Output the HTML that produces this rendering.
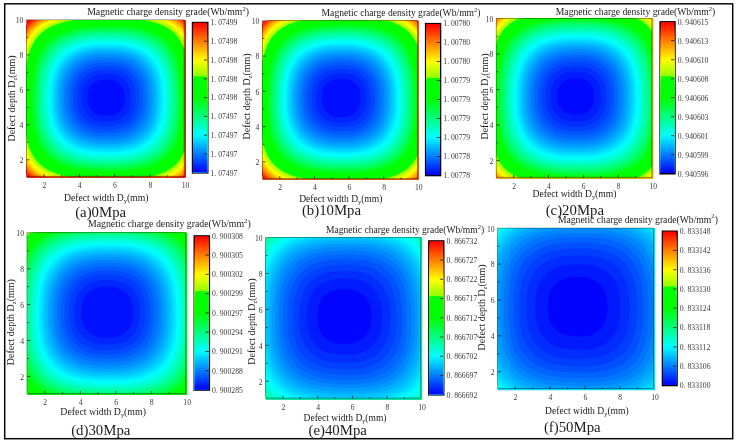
<!DOCTYPE html>
<html><head><meta charset="utf-8"><title>Magnetic charge density grade</title>
<style>html,body{margin:0;padding:0;background:#fff}svg{display:block;will-change:transform}text{font-family:'Liberation Serif','Noto Serif CJK SC',serif;fill:#1c1c1c}.t{fill:#3a3a3a}</style>
</head><body>
<svg width="738" height="444" viewBox="0 0 738 444">
<rect width="738" height="444" fill="#fff"/>
<defs>
<clipPath id="cpa"><rect x="26.40" y="19.90" width="158.80" height="157.40"/></clipPath>
<clipPath id="cpb"><rect x="262.40" y="20.80" width="156.00" height="158.70"/></clipPath>
<clipPath id="cpc"><rect x="496.30" y="18.50" width="156.60" height="159.80"/></clipPath>
<clipPath id="cpd"><rect x="27.00" y="232.80" width="159.80" height="161.60"/></clipPath>
<clipPath id="cpe"><rect x="265.70" y="237.50" width="156.00" height="161.70"/></clipPath>
<clipPath id="cpf"><rect x="497.70" y="228.20" width="157.00" height="161.40"/></clipPath>
</defs>
<rect x="4.7" y="3.8" width="728" height="434.9" fill="none" stroke="#0a0a0a" stroke-width="1.5"/>
<g clip-path="url(#cpa)">
<rect x="26.4" y="19.9" width="158.8" height="157.4" fill="#ff0300"/>
<g transform="translate(106.2,97.6)">
<path fill="#ff1500" d="M82.8,0 82.8,-4.5 82.8,-9 82.8,-13.6 82.8,-18.3 82.8,-23.1 82.8,-28 82.8,-33.1 82.8,-38.5 82.8,-44.2 82.8,-50.3 82.8,-56.8 82.8,-63.8 82.8,-71.5 79.4,-76.7 74.4,-80.5 68.2,-82.7 60.7,-82.7 53.8,-82.7 47.3,-82.7 41.2,-82.7 35.4,-82.7 29.9,-82.7 24.7,-82.7 19.5,-82.7 14.5,-82.7 9.6,-82.7 4.8,-82.7 0,-82.7 -4.8,-82.7 -9.6,-82.7 -14.5,-82.7 -19.5,-82.7 -24.7,-82.7 -29.9,-82.7 -35.4,-82.7 -41.2,-82.7 -47.3,-82.7 -53.8,-82.7 -60.7,-82.7 -67.4,-81.7 -72.7,-78.7 -77.4,-74.8 -81.4,-70.3 -82.8,-63.8 -82.8,-56.8 -82.8,-50.3 -82.8,-44.2 -82.8,-38.5 -82.8,-33.1 -82.8,-28 -82.8,-23.1 -82.8,-18.3 -82.8,-13.6 -82.8,-9 -82.8,-4.5 -82.8,0 -82.8,4.5 -82.8,9 -82.8,13.6 -82.8,18.3 -82.8,23.1 -82.8,28 -82.8,33.1 -82.8,38.5 -82.8,44.2 -82.8,50.3 -82.8,56.8 -82.8,63.8 -82.8,71.5 -79.6,77 -74.9,81 -68.2,82.7 -60.7,82.7 -53.8,82.7 -47.3,82.7 -41.2,82.7 -35.4,82.7 -29.9,82.7 -24.7,82.7 -19.5,82.7 -14.5,82.7 -9.6,82.7 -4.8,82.7 0,82.7 4.8,82.7 9.6,82.7 14.5,82.7 19.5,82.7 24.7,82.7 29.9,82.7 35.4,82.7 41.2,82.7 47.3,82.7 53.8,82.7 60.7,82.7 68.2,82.7 76.5,82.7 81.9,79.1 82.8,71.5 82.8,63.8 82.8,56.8 82.8,50.3 82.8,44.2 82.8,38.5 82.8,33.1 82.8,28 82.8,23.1 82.8,18.3 82.8,13.6 82.8,9 82.8,4.5Z"/>
<path fill="#ff2700" d="M82.8,0 82.8,-4.5 82.8,-9 82.8,-13.6 82.8,-18.3 82.8,-23.1 82.8,-28 82.8,-33.1 82.8,-38.5 82.8,-44.2 82.8,-50.3 82.8,-56.8 82.8,-63.8 82.8,-71.5 78.9,-76.2 74,-80 68.2,-82.7 60.7,-82.7 53.8,-82.7 47.3,-82.7 41.2,-82.7 35.4,-82.7 29.9,-82.7 24.7,-82.7 19.5,-82.7 14.5,-82.7 9.6,-82.7 4.8,-82.7 0,-82.7 -4.8,-82.7 -9.6,-82.7 -14.5,-82.7 -19.5,-82.7 -24.7,-82.7 -29.9,-82.7 -35.4,-82.7 -41.2,-82.7 -47.3,-82.7 -53.8,-82.7 -60.7,-82.7 -67,-81.2 -72.3,-78.1 -76.9,-74.3 -80.9,-69.8 -82.8,-63.8 -82.8,-56.8 -82.8,-50.3 -82.8,-44.2 -82.8,-38.5 -82.8,-33.1 -82.8,-28 -82.8,-23.1 -82.8,-18.3 -82.8,-13.6 -82.8,-9 -82.8,-4.5 -82.8,0 -82.8,4.5 -82.8,9 -82.8,13.6 -82.8,18.3 -82.8,23.1 -82.8,28 -82.8,33.1 -82.8,38.5 -82.8,44.2 -82.8,50.3 -82.8,56.8 -82.8,63.8 -82.8,71.5 -79.1,76.4 -74.4,80.4 -68.2,82.7 -60.7,82.7 -53.8,82.7 -47.3,82.7 -41.2,82.7 -35.4,82.7 -29.9,82.7 -24.7,82.7 -19.5,82.7 -14.5,82.7 -9.6,82.7 -4.8,82.7 0,82.7 4.8,82.7 9.6,82.7 14.5,82.7 19.5,82.7 24.7,82.7 29.9,82.7 35.4,82.7 41.2,82.7 47.3,82.7 53.8,82.7 60.7,82.7 68.2,82.7 76.3,82.6 81.3,78.6 82.8,71.5 82.8,63.8 82.8,56.8 82.8,50.3 82.8,44.2 82.8,38.5 82.8,33.1 82.8,28 82.8,23.1 82.8,18.3 82.8,13.6 82.8,9 82.8,4.5Z"/>
<path fill="#ff3900" d="M82.8,0 82.8,-4.5 82.8,-9 82.8,-13.6 82.8,-18.3 82.8,-23.1 82.8,-28 82.8,-33.1 82.8,-38.5 82.8,-44.2 82.8,-50.3 82.8,-56.8 82.8,-63.8 82.4,-71.2 78.3,-75.7 73.5,-79.4 68,-82.4 60.7,-82.7 53.8,-82.7 47.3,-82.7 41.2,-82.7 35.4,-82.7 29.9,-82.7 24.7,-82.7 19.5,-82.7 14.5,-82.7 9.6,-82.7 4.8,-82.7 0,-82.7 -4.8,-82.7 -9.6,-82.7 -14.5,-82.7 -19.5,-82.7 -24.7,-82.7 -29.9,-82.7 -35.4,-82.7 -41.2,-82.7 -47.3,-82.7 -53.8,-82.7 -60.7,-82.7 -66.6,-80.6 -71.8,-77.6 -76.4,-73.8 -80.3,-69.4 -82.8,-63.8 -82.8,-56.8 -82.8,-50.3 -82.8,-44.2 -82.8,-38.5 -82.8,-33.1 -82.8,-28 -82.8,-23.1 -82.8,-18.3 -82.8,-13.6 -82.8,-9 -82.8,-4.5 -82.8,0 -82.8,4.5 -82.8,9 -82.8,13.6 -82.8,18.3 -82.8,23.1 -82.8,28 -82.8,33.1 -82.8,38.5 -82.8,44.2 -82.8,50.3 -82.8,56.8 -82.8,63.8 -82.4,71.2 -78.6,75.9 -73.9,79.9 -68.2,82.7 -60.7,82.7 -53.8,82.7 -47.3,82.7 -41.2,82.7 -35.4,82.7 -29.9,82.7 -24.7,82.7 -19.5,82.7 -14.5,82.7 -9.6,82.7 -4.8,82.7 0,82.7 4.8,82.7 9.6,82.7 14.5,82.7 19.5,82.7 24.7,82.7 29.9,82.7 35.4,82.7 41.2,82.7 47.3,82.7 53.8,82.7 60.7,82.7 68.2,82.7 75.8,82 80.8,78.1 82.8,71.5 82.8,63.8 82.8,56.8 82.8,50.3 82.8,44.2 82.8,38.5 82.8,33.1 82.8,28 82.8,23.1 82.8,18.3 82.8,13.6 82.8,9 82.8,4.5Z"/>
<path fill="#ff4c00" d="M82.8,0 82.8,-4.7 82.8,-9.4 82.8,-14.1 82.8,-19 82.8,-24 82.8,-29.1 82.8,-34.5 82.8,-40.2 82.8,-46.2 82.8,-52.6 82.8,-59.6 82.8,-67.1 80,-72.9 75.4,-77.2 70,-80.6 63.7,-82.7 56.3,-82.7 49.4,-82.7 43,-82.7 36.9,-82.7 31.1,-82.7 25.6,-82.7 20.3,-82.7 15.1,-82.7 10,-82.7 5,-82.7 0,-82.7 -5,-82.7 -10,-82.7 -15.1,-82.7 -20.3,-82.7 -25.6,-82.7 -31.1,-82.7 -36.9,-82.7 -43,-82.7 -49.4,-82.7 -56.3,-82.7 -62.8,-81.6 -68.5,-78.8 -73.6,-75.4 -78,-71.1 -81.6,-66.2 -82.8,-59.6 -82.8,-52.6 -82.8,-46.2 -82.8,-40.2 -82.8,-34.5 -82.8,-29.1 -82.8,-24 -82.8,-19 -82.8,-14.1 -82.8,-9.4 -82.8,-4.7 -82.8,0 -82.8,4.7 -82.8,9.4 -82.8,14.1 -82.8,19 -82.8,24 -82.8,29.1 -82.8,34.5 -82.8,40.2 -82.8,46.2 -82.8,52.6 -82.8,59.6 -82.8,67.1 -80.1,73 -75.7,77.5 -70.5,81.2 -63.7,82.7 -56.3,82.7 -49.4,82.7 -43,82.7 -36.9,82.7 -31.1,82.7 -25.6,82.7 -20.3,82.7 -15.1,82.7 -10,82.7 -5,82.7 0,82.7 5,82.7 10,82.7 15.1,82.7 20.3,82.7 25.6,82.7 31.1,82.7 36.9,82.7 43,82.7 49.4,82.7 56.3,82.7 63.7,82.7 71.8,82.7 77.8,79.7 82.4,75.1 82.8,67.1 82.8,59.6 82.8,52.6 82.8,46.2 82.8,40.2 82.8,34.5 82.8,29.1 82.8,24 82.8,19 82.8,14.1 82.8,9.4 82.8,4.7Z"/>
<path fill="#ff5e00" d="M82.8,0 82.8,-4.7 82.8,-9.4 82.8,-14.1 82.8,-19 82.8,-24 82.8,-29.1 82.8,-34.5 82.8,-40.2 82.8,-46.2 82.8,-52.6 82.8,-59.6 82.8,-67.1 79.4,-72.4 74.8,-76.6 69.5,-80 63.6,-82.6 56.3,-82.7 49.4,-82.7 43,-82.7 36.9,-82.7 31.1,-82.7 25.6,-82.7 20.3,-82.7 15.1,-82.7 10,-82.7 5,-82.7 0,-82.7 -5,-82.7 -10,-82.7 -15.1,-82.7 -20.3,-82.7 -25.6,-82.7 -31.1,-82.7 -36.9,-82.7 -43,-82.7 -49.4,-82.7 -56.3,-82.7 -62.4,-81 -68,-78.3 -73,-74.8 -77.4,-70.6 -81,-65.7 -82.8,-59.6 -82.8,-52.6 -82.8,-46.2 -82.8,-40.2 -82.8,-34.5 -82.8,-29.1 -82.8,-24 -82.8,-19 -82.8,-14.1 -82.8,-9.4 -82.8,-4.7 -82.8,0 -82.8,4.7 -82.8,9.4 -82.8,14.1 -82.8,19 -82.8,24 -82.8,29.1 -82.8,34.5 -82.8,40.2 -82.8,46.2 -82.8,52.6 -82.8,59.6 -82.8,67.1 -79.5,72.5 -75.2,77 -70,80.6 -63.7,82.7 -56.3,82.7 -49.4,82.7 -43,82.7 -36.9,82.7 -31.1,82.7 -25.6,82.7 -20.3,82.7 -15.1,82.7 -10,82.7 -5,82.7 0,82.7 5,82.7 10,82.7 15.1,82.7 20.3,82.7 25.6,82.7 31.1,82.7 36.9,82.7 43,82.7 49.4,82.7 56.3,82.7 63.7,82.7 71.8,82.6 77.2,79.1 81.8,74.6 82.8,67.1 82.8,59.6 82.8,52.6 82.8,46.2 82.8,40.2 82.8,34.5 82.8,29.1 82.8,24 82.8,19 82.8,14.1 82.8,9.4 82.8,4.7Z"/>
<path fill="#ff7000" d="M82.8,0 82.8,-4.7 82.8,-9.4 82.8,-14.1 82.8,-19 82.8,-24 82.8,-29.1 82.8,-34.5 82.8,-40.2 82.8,-46.2 82.8,-52.6 82.8,-59.6 82.6,-67 78.9,-71.9 74.3,-76.1 69,-79.5 63.2,-82 56.3,-82.7 49.4,-82.7 43,-82.7 36.9,-82.7 31.1,-82.7 25.6,-82.7 20.3,-82.7 15.1,-82.7 10,-82.7 5,-82.7 0,-82.7 -5,-82.7 -10,-82.7 -15.1,-82.7 -20.3,-82.7 -25.6,-82.7 -31.1,-82.7 -36.9,-82.7 -43,-82.7 -49.4,-82.7 -56.2,-82.5 -62,-80.4 -67.5,-77.7 -72.5,-74.3 -76.9,-70.1 -80.4,-65.2 -82.8,-59.6 -82.8,-52.6 -82.8,-46.2 -82.8,-40.2 -82.8,-34.5 -82.8,-29.1 -82.8,-24 -82.8,-19 -82.8,-14.1 -82.8,-9.4 -82.8,-4.7 -82.8,0 -82.8,4.7 -82.8,9.4 -82.8,14.1 -82.8,19 -82.8,24 -82.8,29.1 -82.8,34.5 -82.8,40.2 -82.8,46.2 -82.8,52.6 -82.8,59.6 -82.4,66.9 -79,72 -74.6,76.4 -69.5,80.1 -63.7,82.7 -56.3,82.7 -49.4,82.7 -43,82.7 -36.9,82.7 -31.1,82.7 -25.6,82.7 -20.3,82.7 -15.1,82.7 -10,82.7 -5,82.7 0,82.7 5,82.7 10,82.7 15.1,82.7 20.3,82.7 25.6,82.7 31.1,82.7 36.9,82.7 43,82.7 49.4,82.7 56.3,82.7 63.7,82.7 71.2,82 76.6,78.5 81.2,74.1 82.8,67.1 82.8,59.6 82.8,52.6 82.8,46.2 82.8,40.2 82.8,34.5 82.8,29.1 82.8,24 82.8,19 82.8,14.1 82.8,9.4 82.8,4.7Z"/>
<path fill="#ff8200" d="M82.8,0 82.8,-4.7 82.8,-9.4 82.8,-14.1 82.8,-19 82.8,-24 82.8,-29.1 82.8,-34.5 82.8,-40.2 82.8,-46.2 82.8,-52.6 82.8,-59.6 82,-66.5 78.3,-71.4 73.7,-75.5 68.5,-78.9 62.7,-81.4 56.3,-82.7 49.4,-82.7 43,-82.7 36.9,-82.7 31.1,-82.7 25.6,-82.7 20.3,-82.7 15.1,-82.7 10,-82.7 5,-82.7 0,-82.7 -5,-82.7 -10,-82.7 -15.1,-82.7 -20.3,-82.7 -25.6,-82.7 -31.1,-82.7 -36.9,-82.7 -43,-82.7 -49.4,-82.7 -55.8,-82 -61.5,-79.9 -67,-77.1 -72,-73.7 -76.3,-69.6 -79.8,-64.7 -82.7,-59.5 -82.8,-52.6 -82.8,-46.2 -82.8,-40.2 -82.8,-34.5 -82.8,-29.1 -82.8,-24 -82.8,-19 -82.8,-14.1 -82.8,-9.4 -82.8,-4.7 -82.8,0 -82.8,4.7 -82.8,9.4 -82.8,14.1 -82.8,19 -82.8,24 -82.8,29.1 -82.8,34.5 -82.8,40.2 -82.8,46.2 -82.8,52.6 -82.8,59.6 -81.8,66.4 -78.4,71.4 -74.1,75.9 -69,79.5 -63.4,82.3 -56.3,82.7 -49.4,82.7 -43,82.7 -36.9,82.7 -31.1,82.7 -25.6,82.7 -20.3,82.7 -15.1,82.7 -10,82.7 -5,82.7 0,82.7 5,82.7 10,82.7 15.1,82.7 20.3,82.7 25.6,82.7 31.1,82.7 36.9,82.7 43,82.7 49.4,82.7 56.3,82.7 63.7,82.7 70.7,81.4 76.1,77.9 80.6,73.5 82.8,67.1 82.8,59.6 82.8,52.6 82.8,46.2 82.8,40.2 82.8,34.5 82.8,29.1 82.8,24 82.8,19 82.8,14.1 82.8,9.4 82.8,4.7Z"/>
<path fill="#ff9400" d="M82.8,0 82.8,-4.7 82.8,-9.4 82.8,-14.1 82.8,-19 82.8,-24 82.8,-29.1 82.8,-34.5 82.8,-40.2 82.8,-46.2 82.8,-52.6 82.8,-59.6 81.4,-66 77.7,-70.8 73.1,-74.9 68,-78.3 62.3,-80.8 56.3,-82.7 49.4,-82.7 43,-82.7 36.9,-82.7 31.1,-82.7 25.6,-82.7 20.3,-82.7 15.1,-82.7 10,-82.7 5,-82.7 0,-82.7 -5,-82.7 -10,-82.7 -15.1,-82.7 -20.3,-82.7 -25.6,-82.7 -31.1,-82.7 -36.9,-82.7 -43,-82.7 -49.4,-82.7 -55.4,-81.4 -61.1,-79.3 -66.5,-76.6 -71.4,-73.1 -75.7,-69 -79.2,-64.3 -82.1,-59 -82.8,-52.6 -82.8,-46.2 -82.8,-40.2 -82.8,-34.5 -82.8,-29.1 -82.8,-24 -82.8,-19 -82.8,-14.1 -82.8,-9.4 -82.8,-4.7 -82.8,0 -82.8,4.7 -82.8,9.4 -82.8,14.1 -82.8,19 -82.8,24 -82.8,29.1 -82.8,34.5 -82.8,40.2 -82.8,46.2 -82.8,52.6 -82.8,59.6 -81.2,65.9 -77.8,70.9 -73.5,75.3 -68.5,78.9 -62.9,81.7 -56.3,82.7 -49.4,82.7 -43,82.7 -36.9,82.7 -31.1,82.7 -25.6,82.7 -20.3,82.7 -15.1,82.7 -10,82.7 -5,82.7 0,82.7 5,82.7 10,82.7 15.1,82.7 20.3,82.7 25.6,82.7 31.1,82.7 36.9,82.7 43,82.7 49.4,82.7 56.3,82.7 63.7,82.7 70.2,80.8 75.5,77.3 80,72.9 82.8,67.1 82.8,59.6 82.8,52.6 82.8,46.2 82.8,40.2 82.8,34.5 82.8,29.1 82.8,24 82.8,19 82.8,14.1 82.8,9.4 82.8,4.7Z"/>
<path fill="#ffa700" d="M82.8,0 82.8,-4.7 82.8,-9.4 82.8,-14.1 82.8,-19 82.8,-24 82.8,-29.1 82.8,-34.5 82.8,-40.2 82.8,-46.2 82.8,-52.6 82.8,-59.6 80.7,-65.5 77,-70.2 72.6,-74.3 67.4,-77.6 61.8,-80.2 55.9,-82.2 49.4,-82.7 43,-82.7 36.9,-82.7 31.1,-82.7 25.6,-82.7 20.3,-82.7 15.1,-82.7 10,-82.7 5,-82.7 0,-82.7 -5,-82.7 -10,-82.7 -15.1,-82.7 -20.3,-82.7 -25.6,-82.7 -31.1,-82.7 -36.9,-82.7 -43,-82.7 -49.2,-82.4 -55,-80.8 -60.6,-78.7 -66,-76 -70.8,-72.6 -75.1,-68.5 -78.6,-63.8 -81.4,-58.6 -82.8,-52.6 -82.8,-46.2 -82.8,-40.2 -82.8,-34.5 -82.8,-29.1 -82.8,-24 -82.8,-19 -82.8,-14.1 -82.8,-9.4 -82.8,-4.7 -82.8,0 -82.8,4.7 -82.8,9.4 -82.8,14.1 -82.8,19 -82.8,24 -82.8,29.1 -82.8,34.5 -82.8,40.2 -82.8,46.2 -82.8,52.6 -82.8,59.6 -80.6,65.3 -77.1,70.3 -72.9,74.7 -67.9,78.2 -62.4,81 -56.3,82.7 -49.4,82.7 -43,82.7 -36.9,82.7 -31.1,82.7 -25.6,82.7 -20.3,82.7 -15.1,82.7 -10,82.7 -5,82.7 0,82.7 5,82.7 10,82.7 15.1,82.7 20.3,82.7 25.6,82.7 31.1,82.7 36.9,82.7 43,82.7 49.4,82.7 56.3,82.7 63.7,82.7 69.6,80.2 74.9,76.7 79.4,72.4 82.8,67.1 82.8,59.6 82.8,52.6 82.8,46.2 82.8,40.2 82.8,34.5 82.8,29.1 82.8,24 82.8,19 82.8,14.1 82.8,9.4 82.8,4.7Z"/>
<path fill="#ffb900" d="M82.8,0 82.8,-4.7 82.8,-9.4 82.8,-14.1 82.8,-19 82.8,-24 82.8,-29.1 82.8,-34.5 82.8,-40.2 82.8,-46.2 82.8,-52.6 82.8,-59.6 80.1,-64.9 76.4,-69.7 72,-73.7 66.9,-77 61.3,-79.6 55.5,-81.5 49.4,-82.7 43,-82.7 36.9,-82.7 31.1,-82.7 25.6,-82.7 20.3,-82.7 15.1,-82.7 10,-82.7 5,-82.7 0,-82.7 -5,-82.7 -10,-82.7 -15.1,-82.7 -20.3,-82.7 -25.6,-82.7 -31.1,-82.7 -36.9,-82.7 -43,-82.7 -48.8,-81.8 -54.5,-80.1 -60.1,-78 -65.4,-75.4 -70.3,-72 -74.5,-67.9 -78,-63.2 -80.8,-58.1 -82.8,-52.6 -82.8,-46.2 -82.8,-40.2 -82.8,-34.5 -82.8,-29.1 -82.8,-24 -82.8,-19 -82.8,-14.1 -82.8,-9.4 -82.8,-4.7 -82.8,0 -82.8,4.7 -82.8,9.4 -82.8,14.1 -82.8,19 -82.8,24 -82.8,29.1 -82.8,34.5 -82.8,40.2 -82.8,46.2 -82.8,52.6 -82.6,59.4 -79.9,64.8 -76.5,69.8 -72.3,74.1 -67.4,77.6 -61.9,80.4 -56.2,82.6 -49.4,82.7 -43,82.7 -36.9,82.7 -31.1,82.7 -25.6,82.7 -20.3,82.7 -15.1,82.7 -10,82.7 -5,82.7 0,82.7 5,82.7 10,82.7 15.1,82.7 20.3,82.7 25.6,82.7 31.1,82.7 36.9,82.7 43,82.7 49.4,82.7 56.3,82.7 63.3,82.2 69.1,79.5 74.3,76.1 78.7,71.8 82.3,66.7 82.8,59.6 82.8,52.6 82.8,46.2 82.8,40.2 82.8,34.5 82.8,29.1 82.8,24 82.8,19 82.8,14.1 82.8,9.4 82.8,4.7Z"/>
<path fill="#ffcb00" d="M82.8,0 82.8,-4.7 82.8,-9.4 82.8,-14.1 82.8,-19 82.8,-24 82.8,-29.1 82.8,-34.5 82.8,-40.2 82.8,-46.2 82.8,-52.6 82.3,-59.2 79.4,-64.4 75.8,-69.1 71.4,-73.1 66.3,-76.4 60.8,-79 55.1,-80.9 49.2,-82.4 43,-82.7 36.9,-82.7 31.1,-82.7 25.6,-82.7 20.3,-82.7 15.1,-82.7 10,-82.7 5,-82.7 0,-82.7 -5,-82.7 -10,-82.7 -15.1,-82.7 -20.3,-82.7 -25.6,-82.7 -31.1,-82.7 -36.9,-82.7 -42.8,-82.4 -48.5,-81.1 -54.1,-79.5 -59.6,-77.4 -64.9,-74.7 -69.7,-71.4 -73.9,-67.3 -77.3,-62.7 -80.1,-57.7 -82.3,-52.3 -82.8,-46.2 -82.8,-40.2 -82.8,-34.5 -82.8,-29.1 -82.8,-24 -82.8,-19 -82.8,-14.1 -82.8,-9.4 -82.8,-4.7 -82.8,0 -82.8,4.7 -82.8,9.4 -82.8,14.1 -82.8,19 -82.8,24 -82.8,29.1 -82.8,34.5 -82.8,40.2 -82.8,46.2 -82.8,52.6 -81.9,58.9 -79.3,64.3 -75.9,69.2 -71.7,73.4 -66.8,77 -61.4,79.8 -55.8,81.9 -49.4,82.7 -43,82.7 -36.9,82.7 -31.1,82.7 -25.6,82.7 -20.3,82.7 -15.1,82.7 -10,82.7 -5,82.7 0,82.7 5,82.7 10,82.7 15.1,82.7 20.3,82.7 25.6,82.7 31.1,82.7 36.9,82.7 43,82.7 49.4,82.7 56.3,82.7 62.8,81.5 68.5,78.9 73.6,75.4 78,71.1 81.6,66.2 82.8,59.6 82.8,52.6 82.8,46.2 82.8,40.2 82.8,34.5 82.8,29.1 82.8,24 82.8,19 82.8,14.1 82.8,9.4 82.8,4.7Z"/>
<path fill="#ffdd00" d="M82.8,0 82.8,-4.8 82.8,-9.7 82.8,-14.7 82.8,-19.7 82.8,-24.9 82.8,-30.3 82.8,-36 82.8,-42 82.8,-48.4 82.8,-55.2 80.5,-60.9 77.2,-66.1 73,-70.6 68.1,-74.3 62.7,-77.3 56.8,-79.6 50.8,-81.3 44.8,-82.5 38.5,-82.7 32.5,-82.7 26.7,-82.7 21.1,-82.7 15.7,-82.7 10.4,-82.7 5.2,-82.7 0,-82.7 -5.2,-82.7 -10.4,-82.7 -15.7,-82.7 -21.1,-82.7 -26.7,-82.7 -32.5,-82.7 -38.4,-82.4 -44.2,-81.4 -50,-80 -55.8,-78.1 -61.4,-75.7 -66.6,-72.6 -71.2,-68.8 -75.2,-64.4 -78.4,-59.3 -80.9,-54 -82.8,-48.4 -82.8,-42 -82.8,-36 -82.8,-30.3 -82.8,-24.9 -82.8,-19.7 -82.8,-14.7 -82.8,-9.7 -82.8,-4.8 -82.8,0 -82.8,4.8 -82.8,9.7 -82.8,14.7 -82.8,19.7 -82.8,24.9 -82.8,30.3 -82.8,36 -82.8,42 -82.8,48.4 -82.5,55.1 -80.2,60.7 -77.1,66 -73.2,70.8 -68.5,74.8 -63.2,78 -57.5,80.5 -51.5,82.4 -44.9,82.7 -38.5,82.7 -32.5,82.7 -26.7,82.7 -21.1,82.7 -15.7,82.7 -10.4,82.7 -5.2,82.7 0,82.7 5.2,82.7 10.4,82.7 15.7,82.7 21.1,82.7 26.7,82.7 32.5,82.7 38.5,82.7 44.9,82.7 51.7,82.7 58.7,82.2 64.7,79.8 70.3,76.7 75.3,72.7 79.4,67.9 82.6,62.5 82.8,55.2 82.8,48.4 82.8,42 82.8,36 82.8,30.3 82.8,24.9 82.8,19.7 82.8,14.7 82.8,9.7 82.8,4.8Z"/>
<path fill="#fff000" d="M82.8,0 82.8,-4.8 82.8,-9.7 82.8,-14.7 82.8,-19.7 82.8,-24.9 82.8,-30.3 82.8,-36 82.8,-42 82.8,-48.4 82.4,-54.9 79.8,-60.4 76.5,-65.5 72.4,-69.9 67.5,-73.7 62.1,-76.6 56.3,-78.9 50.4,-80.6 44.4,-81.8 38.5,-82.7 32.5,-82.7 26.7,-82.7 21.1,-82.7 15.7,-82.7 10.4,-82.7 5.2,-82.7 0,-82.7 -5.2,-82.7 -10.4,-82.7 -15.7,-82.7 -21.1,-82.7 -26.7,-82.7 -32.4,-82.6 -38.1,-81.8 -43.8,-80.7 -49.6,-79.3 -55.3,-77.5 -60.9,-75.1 -66,-72 -70.6,-68.2 -74.5,-63.8 -77.7,-58.8 -80.2,-53.5 -82.1,-48 -82.8,-42 -82.8,-36 -82.8,-30.3 -82.8,-24.9 -82.8,-19.7 -82.8,-14.7 -82.8,-9.7 -82.8,-4.8 -82.8,0 -82.8,4.8 -82.8,9.7 -82.8,14.7 -82.8,19.7 -82.8,24.9 -82.8,30.3 -82.8,36 -82.8,42 -82.8,48.4 -81.8,54.6 -79.5,60.2 -76.4,65.4 -72.6,70.1 -67.9,74.1 -62.7,77.3 -57,79.8 -51.1,81.7 -44.9,82.7 -38.5,82.7 -32.5,82.7 -26.7,82.7 -21.1,82.7 -15.7,82.7 -10.4,82.7 -5.2,82.7 0,82.7 5.2,82.7 10.4,82.7 15.7,82.7 21.1,82.7 26.7,82.7 32.5,82.7 38.5,82.7 44.9,82.7 51.7,82.7 58.2,81.5 64.1,79.1 69.7,76 74.6,72.1 78.7,67.3 81.8,62 82.8,55.2 82.8,48.4 82.8,42 82.8,36 82.8,30.3 82.8,24.9 82.8,19.7 82.8,14.7 82.8,9.7 82.8,4.8Z"/>
<path fill="#fcff00" d="M82.8,0 82.8,-4.8 82.8,-9.7 82.8,-14.7 82.8,-19.7 82.8,-24.9 82.8,-30.3 82.8,-36 82.8,-42 82.8,-48.4 81.7,-54.5 79.1,-59.9 75.8,-64.9 71.7,-69.3 66.9,-73 61.6,-75.9 55.9,-78.2 50,-79.9 44.1,-81.2 38.2,-82.1 32.5,-82.7 26.7,-82.7 21.1,-82.7 15.7,-82.7 10.4,-82.7 5.2,-82.7 0,-82.7 -5.2,-82.7 -10.4,-82.7 -15.7,-82.7 -21.1,-82.7 -26.6,-82.5 -32.2,-81.9 -37.8,-81.1 -43.5,-80.1 -49.2,-78.7 -54.9,-76.8 -60.3,-74.4 -65.4,-71.3 -70,-67.6 -73.8,-63.2 -77,-58.3 -79.5,-53 -81.4,-47.6 -82.8,-42 -82.8,-36 -82.8,-30.3 -82.8,-24.9 -82.8,-19.7 -82.8,-14.7 -82.8,-9.7 -82.8,-4.8 -82.8,0 -82.8,4.8 -82.8,9.7 -82.8,14.7 -82.8,19.7 -82.8,24.9 -82.8,30.3 -82.8,36 -82.8,42 -82.8,48.4 -81.1,54.1 -78.8,59.7 -75.7,64.8 -71.9,69.5 -67.3,73.4 -62.1,76.6 -56.5,79.1 -50.7,81 -44.8,82.5 -38.5,82.7 -32.5,82.7 -26.7,82.7 -21.1,82.7 -15.7,82.7 -10.4,82.7 -5.2,82.7 0,82.7 5.2,82.7 10.4,82.7 15.7,82.7 21.1,82.7 26.7,82.7 32.5,82.7 38.5,82.7 44.9,82.7 51.6,82.5 57.7,80.7 63.6,78.4 69.1,75.3 73.9,71.4 77.9,66.7 81.1,61.4 82.8,55.2 82.8,48.4 82.8,42 82.8,36 82.8,30.3 82.8,24.9 82.8,19.7 82.8,14.7 82.8,9.7 82.8,4.8Z"/>
<path fill="#eaff00" d="M82.8,0 82.8,-4.8 82.8,-9.7 82.8,-14.7 82.8,-19.7 82.8,-24.9 82.8,-30.3 82.8,-36 82.8,-42 82.8,-48.4 80.9,-54 78.3,-59.3 75.1,-64.3 71,-68.6 66.3,-72.3 61,-75.2 55.4,-77.5 49.5,-79.2 43.7,-80.5 37.9,-81.4 32.2,-82.1 26.6,-82.5 21.1,-82.7 15.7,-82.7 10.4,-82.7 5.2,-82.7 0,-82.7 -5.2,-82.7 -10.4,-82.7 -15.7,-82.6 -21,-82.3 -26.4,-81.9 -31.9,-81.3 -37.5,-80.5 -43.1,-79.4 -48.8,-78 -54.4,-76.1 -59.8,-73.7 -64.8,-70.7 -69.3,-67 -73.1,-62.6 -76.3,-57.8 -78.8,-52.6 -80.7,-47.2 -82.2,-41.7 -82.8,-36 -82.8,-30.3 -82.8,-24.9 -82.8,-19.7 -82.8,-14.7 -82.8,-9.7 -82.8,-4.8 -82.8,0 -82.8,4.8 -82.8,9.7 -82.8,14.7 -82.8,19.7 -82.8,24.9 -82.8,30.3 -82.8,36 -82.8,42 -82.2,48 -80.4,53.6 -78.1,59.1 -75,64.2 -71.2,68.8 -66.7,72.7 -61.5,75.9 -56,78.4 -50.2,80.3 -44.4,81.8 -38.5,82.7 -32.5,82.7 -26.7,82.7 -21.1,82.7 -15.7,82.7 -10.4,82.7 -5.2,82.7 0,82.7 5.2,82.7 10.4,82.7 15.7,82.7 21.1,82.7 26.7,82.7 32.5,82.7 38.5,82.7 44.9,82.7 51.1,81.8 57.2,80 63,77.7 68.4,74.6 73.2,70.7 77.2,66.1 80.4,60.8 82.8,55.2 82.8,48.4 82.8,42 82.8,36 82.8,30.3 82.8,24.9 82.8,19.7 82.8,14.7 82.8,9.7 82.8,4.8Z"/>
<path fill="#d8ff00" d="M82.8,0 82.8,-4.8 82.8,-9.7 82.8,-14.7 82.8,-19.7 82.8,-24.9 82.8,-30.3 82.8,-36 82.8,-42 82.2,-48 80.2,-53.5 77.6,-58.7 74.3,-63.6 70.3,-68 65.6,-71.6 60.4,-74.5 54.8,-76.8 49.1,-78.5 43.3,-79.8 37.6,-80.7 31.9,-81.4 26.4,-81.8 20.9,-82.1 15.6,-82.3 10.3,-82.4 5.2,-82.4 0,-82.3 -5.1,-82.2 -10.3,-82.1 -15.5,-81.9 -20.8,-81.6 -26.2,-81.2 -31.6,-80.6 -37.2,-79.8 -42.7,-78.7 -48.3,-77.3 -53.9,-75.4 -59.2,-73 -64.2,-70 -68.6,-66.3 -72.4,-62 -75.6,-57.2 -78.1,-52.1 -80,-46.7 -81.5,-41.3 -82.6,-35.9 -82.8,-30.3 -82.8,-24.9 -82.8,-19.7 -82.8,-14.7 -82.8,-9.7 -82.8,-4.8 -82.8,0 -82.8,4.8 -82.8,9.7 -82.8,14.7 -82.8,19.7 -82.8,24.9 -82.8,30.3 -82.8,36 -82.7,42 -81.4,47.6 -79.7,53.1 -77.3,58.5 -74.3,63.6 -70.5,68.1 -66,72 -61,75.2 -55.5,77.7 -49.8,79.6 -44,81.1 -38.3,82.2 -32.5,82.7 -26.7,82.7 -21.1,82.7 -15.7,82.7 -10.4,82.7 -5.2,82.7 0,82.7 5.2,82.7 10.4,82.7 15.7,82.7 21.1,82.7 26.7,82.7 32.5,82.7 38.5,82.7 44.7,82.3 50.7,81 56.6,79.3 62.4,76.9 67.7,73.9 72.5,70 76.4,65.4 79.6,60.3 82,54.7 82.8,48.4 82.8,42 82.8,36 82.8,30.3 82.8,24.9 82.8,19.7 82.8,14.7 82.8,9.7 82.8,4.8Z"/>
<path fill="#c6ff00" d="M82.8,0 82.8,-4.8 82.8,-9.7 82.8,-14.7 82.8,-19.7 82.8,-24.9 82.8,-30.3 82.8,-36 82.8,-42 81.4,-47.6 79.4,-53 76.8,-58.2 73.6,-63 69.6,-67.3 65,-70.9 59.8,-73.8 54.3,-76 48.6,-77.8 42.9,-79 37.3,-80 31.7,-80.7 26.2,-81.1 20.8,-81.4 15.5,-81.6 10.3,-81.7 5.1,-81.7 0,-81.6 -5.1,-81.5 -10.2,-81.4 -15.4,-81.2 -20.6,-80.9 -26,-80.5 -31.4,-79.9 -36.8,-79.1 -42.4,-78 -47.9,-76.6 -53.3,-74.7 -58.6,-72.3 -63.5,-69.3 -67.9,-65.6 -71.7,-61.4 -74.8,-56.7 -77.3,-51.6 -79.3,-46.3 -80.7,-41 -81.9,-35.6 -82.7,-30.3 -82.8,-24.9 -82.8,-19.7 -82.8,-14.7 -82.8,-9.7 -82.8,-4.8 -82.8,0 -82.8,4.8 -82.8,9.7 -82.8,14.7 -82.8,19.7 -82.8,24.9 -82.8,30.3 -82.8,36 -82,41.6 -80.7,47.1 -78.9,52.6 -76.6,58 -73.5,63 -69.8,67.5 -65.4,71.3 -60.4,74.5 -55,76.9 -49.3,78.9 -43.6,80.3 -37.9,81.4 -32.3,82.2 -26.7,82.7 -21.1,82.7 -15.7,82.7 -10.4,82.7 -5.2,82.7 0,82.7 5.2,82.7 10.4,82.7 15.7,82.7 21.1,82.7 26.7,82.7 32.5,82.7 38.4,82.5 44.3,81.6 50.2,80.3 56.1,78.5 61.8,76.2 67,73.1 71.7,69.3 75.7,64.8 78.8,59.7 81.2,54.2 82.8,48.4 82.8,42 82.8,36 82.8,30.3 82.8,24.9 82.8,19.7 82.8,14.7 82.8,9.7 82.8,4.8Z"/>
<path fill="#b3ff00" d="M82.8,0 82.8,-5 82.8,-10.1 82.8,-15.3 82.8,-20.5 82.8,-26 82.8,-31.7 82.8,-37.7 81.7,-43.4 80,-49 77.7,-54.5 74.7,-59.7 71,-64.4 66.6,-68.5 61.5,-71.8 56,-74.5 50.2,-76.5 44.3,-77.9 38.5,-79 32.7,-79.8 27,-80.3 21.4,-80.7 16,-80.9 10.6,-81 5.3,-81 0,-80.9 -5.3,-80.8 -10.5,-80.7 -15.9,-80.5 -21.3,-80.2 -26.8,-79.7 -32.4,-79 -38,-78.1 -43.7,-76.8 -49.4,-75.2 -54.9,-73.1 -60.2,-70.3 -65,-66.9 -69.3,-62.8 -72.8,-58.2 -75.6,-53.1 -77.9,-47.7 -79.6,-42.3 -80.8,-36.8 -81.8,-31.3 -82.5,-25.9 -82.8,-20.5 -82.8,-15.3 -82.8,-10.1 -82.8,-5 -82.8,0 -82.8,5 -82.8,10.1 -82.8,15.3 -82.8,20.5 -82.8,26 -82.7,31.7 -81.9,37.3 -80.8,42.9 -79.3,48.6 -77.2,54.2 -74.5,59.6 -71.1,64.5 -66.9,68.8 -62,72.4 -56.6,75.3 -50.9,77.5 -45,79.1 -39.1,80.4 -33.3,81.3 -27.6,82 -21.9,82.5 -16.3,82.7 -10.8,82.7 -5.4,82.7 0,82.7 5.4,82.7 10.8,82.7 16.3,82.7 22,82.7 27.8,82.7 33.7,82.3 39.7,81.5 45.7,80.4 51.8,78.9 57.8,76.9 63.5,74.2 68.6,70.6 73.1,66.3 76.7,61.3 79.5,55.8 81.6,50.1 82.8,44 82.8,37.7 82.8,31.7 82.8,26 82.8,20.5 82.8,15.3 82.8,10.1 82.8,5Z"/>
<path fill="#a1ff00" d="M82.8,0 82.8,-5 82.8,-10.1 82.8,-15.3 82.8,-20.5 82.8,-26 82.8,-31.7 82.2,-37.4 80.9,-43 79.1,-48.5 76.9,-54 73.9,-59.1 70.2,-63.7 65.9,-67.8 60.8,-71.1 55.4,-73.7 49.7,-75.7 43.9,-77.2 38.1,-78.3 32.4,-79 26.8,-79.6 21.2,-79.9 15.8,-80.1 10.5,-80.2 5.2,-80.2 0,-80.2 -5.2,-80.1 -10.5,-80 -15.7,-79.8 -21.1,-79.4 -26.5,-78.9 -32.1,-78.3 -37.7,-77.3 -43.3,-76.1 -48.9,-74.4 -54.4,-72.3 -59.6,-69.6 -64.3,-66.2 -68.5,-62.2 -72,-57.6 -74.8,-52.6 -77.1,-47.3 -78.8,-41.9 -80.1,-36.4 -81,-31 -81.8,-25.7 -82.3,-20.4 -82.6,-15.2 -82.8,-10.1 -82.8,-5 -82.8,0 -82.8,5 -82.8,10.1 -82.8,15.3 -82.8,20.5 -82.5,25.9 -82,31.4 -81.2,36.9 -80,42.5 -78.5,48.1 -76.4,53.7 -73.8,59 -70.3,63.8 -66.2,68.1 -61.3,71.6 -56,74.5 -50.4,76.7 -44.6,78.4 -38.8,79.6 -33,80.6 -27.3,81.3 -21.7,81.8 -16.2,82.1 -10.8,82.3 -5.4,82.5 0,82.5 5.4,82.6 10.8,82.6 16.3,82.5 21.9,82.3 27.6,82 33.4,81.5 39.3,80.7 45.3,79.6 51.3,78.1 57.2,76.1 62.8,73.4 67.9,69.9 72.3,65.6 75.9,60.7 78.7,55.2 80.8,49.5 82.3,43.7 82.8,37.7 82.8,31.7 82.8,26 82.8,20.5 82.8,15.3 82.8,10.1 82.8,5Z"/>
<path fill="#00ff00" d="M82.8,0 82.8,-5 82.8,-10.1 82.8,-15.3 82.8,-20.5 82.8,-26 82.4,-31.5 81.4,-37 80.1,-42.5 78.3,-48 76,-53.4 73.1,-58.4 69.5,-63 65.1,-67 60.2,-70.3 54.8,-72.9 49.2,-74.9 43.5,-76.4 37.7,-77.5 32.1,-78.3 26.5,-78.8 21,-79.2 15.7,-79.4 10.4,-79.5 5.2,-79.5 0,-79.4 -5.2,-79.4 -10.4,-79.2 -15.6,-79 -20.9,-78.7 -26.3,-78.2 -31.7,-77.5 -37.3,-76.6 -42.8,-75.3 -48.4,-73.7 -53.8,-71.5 -58.9,-68.8 -63.6,-65.5 -67.8,-61.5 -71.2,-57 -74,-52 -76.3,-46.8 -78,-41.4 -79.3,-36.1 -80.3,-30.7 -81,-25.4 -81.5,-20.2 -81.8,-15.1 -82.1,-10 -82.2,-5 -82.3,0 -82.4,5 -82.4,10.1 -82.3,15.2 -82.1,20.4 -81.7,25.7 -81.2,31.1 -80.4,36.5 -79.2,42.1 -77.7,47.6 -75.6,53.1 -72.9,58.3 -69.5,63.1 -65.4,67.3 -60.6,70.8 -55.4,73.7 -49.8,75.9 -44.1,77.6 -38.4,78.8 -32.7,79.8 -27.1,80.5 -21.5,81 -16.1,81.3 -10.7,81.6 -5.3,81.7 0,81.8 5.3,81.8 10.7,81.8 16.1,81.8 21.7,81.6 27.3,81.2 33.1,80.7 38.9,79.9 44.8,78.8 50.8,77.3 56.6,75.2 62.1,72.5 67.1,69.1 71.5,64.9 75,60 77.8,54.6 79.9,49 81.5,43.3 82.6,37.6 82.8,31.7 82.8,26 82.8,20.5 82.8,15.3 82.8,10.1 82.8,5Z"/>
<path fill="#00ff00" d="M82.8,0 82.8,-5 82.8,-10.1 82.8,-15.3 82.8,-20.5 82.3,-25.8 81.6,-31.2 80.6,-36.6 79.2,-42.1 77.5,-47.5 75.2,-52.8 72.3,-57.8 68.7,-62.3 64.4,-66.2 59.5,-69.5 54.2,-72.1 48.6,-74.1 43,-75.6 37.3,-76.7 31.7,-77.5 26.2,-78 20.8,-78.4 15.5,-78.6 10.3,-78.7 5.1,-78.7 0,-78.7 -5.1,-78.6 -10.3,-78.5 -15.4,-78.2 -20.7,-77.9 -26,-77.4 -31.4,-76.7 -36.9,-75.8 -42.4,-74.5 -47.9,-72.9 -53.2,-70.7 -58.3,-68 -62.9,-64.7 -67,-60.8 -70.4,-56.3 -73.2,-51.4 -75.4,-46.3 -77.2,-41 -78.5,-35.7 -79.4,-30.4 -80.2,-25.2 -80.7,-20 -81.1,-14.9 -81.3,-9.9 -81.4,-5 -81.5,0 -81.6,5 -81.6,10 -81.5,15 -81.3,20.2 -80.9,25.4 -80.3,30.7 -79.5,36.2 -78.4,41.6 -76.8,47.1 -74.8,52.5 -72.1,57.7 -68.7,62.4 -64.7,66.5 -60,70 -54.8,72.9 -49.3,75.1 -43.7,76.8 -38,78 -32.4,79 -26.8,79.7 -21.3,80.2 -15.9,80.5 -10.6,80.8 -5.3,80.9 0,81 5.3,81.1 10.6,81.1 16,81 21.5,80.8 27,80.4 32.7,79.9 38.5,79.1 44.4,78 50.2,76.5 55.9,74.4 61.4,71.7 66.4,68.3 70.7,64.1 74.2,59.3 77,54 79.1,48.5 80.6,42.8 81.8,37.2 82.6,31.6 82.8,26 82.8,20.5 82.8,15.3 82.8,10.1 82.8,5Z"/>
<path fill="#00ff00" d="M82.8,0 82.7,-5 82.6,-10.1 82.3,-15.2 82,-20.3 81.4,-25.6 80.7,-30.9 79.7,-36.2 78.4,-41.6 76.6,-47 74.3,-52.2 71.4,-57.1 67.8,-61.6 63.6,-65.5 58.8,-68.7 53.6,-71.3 48.1,-73.3 42.5,-74.8 36.9,-75.9 31.4,-76.7 26,-77.2 20.6,-77.6 15.4,-77.8 10.2,-77.9 5.1,-77.9 0,-77.9 -5.1,-77.8 -10.2,-77.7 -15.3,-77.5 -20.5,-77.1 -25.8,-76.6 -31.1,-75.9 -36.5,-75 -41.9,-73.7 -47.3,-72.1 -52.6,-69.9 -57.6,-67.3 -62.2,-64 -66.2,-60.1 -69.6,-55.6 -72.4,-50.8 -74.6,-45.8 -76.3,-40.5 -77.6,-35.3 -78.6,-30.1 -79.3,-24.9 -79.9,-19.8 -80.2,-14.8 -80.5,-9.8 -80.6,-4.9 -80.7,0 -80.8,4.9 -80.8,9.9 -80.7,14.9 -80.4,20 -80.1,25.1 -79.5,30.4 -78.7,35.8 -77.5,41.2 -76,46.6 -73.9,51.9 -71.3,57 -67.9,61.6 -63.9,65.7 -59.2,69.2 -54.1,72 -48.7,74.2 -43.2,75.9 -37.6,77.2 -32,78.2 -26.5,78.9 -21.1,79.4 -15.7,79.7 -10.5,80 -5.2,80.1 0,80.2 5.2,80.2 10.5,80.2 15.8,80.2 21.2,79.9 26.8,79.6 32.4,79 38.1,78.2 43.9,77.1 49.6,75.6 55.3,73.5 60.7,70.9 65.6,67.5 69.8,63.3 73.3,58.6 76.1,53.4 78.2,47.9 79.7,42.4 80.9,36.8 81.7,31.3 82.3,25.8 82.6,20.5 82.8,15.3 82.8,10.1 82.8,5Z"/>
<path fill="#00ff00" d="M82,0 81.9,-5 81.7,-10 81.5,-15 81.1,-20.1 80.6,-25.3 79.8,-30.5 78.8,-35.8 77.5,-41.2 75.7,-46.4 73.4,-51.6 70.5,-56.4 67,-60.8 62.8,-64.6 58.1,-67.8 52.9,-70.4 47.5,-72.4 42,-73.9 36.5,-75 31.1,-75.8 25.7,-76.4 20.4,-76.8 15.2,-77 10.1,-77.1 5,-77.1 0,-77.1 -5,-77 -10,-76.9 -15.1,-76.6 -20.3,-76.3 -25.5,-75.8 -30.8,-75.1 -36.1,-74.1 -41.5,-72.9 -46.8,-71.2 -52,-69.1 -56.9,-66.4 -61.4,-63.2 -65.4,-59.3 -68.8,-55 -71.5,-50.2 -73.7,-45.2 -75.5,-40.1 -76.8,-34.9 -77.8,-29.8 -78.5,-24.6 -79,-19.6 -79.4,-14.6 -79.6,-9.7 -79.8,-4.9 -79.9,0 -79.9,4.9 -79.9,9.8 -79.8,14.7 -79.6,19.7 -79.2,24.9 -78.6,30.1 -77.8,35.4 -76.7,40.7 -75.1,46.1 -73,51.3 -70.4,56.3 -67.1,60.9 -63.1,64.9 -58.5,68.4 -53.5,71.1 -48.2,73.3 -42.7,75 -37.2,76.3 -31.7,77.3 -26.2,78 -20.9,78.5 -15.6,78.9 -10.3,79.1 -5.2,79.3 0,79.3 5.2,79.4 10.4,79.4 15.7,79.3 21,79.1 26.5,78.7 32,78.2 37.7,77.4 43.4,76.2 49.1,74.7 54.6,72.7 59.9,70 64.7,66.6 68.9,62.5 72.4,57.9 75.1,52.8 77.3,47.4 78.8,41.9 80,36.4 80.8,30.9 81.4,25.6 81.8,20.3 82,15.1 82.1,10 82,5Z"/>
<path fill="#00ff00" d="M81.1,0 81,-5.1 80.8,-10.3 80.6,-15.5 80.1,-20.8 79.5,-26.1 78.7,-31.5 77.5,-37 76,-42.4 74,-47.8 71.4,-52.9 68.1,-57.7 64.2,-62 59.5,-65.6 54.4,-68.5 49,-70.8 43.4,-72.6 37.7,-73.9 32.1,-74.8 26.5,-75.5 21,-75.9 15.7,-76.1 10.4,-76.3 5.2,-76.3 0,-76.2 -5.2,-76.2 -10.4,-76 -15.6,-75.8 -20.9,-75.4 -26.3,-74.8 -31.7,-74 -37.2,-72.9 -42.7,-71.5 -48.1,-69.6 -53.4,-67.2 -58.3,-64.2 -62.7,-60.5 -66.4,-56.3 -69.6,-51.6 -72.1,-46.5 -74,-41.3 -75.5,-36 -76.7,-30.7 -77.5,-25.4 -78.1,-20.2 -78.5,-15.1 -78.8,-10 -78.9,-5 -79,0 -79.1,5 -79,10.1 -78.9,15.2 -78.7,20.4 -78.2,25.7 -77.6,31 -76.6,36.5 -75.3,42 -73.5,47.4 -71.1,52.7 -68.1,57.7 -64.3,62.2 -59.9,66 -54.9,69.2 -49.6,71.7 -44,73.6 -38.3,75.1 -32.7,76.2 -27.1,77 -21.5,77.6 -16.1,78 -10.7,78.2 -5.3,78.4 0,78.5 5.3,78.5 10.7,78.5 16.1,78.4 21.7,78.2 27.3,77.8 33.1,77.1 38.9,76.2 44.7,74.9 50.5,73.1 56.1,70.7 61.4,67.6 66,63.8 70,59.3 73.1,54.2 75.6,48.8 77.4,43.2 78.8,37.5 79.7,31.9 80.4,26.4 80.8,20.9 81,15.6 81.2,10.3 81.2,5.1Z"/>
<path fill="#00ff00" d="M80.2,0 80.1,-5.1 79.9,-10.2 79.6,-15.3 79.2,-20.5 78.6,-25.8 77.8,-31.1 76.6,-36.5 75.1,-41.9 73.1,-47.2 70.5,-52.3 67.2,-57 63.3,-61.2 58.8,-64.7 53.7,-67.7 48.4,-69.9 42.8,-71.7 37.2,-73 31.7,-73.9 26.2,-74.6 20.8,-75 15.5,-75.3 10.3,-75.4 5.1,-75.4 0,-75.4 -5.1,-75.3 -10.2,-75.2 -15.4,-74.9 -20.7,-74.5 -26,-73.9 -31.4,-73.1 -36.8,-72.1 -42.2,-70.6 -47.5,-68.8 -52.7,-66.4 -57.5,-63.4 -61.8,-59.8 -65.6,-55.6 -68.7,-50.9 -71.2,-46 -73.1,-40.8 -74.6,-35.6 -75.8,-30.3 -76.6,-25.1 -77.2,-20 -77.6,-14.9 -77.9,-9.9 -78,-4.9 -78.1,0 -78.2,5 -78.1,9.9 -78,15 -77.8,20.1 -77.3,25.4 -76.6,30.7 -75.7,36.1 -74.3,41.5 -72.5,46.8 -70.2,52 -67.2,56.9 -63.5,61.3 -59.1,65.1 -54.2,68.3 -48.9,70.8 -43.4,72.7 -37.9,74.2 -32.3,75.3 -26.7,76.1 -21.3,76.7 -15.9,77.1 -10.5,77.4 -5.3,77.5 0,77.6 5.3,77.7 10.6,77.6 16,77.5 21.4,77.3 27,76.8 32.7,76.2 38.4,75.3 44.2,73.9 49.9,72.2 55.4,69.8 60.6,66.7 65.1,63 69,58.5 72.2,53.5 74.6,48.2 76.5,42.7 77.8,37.1 78.8,31.5 79.4,26.1 79.9,20.7 80.1,15.4 80.2,10.2 80.2,5.1Z"/>
<path fill="#00ff00" d="M79.2,0 79.1,-5 79,-10 78.7,-15.1 78.3,-20.3 77.6,-25.5 76.8,-30.7 75.6,-36 74.1,-41.3 72.1,-46.5 69.5,-51.5 66.3,-56.2 62.4,-60.3 57.9,-63.9 53,-66.7 47.7,-69 42.3,-70.8 36.8,-72.1 31.3,-73 25.9,-73.7 20.5,-74.1 15.3,-74.4 10.2,-74.5 5.1,-74.5 0,-74.5 -5,-74.4 -10.1,-74.3 -15.2,-74 -20.4,-73.6 -25.7,-73 -31,-72.2 -36.3,-71.2 -41.7,-69.7 -46.9,-67.8 -52,-65.5 -56.7,-62.5 -61,-58.9 -64.7,-54.8 -67.8,-50.2 -70.2,-45.4 -72.2,-40.3 -73.7,-35.1 -74.8,-30 -75.7,-24.8 -76.3,-19.7 -76.7,-14.7 -76.9,-9.8 -77.1,-4.9 -77.2,0 -77.2,4.9 -77.2,9.8 -77.1,14.8 -76.8,19.9 -76.4,25.1 -75.7,30.3 -74.7,35.6 -73.4,40.9 -71.6,46.2 -69.2,51.3 -66.2,56.1 -62.6,60.5 -58.3,64.2 -53.5,67.4 -48.3,69.8 -42.9,71.8 -37.4,73.3 -31.9,74.4 -26.4,75.2 -21,75.8 -15.7,76.2 -10.4,76.4 -5.2,76.6 0,76.7 5.2,76.7 10.5,76.7 15.8,76.6 21.2,76.3 26.7,75.9 32.3,75.3 37.9,74.3 43.6,73 49.2,71.2 54.6,68.8 59.7,65.8 64.2,62.1 68.1,57.7 71.2,52.8 73.6,47.5 75.5,42.1 76.8,36.6 77.8,31.1 78.5,25.7 78.9,20.4 79.2,15.2 79.3,10.1 79.3,5Z"/>
<path fill="#00ff00" d="M78.3,0 78.2,-5 78,-9.9 77.7,-14.9 77.3,-20 76.7,-25.1 75.8,-30.3 74.6,-35.6 73.1,-40.8 71.1,-45.9 68.5,-50.8 65.3,-55.4 61.5,-59.5 57.1,-62.9 52.2,-65.8 47.1,-68.1 41.7,-69.8 36.3,-71.1 30.9,-72.1 25.5,-72.7 20.3,-73.2 15.1,-73.5 10,-73.6 5,-73.6 0,-73.6 -5,-73.5 -10,-73.4 -15,-73.1 -20.2,-72.7 -25.3,-72.1 -30.6,-71.3 -35.8,-70.2 -41.1,-68.8 -46.3,-66.9 -51.3,-64.5 -55.9,-61.6 -60.1,-58.1 -63.8,-54 -66.8,-49.5 -69.3,-44.7 -71.2,-39.7 -72.7,-34.7 -73.9,-29.6 -74.7,-24.5 -75.3,-19.5 -75.7,-14.6 -76,-9.7 -76.2,-4.8 -76.2,0 -76.3,4.8 -76.3,9.7 -76.1,14.6 -75.9,19.6 -75.4,24.7 -74.7,29.9 -73.7,35.1 -72.4,40.4 -70.6,45.6 -68.3,50.6 -65.3,55.3 -61.7,59.6 -57.5,63.3 -52.7,66.4 -47.6,68.9 -42.3,70.8 -36.9,72.3 -31.5,73.4 -26.1,74.2 -20.7,74.8 -15.5,75.2 -10.3,75.5 -5.1,75.7 0,75.7 5.1,75.8 10.3,75.8 15.6,75.6 20.9,75.4 26.3,74.9 31.8,74.3 37.4,73.3 43,72 48.5,70.2 53.9,67.8 58.8,64.8 63.3,61.2 67.1,56.9 70.2,52 72.6,46.9 74.4,41.5 75.8,36.1 76.8,30.7 77.5,25.4 77.9,20.2 78.2,15 78.3,10 78.3,5Z"/>
<path fill="#00ff03" d="M77.2,0 77.1,-4.9 77,-9.8 76.7,-14.7 76.3,-19.7 75.6,-24.8 74.8,-29.9 73.6,-35.1 72.1,-40.2 70.1,-45.2 67.5,-50.1 64.4,-54.6 60.6,-58.6 56.3,-62 51.5,-64.8 46.4,-67.1 41.1,-68.8 35.8,-70.1 30.5,-71.1 25.2,-71.8 20,-72.2 14.9,-72.5 9.9,-72.6 4.9,-72.7 0,-72.6 -4.9,-72.6 -9.9,-72.4 -14.9,-72.1 -19.9,-71.7 -25,-71.2 -30.2,-70.4 -35.3,-69.3 -40.5,-67.8 -45.6,-66 -50.5,-63.6 -55.1,-60.7 -59.2,-57.2 -62.8,-53.2 -65.8,-48.8 -68.3,-44.1 -70.2,-39.2 -71.7,-34.2 -72.9,-29.2 -73.7,-24.2 -74.3,-19.2 -74.7,-14.4 -75,-9.5 -75.2,-4.8 -75.3,0 -75.3,4.8 -75.3,9.6 -75.2,14.4 -74.9,19.4 -74.4,24.4 -73.7,29.5 -72.7,34.7 -71.4,39.8 -69.6,44.9 -67.3,49.9 -64.3,54.5 -60.8,58.7 -56.6,62.4 -51.9,65.4 -46.9,67.9 -41.7,69.8 -36.4,71.3 -31,72.4 -25.7,73.3 -20.5,73.8 -15.3,74.3 -10.2,74.5 -5.1,74.7 0,74.8 5.1,74.8 10.2,74.8 15.4,74.7 20.6,74.4 26,73.9 31.4,73.3 36.9,72.3 42.4,71 47.8,69.2 53.1,66.8 57.9,63.9 62.3,60.2 66.1,56 69.1,51.3 71.5,46.2 73.4,40.9 74.8,35.6 75.7,30.3 76.4,25.1 76.9,19.9 77.2,14.8 77.3,9.8 77.3,4.9Z"/>
<path fill="#00ff15" d="M76.2,0 76.1,-5 75.9,-10.1 75.6,-15.2 75.1,-20.3 74.4,-25.6 73.4,-30.8 72.1,-36.1 70.4,-41.4 68.1,-46.4 65.2,-51.3 61.7,-55.7 57.5,-59.5 52.8,-62.7 47.7,-65.3 42.3,-67.3 36.9,-68.8 31.4,-69.9 26,-70.7 20.6,-71.2 15.4,-71.5 10.2,-71.7 5.1,-71.7 0,-71.7 -5.1,-71.6 -10.2,-71.4 -15.3,-71.1 -20.5,-70.7 -25.8,-70 -31.1,-69.1 -36.4,-67.9 -41.7,-66.2 -46.8,-64.1 -51.7,-61.5 -56.2,-58.2 -60.2,-54.4 -63.6,-50 -66.4,-45.3 -68.6,-40.3 -70.3,-35.2 -71.6,-30 -72.5,-24.9 -73.2,-19.8 -73.7,-14.8 -74,-9.8 -74.2,-4.9 -74.2,0 -74.3,4.9 -74.3,9.9 -74.1,14.9 -73.8,20 -73.2,25.2 -72.5,30.4 -71.3,35.7 -69.8,41 -67.7,46.2 -65,51.1 -61.7,55.7 -57.7,59.7 -53.2,63.2 -48.2,66 -42.9,68.2 -37.5,69.9 -32,71.1 -26.5,72.1 -21.1,72.7 -15.7,73.2 -10.5,73.5 -5.2,73.7 0,73.8 5.2,73.8 10.5,73.8 15.8,73.6 21.3,73.3 26.8,72.8 32.4,72 38,70.9 43.6,69.3 49.1,67.3 54.4,64.6 59.2,61.2 63.3,57.2 66.8,52.5 69.6,47.5 71.7,42.1 73.3,36.7 74.4,31.2 75.2,25.8 75.8,20.5 76.1,15.3 76.2,10.1 76.3,5Z"/>
<path fill="#00ff27" d="M75.1,0 75,-5 74.8,-9.9 74.5,-15 74,-20 73.3,-25.2 72.4,-30.4 71,-35.6 69.3,-40.7 67,-45.7 64.2,-50.4 60.7,-54.7 56.6,-58.5 51.9,-61.7 46.9,-64.2 41.7,-66.2 36.3,-67.7 30.9,-68.8 25.6,-69.6 20.3,-70.2 15.2,-70.5 10,-70.6 5,-70.7 0,-70.6 -5,-70.6 -10,-70.4 -15.1,-70.1 -20.2,-69.7 -25.4,-69 -30.6,-68.1 -35.9,-66.9 -41,-65.2 -46.1,-63.1 -50.9,-60.5 -55.3,-57.3 -59.3,-53.5 -62.6,-49.2 -65.4,-44.6 -67.5,-39.7 -69.2,-34.7 -70.5,-29.6 -71.5,-24.5 -72.2,-19.5 -72.6,-14.6 -72.9,-9.7 -73.1,-4.8 -73.2,0 -73.2,4.8 -73.2,9.7 -73,14.7 -72.7,19.7 -72.2,24.8 -71.4,30 -70.2,35.2 -68.7,40.4 -66.6,45.5 -64,50.3 -60.7,54.8 -56.8,58.8 -52.3,62.2 -47.4,64.9 -42.2,67.1 -36.9,68.8 -31.5,70.1 -26.1,71 -20.8,71.7 -15.5,72.1 -10.3,72.4 -5.1,72.6 0,72.7 5.1,72.8 10.3,72.7 15.6,72.6 20.9,72.2 26.4,71.7 31.9,70.9 37.4,69.8 43,68.3 48.4,66.2 53.5,63.5 58.2,60.2 62.3,56.2 65.7,51.7 68.5,46.7 70.6,41.5 72.2,36.1 73.3,30.8 74.1,25.5 74.7,20.2 75,15.1 75.1,10 75.2,5Z"/>
<path fill="#00ff39" d="M74,0 73.9,-4.9 73.7,-9.8 73.4,-14.7 72.9,-19.7 72.2,-24.8 71.2,-29.9 69.9,-35 68.2,-40.1 65.9,-45 63.1,-49.6 59.6,-53.8 55.6,-57.5 51.1,-60.7 46.1,-63.2 41,-65.2 35.7,-66.7 30.5,-67.8 25.2,-68.6 20,-69.1 14.9,-69.4 9.9,-69.6 4.9,-69.6 0,-69.6 -4.9,-69.5 -9.9,-69.4 -14.9,-69.1 -19.9,-68.6 -25,-68 -30.1,-67 -35.3,-65.8 -40.4,-64.2 -45.4,-62.1 -50.1,-59.5 -54.4,-56.3 -58.3,-52.6 -61.6,-48.4 -64.3,-43.8 -66.5,-39.1 -68.1,-34.1 -69.4,-29.1 -70.4,-24.2 -71.1,-19.2 -71.5,-14.4 -71.9,-9.5 -72,-4.8 -72.1,0 -72.2,4.8 -72.1,9.6 -72,14.5 -71.6,19.4 -71.1,24.4 -70.3,29.5 -69.1,34.6 -67.6,39.7 -65.5,44.7 -62.9,49.5 -59.7,53.9 -55.8,57.8 -51.4,61.1 -46.6,63.8 -41.5,66 -36.3,67.7 -31,69 -25.7,69.9 -20.5,70.6 -15.3,71.1 -10.1,71.4 -5.1,71.5 0,71.6 5.1,71.7 10.2,71.6 15.4,71.5 20.6,71.1 26,70.6 31.4,69.8 36.8,68.7 42.2,67.1 47.5,65.1 52.6,62.4 57.2,59.2 61.2,55.2 64.6,50.8 67.3,45.9 69.4,40.8 71,35.6 72.2,30.3 73,25.1 73.5,19.9 73.9,14.8 74,9.8 74.1,4.9Z"/>
<path fill="#00ff4c" d="M72.8,0 72.7,-4.8 72.6,-9.6 72.2,-14.5 71.8,-19.4 71,-24.4 70.1,-29.4 68.7,-34.4 67,-39.4 64.8,-44.2 62,-48.7 58.6,-52.9 54.6,-56.5 50.2,-59.6 45.3,-62.1 40.3,-64.1 35.1,-65.6 30,-66.7 24.8,-67.5 19.7,-68 14.7,-68.3 9.7,-68.5 4.9,-68.6 0,-68.5 -4.8,-68.4 -9.7,-68.3 -14.6,-68 -19.6,-67.5 -24.6,-66.9 -29.6,-66 -34.7,-64.7 -39.7,-63.1 -44.6,-61 -49.2,-58.4 -53.5,-55.3 -57.3,-51.7 -60.5,-47.6 -63.2,-43.1 -65.3,-38.4 -67,-33.6 -68.3,-28.7 -69.3,-23.8 -70,-18.9 -70.4,-14.1 -70.7,-9.4 -70.9,-4.7 -71,0 -71,4.7 -71,9.4 -70.8,14.2 -70.5,19.1 -69.9,24 -69.1,29 -68,34 -66.4,39 -64.4,43.9 -61.8,48.6 -58.6,52.9 -54.8,56.7 -50.5,60 -45.8,62.7 -40.8,64.9 -35.7,66.6 -30.5,67.9 -25.3,68.8 -20.1,69.5 -15,69.9 -10,70.2 -5,70.4 0,70.5 5,70.5 10,70.5 15.1,70.3 20.3,70 25.5,69.5 30.9,68.7 36.2,67.5 41.5,66 46.7,63.9 51.6,61.3 56.1,58.1 60.1,54.2 63.4,49.9 66.1,45.1 68.2,40.1 69.8,35 71,29.8 71.8,24.7 72.4,19.6 72.7,14.6 72.9,9.7 72.9,4.8Z"/>
<path fill="#00ff5e" d="M71.6,0 71.5,-4.9 71.3,-9.9 71,-14.9 70.4,-20 69.6,-25.1 68.5,-30.2 67,-35.4 65,-40.4 62.5,-45.2 59.4,-49.7 55.6,-53.7 51.3,-57.2 46.5,-60 41.4,-62.3 36.2,-64 30.8,-65.3 25.5,-66.2 20.3,-66.8 15.1,-67.2 10,-67.4 5,-67.4 0,-67.4 -5,-67.3 -10,-67.1 -15,-66.8 -20.1,-66.3 -25.3,-65.6 -30.5,-64.5 -35.7,-63.1 -40.8,-61.3 -45.7,-59 -50.3,-56.1 -54.4,-52.6 -58,-48.6 -61,-44.1 -63.5,-39.4 -65.4,-34.5 -66.8,-29.5 -67.9,-24.5 -68.7,-19.5 -69.2,-14.5 -69.5,-9.7 -69.7,-4.8 -69.8,0 -69.9,4.8 -69.8,9.7 -69.6,14.6 -69.2,19.6 -68.6,24.7 -67.7,29.9 -66.3,35 -64.6,40.1 -62.2,45 -59.3,49.7 -55.7,53.9 -51.6,57.5 -46.9,60.6 -41.9,63 -36.7,64.9 -31.4,66.4 -26,67.4 -20.7,68.2 -15.5,68.7 -10.3,69.1 -5.1,69.2 0,69.3 5.1,69.4 10.3,69.3 15.6,69.1 20.9,68.7 26.3,68.1 31.8,67.2 37.2,65.9 42.6,64.1 47.9,61.8 52.7,58.8 57.1,55.2 60.8,50.9 63.9,46.2 66.3,41.2 68.1,36 69.5,30.7 70.4,25.4 71.1,20.2 71.4,15 71.6,10 71.7,5Z"/>
<path fill="#00ff70" d="M70.4,0 70.3,-4.9 70.1,-9.7 69.7,-14.7 69.2,-19.6 68.4,-24.7 67.3,-29.7 65.8,-34.7 63.8,-39.6 61.3,-44.4 58.2,-48.7 54.5,-52.7 50.3,-56.1 45.6,-58.9 40.6,-61.1 35.5,-62.8 30.3,-64.1 25.1,-65 19.9,-65.6 14.9,-66 9.8,-66.2 4.9,-66.3 0,-66.2 -4.9,-66.2 -9.8,-66 -14.8,-65.7 -19.8,-65.1 -24.9,-64.4 -29.9,-63.4 -35,-62 -40,-60.2 -44.8,-57.8 -49.3,-55 -53.4,-51.6 -56.9,-47.6 -59.9,-43.3 -62.3,-38.7 -64.2,-33.9 -65.6,-29 -66.7,-24 -67.5,-19.1 -68,-14.3 -68.3,-9.5 -68.5,-4.7 -68.6,0 -68.7,4.7 -68.6,9.5 -68.4,14.4 -68,19.3 -67.4,24.3 -66.4,29.3 -65.1,34.4 -63.4,39.3 -61.1,44.2 -58.2,48.7 -54.6,52.8 -50.6,56.4 -46,59.4 -41.1,61.8 -36,63.7 -30.8,65.2 -25.6,66.2 -20.4,67 -15.2,67.5 -10.1,67.8 -5,68 0,68.1 5,68.2 10.1,68.1 15.3,67.9 20.5,67.5 25.8,66.9 31.2,66 36.5,64.7 41.8,62.9 46.9,60.6 51.7,57.6 56,54.1 59.6,49.9 62.6,45.3 65,40.4 66.9,35.3 68.2,30.1 69.2,24.9 69.8,19.8 70.2,14.8 70.4,9.8 70.4,4.9Z"/>
<path fill="#00ff82" d="M69.1,0 69,-4.8 68.8,-9.6 68.4,-14.4 67.9,-19.3 67.1,-24.2 66,-29.1 64.5,-34 62.5,-38.8 60.1,-43.5 57,-47.7 53.4,-51.6 49.2,-54.9 44.7,-57.7 39.8,-59.9 34.8,-61.6 29.7,-62.8 24.6,-63.8 19.6,-64.4 14.6,-64.8 9.7,-65 4.8,-65.1 0,-65 -4.8,-64.9 -9.6,-64.8 -14.5,-64.4 -19.4,-63.9 -24.4,-63.2 -29.4,-62.2 -34.3,-60.8 -39.2,-59 -43.9,-56.7 -48.3,-53.9 -52.3,-50.5 -55.7,-46.7 -58.7,-42.4 -61,-37.9 -62.9,-33.2 -64.4,-28.4 -65.4,-23.6 -66.2,-18.8 -66.8,-14 -67.1,-9.3 -67.3,-4.7 -67.4,0 -67.4,4.7 -67.4,9.4 -67.1,14.1 -66.7,18.9 -66.1,23.8 -65.2,28.8 -63.9,33.7 -62.1,38.6 -59.8,43.3 -57,47.7 -53.5,51.7 -49.5,55.2 -45.1,58.2 -40.3,60.6 -35.3,62.5 -30.2,63.9 -25.1,65 -20,65.7 -14.9,66.3 -9.9,66.6 -4.9,66.8 0,66.9 5,66.9 9.9,66.8 15,66.6 20.1,66.3 25.3,65.6 30.6,64.7 35.8,63.4 41,61.6 45.9,59.3 50.6,56.4 54.8,52.9 58.4,48.9 61.4,44.4 63.7,39.6 65.5,34.6 66.9,29.5 67.8,24.5 68.5,19.4 68.9,14.5 69.1,9.6 69.1,4.8Z"/>
<path fill="#00ff94" d="M67.7,0 67.6,-4.9 67.4,-9.8 67,-14.8 66.4,-19.8 65.5,-24.8 64.3,-29.9 62.6,-34.9 60.4,-39.8 57.6,-44.4 54.2,-48.6 50.2,-52.2 45.7,-55.4 40.8,-57.9 35.7,-59.8 30.5,-61.3 25.3,-62.3 20.1,-63 15,-63.5 9.9,-63.7 4.9,-63.8 0,-63.8 -4.9,-63.7 -9.9,-63.5 -14.9,-63.1 -20,-62.6 -25.1,-61.7 -30.2,-60.6 -35.2,-59 -40.2,-56.9 -44.9,-54.4 -49.2,-51.2 -53,-47.5 -56.3,-43.4 -58.9,-38.8 -61.1,-34.1 -62.7,-29.2 -63.9,-24.2 -64.8,-19.3 -65.4,-14.4 -65.8,-9.6 -66,-4.8 -66.1,0 -66.1,4.8 -66,9.6 -65.8,14.5 -65.3,19.5 -64.6,24.5 -63.5,29.6 -62,34.6 -60,39.5 -57.4,44.2 -54.2,48.6 -50.4,52.5 -46,55.8 -41.2,58.5 -36.2,60.6 -31,62.2 -25.8,63.4 -20.5,64.3 -15.3,64.9 -10.2,65.3 -5.1,65.5 0,65.6 5.1,65.6 10.2,65.5 15.4,65.3 20.7,64.8 26,64.1 31.4,63 36.8,61.5 42,59.5 46.9,56.9 51.5,53.6 55.5,49.8 58.8,45.4 61.5,40.5 63.6,35.5 65.2,30.3 66.3,25.1 67,20 67.5,14.9 67.7,9.9 67.8,4.9Z"/>
<path fill="#00ffa7" d="M66.3,0 66.2,-4.8 66,-9.6 65.6,-14.5 65,-19.4 64.1,-24.3 62.9,-29.3 61.2,-34.1 59,-38.9 56.3,-43.4 52.9,-47.5 49,-51.1 44.6,-54.1 39.9,-56.6 34.9,-58.5 29.9,-59.9 24.8,-61 19.7,-61.7 14.7,-62.2 9.7,-62.4 4.8,-62.5 0,-62.5 -4.8,-62.4 -9.7,-62.2 -14.6,-61.8 -19.6,-61.3 -24.5,-60.4 -29.5,-59.3 -34.5,-57.7 -39.3,-55.7 -43.9,-53.2 -48.1,-50.1 -51.8,-46.5 -55,-42.4 -57.6,-38 -59.7,-33.3 -61.4,-28.6 -62.6,-23.7 -63.4,-18.9 -64,-14.1 -64.4,-9.4 -64.6,-4.7 -64.7,0 -64.8,4.7 -64.7,9.4 -64.4,14.2 -64,19.1 -63.2,24 -62.1,28.9 -60.6,33.8 -58.7,38.6 -56.1,43.2 -53,47.5 -49.2,51.3 -45,54.5 -40.3,57.2 -35.4,59.3 -30.3,60.9 -25.2,62.1 -20.1,62.9 -15,63.5 -10,63.9 -5,64.1 0,64.2 5,64.2 10,64.2 15.1,63.9 20.3,63.5 25.5,62.7 30.7,61.6 35.9,60.1 41,58.1 45.9,55.6 50.3,52.4 54.2,48.6 57.5,44.3 60.1,39.6 62.2,34.7 63.7,29.7 64.8,24.6 65.6,19.6 66.1,14.6 66.3,9.7 66.4,4.8Z"/>
<path fill="#00ffb9" d="M64.9,0 64.8,-4.7 64.6,-9.4 64.2,-14.2 63.6,-18.9 62.7,-23.8 61.4,-28.6 59.8,-33.3 57.6,-38 54.9,-42.3 51.6,-46.3 47.8,-49.8 43.6,-52.8 39,-55.2 34.1,-57.1 29.2,-58.6 24.2,-59.6 19.3,-60.3 14.4,-60.8 9.5,-61 4.7,-61.1 0,-61.1 -4.7,-61 -9.5,-60.8 -14.3,-60.5 -19.1,-59.9 -24,-59.1 -28.9,-57.9 -33.7,-56.4 -38.4,-54.4 -42.8,-51.9 -46.9,-48.9 -50.6,-45.4 -53.7,-41.4 -56.3,-37.1 -58.4,-32.6 -60,-27.9 -61.2,-23.2 -62,-18.5 -62.6,-13.8 -63,-9.2 -63.2,-4.6 -63.3,0 -63.3,4.6 -63.3,9.2 -63,13.9 -62.5,18.6 -61.8,23.4 -60.7,28.3 -59.2,33.1 -57.3,37.7 -54.8,42.2 -51.7,46.3 -48,50 -43.9,53.2 -39.4,55.8 -34.6,57.9 -29.6,59.5 -24.6,60.7 -19.6,61.5 -14.7,62.1 -9.7,62.5 -4.9,62.7 0,62.8 4.9,62.8 9.8,62.7 14.8,62.5 19.8,62 24.9,61.3 30,60.2 35.1,58.7 40,56.7 44.7,54.2 49.1,51.1 52.9,47.4 56.1,43.2 58.7,38.7 60.7,33.9 62.3,29 63.4,24 64.1,19.1 64.6,14.2 64.8,9.4 64.9,4.7Z"/>
<path fill="#00ffcb" d="M63.3,0 63.2,-4.8 63,-9.6 62.6,-14.5 61.9,-19.4 60.9,-24.4 59.5,-29.3 57.6,-34.1 55.2,-38.7 52.1,-43 48.5,-46.9 44.4,-50.2 39.8,-53 34.9,-55.1 29.9,-56.8 24.8,-58 19.8,-58.8 14.7,-59.3 9.8,-59.6 4.9,-59.7 0,-59.7 -4.9,-59.6 -9.7,-59.4 -14.7,-59 -19.6,-58.3 -24.6,-57.4 -29.6,-56.1 -34.5,-54.4 -39.2,-52.1 -43.6,-49.3 -47.6,-46 -51.1,-42.1 -54,-37.9 -56.3,-33.3 -58.1,-28.6 -59.4,-23.8 -60.4,-19 -61.1,-14.2 -61.5,-9.4 -61.7,-4.7 -61.8,0 -61.9,4.7 -61.8,9.5 -61.5,14.3 -60.9,19.1 -60.1,24.1 -58.8,29 -57.2,33.8 -54.9,38.6 -52.1,43 -48.6,47 -44.6,50.5 -40.2,53.4 -35.4,55.8 -30.4,57.6 -25.3,58.9 -20.1,59.9 -15,60.6 -10,61 -5,61.2 0,61.3 5,61.3 10,61.2 15.1,60.9 20.3,60.4 25.5,59.6 30.8,58.3 35.9,56.6 40.9,54.4 45.5,51.5 49.7,48 53.3,44 56.2,39.5 58.6,34.7 60.3,29.7 61.6,24.6 62.4,19.6 63,14.6 63.3,9.7 63.4,4.8Z"/>
<path fill="#00ffdd" d="M61.8,0 61.6,-4.7 61.4,-9.4 61,-14.1 60.3,-18.9 59.3,-23.7 57.9,-28.5 56,-33.2 53.7,-37.7 50.7,-41.9 47.2,-45.6 43.2,-48.9 38.7,-51.5 34,-53.7 29.1,-55.3 24.2,-56.5 19.3,-57.3 14.4,-57.8 9.5,-58.1 4.7,-58.2 0,-58.2 -4.7,-58.1 -9.5,-57.9 -14.3,-57.5 -19.1,-56.9 -24,-55.9 -28.8,-54.7 -33.6,-52.9 -38.1,-50.7 -42.4,-48 -46.3,-44.7 -49.7,-41 -52.5,-36.9 -54.8,-32.5 -56.6,-27.9 -57.9,-23.2 -58.9,-18.5 -59.6,-13.8 -60,-9.2 -60.2,-4.6 -60.3,0 -60.3,4.6 -60.2,9.2 -59.9,13.9 -59.4,18.6 -58.5,23.4 -57.3,28.2 -55.6,32.9 -53.4,37.5 -50.7,41.8 -47.3,45.7 -43.4,49.1 -39.1,52 -34.4,54.3 -29.6,56.1 -24.6,57.4 -19.6,58.4 -14.7,59 -9.7,59.4 -4.9,59.7 0,59.8 4.9,59.8 9.8,59.7 14.8,59.4 19.8,58.8 24.9,58 29.9,56.8 34.9,55.1 39.8,52.9 44.3,50.1 48.3,46.7 51.8,42.8 54.7,38.4 57,33.7 58.7,28.9 60,24 60.8,19.1 61.4,14.2 61.7,9.4 61.8,4.7Z"/>
<path fill="#00fff0" d="M60.1,0 60,-4.6 59.7,-9.1 59.3,-13.8 58.6,-18.4 57.6,-23.1 56.3,-27.7 54.4,-32.2 52.1,-36.6 49.2,-40.6 45.8,-44.3 41.9,-47.4 37.6,-50.1 33.1,-52.1 28.3,-53.7 23.5,-54.9 18.7,-55.7 14,-56.3 9.3,-56.6 4.6,-56.7 0,-56.7 -4.6,-56.6 -9.2,-56.4 -13.9,-56 -18.6,-55.3 -23.3,-54.4 -28,-53.1 -32.6,-51.5 -37.1,-49.3 -41.2,-46.6 -45,-43.5 -48.3,-39.8 -51,-35.8 -53.3,-31.5 -55,-27.1 -56.3,-22.6 -57.3,-18 -58,-13.4 -58.4,-8.9 -58.6,-4.5 -58.7,0 -58.7,4.5 -58.6,9 -58.3,13.5 -57.8,18.1 -56.9,22.8 -55.7,27.4 -54.1,32 -51.9,36.4 -49.2,40.6 -45.9,44.4 -42.2,47.7 -37.9,50.5 -33.4,52.7 -28.7,54.5 -23.9,55.8 -19.1,56.8 -14.3,57.4 -9.5,57.8 -4.7,58 0,58.1 4.7,58.2 9.5,58.1 14.3,57.8 19.2,57.2 24.2,56.4 29.1,55.2 33.9,53.5 38.6,51.3 42.9,48.6 46.9,45.3 50.3,41.5 53.1,37.3 55.3,32.8 57,28.1 58.3,23.3 59.2,18.6 59.7,13.9 60,9.2 60.1,4.6Z"/>
<path fill="#00fcff" d="M58.3,0 58.2,-4.7 58,-9.3 57.5,-14.1 56.7,-18.8 55.6,-23.6 54.1,-28.3 52,-32.8 49.4,-37.2 46.2,-41.1 42.5,-44.6 38.3,-47.5 33.7,-49.9 28.9,-51.7 24.1,-53 19.2,-54 14.3,-54.6 9.5,-54.9 4.7,-55 0,-55 -4.7,-54.9 -9.4,-54.7 -14.2,-54.3 -19,-53.6 -23.8,-52.5 -28.6,-51.1 -33.3,-49.2 -37.7,-46.8 -41.7,-43.8 -45.3,-40.3 -48.4,-36.4 -50.9,-32.1 -52.9,-27.7 -54.4,-23.1 -55.5,-18.4 -56.2,-13.8 -56.7,-9.1 -56.9,-4.6 -57,0 -57,4.6 -56.9,9.2 -56.5,13.8 -55.9,18.6 -55,23.3 -53.6,28 -51.7,32.6 -49.3,37 -46.2,41.1 -42.6,44.7 -38.5,47.8 -34,50.4 -29.3,52.3 -24.4,53.8 -19.5,54.9 -14.6,55.6 -9.7,56.1 -4.8,56.3 0,56.4 4.8,56.5 9.7,56.3 14.7,56 19.7,55.4 24.7,54.4 29.7,53 34.6,51.1 39.2,48.7 43.4,45.6 47.2,42 50.3,37.9 52.9,33.4 54.8,28.7 56.2,23.8 57.2,19 57.9,14.2 58.2,9.4 58.3,4.7Z"/>
<path fill="#00eaff" d="M56.5,0 56.4,-4.5 56.1,-9.1 55.7,-13.6 54.9,-18.2 53.8,-22.8 52.3,-27.3 50.3,-31.7 47.7,-35.9 44.7,-39.7 41,-43.1 37,-45.9 32.6,-48.2 28,-50 23.3,-51.3 18.6,-52.2 13.8,-52.8 9.2,-53.2 4.6,-53.3 0,-53.3 -4.6,-53.2 -9.2,-53 -13.8,-52.6 -18.4,-51.9 -23.1,-50.8 -27.7,-49.4 -32.2,-47.6 -36.4,-45.2 -40.4,-42.4 -43.8,-39 -46.8,-35.2 -49.3,-31.1 -51.2,-26.8 -52.6,-22.3 -53.7,-17.8 -54.4,-13.3 -54.9,-8.9 -55.1,-4.4 -55.2,0 -55.2,4.4 -55.1,8.9 -54.8,13.4 -54.1,18 -53.2,22.5 -51.8,27.1 -50,31.6 -47.6,35.8 -44.7,39.7 -41.2,43.2 -37.2,46.2 -32.9,48.7 -28.3,50.6 -23.6,52.1 -18.9,53.1 -14.1,53.9 -9.4,54.3 -4.7,54.6 0,54.7 4.7,54.7 9.4,54.5 14.2,54.2 19,53.6 23.9,52.6 28.7,51.3 33.4,49.4 37.9,47 42,44 45.6,40.5 48.6,36.6 51.1,32.3 53,27.7 54.4,23.1 55.4,18.4 56,13.7 56.4,9.1 56.5,4.5Z"/>
<path fill="#00d8ff" d="M54.5,0 54.4,-4.4 54.2,-8.7 53.7,-13.1 53,-17.6 51.9,-22 50.4,-26.4 48.5,-30.6 46,-34.6 43,-38.3 39.6,-41.5 35.7,-44.3 31.4,-46.5 27,-48.2 22.5,-49.5 17.9,-50.4 13.4,-51 8.9,-51.4 4.4,-51.5 0,-51.5 -4.4,-51.4 -8.8,-51.2 -13.3,-50.8 -17.8,-50.1 -22.3,-49.1 -26.7,-47.7 -31,-45.9 -35.1,-43.6 -38.9,-40.8 -42.3,-37.6 -45.1,-34 -47.5,-30 -49.4,-25.8 -50.8,-21.5 -51.9,-17.2 -52.6,-12.9 -53,-8.6 -53.3,-4.3 -53.4,0 -53.4,4.3 -53.2,8.6 -52.9,12.9 -52.3,17.3 -51.3,21.8 -50,26.2 -48.2,30.4 -45.9,34.5 -43.1,38.3 -39.7,41.7 -35.9,44.6 -31.7,46.9 -27.3,48.8 -22.8,50.3 -18.2,51.3 -13.6,52 -9.1,52.5 -4.5,52.7 0,52.8 4.5,52.8 9.1,52.7 13.7,52.3 18.4,51.7 23,50.8 27.7,49.4 32.2,47.6 36.5,45.3 40.4,42.4 43.9,39 46.8,35.2 49.2,31.1 51.1,26.7 52.5,22.2 53.4,17.7 54.1,13.2 54.4,8.8 54.6,4.4Z"/>
<path fill="#00c6ff" d="M52.5,0 52.4,-4.4 52.1,-8.9 51.6,-13.4 50.8,-17.9 49.6,-22.3 47.9,-26.7 45.7,-30.9 43,-34.9 39.7,-38.4 36,-41.4 31.8,-43.9 27.4,-45.9 22.8,-47.3 18.2,-48.4 13.6,-49.1 9,-49.4 4.5,-49.6 0,-49.6 -4.5,-49.5 -9,-49.3 -13.5,-48.8 -18.1,-48 -22.6,-46.9 -27.1,-45.4 -31.4,-43.3 -35.4,-40.8 -39.1,-37.8 -42.2,-34.2 -44.9,-30.4 -47,-26.2 -48.6,-21.9 -49.7,-17.5 -50.5,-13.1 -51,-8.7 -51.3,-4.3 -51.4,0 -51.4,4.3 -51.2,8.7 -50.8,13.2 -50.1,17.6 -49.1,22.1 -47.6,26.5 -45.5,30.8 -42.9,34.8 -39.8,38.5 -36.1,41.6 -32.1,44.3 -27.7,46.4 -23.2,48 -18.5,49.1 -13.8,49.9 -9.2,50.4 -4.6,50.7 0,50.8 4.6,50.8 9.2,50.6 13.9,50.2 18.7,49.5 23.4,48.5 28,46.9 32.5,44.9 36.7,42.3 40.5,39.2 43.8,35.5 46.5,31.4 48.6,27.1 50.1,22.6 51.2,18 51.9,13.4 52.3,8.9 52.5,4.4Z"/>
<path fill="#00b3ff" d="M50.3,0 50.2,-4.2 50,-8.5 49.5,-12.8 48.6,-17.1 47.5,-21.4 45.9,-25.6 43.8,-29.6 41.1,-33.4 38,-36.7 34.4,-39.6 30.5,-42 26.2,-43.9 21.9,-45.4 17.5,-46.4 13,-47 8.7,-47.4 4.3,-47.6 0,-47.6 -4.3,-47.5 -8.6,-47.3 -13,-46.8 -17.3,-46.1 -21.7,-45 -26,-43.5 -30.1,-41.5 -33.9,-39.1 -37.4,-36.1 -40.4,-32.8 -43,-29.1 -45,-25.1 -46.5,-21 -47.7,-16.8 -48.5,-12.5 -49,-8.3 -49.2,-4.2 -49.3,0 -49.3,4.2 -49.1,8.4 -48.7,12.6 -48.1,16.9 -47,21.2 -45.5,25.4 -43.6,29.5 -41.1,33.3 -38.1,36.8 -34.6,39.8 -30.7,42.4 -26.5,44.4 -22.2,46 -17.7,47.1 -13.3,47.9 -8.8,48.3 -4.4,48.6 0,48.7 4.4,48.7 8.9,48.5 13.3,48.1 17.9,47.5 22.4,46.4 26.8,44.9 31.1,43 35.1,40.5 38.7,37.4 41.9,33.9 44.4,30.1 46.5,25.9 48,21.6 49.1,17.3 49.8,12.9 50.2,8.5 50.3,4.3Z"/>
<path fill="#00a1ff" d="M48,0 47.9,-4.3 47.6,-8.6 47.1,-12.9 46.2,-17.3 44.8,-21.6 43,-25.8 40.7,-29.7 37.8,-33.3 34.4,-36.5 30.6,-39.2 26.5,-41.3 22.1,-42.9 17.7,-44 13.2,-44.8 8.8,-45.2 4.4,-45.4 0,-45.4 -4.3,-45.4 -8.7,-45.1 -13.1,-44.6 -17.5,-43.7 -21.9,-42.5 -26.2,-40.8 -30.2,-38.7 -33.9,-36 -37.2,-32.8 -40,-29.2 -42.3,-25.3 -44,-21.2 -45.3,-17 -46.2,-12.7 -46.7,-8.4 -47,-4.2 -47.1,0 -47.1,4.2 -46.9,8.5 -46.4,12.8 -45.6,17.1 -44.5,21.4 -42.8,25.6 -40.6,29.6 -37.8,33.3 -34.5,36.6 -30.8,39.4 -26.7,41.7 -22.4,43.4 -17.9,44.7 -13.4,45.5 -8.9,46.1 -4.4,46.4 0,46.5 4.5,46.5 8.9,46.3 13.5,45.8 18.1,45 22.6,43.8 27,42.2 31.2,40 35.1,37.2 38.5,33.9 41.3,30.2 43.6,26.1 45.3,21.8 46.6,17.4 47.4,13 47.8,8.6 48,4.3Z"/>
<path fill="#008fff" d="M45.6,0 45.5,-4.1 45.2,-8.2 44.6,-12.3 43.8,-16.4 42.5,-20.4 40.8,-24.4 38.6,-28.1 35.8,-31.6 32.6,-34.6 29,-37.1 25.1,-39.1 21,-40.7 16.7,-41.8 12.5,-42.5 8.3,-43 4.1,-43.1 0,-43.2 -4.1,-43.1 -8.3,-42.8 -12.5,-42.3 -16.6,-41.5 -20.8,-40.3 -24.8,-38.7 -28.6,-36.6 -32.2,-34.1 -35.3,-31.1 -37.9,-27.7 -40.1,-24 -41.7,-20.1 -43,-16.1 -43.8,-12 -44.3,-8 -44.6,-4 -44.7,0 -44.7,4 -44.5,8 -44.1,12.1 -43.3,16.2 -42.1,20.3 -40.5,24.3 -38.4,28.1 -35.8,31.6 -32.7,34.7 -29.2,37.3 -25.3,39.5 -21.2,41.1 -17,42.4 -12.7,43.2 -8.5,43.7 -4.2,44 0,44.1 4.2,44.1 8.5,43.9 12.8,43.4 17.1,42.7 21.4,41.5 25.6,39.9 29.5,37.8 33.2,35.2 36.4,32.1 39.1,28.6 41.3,24.7 42.9,20.7 44.1,16.5 44.9,12.3 45.4,8.2 45.5,4.1Z"/>
<path fill="#007dff" d="M42.9,0 42.8,-4.1 42.5,-8.2 41.9,-12.3 40.9,-16.4 39.5,-20.4 37.6,-24.3 35.2,-27.9 32.2,-31.1 28.8,-33.9 25,-36.1 20.9,-37.9 16.8,-39.1 12.5,-40 8.3,-40.4 4.1,-40.7 0,-40.7 -4.1,-40.6 -8.3,-40.3 -12.5,-39.7 -16.7,-38.8 -20.8,-37.5 -24.7,-35.8 -28.4,-33.5 -31.8,-30.7 -34.7,-27.5 -37,-23.9 -38.9,-20.1 -40.2,-16.1 -41.2,-12.1 -41.7,-8 -42,-4 -42.1,0 -42.1,4 -41.9,8.1 -41.4,12.1 -40.5,16.2 -39.2,20.3 -37.5,24.2 -35.1,27.9 -32.3,31.2 -28.9,34 -25.2,36.4 -21.2,38.2 -17,39.6 -12.7,40.5 -8.5,41.1 -4.2,41.4 0,41.5 4.2,41.5 8.5,41.3 12.8,40.8 17.1,39.9 21.4,38.6 25.5,36.8 29.3,34.5 32.7,31.6 35.7,28.3 38.1,24.6 39.9,20.6 41.3,16.5 42.1,12.4 42.7,8.2 42.9,4.1Z"/>
<path fill="#006bff" d="M40,0 39.9,-4.1 39.6,-8.1 38.9,-12.2 37.8,-16.3 36.3,-20.2 34.2,-24 31.5,-27.4 28.3,-30.4 24.7,-32.9 20.8,-34.8 16.7,-36.2 12.5,-37.2 8.3,-37.7 4.1,-38 0,-38 -4.1,-37.9 -8.3,-37.6 -12.4,-37 -16.6,-36 -20.6,-34.5 -24.5,-32.6 -28,-30.1 -31.1,-27.1 -33.7,-23.7 -35.7,-19.9 -37.2,-16 -38.3,-12 -38.9,-8 -39.2,-4 -39.4,0 -39.3,4 -39.1,8 -38.5,12.1 -37.5,16.1 -36.1,20.1 -34.1,23.9 -31.5,27.4 -28.4,30.5 -24.9,33.1 -21,35.1 -16.9,36.6 -12.7,37.7 -8.4,38.3 -4.2,38.6 0,38.7 4.2,38.7 8.5,38.4 12.7,37.9 17,36.9 21.2,35.5 25.2,33.5 28.8,30.9 32,27.8 34.6,24.3 36.7,20.5 38.2,16.4 39.2,12.3 39.7,8.2 40,4.1Z"/>
<path fill="#0058ff" d="M36.9,0 36.8,-3.7 36.5,-7.5 35.8,-11.3 34.8,-15 33.4,-18.6 31.4,-22.1 29,-25.2 26.1,-28 22.8,-30.3 19.2,-32.1 15.4,-33.4 11.5,-34.3 7.6,-34.8 3.8,-35 0,-35 -3.8,-35 -7.6,-34.7 -11.5,-34.1 -15.3,-33.1 -19,-31.8 -22.5,-30 -25.8,-27.7 -28.6,-24.9 -31,-21.8 -32.9,-18.4 -34.3,-14.8 -35.3,-11.1 -35.9,-7.4 -36.2,-3.7 -36.3,0 -36.3,3.7 -36,7.4 -35.5,11.1 -34.6,14.9 -33.2,18.5 -31.4,22 -29,25.2 -26.1,28.1 -22.9,30.4 -19.3,32.3 -15.5,33.7 -11.7,34.7 -7.8,35.3 -3.9,35.6 0,35.7 3.9,35.6 7.8,35.4 11.7,34.9 15.6,33.9 19.5,32.6 23.1,30.8 26.5,28.4 29.4,25.6 31.8,22.3 33.7,18.8 35.1,15.1 36,11.3 36.6,7.5 36.8,3.7Z"/>
<path fill="#0046ff" d="M33.4,0 33.3,-3.6 32.9,-7.3 32.3,-10.9 31.2,-14.5 29.6,-18 27.5,-21.2 24.9,-24.1 21.9,-26.5 18.5,-28.5 14.9,-29.9 11.2,-30.9 7.4,-31.5 3.7,-31.7 0,-31.8 -3.7,-31.7 -7.4,-31.4 -11.1,-30.7 -14.8,-29.7 -18.4,-28.2 -21.7,-26.3 -24.7,-23.8 -27.2,-21 -29.2,-17.7 -30.7,-14.3 -31.8,-10.8 -32.5,-7.2 -32.8,-3.6 -32.9,0 -32.9,3.6 -32.6,7.2 -32,10.8 -31,14.4 -29.5,17.9 -27.5,21.2 -25,24.1 -22,26.6 -18.6,28.6 -15,30.2 -11.3,31.2 -7.5,31.9 -3.8,32.2 0,32.3 3.8,32.2 7.5,32 11.4,31.4 15.1,30.4 18.8,28.9 22.2,26.9 25.2,24.4 27.8,21.4 29.9,18.1 31.4,14.6 32.4,11 33.1,7.3 33.3,3.6Z"/>
<path fill="#0034ff" d="M29.4,0 29.3,-3.4 28.9,-6.9 28.2,-10.3 27,-13.7 25.4,-16.9 23.2,-19.9 20.5,-22.4 17.5,-24.4 14.1,-26 10.6,-27 7.1,-27.7 3.5,-28 0,-28 -3.5,-27.9 -7,-27.6 -10.6,-26.9 -14,-25.8 -17.3,-24.3 -20.3,-22.2 -23,-19.7 -25.1,-16.7 -26.7,-13.6 -27.9,-10.2 -28.6,-6.8 -28.9,-3.4 -29,0 -29,3.4 -28.7,6.8 -28,10.3 -26.9,13.6 -25.3,16.9 -23.2,19.9 -20.6,22.4 -17.5,24.6 -14.2,26.2 -10.7,27.3 -7.1,28 -3.6,28.3 0,28.4 3.6,28.4 7.2,28.1 10.8,27.4 14.3,26.3 17.7,24.8 20.8,22.7 23.4,20.1 25.6,17.1 27.2,13.8 28.4,10.4 29,6.9 29.3,3.4Z"/>
<path fill="#0022ff" d="M24.7,0 24.6,-3.1 24.2,-6.3 23.5,-9.4 22.3,-12.4 20.6,-15.3 18.4,-17.8 15.8,-19.9 12.8,-21.4 9.7,-22.5 6.4,-23.2 3.2,-23.5 0,-23.6 -3.2,-23.5 -6.4,-23.2 -9.6,-22.5 -12.7,-21.3 -15.7,-19.7 -18.2,-17.6 -20.4,-15.1 -22.1,-12.3 -23.2,-9.3 -24,-6.2 -24.3,-3.1 -24.4,0 -24.4,3.1 -24,6.2 -23.4,9.3 -22.2,12.4 -20.6,15.2 -18.4,17.8 -15.8,19.9 -12.9,21.6 -9.7,22.7 -6.5,23.4 -3.2,23.8 0,23.9 3.2,23.8 6.5,23.5 9.8,22.8 13,21.7 15.9,20.1 18.6,17.9 20.8,15.4 22.4,12.5 23.6,9.4 24.3,6.3 24.6,3.1Z"/>
<path fill="#000cff" d="M18.8,0 18.7,-2.6 18.3,-5.2 17.6,-7.8 16.5,-10.3 14.9,-12.5 12.9,-14.4 10.6,-15.9 8,-17 5.4,-17.6 2.7,-17.9 0,-18 -2.7,-17.9 -5.3,-17.6 -8,-16.9 -10.5,-15.8 -12.8,-14.3 -14.8,-12.4 -16.4,-10.2 -17.5,-7.7 -18.2,-5.2 -18.5,-2.6 -18.6,0 -18.6,2.6 -18.2,5.2 -17.6,7.8 -16.5,10.2 -14.9,12.5 -12.9,14.4 -10.6,16 -8.1,17.1 -5.4,17.7 -2.7,18.1 0,18.2 2.7,18.1 5.4,17.8 8.1,17.1 10.7,16 13,14.5 15,12.6 16.6,10.3 17.7,7.8 18.4,5.2 18.7,2.6Z"/>
</g></g>
<path d="M185.1,19.9 V177.2 H26.4" fill="none" stroke="#dc0000" stroke-width="1.3"/>
<rect x="26.3" y="19.8" width="157.8" height="156.4" fill="none" stroke="#000" stroke-opacity="0.5" stroke-width="0.7"/>
<path d="M44.04,176.8v-3M26.7,159.81h3M61.69,176.8v-1.6M26.7,142.32h1.6M79.33,176.8v-3M26.7,124.83h3M96.98,176.8v-1.6M26.7,107.34h1.6M114.62,176.8v-3M26.7,89.86h3M132.27,176.8v-1.6M26.7,72.37h1.6M149.91,176.8v-3M26.7,54.88h3M167.56,176.8v-1.6M26.7,37.39h1.6" stroke="#111" stroke-width="0.7" fill="none"/>
<text x="44.44" y="187.9" class="t" font-size="7.7" text-anchor="middle">2</text>
<text x="23.4" y="163.21" class="t" font-size="7.7" text-anchor="end">2</text>
<text x="79.73" y="187.9" class="t" font-size="7.7" text-anchor="middle">4</text>
<text x="23.4" y="128.23" class="t" font-size="7.7" text-anchor="end">4</text>
<text x="115.02" y="187.9" class="t" font-size="7.7" text-anchor="middle">6</text>
<text x="23.4" y="93.26" class="t" font-size="7.7" text-anchor="end">6</text>
<text x="150.31" y="187.9" class="t" font-size="7.7" text-anchor="middle">8</text>
<text x="23.4" y="58.28" class="t" font-size="7.7" text-anchor="end">8</text>
<text x="185.6" y="187.9" class="t" font-size="7.7" text-anchor="middle">10</text>
<text x="23.4" y="23.3" class="t" font-size="7.7" text-anchor="end">10</text>
<rect x="191.8" y="21.8" width="16.7" height="151.8" fill="#000"/>
<rect x="193.2" y="22.80" width="13.9" height="149.30" fill="#ff0800"/>
<rect x="193.2" y="25.13" width="13.9" height="146.97" fill="#ff1800"/>
<rect x="193.2" y="27.47" width="13.9" height="144.63" fill="#ff2800"/>
<rect x="193.2" y="29.80" width="13.9" height="142.30" fill="#ff3800"/>
<rect x="193.2" y="32.13" width="13.9" height="139.97" fill="#ff4800"/>
<rect x="193.2" y="34.46" width="13.9" height="137.64" fill="#ff5800"/>
<rect x="193.2" y="36.80" width="13.9" height="135.30" fill="#ff6800"/>
<rect x="193.2" y="39.13" width="13.9" height="132.97" fill="#ff7800"/>
<rect x="193.2" y="41.46" width="13.9" height="130.64" fill="#ff8700"/>
<rect x="193.2" y="43.80" width="13.9" height="128.30" fill="#ff9700"/>
<rect x="193.2" y="46.13" width="13.9" height="125.97" fill="#ffa700"/>
<rect x="193.2" y="48.46" width="13.9" height="123.64" fill="#ffb700"/>
<rect x="193.2" y="50.79" width="13.9" height="121.31" fill="#ffc700"/>
<rect x="193.2" y="53.13" width="13.9" height="118.97" fill="#ffd700"/>
<rect x="193.2" y="55.46" width="13.9" height="116.64" fill="#ffe700"/>
<rect x="193.2" y="57.79" width="13.9" height="114.31" fill="#fff700"/>
<rect x="193.2" y="60.12" width="13.9" height="111.97" fill="#f7ff00"/>
<rect x="193.2" y="62.46" width="13.9" height="109.64" fill="#e7ff00"/>
<rect x="193.2" y="64.79" width="13.9" height="107.31" fill="#d7ff00"/>
<rect x="193.2" y="67.12" width="13.9" height="104.98" fill="#c7ff00"/>
<rect x="193.2" y="69.46" width="13.9" height="102.64" fill="#b7ff00"/>
<rect x="193.2" y="71.79" width="13.9" height="100.31" fill="#a7ff00"/>
<rect x="193.2" y="74.12" width="13.9" height="97.98" fill="#97ff00"/>
<rect x="193.2" y="76.45" width="13.9" height="95.65" fill="#00ff00"/>
<rect x="193.2" y="78.79" width="13.9" height="93.31" fill="#00ff00"/>
<rect x="193.2" y="81.12" width="13.9" height="90.98" fill="#00ff00"/>
<rect x="193.2" y="83.45" width="13.9" height="88.65" fill="#00ff00"/>
<rect x="193.2" y="85.79" width="13.9" height="86.31" fill="#00ff00"/>
<rect x="193.2" y="88.12" width="13.9" height="83.98" fill="#00ff00"/>
<rect x="193.2" y="90.45" width="13.9" height="81.65" fill="#00ff00"/>
<rect x="193.2" y="92.78" width="13.9" height="79.32" fill="#00ff00"/>
<rect x="193.2" y="95.12" width="13.9" height="76.98" fill="#00ff00"/>
<rect x="193.2" y="97.45" width="13.9" height="74.65" fill="#00ff08"/>
<rect x="193.2" y="99.78" width="13.9" height="72.32" fill="#00ff18"/>
<rect x="193.2" y="102.12" width="13.9" height="69.98" fill="#00ff28"/>
<rect x="193.2" y="104.45" width="13.9" height="67.65" fill="#00ff38"/>
<rect x="193.2" y="106.78" width="13.9" height="65.32" fill="#00ff48"/>
<rect x="193.2" y="109.11" width="13.9" height="62.99" fill="#00ff58"/>
<rect x="193.2" y="111.45" width="13.9" height="60.65" fill="#00ff68"/>
<rect x="193.2" y="113.78" width="13.9" height="58.32" fill="#00ff78"/>
<rect x="193.2" y="116.11" width="13.9" height="55.99" fill="#00ff87"/>
<rect x="193.2" y="118.45" width="13.9" height="53.65" fill="#00ff97"/>
<rect x="193.2" y="120.78" width="13.9" height="51.32" fill="#00ffa7"/>
<rect x="193.2" y="123.11" width="13.9" height="48.99" fill="#00ffb7"/>
<rect x="193.2" y="125.44" width="13.9" height="46.66" fill="#00ffc7"/>
<rect x="193.2" y="127.78" width="13.9" height="44.32" fill="#00ffd7"/>
<rect x="193.2" y="130.11" width="13.9" height="41.99" fill="#00ffe7"/>
<rect x="193.2" y="132.44" width="13.9" height="39.66" fill="#00fff7"/>
<rect x="193.2" y="134.78" width="13.9" height="37.32" fill="#00f7ff"/>
<rect x="193.2" y="137.11" width="13.9" height="34.99" fill="#00e7ff"/>
<rect x="193.2" y="139.44" width="13.9" height="32.66" fill="#00d7ff"/>
<rect x="193.2" y="141.77" width="13.9" height="30.33" fill="#00c7ff"/>
<rect x="193.2" y="144.11" width="13.9" height="27.99" fill="#00b7ff"/>
<rect x="193.2" y="146.44" width="13.9" height="25.66" fill="#00a7ff"/>
<rect x="193.2" y="148.77" width="13.9" height="23.33" fill="#0097ff"/>
<rect x="193.2" y="151.10" width="13.9" height="21.00" fill="#0087ff"/>
<rect x="193.2" y="153.44" width="13.9" height="18.66" fill="#0078ff"/>
<rect x="193.2" y="155.77" width="13.9" height="16.33" fill="#0068ff"/>
<rect x="193.2" y="158.10" width="13.9" height="14.00" fill="#0058ff"/>
<rect x="193.2" y="160.44" width="13.9" height="11.66" fill="#0048ff"/>
<rect x="193.2" y="162.77" width="13.9" height="9.33" fill="#0038ff"/>
<rect x="193.2" y="165.10" width="13.9" height="7.00" fill="#0028ff"/>
<rect x="193.2" y="167.43" width="13.9" height="4.67" fill="#0018ff"/>
<rect x="193.2" y="169.77" width="13.9" height="2.33" fill="#0008ff"/>
<text class="t" x="210.5" y="25.20" font-size="7.7">1.<tspan dx="1.9">07499</tspan></text>
<path d="M207.1,41.20h-3.2" stroke="#111" stroke-width="0.8"/>
<text class="t" x="210.5" y="44.00" font-size="7.7">1.<tspan dx="1.9">07498</tspan></text>
<path d="M207.1,60.00h-3.2" stroke="#111" stroke-width="0.8"/>
<text class="t" x="210.5" y="62.80" font-size="7.7">1.<tspan dx="1.9">07498</tspan></text>
<path d="M207.1,78.80h-3.2" stroke="#111" stroke-width="0.8"/>
<text class="t" x="210.5" y="81.60" font-size="7.7">1.<tspan dx="1.9">07498</tspan></text>
<path d="M207.1,97.60h-3.2" stroke="#111" stroke-width="0.8"/>
<text class="t" x="210.5" y="100.40" font-size="7.7">1.<tspan dx="1.9">07498</tspan></text>
<path d="M207.1,116.40h-3.2" stroke="#111" stroke-width="0.8"/>
<text class="t" x="210.5" y="119.20" font-size="7.7">1.<tspan dx="1.9">07497</tspan></text>
<path d="M207.1,135.20h-3.2" stroke="#111" stroke-width="0.8"/>
<text class="t" x="210.5" y="138.00" font-size="7.7">1.<tspan dx="1.9">07497</tspan></text>
<path d="M207.1,154.00h-3.2" stroke="#111" stroke-width="0.8"/>
<text class="t" x="210.5" y="156.80" font-size="7.7">1.<tspan dx="1.9">07497</tspan></text>
<text class="t" x="210.5" y="175.60" font-size="7.7">1.<tspan dx="1.9">07497</tspan></text>
<text x="87.2" y="15.2" font-size="9.77">Magnetic charge density grade(Wb/mm<tspan dy="-4.1" font-size="6.65">2</tspan><tspan dy="4.1">)</tspan></text>
<text x="63.9" y="200.8" font-size="9.71">Defect width D<tspan dy="2" font-size="6.31">y</tspan><tspan dy="-2">(mm)</tspan></text>
<text transform="translate(14.8,98.5) rotate(-90)" font-size="10" text-anchor="middle">Defect depth D<tspan dy="2" font-size="6.4">z</tspan><tspan dy="-2">(mm)</tspan></text>
<text x="75.2" y="216.9" font-size="14.8">(a)0Mpa</text>
<g clip-path="url(#cpb)">
<rect x="262.4" y="20.8" width="156" height="158.7" fill="#ff0100"/>
<g transform="translate(341.1,97.85)">
<path fill="#ff1300" d="M81.7,0 81.7,-4.6 81.7,-9.1 81.7,-13.8 81.7,-18.5 81.7,-23.3 81.7,-28.4 81.7,-33.6 81.7,-39 81.7,-44.8 81.7,-50.9 81.7,-57.5 81.7,-64.6 81.7,-72.4 78.8,-78.2 73.9,-82 68.1,-84.6 60.6,-84.7 53.6,-84.6 47.2,-84.6 41.1,-84.6 35.4,-84.6 29.9,-84.6 24.6,-84.6 19.5,-84.6 14.5,-84.6 9.6,-84.6 4.8,-84.6 0,-84.6 -4.8,-84.6 -9.6,-84.6 -14.5,-84.6 -19.5,-84.6 -24.6,-84.6 -29.9,-84.6 -35.4,-84.6 -41.1,-84.7 -47.2,-84.6 -53.6,-84.6 -60.6,-84.6 -66.9,-83.2 -72.2,-80.1 -76.9,-76.2 -80.8,-71.6 -81.7,-64.6 -81.7,-57.5 -81.7,-50.9 -81.7,-44.8 -81.7,-39 -81.7,-33.6 -81.7,-28.4 -81.7,-23.3 -81.7,-18.5 -81.7,-13.8 -81.7,-9.1 -81.7,-4.6 -81.7,0 -81.7,4.6 -81.7,9.1 -81.7,13.8 -81.7,18.5 -81.7,23.3 -81.7,28.4 -81.7,33.6 -81.7,39 -81.7,44.8 -81.7,50.9 -81.7,57.5 -81.7,64.6 -81.7,72.4 -79,78.4 -74.3,82.5 -68.1,84.6 -60.6,84.6 -53.6,84.6 -47.2,84.6 -41.1,84.7 -35.4,84.6 -29.9,84.6 -24.6,84.6 -19.5,84.6 -14.5,84.6 -9.6,84.6 -4.8,84.6 0,84.6 4.8,84.6 9.6,84.6 14.5,84.7 19.5,84.6 24.6,84.6 29.9,84.6 35.4,84.6 41.1,84.6 47.2,84.6 53.6,84.6 60.6,84.6 68.1,84.6 76.3,84.6 81.2,80.6 81.7,72.4 81.7,64.6 81.7,57.5 81.7,50.9 81.7,44.8 81.7,39 81.7,33.6 81.7,28.4 81.7,23.3 81.7,18.5 81.7,13.8 81.7,9.1 81.7,4.6Z"/>
<path fill="#ff2500" d="M81.7,0 81.7,-4.6 81.7,-9.1 81.7,-13.8 81.7,-18.5 81.7,-23.3 81.7,-28.4 81.7,-33.6 81.7,-39 81.7,-44.8 81.7,-50.9 81.7,-57.5 81.7,-64.6 81.7,-72.4 78.3,-77.6 73.4,-81.5 67.9,-84.4 60.6,-84.6 53.6,-84.6 47.2,-84.6 41.1,-84.6 35.4,-84.6 29.9,-84.6 24.6,-84.6 19.5,-84.6 14.5,-84.6 9.6,-84.6 4.8,-84.6 0,-84.6 -4.8,-84.6 -9.6,-84.6 -14.5,-84.6 -19.5,-84.7 -24.6,-84.6 -29.9,-84.6 -35.4,-84.7 -41.1,-84.7 -47.2,-84.6 -53.6,-84.6 -60.6,-84.7 -66.5,-82.7 -71.7,-79.6 -76.4,-75.7 -80.3,-71.1 -81.7,-64.6 -81.7,-57.5 -81.7,-50.9 -81.7,-44.8 -81.7,-39 -81.7,-33.6 -81.7,-28.4 -81.7,-23.3 -81.7,-18.5 -81.7,-13.8 -81.7,-9.1 -81.7,-4.6 -81.7,0 -81.7,4.6 -81.7,9.1 -81.7,13.8 -81.7,18.5 -81.7,23.3 -81.7,28.4 -81.7,33.6 -81.7,39 -81.7,44.8 -81.7,50.9 -81.7,57.5 -81.7,64.6 -81.7,72.4 -78.5,77.9 -73.8,81.9 -68.1,84.6 -60.6,84.6 -53.6,84.6 -47.2,84.6 -41.1,84.6 -35.4,84.7 -29.9,84.6 -24.6,84.6 -19.5,84.6 -14.5,84.6 -9.6,84.6 -4.8,84.7 0,84.6 4.8,84.6 9.6,84.6 14.5,84.6 19.5,84.6 24.6,84.7 29.9,84.6 35.4,84.6 41.1,84.6 47.2,84.6 53.6,84.6 60.6,84.6 68.1,84.6 75.8,84.1 80.7,80.1 81.7,72.4 81.7,64.6 81.7,57.5 81.7,50.9 81.7,44.8 81.7,39 81.7,33.6 81.7,28.4 81.7,23.3 81.7,18.5 81.7,13.8 81.7,9.1 81.7,4.6Z"/>
<path fill="#ff3700" d="M81.7,0 81.7,-4.6 81.7,-9.1 81.7,-13.8 81.7,-18.5 81.7,-23.3 81.7,-28.4 81.7,-33.6 81.7,-39 81.7,-44.8 81.7,-50.9 81.7,-57.5 81.7,-64.6 81.7,-72.4 77.8,-77.1 72.9,-80.9 67.4,-83.9 60.6,-84.6 53.6,-84.6 47.2,-84.6 41.1,-84.6 35.4,-84.6 29.9,-84.6 24.6,-84.6 19.5,-84.6 14.5,-84.6 9.6,-84.6 4.8,-84.7 0,-84.6 -4.8,-84.6 -9.6,-84.6 -14.5,-84.6 -19.5,-84.6 -24.6,-84.7 -29.9,-84.6 -35.4,-84.6 -41.1,-84.6 -47.2,-84.6 -53.6,-84.6 -60.5,-84.5 -66,-82.1 -71.2,-79.1 -75.8,-75.2 -79.7,-70.7 -81.7,-64.6 -81.7,-57.5 -81.7,-50.9 -81.7,-44.8 -81.7,-39 -81.7,-33.6 -81.7,-28.4 -81.7,-23.3 -81.7,-18.5 -81.7,-13.8 -81.7,-9.1 -81.7,-4.6 -81.7,0 -81.7,4.6 -81.7,9.1 -81.7,13.8 -81.7,18.5 -81.7,23.3 -81.7,28.4 -81.7,33.6 -81.7,39 -81.7,44.8 -81.7,50.9 -81.7,57.5 -81.7,64.6 -81.7,72.4 -78,77.3 -73.3,81.4 -68,84.6 -60.6,84.6 -53.6,84.7 -47.2,84.6 -41.1,84.6 -35.4,84.6 -29.9,84.6 -24.6,84.6 -19.5,84.6 -14.5,84.6 -9.6,84.6 -4.8,84.6 0,84.6 4.8,84.6 9.6,84.6 14.5,84.6 19.5,84.6 24.6,84.7 29.9,84.6 35.4,84.6 41.1,84.6 47.2,84.6 53.6,84.6 60.6,84.6 68.1,84.6 75.3,83.5 80.2,79.5 81.7,72.4 81.7,64.6 81.7,57.5 81.7,50.9 81.7,44.8 81.7,39 81.7,33.6 81.7,28.4 81.7,23.3 81.7,18.5 81.7,13.8 81.7,9.1 81.7,4.6Z"/>
<path fill="#ff4a00" d="M81.7,0 81.7,-4.6 81.7,-9.1 81.7,-13.8 81.7,-18.5 81.7,-23.3 81.7,-28.4 81.7,-33.6 81.7,-39 81.7,-44.8 81.7,-50.9 81.7,-57.5 81.7,-64.6 81.3,-72 77.2,-76.6 72.4,-80.4 67,-83.3 60.6,-84.6 53.6,-84.6 47.2,-84.6 41.1,-84.6 35.4,-84.6 29.9,-84.6 24.6,-84.6 19.5,-84.6 14.5,-84.6 9.6,-84.6 4.8,-84.6 0,-84.6 -4.8,-84.6 -9.6,-84.6 -14.5,-84.6 -19.5,-84.6 -24.6,-84.6 -29.9,-84.6 -35.4,-84.6 -41.1,-84.6 -47.2,-84.6 -53.6,-84.6 -60.1,-84 -65.6,-81.6 -70.7,-78.5 -75.3,-74.7 -79.2,-70.2 -81.7,-64.6 -81.7,-57.5 -81.7,-50.9 -81.7,-44.8 -81.7,-39 -81.7,-33.6 -81.7,-28.4 -81.7,-23.3 -81.7,-18.5 -81.7,-13.8 -81.7,-9.1 -81.7,-4.6 -81.7,0 -81.7,4.6 -81.7,9.1 -81.7,13.8 -81.7,18.5 -81.7,23.3 -81.7,28.4 -81.7,33.6 -81.7,39 -81.7,44.8 -81.7,50.9 -81.7,57.5 -81.7,64.6 -81.2,72 -77.4,76.8 -72.8,80.8 -67.6,84 -60.6,84.6 -53.6,84.6 -47.2,84.6 -41.1,84.6 -35.4,84.6 -29.9,84.6 -24.6,84.7 -19.5,84.6 -14.5,84.6 -9.6,84.6 -4.8,84.6 0,84.6 4.8,84.6 9.6,84.6 14.5,84.6 19.5,84.6 24.6,84.6 29.9,84.6 35.4,84.6 41.1,84.6 47.2,84.6 53.6,84.6 60.6,84.6 68.1,84.6 74.7,83 79.6,79 81.7,72.4 81.7,64.6 81.7,57.5 81.7,50.9 81.7,44.8 81.7,39 81.7,33.6 81.7,28.4 81.7,23.3 81.7,18.5 81.7,13.8 81.7,9.1 81.7,4.6Z"/>
<path fill="#ff5c00" d="M81.7,0 81.7,-4.7 81.7,-9.5 81.7,-14.3 81.7,-19.2 81.7,-24.3 81.7,-29.5 81.7,-35 81.7,-40.7 81.7,-46.8 81.7,-53.3 81.7,-60.3 81.7,-68 78.9,-73.8 74.3,-78.1 69,-81.5 63.1,-84.1 56.1,-84.6 49.3,-84.6 42.9,-84.6 36.8,-84.6 31.1,-84.6 25.6,-84.6 20.2,-84.6 15,-84.6 10,-84.6 5,-84.6 0,-84.6 -5,-84.6 -10,-84.6 -15,-84.6 -20.2,-84.6 -25.6,-84.6 -31.1,-84.6 -36.8,-84.6 -42.9,-84.7 -49.3,-84.6 -56.1,-84.6 -61.9,-82.5 -67.5,-79.8 -72.5,-76.2 -76.9,-71.9 -80.4,-66.9 -81.7,-60.3 -81.7,-53.3 -81.7,-46.8 -81.7,-40.7 -81.7,-35 -81.7,-29.5 -81.7,-24.3 -81.7,-19.2 -81.7,-14.3 -81.7,-9.5 -81.7,-4.7 -81.7,0 -81.7,4.7 -81.7,9.5 -81.7,14.3 -81.7,19.2 -81.7,24.3 -81.7,29.5 -81.7,35 -81.7,40.7 -81.7,46.8 -81.7,53.3 -81.7,60.3 -81.7,68 -79,73.9 -74.6,78.4 -69.5,82.1 -63.5,84.6 -56.1,84.6 -49.3,84.6 -42.9,84.6 -36.8,84.6 -31.1,84.6 -25.6,84.6 -20.2,84.6 -15,84.6 -10,84.6 -5,84.6 0,84.6 5,84.6 10,84.6 15,84.6 20.2,84.7 25.6,84.6 31.1,84.6 36.8,84.6 42.9,84.6 49.3,84.6 56.1,84.6 63.5,84.6 71.2,84.2 76.6,80.6 81.2,76 81.7,68 81.7,60.3 81.7,53.3 81.7,46.8 81.7,40.7 81.7,35 81.7,29.5 81.7,24.3 81.7,19.2 81.7,14.3 81.7,9.5 81.7,4.7Z"/>
<path fill="#ff6e00" d="M81.7,0 81.7,-4.7 81.7,-9.5 81.7,-14.3 81.7,-19.2 81.7,-24.3 81.7,-29.5 81.7,-35 81.7,-40.7 81.7,-46.8 81.7,-53.3 81.7,-60.3 81.7,-68 78.3,-73.3 73.7,-77.5 68.5,-80.9 62.7,-83.6 56.1,-84.6 49.3,-84.6 42.9,-84.6 36.8,-84.6 31.1,-84.6 25.6,-84.6 20.2,-84.6 15,-84.6 10,-84.6 5,-84.6 0,-84.6 -5,-84.6 -10,-84.6 -15,-84.6 -20.2,-84.6 -25.6,-84.6 -31.1,-84.6 -36.8,-84.6 -42.9,-84.6 -49.3,-84.7 -55.7,-84 -61.5,-81.9 -67,-79.2 -72,-75.7 -76.3,-71.4 -79.8,-66.5 -81.7,-60.3 -81.7,-53.3 -81.7,-46.8 -81.7,-40.7 -81.7,-35 -81.7,-29.5 -81.7,-24.3 -81.7,-19.2 -81.7,-14.3 -81.7,-9.5 -81.7,-4.7 -81.7,0 -81.7,4.7 -81.7,9.5 -81.7,14.3 -81.7,19.2 -81.7,24.3 -81.7,29.5 -81.7,35 -81.7,40.7 -81.7,46.8 -81.7,53.3 -81.7,60.3 -81.7,68 -78.4,73.4 -74.1,77.9 -69,81.6 -63.4,84.4 -56.1,84.6 -49.3,84.7 -42.9,84.6 -36.8,84.6 -31.1,84.6 -25.6,84.6 -20.2,84.6 -15,84.6 -10,84.6 -5,84.6 0,84.6 5,84.6 10,84.6 15,84.6 20.2,84.6 25.6,84.6 31.1,84.6 36.8,84.6 42.9,84.6 49.3,84.6 56.1,84.7 63.5,84.6 70.7,83.6 76.1,80 80.6,75.5 81.7,68 81.7,60.3 81.7,53.3 81.7,46.8 81.7,40.7 81.7,35 81.7,29.5 81.7,24.3 81.7,19.2 81.7,14.3 81.7,9.5 81.7,4.7Z"/>
<path fill="#ff8000" d="M81.7,0 81.7,-4.7 81.7,-9.5 81.7,-14.3 81.7,-19.2 81.7,-24.3 81.7,-29.5 81.7,-35 81.7,-40.7 81.7,-46.8 81.7,-53.3 81.7,-60.3 81.4,-67.7 77.7,-72.7 73.2,-76.9 68,-80.3 62.3,-83 56.1,-84.6 49.3,-84.6 42.9,-84.7 36.8,-84.6 31.1,-84.6 25.6,-84.7 20.2,-84.6 15,-84.6 10,-84.6 5,-84.6 0,-84.6 -5,-84.6 -10,-84.6 -15,-84.6 -20.2,-84.6 -25.6,-84.6 -31.1,-84.6 -36.8,-84.6 -42.9,-84.6 -49.3,-84.6 -55.3,-83.5 -61.1,-81.3 -66.5,-78.6 -71.5,-75.1 -75.7,-70.9 -79.3,-66 -81.7,-60.3 -81.7,-53.3 -81.7,-46.8 -81.7,-40.7 -81.7,-35 -81.7,-29.5 -81.7,-24.3 -81.7,-19.2 -81.7,-14.3 -81.7,-9.5 -81.7,-4.7 -81.7,0 -81.7,4.7 -81.7,9.5 -81.7,14.3 -81.7,19.2 -81.7,24.3 -81.7,29.5 -81.7,35 -81.7,40.7 -81.7,46.8 -81.7,53.3 -81.7,60.3 -81.2,67.6 -77.8,72.8 -73.5,77.3 -68.5,81 -62.9,83.8 -56.1,84.6 -49.3,84.6 -42.9,84.6 -36.8,84.6 -31.1,84.6 -25.6,84.6 -20.2,84.6 -15,84.6 -10,84.6 -5,84.6 0,84.6 5,84.6 10,84.6 15,84.6 20.2,84.6 25.6,84.6 31.1,84.6 36.8,84.6 42.9,84.6 49.3,84.6 56.1,84.6 63.5,84.6 70.2,83 75.5,79.4 80,74.9 81.7,68 81.7,60.3 81.7,53.3 81.7,46.8 81.7,40.7 81.7,35 81.7,29.5 81.7,24.3 81.7,19.2 81.7,14.3 81.7,9.5 81.7,4.7Z"/>
<path fill="#ff9200" d="M81.7,0 81.7,-4.7 81.7,-9.5 81.7,-14.3 81.7,-19.2 81.7,-24.3 81.7,-29.5 81.7,-35 81.7,-40.7 81.7,-46.8 81.7,-53.3 81.7,-60.3 80.8,-67.2 77.1,-72.2 72.6,-76.4 67.5,-79.7 61.8,-82.3 55.9,-84.3 49.3,-84.6 42.9,-84.6 36.8,-84.6 31.1,-84.7 25.6,-84.6 20.2,-84.6 15,-84.6 10,-84.6 5,-84.6 0,-84.6 -5,-84.6 -10,-84.6 -15,-84.6 -20.2,-84.6 -25.6,-84.7 -31.1,-84.6 -36.8,-84.6 -42.9,-84.6 -49.2,-84.5 -54.9,-82.9 -60.6,-80.8 -66,-78 -70.9,-74.5 -75.2,-70.3 -78.7,-65.5 -81.4,-60.1 -81.7,-53.3 -81.7,-46.8 -81.7,-40.7 -81.7,-35 -81.7,-29.5 -81.7,-24.3 -81.7,-19.2 -81.7,-14.3 -81.7,-9.5 -81.7,-4.7 -81.7,0 -81.7,4.7 -81.7,9.5 -81.7,14.3 -81.7,19.2 -81.7,24.3 -81.7,29.5 -81.7,35 -81.7,40.7 -81.7,46.8 -81.7,53.3 -81.7,60.3 -80.6,67.1 -77.2,72.2 -73,76.7 -68,80.3 -62.4,83.2 -56.1,84.6 -49.3,84.6 -42.9,84.6 -36.8,84.6 -31.1,84.6 -25.6,84.6 -20.2,84.6 -15,84.6 -10,84.6 -5,84.6 0,84.6 5,84.6 10,84.6 15,84.6 20.2,84.6 25.6,84.6 31.1,84.6 36.8,84.7 42.9,84.6 49.3,84.6 56.1,84.6 63.5,84.6 69.7,82.3 74.9,78.8 79.4,74.3 81.7,68 81.7,60.3 81.7,53.3 81.7,46.8 81.7,40.7 81.7,35 81.7,29.5 81.7,24.3 81.7,19.2 81.7,14.3 81.7,9.5 81.7,4.7Z"/>
<path fill="#ffa500" d="M81.7,0 81.7,-4.7 81.7,-9.5 81.7,-14.3 81.7,-19.2 81.7,-24.3 81.7,-29.5 81.7,-35 81.7,-40.7 81.7,-46.8 81.7,-53.3 81.7,-60.3 80.1,-66.7 76.5,-71.6 72.1,-75.8 66.9,-79.1 61.3,-81.7 55.5,-83.7 49.3,-84.7 42.9,-84.6 36.8,-84.7 31.1,-84.6 25.6,-84.6 20.2,-84.6 15,-84.6 10,-84.6 5,-84.6 0,-84.6 -5,-84.6 -10,-84.7 -15,-84.7 -20.2,-84.6 -25.6,-84.6 -31.1,-84.6 -36.8,-84.6 -42.9,-84.6 -48.8,-83.9 -54.5,-82.3 -60.2,-80.1 -65.5,-77.4 -70.3,-74 -74.6,-69.8 -78.1,-65 -80.8,-59.7 -81.7,-53.3 -81.7,-46.8 -81.7,-40.7 -81.7,-35 -81.7,-29.5 -81.7,-24.3 -81.7,-19.2 -81.7,-14.3 -81.7,-9.5 -81.7,-4.7 -81.7,0 -81.7,4.7 -81.7,9.5 -81.7,14.3 -81.7,19.2 -81.7,24.3 -81.7,29.5 -81.7,35 -81.7,40.7 -81.7,46.8 -81.7,53.3 -81.7,60.3 -80,66.6 -76.6,71.7 -72.4,76.1 -67.4,79.7 -62,82.6 -56.1,84.6 -49.3,84.6 -42.9,84.6 -36.8,84.6 -31.1,84.6 -25.6,84.6 -20.2,84.6 -15,84.6 -10,84.6 -5,84.6 0,84.6 5,84.6 10,84.6 15,84.6 20.2,84.6 25.6,84.6 31.1,84.6 36.8,84.6 42.9,84.6 49.3,84.6 56.1,84.7 63.4,84.4 69.1,81.7 74.4,78.2 78.8,73.7 81.7,68 81.7,60.3 81.7,53.3 81.7,46.8 81.7,40.7 81.7,35 81.7,29.5 81.7,24.3 81.7,19.2 81.7,14.3 81.7,9.5 81.7,4.7Z"/>
<path fill="#ffb700" d="M81.7,0 81.7,-4.7 81.7,-9.5 81.7,-14.3 81.7,-19.2 81.7,-24.3 81.7,-29.5 81.7,-35 81.7,-40.7 81.7,-46.8 81.7,-53.3 81.7,-60.3 79.5,-66.2 75.9,-71 71.5,-75.1 66.4,-78.5 60.9,-81.1 55.1,-83.1 49.2,-84.5 42.9,-84.7 36.8,-84.6 31.1,-84.7 25.6,-84.6 20.2,-84.6 15,-84.6 10,-84.6 5,-84.6 0,-84.6 -5,-84.6 -10,-84.6 -15,-84.6 -20.2,-84.6 -25.6,-84.6 -31.1,-84.6 -36.8,-84.6 -42.8,-84.5 -48.5,-83.3 -54.1,-81.6 -59.7,-79.5 -65,-76.8 -69.8,-73.4 -74,-69.2 -77.4,-64.5 -80.2,-59.2 -81.7,-53.3 -81.7,-46.8 -81.7,-40.7 -81.7,-35 -81.7,-29.5 -81.7,-24.3 -81.7,-19.2 -81.7,-14.3 -81.7,-9.5 -81.7,-4.7 -81.7,0 -81.7,4.7 -81.7,9.5 -81.7,14.3 -81.7,19.2 -81.7,24.3 -81.7,29.5 -81.7,35 -81.7,40.7 -81.7,46.8 -81.7,53.3 -81.7,60.3 -79.4,66.1 -76,71.1 -71.8,75.5 -66.9,79.1 -61.5,81.9 -55.8,84.1 -49.3,84.6 -42.9,84.6 -36.8,84.6 -31.1,84.6 -25.6,84.7 -20.2,84.6 -15,84.6 -10,84.6 -5,84.6 0,84.6 5,84.6 10,84.6 15,84.6 20.2,84.6 25.6,84.6 31.1,84.6 36.8,84.6 42.9,84.6 49.3,84.6 56.1,84.6 62.9,83.8 68.6,81.1 73.8,77.5 78.2,73.1 81.7,68 81.7,60.3 81.7,53.3 81.7,46.8 81.7,40.7 81.7,35 81.7,29.5 81.7,24.3 81.7,19.2 81.7,14.3 81.7,9.5 81.7,4.7Z"/>
<path fill="#ffc900" d="M81.7,0 81.7,-4.7 81.7,-9.5 81.7,-14.3 81.7,-19.2 81.7,-24.3 81.7,-29.5 81.7,-35 81.7,-40.7 81.7,-46.8 81.7,-53.3 81.7,-60.3 78.9,-65.6 75.2,-70.4 70.9,-74.5 65.9,-77.9 60.4,-80.4 54.6,-82.4 48.8,-83.9 42.9,-84.6 36.8,-84.7 31.1,-84.6 25.6,-84.7 20.2,-84.6 15,-84.6 10,-84.6 5,-84.6 0,-84.6 -5,-84.6 -10,-84.6 -15,-84.6 -20.2,-84.6 -25.6,-84.6 -31.1,-84.6 -36.8,-84.6 -42.5,-83.9 -48.1,-82.6 -53.7,-81 -59.2,-78.9 -64.4,-76.2 -69.2,-72.8 -73.4,-68.6 -76.8,-63.9 -79.6,-58.7 -81.7,-53.3 -81.7,-46.8 -81.7,-40.7 -81.7,-35 -81.7,-29.5 -81.7,-24.3 -81.7,-19.2 -81.7,-14.3 -81.7,-9.5 -81.7,-4.7 -81.7,0 -81.7,4.7 -81.7,9.5 -81.7,14.3 -81.7,19.2 -81.7,24.3 -81.7,29.5 -81.7,35 -81.7,40.7 -81.7,46.8 -81.7,53.3 -81.3,60.1 -78.7,65.5 -75.3,70.5 -71.2,74.9 -66.4,78.4 -61,81.3 -55.3,83.5 -49.3,84.6 -42.9,84.6 -36.8,84.6 -31.1,84.6 -25.6,84.7 -20.2,84.6 -15,84.6 -10,84.6 -5,84.6 0,84.6 5,84.7 10,84.6 15,84.6 20.2,84.6 25.6,84.7 31.1,84.6 36.8,84.6 42.9,84.6 49.3,84.7 56.1,84.6 62.4,83.1 68,80.4 73.1,76.9 77.5,72.5 81,67.4 81.7,60.3 81.7,53.3 81.7,46.8 81.7,40.7 81.7,35 81.7,29.5 81.7,24.3 81.7,19.2 81.7,14.3 81.7,9.5 81.7,4.7Z"/>
<path fill="#ffdb00" d="M81.7,0 81.7,-4.7 81.7,-9.5 81.7,-14.3 81.7,-19.2 81.7,-24.3 81.7,-29.5 81.7,-35 81.7,-40.7 81.7,-46.8 81.7,-53.3 81,-59.8 78.2,-65.1 74.6,-69.8 70.3,-73.9 65.3,-77.2 59.9,-79.8 54.2,-81.8 48.4,-83.2 42.7,-84.3 36.8,-84.6 31.1,-84.6 25.6,-84.6 20.2,-84.6 15,-84.6 10,-84.6 5,-84.6 0,-84.6 -5,-84.6 -10,-84.6 -15,-84.6 -20.2,-84.6 -25.6,-84.6 -31.1,-84.6 -36.6,-84.2 -42.1,-83.2 -47.7,-82 -53.3,-80.4 -58.7,-78.2 -63.9,-75.5 -68.6,-72.1 -72.7,-68.1 -76.2,-63.4 -78.9,-58.3 -81.1,-52.9 -81.7,-46.8 -81.7,-40.7 -81.7,-35 -81.7,-29.5 -81.7,-24.3 -81.7,-19.2 -81.7,-14.3 -81.7,-9.5 -81.7,-4.7 -81.7,0 -81.7,4.7 -81.7,9.5 -81.7,14.3 -81.7,19.2 -81.7,24.3 -81.7,29.5 -81.7,35 -81.7,40.7 -81.7,46.8 -81.7,53.3 -80.7,59.6 -78,65 -74.7,69.9 -70.6,74.2 -65.8,77.8 -60.5,80.6 -54.9,82.8 -49.2,84.4 -42.9,84.6 -36.8,84.7 -31.1,84.6 -25.6,84.6 -20.2,84.6 -15,84.6 -10,84.6 -5,84.6 0,84.6 5,84.6 10,84.7 15,84.6 20.2,84.6 25.6,84.6 31.1,84.6 36.8,84.6 42.9,84.6 49.3,84.6 56,84.4 61.8,82.4 67.4,79.7 72.5,76.2 76.8,71.9 80.3,66.9 81.7,60.3 81.7,53.3 81.7,46.8 81.7,40.7 81.7,35 81.7,29.5 81.7,24.3 81.7,19.2 81.7,14.3 81.7,9.5 81.7,4.7Z"/>
<path fill="#ffee00" d="M81.7,0 81.7,-4.9 81.7,-9.8 81.7,-14.9 81.7,-20 81.7,-25.3 81.7,-30.7 81.7,-36.5 81.7,-42.5 81.7,-49 81.7,-55.9 79.2,-61.6 76,-66.7 71.9,-71.3 67.1,-75.1 61.7,-78.1 55.9,-80.4 50,-82.1 44.1,-83.3 38.2,-84.2 32.4,-84.6 26.6,-84.6 21,-84.6 15.6,-84.6 10.4,-84.6 5.2,-84.6 0,-84.6 -5.2,-84.6 -10.4,-84.6 -15.6,-84.6 -21,-84.6 -26.6,-84.7 -32.1,-84.1 -37.8,-83.3 -43.5,-82.2 -49.3,-80.8 -54.9,-78.9 -60.4,-76.5 -65.6,-73.4 -70.1,-69.6 -74,-65 -77.2,-60 -79.6,-54.5 -81.5,-48.9 -81.7,-42.5 -81.7,-36.5 -81.7,-30.7 -81.7,-25.3 -81.7,-20 -81.7,-14.9 -81.7,-9.8 -81.7,-4.9 -81.7,0 -81.7,4.9 -81.7,9.8 -81.7,14.9 -81.7,20 -81.7,25.3 -81.7,30.7 -81.7,36.5 -81.7,42.5 -81.7,49 -81.3,55.6 -79,61.4 -75.9,66.7 -72.1,71.5 -67.5,75.6 -62.3,78.8 -56.6,81.3 -50.7,83.2 -44.8,84.6 -38.4,84.6 -32.4,84.6 -26.6,84.7 -21,84.7 -15.6,84.6 -10.4,84.6 -5.2,84.6 0,84.6 5.2,84.6 10.4,84.6 15.6,84.6 21,84.6 26.6,84.6 32.4,84.6 38.4,84.6 44.8,84.6 51.6,84.6 57.8,83 63.7,80.7 69.2,77.5 74.1,73.5 78.1,68.7 81.3,63.2 81.7,55.9 81.7,49 81.7,42.5 81.7,36.5 81.7,30.7 81.7,25.3 81.7,20 81.7,14.9 81.7,9.8 81.7,4.9Z"/>
<path fill="#feff00" d="M81.7,0 81.7,-4.9 81.7,-9.8 81.7,-14.9 81.7,-20 81.7,-25.3 81.7,-30.7 81.7,-36.5 81.7,-42.5 81.7,-49 81.1,-55.5 78.5,-61 75.3,-66.1 71.2,-70.7 66.5,-74.4 61.1,-77.4 55.5,-79.7 49.6,-81.4 43.7,-82.7 37.9,-83.6 32.2,-84.2 26.6,-84.6 21,-84.6 15.6,-84.6 10.4,-84.6 5.2,-84.6 0,-84.6 -5.2,-84.6 -10.4,-84.6 -15.6,-84.6 -21,-84.4 -26.4,-84 -31.9,-83.4 -37.5,-82.6 -43.2,-81.6 -48.8,-80.1 -54.5,-78.3 -59.9,-75.8 -65,-72.7 -69.5,-68.9 -73.3,-64.5 -76.5,-59.4 -78.9,-54 -80.8,-48.5 -81.7,-42.5 -81.7,-36.5 -81.7,-30.7 -81.7,-25.3 -81.7,-20 -81.7,-14.9 -81.7,-9.8 -81.7,-4.9 -81.7,0 -81.7,4.9 -81.7,9.8 -81.7,14.9 -81.7,20 -81.7,25.3 -81.7,30.7 -81.7,36.5 -81.7,42.5 -81.7,49 -80.6,55.2 -78.3,60.8 -75.2,66.1 -71.4,70.9 -66.9,74.9 -61.7,78.1 -56.1,80.6 -50.3,82.6 -44.4,84 -38.4,84.6 -32.4,84.6 -26.6,84.6 -21,84.6 -15.6,84.7 -10.4,84.6 -5.2,84.6 0,84.6 5.2,84.7 10.4,84.6 15.6,84.6 21,84.7 26.6,84.6 32.4,84.6 38.4,84.6 44.8,84.7 51.2,84 57.3,82.3 63.1,79.9 68.6,76.8 73.4,72.8 77.4,68 80.6,62.6 81.7,55.9 81.7,49 81.7,42.5 81.7,36.5 81.7,30.7 81.7,25.3 81.7,20 81.7,14.9 81.7,9.8 81.7,4.9Z"/>
<path fill="#ecff00" d="M81.7,0 81.7,-4.9 81.7,-9.8 81.7,-14.9 81.7,-20 81.7,-25.3 81.7,-30.7 81.7,-36.5 81.7,-42.5 81.7,-49 80.4,-55 77.8,-60.5 74.6,-65.5 70.6,-70 65.8,-73.7 60.6,-76.7 55,-79 49.2,-80.7 43.4,-82 37.6,-82.9 31.9,-83.5 26.4,-84 20.9,-84.3 15.6,-84.4 10.3,-84.5 5.2,-84.5 0,-84.4 -5.1,-84.4 -10.3,-84.3 -15.5,-84.1 -20.8,-83.8 -26.2,-83.3 -31.6,-82.8 -37.2,-81.9 -42.8,-80.9 -48.4,-79.4 -54,-77.6 -59.4,-75.1 -64.4,-72.1 -68.8,-68.3 -72.7,-63.9 -75.8,-58.9 -78.2,-53.6 -80.1,-48.1 -81.6,-42.5 -81.7,-36.5 -81.7,-30.7 -81.7,-25.3 -81.7,-20 -81.7,-14.9 -81.7,-9.8 -81.7,-4.9 -81.7,0 -81.7,4.9 -81.7,9.8 -81.7,14.9 -81.7,20 -81.7,25.3 -81.7,30.7 -81.7,36.5 -81.7,42.5 -81.6,48.9 -79.8,54.7 -77.5,60.3 -74.5,65.5 -70.8,70.2 -66.3,74.2 -61.1,77.4 -55.6,79.9 -49.9,81.8 -44.1,83.3 -38.3,84.4 -32.4,84.6 -26.6,84.7 -21,84.6 -15.6,84.6 -10.4,84.6 -5.2,84.6 0,84.7 5.2,84.6 10.4,84.6 15.6,84.6 21,84.6 26.6,84.6 32.4,84.6 38.4,84.6 44.7,84.6 50.8,83.3 56.8,81.6 62.6,79.2 68,76.1 72.7,72.1 76.7,67.4 79.8,62 81.7,55.9 81.7,49 81.7,42.5 81.7,36.5 81.7,30.7 81.7,25.3 81.7,20 81.7,14.9 81.7,9.8 81.7,4.9Z"/>
<path fill="#daff00" d="M81.7,0 81.7,-4.9 81.7,-9.8 81.7,-14.9 81.7,-20 81.7,-25.3 81.7,-30.7 81.7,-36.5 81.7,-42.5 81.6,-48.9 79.6,-54.5 77.1,-59.9 73.9,-64.9 69.9,-69.3 65.2,-73 60,-76 54.5,-78.3 48.8,-80 43,-81.3 37.3,-82.2 31.7,-82.9 26.2,-83.3 20.8,-83.6 15.5,-83.8 10.3,-83.8 5.1,-83.8 0,-83.8 -5.1,-83.7 -10.2,-83.6 -15.4,-83.4 -20.6,-83.1 -26,-82.7 -31.4,-82.1 -36.9,-81.3 -42.4,-80.2 -48,-78.7 -53.5,-76.9 -58.8,-74.4 -63.7,-71.4 -68.2,-67.6 -72,-63.2 -75.1,-58.3 -77.5,-53.1 -79.4,-47.6 -80.9,-42.1 -81.7,-36.5 -81.7,-30.7 -81.7,-25.3 -81.7,-20 -81.7,-14.9 -81.7,-9.8 -81.7,-4.9 -81.7,0 -81.7,4.9 -81.7,9.8 -81.7,14.9 -81.7,20 -81.7,25.3 -81.7,30.7 -81.7,36.5 -81.7,42.5 -80.8,48.5 -79.1,54.2 -76.8,59.7 -73.8,64.9 -70.1,69.5 -65.6,73.5 -60.6,76.7 -55.1,79.2 -49.4,81.1 -43.7,82.6 -38,83.7 -32.3,84.5 -26.6,84.6 -21,84.7 -15.6,84.6 -10.4,84.6 -5.2,84.6 0,84.6 5.2,84.6 10.4,84.7 15.6,84.6 21,84.6 26.6,84.6 32.4,84.7 38.4,84.6 44.4,83.8 50.3,82.6 56.2,80.8 62,78.5 67.3,75.4 72,71.4 76,66.7 79.1,61.4 81.4,55.8 81.7,49 81.7,42.5 81.7,36.5 81.7,30.7 81.7,25.3 81.7,20 81.7,14.9 81.7,9.8 81.7,4.9Z"/>
<path fill="#c8ff00" d="M81.7,0 81.7,-4.9 81.7,-9.8 81.7,-14.9 81.7,-20 81.7,-25.3 81.7,-30.7 81.7,-36.5 81.7,-42.5 80.8,-48.5 78.9,-54 76.3,-59.3 73.1,-64.3 69.2,-68.6 64.6,-72.3 59.4,-75.2 54,-77.5 48.3,-79.3 42.6,-80.5 37,-81.5 31.4,-82.1 26,-82.6 20.6,-82.9 15.3,-83.1 10.2,-83.1 5.1,-83.1 0,-83.1 -5.1,-83 -10.1,-82.9 -15.3,-82.7 -20.5,-82.4 -25.7,-82 -31.1,-81.4 -36.5,-80.5 -42,-79.5 -47.5,-78 -53,-76.1 -58.2,-73.7 -63.1,-70.7 -67.5,-67 -71.3,-62.6 -74.3,-57.8 -76.8,-52.6 -78.7,-47.2 -80.2,-41.7 -81.3,-36.3 -81.7,-30.7 -81.7,-25.3 -81.7,-20 -81.7,-14.9 -81.7,-9.8 -81.7,-4.9 -81.7,0 -81.7,4.9 -81.7,9.8 -81.7,14.9 -81.7,20 -81.7,25.3 -81.7,30.7 -81.7,36.5 -81.4,42.4 -80.1,48 -78.4,53.6 -76.1,59.1 -73.1,64.2 -69.4,68.8 -65,72.7 -60,75.9 -54.6,78.4 -49,80.4 -43.3,81.8 -37.6,82.9 -32,83.8 -26.5,84.4 -21,84.6 -15.6,84.6 -10.4,84.6 -5.2,84.6 0,84.6 5.2,84.6 10.4,84.6 15.6,84.6 21,84.6 26.6,84.6 32.4,84.6 38.1,84 44,83.1 49.9,81.8 55.7,80 61.4,77.7 66.6,74.6 71.3,70.7 75.2,66.1 78.3,60.8 80.7,55.2 81.7,49 81.7,42.5 81.7,36.5 81.7,30.7 81.7,25.3 81.7,20 81.7,14.9 81.7,9.8 81.7,4.9Z"/>
<path fill="#b5ff00" d="M81.7,0 81.7,-4.9 81.7,-9.8 81.7,-14.9 81.7,-20 81.7,-25.3 81.7,-30.7 81.7,-36.5 81.5,-42.5 80.1,-48 78.1,-53.5 75.6,-58.7 72.4,-63.6 68.5,-67.9 63.9,-71.5 58.8,-74.5 53.4,-76.8 47.8,-78.5 42.2,-79.8 36.6,-80.7 31.1,-81.4 25.7,-81.9 20.4,-82.2 15.2,-82.4 10.1,-82.4 5,-82.4 0,-82.4 -5,-82.3 -10.1,-82.2 -15.1,-82 -20.3,-81.7 -25.5,-81.2 -30.8,-80.6 -36.2,-79.8 -41.7,-78.7 -47.1,-77.3 -52.5,-75.4 -57.6,-73 -62.5,-69.9 -66.8,-66.3 -70.5,-62 -73.6,-57.2 -76,-52.1 -77.9,-46.7 -79.4,-41.3 -80.5,-35.9 -81.4,-30.6 -81.7,-25.3 -81.7,-20 -81.7,-14.9 -81.7,-9.8 -81.7,-4.9 -81.7,0 -81.7,4.9 -81.7,9.8 -81.7,14.9 -81.7,20 -81.7,25.3 -81.7,30.7 -81.6,36.4 -80.6,42 -79.3,47.6 -77.6,53.1 -75.3,58.5 -72.3,63.6 -68.7,68.1 -64.3,72 -59.4,75.2 -54,77.7 -48.5,79.6 -42.9,81.1 -37.3,82.2 -31.7,83 -26.3,83.6 -20.9,84.1 -15.6,84.4 -10.4,84.6 -5.2,84.6 0,84.6 5.2,84.6 10.4,84.7 15.6,84.6 21,84.6 26.5,84.4 32.1,83.9 37.8,83.3 43.6,82.3 49.4,81 55.2,79.3 60.7,76.9 65.9,73.8 70.6,70 74.4,65.4 77.5,60.2 79.9,54.7 81.6,48.9 81.7,42.5 81.7,36.5 81.7,30.7 81.7,25.3 81.7,20 81.7,14.9 81.7,9.8 81.7,4.9Z"/>
<path fill="#a3ff00" d="M81.7,0 81.7,-5.1 81.7,-10.2 81.7,-15.5 81.7,-20.8 81.7,-26.3 81.7,-32.1 81.6,-38.1 80.3,-43.8 78.6,-49.5 76.4,-55 73.5,-60.3 69.8,-65 65.5,-69.1 60.5,-72.5 55,-75.1 49.4,-77.2 43.6,-78.7 37.8,-79.7 32.1,-80.5 26.6,-81.1 21.1,-81.4 15.7,-81.6 10.4,-81.7 5.2,-81.7 0,-81.6 -5.2,-81.6 -10.4,-81.4 -15.6,-81.2 -20.9,-80.9 -26.3,-80.4 -31.8,-79.7 -37.4,-78.8 -43,-77.5 -48.6,-75.9 -54,-73.7 -59.2,-71 -63.9,-67.5 -68.1,-63.4 -71.6,-58.7 -74.4,-53.6 -76.6,-48.2 -78.2,-42.7 -79.5,-37.1 -80.4,-31.6 -81.1,-26.1 -81.6,-20.8 -81.7,-15.5 -81.7,-10.2 -81.7,-5.1 -81.7,0 -81.7,5.1 -81.7,10.2 -81.7,15.5 -81.7,20.8 -81.7,26.3 -81.3,31.9 -80.6,37.6 -79.5,43.3 -78,49.1 -76,54.7 -73.3,60.1 -69.9,65.1 -65.8,69.5 -60.9,73.1 -55.6,76 -50,78.2 -44.3,79.9 -38.5,81.1 -32.8,82.1 -27.1,82.8 -21.6,83.3 -16.1,83.6 -10.7,83.8 -5.3,84 0,84 5.3,84.1 10.7,84.1 16.2,84 21.7,83.9 27.4,83.5 33.1,83 39,82.2 45,81.2 51,79.6 56.8,77.6 62.4,74.8 67.5,71.3 71.9,67 75.4,61.9 78.2,56.3 80.2,50.5 81.7,44.6 81.7,38.1 81.7,32.1 81.7,26.3 81.7,20.8 81.7,15.5 81.7,10.2 81.7,5.1Z"/>
<path fill="#00ff00" d="M81.7,0 81.7,-5.1 81.7,-10.2 81.7,-15.5 81.7,-20.8 81.7,-26.3 81.7,-32.1 80.8,-37.7 79.5,-43.4 77.8,-49 75.6,-54.4 72.7,-59.6 69.1,-64.3 64.7,-68.4 59.8,-71.7 54.5,-74.4 48.9,-76.4 43.2,-77.9 37.5,-79 31.8,-79.7 26.3,-80.3 20.9,-80.6 15.5,-80.9 10.3,-80.9 5.1,-80.9 0,-80.9 -5.1,-80.8 -10.3,-80.7 -15.5,-80.5 -20.7,-80.1 -26.1,-79.6 -31.5,-79 -37,-78 -42.5,-76.8 -48.1,-75.1 -53.4,-73 -58.6,-70.2 -63.2,-66.8 -67.4,-62.7 -70.8,-58.1 -73.6,-53 -75.8,-47.7 -77.4,-42.2 -78.7,-36.7 -79.7,-31.3 -80.4,-25.9 -80.9,-20.6 -81.2,-15.4 -81.4,-10.2 -81.6,-5.1 -81.7,0 -81.7,5.1 -81.7,10.2 -81.6,15.4 -81.4,20.7 -81.1,26.1 -80.6,31.6 -79.8,37.2 -78.7,42.9 -77.2,48.6 -75.2,54.2 -72.5,59.5 -69.1,64.4 -65,68.7 -60.3,72.3 -55,75.1 -49.5,77.4 -43.8,79.1 -38.1,80.3 -32.4,81.3 -26.9,82 -21.4,82.5 -15.9,82.8 -10.6,83.1 -5.3,83.2 0,83.3 5.3,83.3 10.6,83.3 16,83.3 21.5,83.1 27.1,82.7 32.8,82.2 38.6,81.4 44.5,80.3 50.4,78.8 56.2,76.8 61.7,74 66.8,70.5 71.1,66.2 74.6,61.2 77.4,55.7 79.4,50 80.9,44.1 81.7,38.1 81.7,32.1 81.7,26.3 81.7,20.8 81.7,15.5 81.7,10.2 81.7,5.1Z"/>
<path fill="#00ff00" d="M81.7,0 81.7,-5.1 81.7,-10.2 81.7,-15.5 81.7,-20.8 81.7,-26.3 81,-31.8 80,-37.3 78.7,-42.9 77,-48.5 74.7,-53.8 71.8,-59 68.3,-63.6 64,-67.6 59.1,-70.9 53.9,-73.5 48.3,-75.5 42.7,-77.1 37.1,-78.2 31.5,-79 26,-79.5 20.7,-79.9 15.4,-80.1 10.2,-80.2 5.1,-80.2 0,-80.1 -5.1,-80.1 -10.2,-79.9 -15.3,-79.7 -20.5,-79.4 -25.8,-78.9 -31.2,-78.2 -36.6,-77.2 -42.1,-76 -47.5,-74.3 -52.9,-72.2 -57.9,-69.4 -62.5,-66 -66.6,-62 -70,-57.4 -72.8,-52.4 -75,-47.2 -76.6,-41.8 -77.9,-36.4 -78.9,-31 -79.6,-25.6 -80.1,-20.4 -80.4,-15.2 -80.7,-10.1 -80.8,-5 -80.9,0 -81,5.1 -81,10.1 -80.9,15.3 -80.7,20.5 -80.3,25.9 -79.8,31.3 -79,36.9 -77.9,42.5 -76.4,48.1 -74.3,53.6 -71.7,58.8 -68.3,63.7 -64.3,67.9 -59.6,71.5 -54.4,74.3 -49,76.5 -43.4,78.2 -37.7,79.5 -32.1,80.5 -26.6,81.2 -21.1,81.7 -15.8,82 -10.5,82.3 -5.2,82.4 0,82.5 5.2,82.5 10.5,82.6 15.9,82.5 21.3,82.3 26.8,81.9 32.5,81.4 38.2,80.6 44.1,79.5 49.9,78 55.6,75.9 61,73.2 66,69.7 70.3,65.4 73.8,60.5 76.5,55.1 78.6,49.5 80.1,43.7 81.2,37.9 81.7,32.1 81.7,26.3 81.7,20.8 81.7,15.5 81.7,10.2 81.7,5.1Z"/>
<path fill="#00ff00" d="M81.7,0 81.7,-5.1 81.7,-10.2 81.7,-15.5 81.4,-20.7 80.9,-26.1 80.1,-31.5 79.2,-36.9 77.8,-42.4 76.1,-47.9 73.9,-53.2 71,-58.3 67.5,-62.8 63.2,-66.8 58.5,-70.1 53.3,-72.7 47.8,-74.7 42.2,-76.2 36.7,-77.3 31.2,-78.1 25.8,-78.7 20.5,-79.1 15.2,-79.3 10.1,-79.4 5,-79.4 0,-79.3 -5,-79.3 -10.1,-79.1 -15.2,-78.9 -20.3,-78.6 -25.6,-78.1 -30.9,-77.4 -36.3,-76.4 -41.7,-75.1 -47,-73.5 -52.3,-71.3 -57.2,-68.6 -61.8,-65.3 -65.8,-61.3 -69.2,-56.8 -72,-51.9 -74.1,-46.7 -75.8,-41.3 -77.1,-36 -78.1,-30.7 -78.8,-25.4 -79.3,-20.2 -79.6,-15.1 -79.9,-10 -80,-5 -80.1,0 -80.2,5 -80.2,10 -80.1,15.1 -79.9,20.3 -79.5,25.6 -78.9,31 -78.1,36.5 -77,42 -75.5,47.5 -73.5,53 -70.9,58.1 -67.5,62.9 -63.5,67.1 -58.9,70.6 -53.8,73.5 -48.4,75.7 -42.9,77.4 -37.3,78.7 -31.8,79.7 -26.3,80.4 -20.9,80.9 -15.6,81.2 -10.4,81.4 -5.2,81.6 0,81.7 5.2,81.7 10.4,81.7 15.7,81.6 21.1,81.4 26.6,81.1 32.2,80.6 37.8,79.8 43.6,78.6 49.3,77.1 55,75 60.3,72.3 65.2,68.9 69.4,64.7 72.9,59.8 75.6,54.5 77.7,48.9 79.2,43.2 80.3,37.5 81.1,31.9 81.7,26.3 81.7,20.8 81.7,15.5 81.7,10.2 81.7,5.1Z"/>
<path fill="#00ff00" d="M81.4,0 81.3,-5.1 81.1,-10.2 80.9,-15.3 80.5,-20.5 80,-25.8 79.3,-31.1 78.3,-36.5 77,-42 75.2,-47.4 73,-52.6 70.1,-57.6 66.6,-62.1 62.5,-66 57.8,-69.2 52.6,-71.8 47.2,-73.8 41.8,-75.4 36.3,-76.5 30.9,-77.3 25.5,-77.9 20.3,-78.2 15.1,-78.5 10,-78.6 5,-78.6 0,-78.5 -5,-78.4 -10,-78.3 -15,-78.1 -20.1,-77.7 -25.3,-77.2 -30.5,-76.5 -35.9,-75.6 -41.2,-74.3 -46.5,-72.6 -51.6,-70.5 -56.5,-67.8 -61.1,-64.5 -65,-60.6 -68.4,-56.1 -71.1,-51.2 -73.3,-46.1 -75,-40.9 -76.3,-35.6 -77.2,-30.3 -77.9,-25.1 -78.5,-20 -78.8,-14.9 -79,-9.9 -79.2,-4.9 -79.3,0 -79.3,5 -79.3,9.9 -79.2,15 -79,20.1 -78.7,25.3 -78.1,30.7 -77.3,36.1 -76.2,41.5 -74.6,47 -72.6,52.3 -70,57.4 -66.7,62.1 -62.8,66.3 -58.2,69.8 -53.2,72.6 -47.9,74.8 -42.4,76.5 -36.9,77.8 -31.5,78.8 -26,79.5 -20.7,80 -15.5,80.4 -10.3,80.6 -5.1,80.8 0,80.8 5.1,80.9 10.3,80.9 15.5,80.8 20.9,80.6 26.3,80.2 31.8,79.7 37.4,78.9 43.1,77.8 48.8,76.2 54.3,74.1 59.6,71.4 64.4,68 68.6,63.9 72,59.1 74.7,53.8 76.8,48.3 78.3,42.7 79.5,37.1 80.3,31.5 80.8,26 81.2,20.7 81.4,15.4 81.4,10.2 81.4,5.1Z"/>
<path fill="#00ff00" d="M80.5,0 80.4,-5 80.3,-10.1 80,-15.1 79.6,-20.3 79.1,-25.5 78.4,-30.8 77.4,-36.1 76.1,-41.5 74.3,-46.8 72.1,-52 69.3,-56.8 65.8,-61.3 61.7,-65.1 57,-68.4 52,-71 46.7,-73 41.3,-74.5 35.9,-75.6 30.5,-76.4 25.2,-77 20,-77.4 14.9,-77.6 9.9,-77.7 4.9,-77.7 0,-77.7 -4.9,-77.6 -9.9,-77.5 -14.9,-77.2 -19.9,-76.9 -25,-76.4 -30.2,-75.7 -35.4,-74.7 -40.7,-73.4 -45.9,-71.8 -51,-69.6 -55.8,-67 -60.3,-63.7 -64.2,-59.8 -67.5,-55.4 -70.2,-50.6 -72.4,-45.6 -74.1,-40.4 -75.4,-35.2 -76.4,-30 -77.1,-24.8 -77.6,-19.8 -78,-14.8 -78.2,-9.8 -78.3,-4.9 -78.4,0 -78.5,4.9 -78.5,9.8 -78.4,14.8 -78.2,19.9 -77.8,25.1 -77.2,30.3 -76.4,35.7 -75.3,41 -73.7,46.4 -71.7,51.7 -69.1,56.7 -65.9,61.3 -62,65.4 -57.5,68.9 -52.5,71.7 -47.3,73.9 -41.9,75.6 -36.5,76.9 -31.1,77.9 -25.8,78.6 -20.5,79.2 -15.3,79.5 -10.2,79.7 -5.1,79.9 0,80 5.1,80 10.2,80 15.4,79.9 20.6,79.7 26,79.4 31.5,78.8 37,78 42.6,76.8 48.2,75.3 53.6,73.2 58.8,70.5 63.6,67.1 67.7,63 71.1,58.3 73.8,53.2 75.9,47.8 77.4,42.2 78.6,36.7 79.4,31.2 79.9,25.8 80.3,20.4 80.5,15.2 80.6,10.1 80.6,5Z"/>
<path fill="#00ff00" d="M79.6,0 79.5,-5.2 79.3,-10.4 79.1,-15.6 78.7,-20.9 78.1,-26.3 77.2,-31.7 76.1,-37.2 74.6,-42.7 72.6,-48.1 70.1,-53.3 66.9,-58.2 63,-62.5 58.4,-66.1 53.4,-69.1 48.1,-71.4 42.6,-73.1 37,-74.4 31.5,-75.4 26,-76 20.7,-76.5 15.4,-76.7 10.2,-76.8 5.1,-76.9 0,-76.8 -5.1,-76.7 -10.2,-76.6 -15.3,-76.3 -20.5,-75.9 -25.8,-75.4 -31.1,-74.6 -36.5,-73.5 -41.9,-72 -47.3,-70.2 -52.4,-67.7 -57.2,-64.7 -61.5,-61 -65.2,-56.7 -68.3,-52 -70.8,-46.9 -72.7,-41.6 -74.1,-36.3 -75.3,-30.9 -76.1,-25.6 -76.6,-20.4 -77,-15.2 -77.3,-10.1 -77.5,-5 -77.6,0 -77.6,5 -77.6,10.1 -77.5,15.3 -77.2,20.5 -76.8,25.9 -76.1,31.3 -75.2,36.8 -73.9,42.3 -72.1,47.8 -69.8,53.1 -66.8,58.1 -63.1,62.6 -58.8,66.5 -53.9,69.7 -48.7,72.2 -43.2,74.2 -37.6,75.7 -32.1,76.8 -26.6,77.6 -21.1,78.2 -15.8,78.6 -10.5,78.8 -5.2,79 0,79.1 5.2,79.1 10.5,79.1 15.8,79 21.3,78.8 26.8,78.3 32.4,77.7 38.2,76.8 43.9,75.4 49.6,73.6 55.1,71.2 60.2,68.1 64.8,64.3 68.7,59.7 71.8,54.6 74.2,49.2 76,43.5 77.3,37.8 78.3,32.2 78.9,26.6 79.3,21.1 79.6,15.7 79.7,10.4 79.7,5.2Z"/>
<path fill="#00ff00" d="M78.7,0 78.6,-5.1 78.4,-10.2 78.1,-15.4 77.7,-20.7 77.1,-26 76.3,-31.3 75.2,-36.8 73.7,-42.2 71.7,-47.5 69.1,-52.6 66,-57.4 62.1,-61.6 57.6,-65.2 52.7,-68.1 47.4,-70.4 42,-72.2 36.5,-73.5 31.1,-74.4 25.7,-75.1 20.4,-75.6 15.2,-75.8 10.1,-75.9 5,-76 0,-75.9 -5,-75.8 -10,-75.7 -15.1,-75.4 -20.3,-75 -25.5,-74.5 -30.8,-73.7 -36.1,-72.6 -41.4,-71.1 -46.6,-69.2 -51.7,-66.8 -56.4,-63.8 -60.7,-60.2 -64.3,-56 -67.4,-51.3 -69.8,-46.3 -71.8,-41.1 -73.2,-35.8 -74.3,-30.5 -75.2,-25.3 -75.7,-20.1 -76.1,-15 -76.4,-10 -76.6,-5 -76.7,0 -76.7,5 -76.7,10 -76.6,15.1 -76.3,20.3 -75.9,25.5 -75.2,30.9 -74.3,36.3 -73,41.8 -71.2,47.2 -68.9,52.4 -65.9,57.3 -62.3,61.8 -58,65.6 -53.2,68.8 -48,71.3 -42.6,73.2 -37.2,74.7 -31.7,75.8 -26.2,76.7 -20.9,77.3 -15.6,77.7 -10.3,77.9 -5.2,78.1 0,78.2 5.2,78.2 10.4,78.2 15.7,78.1 21,77.8 26.5,77.4 32,76.7 37.7,75.8 43.3,74.5 48.9,72.7 54.4,70.3 59.4,67.2 63.9,63.4 67.7,58.9 70.8,53.9 73.2,48.5 75,43 76.4,37.3 77.3,31.8 78,26.2 78.4,20.8 78.6,15.5 78.7,10.3 78.7,5.1Z"/>
<path fill="#00ff00" d="M77.7,0 77.6,-5 77.5,-10.1 77.2,-15.2 76.8,-20.4 76.2,-25.6 75.3,-30.9 74.2,-36.3 72.7,-41.6 70.7,-46.9 68.2,-51.9 65,-56.6 61.2,-60.7 56.8,-64.3 52,-67.2 46.8,-69.5 41.5,-71.2 36.1,-72.5 30.7,-73.5 25.4,-74.2 20.2,-74.6 15,-74.9 10,-75 5,-75 0,-75 -5,-74.9 -9.9,-74.8 -14.9,-74.5 -20,-74.1 -25.2,-73.5 -30.4,-72.7 -35.6,-71.6 -40.9,-70.2 -46,-68.3 -51,-65.9 -55.6,-62.9 -59.8,-59.3 -63.4,-55.2 -66.5,-50.6 -68.9,-45.7 -70.8,-40.5 -72.3,-35.4 -73.4,-30.2 -74.2,-25 -74.8,-19.9 -75.2,-14.8 -75.5,-9.9 -75.6,-4.9 -75.7,0 -75.8,4.9 -75.8,9.9 -75.6,14.9 -75.4,20 -74.9,25.2 -74.3,30.5 -73.3,35.9 -72,41.2 -70.2,46.5 -67.9,51.7 -65,56.5 -61.4,60.9 -57.2,64.7 -52.4,67.8 -47.4,70.3 -42.1,72.3 -36.7,73.8 -31.3,74.9 -25.9,75.7 -20.6,76.3 -15.4,76.7 -10.2,77 -5.1,77.1 0,77.2 5.1,77.3 10.3,77.2 15.5,77.1 20.8,76.9 26.2,76.4 31.6,75.8 37.2,74.8 42.8,73.5 48.3,71.7 53.6,69.3 58.6,66.2 63,62.5 66.8,58.1 69.8,53.1 72.2,47.9 74,42.4 75.4,36.9 76.3,31.4 77,25.9 77.4,20.6 77.7,15.3 77.8,10.2 77.8,5.1Z"/>
<path fill="#00ff01" d="M76.7,0 76.6,-5 76.5,-10 76.2,-15 75.8,-20.1 75.2,-25.3 74.3,-30.5 73.2,-35.8 71.7,-41 69.7,-46.2 67.2,-51.1 64.1,-55.7 60.3,-59.8 56,-63.3 51.2,-66.2 46.1,-68.5 40.9,-70.2 35.6,-71.6 30.3,-72.5 25.1,-73.2 19.9,-73.7 14.8,-73.9 9.8,-74.1 4.9,-74.1 0,-74.1 -4.9,-74 -9.8,-73.8 -14.8,-73.6 -19.8,-73.2 -24.8,-72.6 -30,-71.8 -35.1,-70.7 -40.3,-69.2 -45.4,-67.3 -50.2,-65 -54.8,-62 -58.9,-58.5 -62.5,-54.4 -65.5,-49.9 -67.9,-45 -69.8,-40 -71.3,-34.9 -72.4,-29.8 -73.2,-24.7 -73.8,-19.6 -74.3,-14.6 -74.5,-9.7 -74.7,-4.9 -74.8,0 -74.8,4.9 -74.8,9.8 -74.7,14.7 -74.4,19.8 -73.9,24.9 -73.3,30.1 -72.3,35.4 -71,40.6 -69.2,45.9 -66.9,50.9 -64,55.7 -60.5,60 -56.3,63.7 -51.7,66.8 -46.7,69.3 -41.5,71.3 -36.2,72.8 -30.9,73.9 -25.6,74.7 -20.3,75.3 -15.2,75.7 -10.1,76 -5,76.1 0,76.2 5,76.3 10.1,76.3 15.3,76.1 20.5,75.9 25.8,75.4 31.2,74.7 36.7,73.8 42.2,72.4 47.6,70.6 52.8,68.3 57.7,65.2 62,61.5 65.8,57.2 68.8,52.4 71.2,47.2 73,41.8 74.3,36.4 75.3,30.9 76,25.6 76.4,20.3 76.7,15.1 76.8,10 76.8,5Z"/>
<path fill="#00ff13" d="M75.7,0 75.6,-5.1 75.4,-10.3 75.1,-15.5 74.7,-20.7 74,-26.1 73,-31.5 71.7,-36.9 70,-42.2 67.7,-47.4 64.9,-52.4 61.4,-56.9 57.2,-60.8 52.5,-64 47.4,-66.7 42.1,-68.7 36.7,-70.2 31.2,-71.3 25.8,-72.1 20.5,-72.6 15.3,-72.9 10.1,-73.1 5,-73.1 0,-73.1 -5,-73 -10.1,-72.8 -15.2,-72.5 -20.4,-72.1 -25.6,-71.4 -30.9,-70.5 -36.2,-69.3 -41.5,-67.6 -46.6,-65.5 -51.5,-62.8 -56,-59.5 -59.9,-55.5 -63.3,-51.1 -66,-46.2 -68.2,-41.1 -69.9,-35.9 -71.2,-30.7 -72.1,-25.4 -72.8,-20.2 -73.2,-15.1 -73.5,-10 -73.7,-5 -73.8,0 -73.8,5 -73.8,10.1 -73.6,15.2 -73.3,20.4 -72.8,25.7 -72,31 -70.9,36.4 -69.4,41.9 -67.4,47.2 -64.7,52.2 -61.4,56.9 -57.5,61 -52.9,64.5 -47.9,67.4 -42.7,69.6 -37.3,71.3 -31.8,72.6 -26.3,73.5 -21,74.2 -15.6,74.7 -10.4,74.9 -5.2,75.1 0,75.2 5.2,75.3 10.4,75.2 15.7,75.1 21.1,74.8 26.6,74.3 32.2,73.5 37.8,72.4 43.4,70.8 48.9,68.7 54.1,66 58.9,62.6 63.1,58.4 66.5,53.7 69.2,48.5 71.3,43 72.9,37.5 74,31.9 74.8,26.4 75.3,20.9 75.6,15.6 75.7,10.3 75.8,5.1Z"/>
<path fill="#00ff25" d="M74.7,0 74.6,-5.1 74.4,-10.1 74.1,-15.3 73.6,-20.5 72.9,-25.7 71.9,-31 70.6,-36.3 68.9,-41.6 66.7,-46.7 63.9,-51.5 60.4,-55.9 56.3,-59.8 51.7,-63 46.7,-65.6 41.5,-67.6 36.1,-69.1 30.8,-70.3 25.5,-71 20.2,-71.6 15.1,-71.9 10,-72.1 5,-72.1 0,-72.1 -5,-72 -10,-71.8 -15,-71.5 -20.1,-71.1 -25.2,-70.4 -30.4,-69.5 -35.7,-68.2 -40.8,-66.6 -45.9,-64.5 -50.7,-61.8 -55.1,-58.5 -59,-54.6 -62.3,-50.3 -65,-45.5 -67.2,-40.5 -68.9,-35.4 -70.1,-30.2 -71.1,-25 -71.7,-19.9 -72.2,-14.9 -72.5,-9.9 -72.7,-4.9 -72.7,0 -72.8,4.9 -72.8,9.9 -72.6,15 -72.3,20.1 -71.8,25.3 -71,30.6 -69.9,35.9 -68.3,41.2 -66.3,46.4 -63.7,51.4 -60.4,56 -56.5,60.1 -52.1,63.5 -47.2,66.3 -42,68.5 -36.7,70.2 -31.3,71.5 -26,72.5 -20.7,73.1 -15.4,73.6 -10.2,73.9 -5.1,74.1 0,74.2 5.1,74.2 10.3,74.2 15.5,74 20.8,73.7 26.2,73.2 31.7,72.4 37.2,71.3 42.7,69.7 48.1,67.6 53.2,64.9 57.9,61.5 62,57.5 65.4,52.8 68.1,47.7 70.2,42.4 71.8,36.9 72.9,31.4 73.7,26 74.2,20.6 74.5,15.4 74.7,10.2 74.7,5.1Z"/>
<path fill="#00ff37" d="M73.6,0 73.5,-5 73.3,-10 73,-15 72.5,-20.1 71.8,-25.3 70.8,-30.5 69.5,-35.7 67.8,-40.9 65.6,-45.9 62.8,-50.7 59.4,-55 55.4,-58.8 50.8,-62 45.9,-64.5 40.8,-66.5 35.6,-68.1 30.3,-69.2 25.1,-70 19.9,-70.5 14.8,-70.8 9.8,-71 4.9,-71 0,-71 -4.9,-70.9 -9.8,-70.8 -14.8,-70.5 -19.8,-70 -24.9,-69.4 -30,-68.4 -35.1,-67.2 -40.2,-65.5 -45.1,-63.4 -49.8,-60.8 -54.2,-57.5 -58,-53.7 -61.3,-49.4 -64,-44.8 -66.1,-39.9 -67.8,-34.8 -69,-29.7 -70,-24.7 -70.7,-19.6 -71.1,-14.7 -71.4,-9.7 -71.6,-4.9 -71.7,0 -71.7,4.9 -71.7,9.8 -71.5,14.7 -71.2,19.8 -70.7,24.9 -69.9,30.1 -68.8,35.3 -67.2,40.6 -65.2,45.7 -62.6,50.5 -59.4,55 -55.6,59 -51.2,62.4 -46.4,65.2 -41.3,67.4 -36.1,69.1 -30.8,70.4 -25.6,71.4 -20.4,72 -15.2,72.5 -10.1,72.8 -5,73 0,73.1 5,73.1 10.1,73.1 15.3,72.9 20.5,72.6 25.8,72.1 31.2,71.3 36.6,70.1 42,68.6 47.3,66.5 52.3,63.8 56.9,60.5 61,56.5 64.3,51.9 67,46.9 69.1,41.7 70.7,36.3 71.8,30.9 72.6,25.6 73.1,20.3 73.4,15.1 73.6,10 73.6,5Z"/>
<path fill="#00ff4a" d="M72.4,0 72.3,-4.9 72.1,-9.8 71.8,-14.8 71.4,-19.8 70.7,-24.9 69.7,-30 68.4,-35.1 66.7,-40.2 64.5,-45.1 61.7,-49.8 58.3,-54 54.4,-57.8 49.9,-60.9 45.1,-63.4 40.1,-65.4 35,-66.9 29.8,-68.1 24.7,-68.9 19.6,-69.4 14.6,-69.7 9.7,-69.9 4.8,-69.9 0,-69.9 -4.8,-69.8 -9.7,-69.7 -14.5,-69.4 -19.5,-68.9 -24.5,-68.3 -29.5,-67.3 -34.5,-66.1 -39.5,-64.5 -44.4,-62.3 -49,-59.7 -53.2,-56.5 -57,-52.8 -60.2,-48.6 -62.9,-44 -65,-39.2 -66.7,-34.3 -67.9,-29.3 -68.9,-24.3 -69.6,-19.3 -70,-14.4 -70.3,-9.6 -70.5,-4.8 -70.6,0 -70.6,4.8 -70.6,9.6 -70.4,14.5 -70.1,19.5 -69.6,24.5 -68.8,29.6 -67.6,34.8 -66.1,39.9 -64.1,44.9 -61.5,49.7 -58.4,54.1 -54.6,58 -50.3,61.3 -45.6,64.1 -40.6,66.3 -35.5,68 -30.3,69.3 -25.2,70.2 -20,70.9 -15,71.4 -9.9,71.7 -5,71.8 0,71.9 5,72 10,71.9 15,71.8 20.2,71.5 25.4,70.9 30.7,70.1 36,69 41.3,67.4 46.5,65.3 51.4,62.7 55.9,59.4 59.9,55.5 63.2,51 65.8,46.1 67.9,41 69.5,35.7 70.6,30.4 71.4,25.2 72,20 72.3,14.9 72.4,9.9 72.5,4.9Z"/>
<path fill="#00ff5c" d="M71.2,0 71.1,-5 70.9,-10.1 70.6,-15.2 70.1,-20.4 69.3,-25.6 68.2,-30.9 66.7,-36.1 64.8,-41.3 62.2,-46.2 59.1,-50.8 55.4,-54.9 51.1,-58.4 46.3,-61.3 41.2,-63.6 36,-65.4 30.7,-66.6 25.4,-67.6 20.2,-68.2 15,-68.6 10,-68.8 5,-68.8 0,-68.8 -5,-68.7 -9.9,-68.5 -15,-68.2 -20,-67.7 -25.2,-66.9 -30.3,-65.9 -35.5,-64.5 -40.6,-62.6 -45.5,-60.2 -50,-57.3 -54.2,-53.7 -57.8,-49.6 -60.8,-45.1 -63.2,-40.3 -65,-35.2 -66.5,-30.1 -67.5,-25 -68.3,-19.9 -68.8,-14.9 -69.2,-9.9 -69.3,-4.9 -69.4,0 -69.5,4.9 -69.4,9.9 -69.2,14.9 -68.9,20.1 -68.2,25.2 -67.3,30.5 -66,35.8 -64.3,41 -62,46 -59.1,50.8 -55.5,55.1 -51.4,58.8 -46.7,61.9 -41.7,64.4 -36.5,66.3 -31.2,67.8 -25.9,68.9 -20.6,69.6 -15.4,70.1 -10.2,70.5 -5.1,70.7 0,70.8 5.1,70.8 10.3,70.8 15.5,70.6 20.8,70.2 26.2,69.6 31.6,68.6 37.1,67.3 42.5,65.5 47.7,63.1 52.5,60.1 56.9,56.4 60.6,52.1 63.6,47.3 66,42.1 67.8,36.7 69.1,31.3 70.1,25.9 70.7,20.6 71.1,15.3 71.2,10.2 71.3,5.1Z"/>
<path fill="#00ff6e" d="M70,0 69.9,-5 69.7,-9.9 69.4,-15 68.8,-20 68,-25.2 67,-30.3 65.5,-35.5 63.5,-40.5 61.1,-45.3 58,-49.8 54.3,-53.9 50.1,-57.3 45.4,-60.2 40.4,-62.4 35.3,-64.2 30.1,-65.4 25,-66.4 19.8,-67 14.8,-67.4 9.8,-67.6 4.9,-67.6 0,-67.6 -4.9,-67.5 -9.8,-67.3 -14.7,-67 -19.7,-66.5 -24.7,-65.8 -29.8,-64.7 -34.9,-63.3 -39.8,-61.5 -44.6,-59.1 -49.1,-56.2 -53.1,-52.7 -56.7,-48.7 -59.6,-44.3 -62,-39.5 -63.9,-34.6 -65.3,-29.6 -66.4,-24.5 -67.1,-19.5 -67.6,-14.6 -68,-9.7 -68.2,-4.8 -68.3,0 -68.3,4.8 -68.2,9.7 -68,14.7 -67.7,19.7 -67,24.8 -66.1,29.9 -64.8,35.1 -63.1,40.2 -60.8,45.1 -57.9,49.8 -54.4,54 -50.4,57.7 -45.8,60.7 -40.9,63.2 -35.8,65.1 -30.6,66.6 -25.4,67.6 -20.2,68.4 -15.1,68.9 -10,69.3 -5,69.5 0,69.5 5,69.6 10.1,69.5 15.2,69.3 20.4,69 25.7,68.3 31,67.4 36.4,66.1 41.6,64.3 46.7,61.9 51.5,58.9 55.8,55.3 59.4,51.1 62.4,46.3 64.8,41.3 66.6,36.1 67.9,30.7 68.8,25.5 69.4,20.2 69.8,15.1 70,10 70.1,5Z"/>
<path fill="#00ff80" d="M68.7,0 68.6,-4.9 68.4,-9.8 68.1,-14.7 67.6,-19.7 66.8,-24.7 65.7,-29.8 64.2,-34.8 62.3,-39.7 59.8,-44.4 56.8,-48.8 53.2,-52.8 49.1,-56.2 44.5,-59 39.7,-61.2 34.6,-62.9 29.6,-64.2 24.5,-65.1 19.5,-65.8 14.5,-66.1 9.6,-66.4 4.8,-66.4 0,-66.4 -4.8,-66.3 -9.6,-66.1 -14.4,-65.8 -19.3,-65.3 -24.3,-64.5 -29.2,-63.5 -34.2,-62.1 -39,-60.3 -43.7,-57.9 -48.1,-55.1 -52.1,-51.6 -55.5,-47.7 -58.4,-43.4 -60.8,-38.7 -62.6,-33.9 -64.1,-29 -65.1,-24.1 -65.9,-19.2 -66.4,-14.3 -66.7,-9.5 -66.9,-4.7 -67,0 -67.1,4.8 -67,9.6 -66.8,14.4 -66.4,19.3 -65.8,24.3 -64.9,29.4 -63.6,34.4 -61.8,39.4 -59.6,44.2 -56.8,48.8 -53.3,52.9 -49.3,56.5 -44.9,59.5 -40.1,61.9 -35.1,63.8 -30.1,65.3 -25,66.4 -19.9,67.1 -14.8,67.7 -9.9,68 -4.9,68.2 0,68.3 4.9,68.3 9.9,68.3 14.9,68.1 20,67.7 25.2,67 30.4,66.1 35.7,64.8 40.8,63 45.8,60.7 50.4,57.7 54.6,54.1 58.2,50 61.1,45.4 63.5,40.5 65.3,35.3 66.6,30.2 67.5,25 68.1,19.8 68.5,14.8 68.7,9.8 68.8,4.9Z"/>
<path fill="#00ff92" d="M67.4,0 67.3,-4.8 67.1,-9.6 66.8,-14.4 66.2,-19.3 65.4,-24.2 64.4,-29.2 62.9,-34.1 61,-38.9 58.6,-43.5 55.6,-47.8 52.1,-51.6 48,-55 43.6,-57.7 38.8,-59.9 33.9,-61.6 29,-62.9 24,-63.8 19.1,-64.5 14.2,-64.9 9.4,-65.1 4.7,-65.2 0,-65.1 -4.7,-65 -9.4,-64.9 -14.2,-64.5 -19,-64 -23.8,-63.3 -28.7,-62.2 -33.5,-60.8 -38.2,-59 -42.8,-56.7 -47.1,-53.9 -51,-50.6 -54.4,-46.7 -57.2,-42.5 -59.5,-38 -61.4,-33.2 -62.8,-28.4 -63.8,-23.6 -64.6,-18.8 -65.1,-14.1 -65.5,-9.3 -65.7,-4.7 -65.7,0 -65.8,4.7 -65.7,9.4 -65.5,14.1 -65.1,19 -64.5,23.9 -63.6,28.8 -62.3,33.7 -60.6,38.6 -58.3,43.3 -55.5,47.7 -52.2,51.8 -48.3,55.3 -43.9,58.2 -39.3,60.6 -34.4,62.5 -29.5,64 -24.5,65 -19.5,65.8 -14.6,66.3 -9.7,66.7 -4.8,66.9 0,67 4.8,67 9.7,66.9 14.6,66.7 19.6,66.3 24.7,65.7 29.8,64.8 34.9,63.4 40,61.7 44.8,59.4 49.3,56.5 53.4,53 56.9,48.9 59.8,44.4 62.1,39.6 63.9,34.6 65.2,29.5 66.2,24.5 66.8,19.5 67.2,14.5 67.4,9.6 67.5,4.8Z"/>
<path fill="#00ffa5" d="M66,0 65.9,-4.9 65.7,-9.8 65.3,-14.8 64.7,-19.8 63.8,-24.9 62.6,-29.9 61,-34.9 58.8,-39.8 56.1,-44.3 52.7,-48.5 48.9,-52.2 44.5,-55.3 39.8,-57.8 34.8,-59.8 29.7,-61.3 24.7,-62.3 19.6,-63 14.6,-63.5 9.7,-63.7 4.8,-63.8 0,-63.8 -4.8,-63.7 -9.7,-63.5 -14.5,-63.2 -19.5,-62.6 -24.4,-61.7 -29.4,-60.6 -34.3,-59 -39.1,-56.9 -43.7,-54.4 -47.9,-51.2 -51.6,-47.5 -54.8,-43.4 -57.4,-38.8 -59.5,-34.1 -61.1,-29.2 -62.3,-24.3 -63.2,-19.3 -63.7,-14.4 -64.1,-9.6 -64.3,-4.8 -64.4,0 -64.4,4.8 -64.4,9.6 -64.1,14.5 -63.7,19.5 -62.9,24.5 -61.9,29.6 -60.4,34.6 -58.4,39.5 -55.9,44.2 -52.8,48.6 -49.1,52.4 -44.8,55.7 -40.2,58.5 -35.3,60.6 -30.2,62.2 -25.1,63.4 -20,64.3 -14.9,64.9 -9.9,65.3 -4.9,65.5 0,65.6 5,65.6 10,65.5 15,65.3 20.2,64.8 25.4,64.1 30.6,63 35.8,61.5 40.9,59.5 45.7,56.9 50.1,53.6 54,49.7 57.3,45.3 59.9,40.5 62,35.5 63.5,30.3 64.6,25.1 65.3,20 65.8,14.9 66,9.9 66.1,4.9Z"/>
<path fill="#00ffb7" d="M64.6,0 64.5,-4.8 64.3,-9.6 63.9,-14.5 63.3,-19.4 62.4,-24.3 61.2,-29.2 59.5,-34.1 57.4,-38.8 54.7,-43.3 51.5,-47.4 47.7,-51 43.4,-54 38.8,-56.5 34,-58.4 29.1,-59.9 24.1,-60.9 19.2,-61.7 14.3,-62.1 9.5,-62.4 4.7,-62.5 0,-62.4 -4.7,-62.3 -9.4,-62.2 -14.2,-61.8 -19,-61.2 -23.9,-60.4 -28.7,-59.2 -33.6,-57.6 -38.2,-55.6 -42.7,-53.1 -46.8,-50 -50.4,-46.4 -53.5,-42.3 -56.1,-37.9 -58.2,-33.3 -59.7,-28.5 -60.9,-23.7 -61.8,-18.9 -62.4,-14.1 -62.7,-9.4 -62.9,-4.7 -63,0 -63.1,4.7 -63,9.4 -62.7,14.2 -62.3,19.1 -61.5,24 -60.5,28.9 -59,33.8 -57.1,38.6 -54.6,43.2 -51.5,47.4 -47.9,51.2 -43.8,54.4 -39.2,57.1 -34.5,59.2 -29.5,60.8 -24.5,62 -19.6,62.9 -14.6,63.5 -9.7,63.9 -4.8,64.1 0,64.2 4.9,64.2 9.7,64.1 14.7,63.9 19.7,63.4 24.8,62.7 29.9,61.6 35,60.1 39.9,58.1 44.6,55.5 48.9,52.3 52.7,48.5 55.9,44.2 58.5,39.6 60.5,34.7 62,29.6 63.1,24.6 63.9,19.5 64.3,14.6 64.6,9.7 64.6,4.8Z"/>
<path fill="#00ffc9" d="M63.1,0 63,-4.7 62.8,-9.4 62.4,-14.1 61.8,-18.9 60.9,-23.7 59.7,-28.5 58.1,-33.3 56,-37.9 53.4,-42.2 50.2,-46.2 46.5,-49.7 42.3,-52.7 37.9,-55.1 33.2,-57 28.4,-58.4 23.5,-59.5 18.7,-60.2 14,-60.7 9.3,-60.9 4.6,-61 0,-61 -4.6,-60.9 -9.2,-60.7 -13.9,-60.4 -18.6,-59.8 -23.3,-59 -28.1,-57.8 -32.7,-56.3 -37.3,-54.3 -41.6,-51.8 -45.6,-48.8 -49.2,-45.2 -52.2,-41.3 -54.7,-37 -56.7,-32.5 -58.3,-27.9 -59.5,-23.2 -60.3,-18.5 -60.9,-13.8 -61.3,-9.2 -61.5,-4.6 -61.6,0 -61.6,4.6 -61.5,9.2 -61.3,13.9 -60.8,18.6 -60.1,23.4 -59,28.2 -57.6,33 -55.7,37.6 -53.2,42.1 -50.2,46.2 -46.7,49.9 -42.6,53 -38.2,55.6 -33.6,57.7 -28.8,59.3 -24,60.5 -19.1,61.4 -14.3,62 -9.5,62.4 -4.7,62.6 0,62.7 4.7,62.7 9.5,62.6 14.4,62.4 19.2,61.9 24.2,61.2 29.2,60.1 34.1,58.6 38.9,56.6 43.5,54.1 47.7,50.9 51.4,47.3 54.5,43.1 57,38.6 59,33.8 60.5,28.9 61.6,24 62.3,19.1 62.8,14.2 63,9.4 63.1,4.7Z"/>
<path fill="#00ffdb" d="M61.5,0 61.4,-4.8 61.2,-9.6 60.8,-14.5 60.1,-19.4 59.1,-24.3 57.7,-29.2 55.9,-34 53.5,-38.6 50.6,-42.9 47.1,-46.7 43.1,-50 38.6,-52.7 33.9,-54.9 29.1,-56.6 24.1,-57.8 19.2,-58.6 14.3,-59.1 9.5,-59.4 4.7,-59.5 0,-59.5 -4.7,-59.4 -9.5,-59.2 -14.2,-58.8 -19.1,-58.2 -23.9,-57.2 -28.7,-55.9 -33.5,-54.2 -38,-51.9 -42.3,-49.1 -46.2,-45.8 -49.5,-42 -52.4,-37.7 -54.6,-33.2 -56.4,-28.5 -57.7,-23.7 -58.7,-18.9 -59.3,-14.1 -59.7,-9.4 -60,-4.7 -60.1,0 -60.1,4.7 -60,9.4 -59.7,14.2 -59.2,19.1 -58.3,24 -57.1,28.9 -55.5,33.7 -53.3,38.4 -50.5,42.8 -47.2,46.8 -43.3,50.3 -39,53.2 -34.3,55.5 -29.5,57.4 -24.5,58.7 -19.6,59.7 -14.6,60.4 -9.7,60.8 -4.8,61 0,61.1 4.9,61.1 9.7,61 14.7,60.7 19.7,60.2 24.8,59.3 29.8,58.1 34.8,56.4 39.7,54.1 44.2,51.3 48.2,47.8 51.7,43.8 54.6,39.3 56.8,34.5 58.5,29.6 59.8,24.6 60.6,19.5 61.2,14.6 61.5,9.7 61.6,4.8Z"/>
<path fill="#00ffee" d="M59.9,0 59.8,-4.7 59.5,-9.4 59.1,-14.1 58.4,-18.8 57.5,-23.6 56.1,-28.4 54.3,-33 52,-37.5 49.1,-41.6 45.7,-45.4 41.8,-48.6 37.5,-51.2 33,-53.4 28.3,-55 23.5,-56.2 18.7,-57 13.9,-57.5 9.2,-57.8 4.6,-58 0,-57.9 -4.6,-57.8 -9.2,-57.6 -13.9,-57.2 -18.5,-56.6 -23.2,-55.7 -27.9,-54.4 -32.5,-52.7 -37,-50.5 -41.1,-47.7 -44.9,-44.5 -48.1,-40.8 -50.9,-36.7 -53.1,-32.3 -54.9,-27.7 -56.2,-23.1 -57.1,-18.4 -57.8,-13.8 -58.2,-9.1 -58.4,-4.6 -58.5,0 -58.5,4.6 -58.4,9.2 -58.1,13.8 -57.6,18.6 -56.7,23.3 -55.6,28.1 -53.9,32.8 -51.8,37.3 -49.1,41.6 -45.8,45.5 -42.1,48.8 -37.9,51.7 -33.3,54 -28.6,55.8 -23.8,57.1 -19,58.1 -14.2,58.7 -9.4,59.2 -4.7,59.4 0,59.5 4.7,59.5 9.5,59.4 14.3,59.1 19.2,58.5 24.1,57.7 29,56.5 33.8,54.8 38.5,52.6 42.9,49.8 46.8,46.4 50.2,42.5 53,38.2 55.2,33.6 56.9,28.8 58.1,23.9 59,19 59.5,14.2 59.8,9.4 59.9,4.7Z"/>
<path fill="#00feff" d="M58.2,0 58.1,-4.5 57.8,-9.1 57.4,-13.7 56.7,-18.3 55.8,-22.9 54.4,-27.5 52.7,-32 50.4,-36.3 47.6,-40.3 44.3,-44 40.5,-47.1 36.4,-49.7 32,-51.8 27.4,-53.4 22.8,-54.5 18.1,-55.4 13.5,-55.9 9,-56.2 4.5,-56.3 0,-56.3 -4.5,-56.2 -8.9,-56 -13.5,-55.6 -18,-55 -22.6,-54.1 -27.1,-52.8 -31.6,-51.1 -35.9,-48.9 -39.9,-46.3 -43.5,-43.1 -46.7,-39.5 -49.4,-35.6 -51.5,-31.3 -53.2,-26.9 -54.5,-22.4 -55.5,-17.9 -56.1,-13.4 -56.5,-8.9 -56.7,-4.4 -56.8,0 -56.8,4.4 -56.7,8.9 -56.4,13.4 -55.9,18 -55.1,22.6 -53.9,27.2 -52.3,31.8 -50.2,36.2 -47.6,40.3 -44.4,44 -40.8,47.3 -36.7,50.1 -32.3,52.3 -27.8,54.1 -23.1,55.4 -18.5,56.4 -13.8,57 -9.2,57.4 -4.6,57.7 0,57.8 4.6,57.8 9.2,57.7 13.9,57.4 18.6,56.8 23.4,56 28.1,54.8 32.8,53.1 37.3,50.9 41.5,48.2 45.3,44.9 48.6,41.2 51.3,37 53.5,32.5 55.2,27.9 56.4,23.2 57.2,18.4 57.8,13.8 58.1,9.1 58.2,4.5Z"/>
<path fill="#00ecff" d="M56.3,0 56.2,-4.6 56,-9.3 55.5,-13.9 54.8,-18.7 53.7,-23.4 52.2,-28 50.2,-32.5 47.7,-36.8 44.6,-40.7 41,-44.1 36.9,-47 32.5,-49.4 27.9,-51.2 23.2,-52.5 18.5,-53.5 13.8,-54.1 9.2,-54.4 4.6,-54.6 0,-54.6 -4.6,-54.5 -9.1,-54.2 -13.7,-53.8 -18.4,-53.1 -23,-52.1 -27.6,-50.6 -32.1,-48.7 -36.4,-46.3 -40.3,-43.4 -43.8,-40 -46.7,-36.1 -49.2,-31.9 -51.1,-27.4 -52.5,-22.9 -53.6,-18.2 -54.3,-13.6 -54.7,-9.1 -55,-4.5 -55.1,0 -55.1,4.5 -55,9.1 -54.6,13.7 -54,18.4 -53.1,23.1 -51.7,27.8 -49.9,32.3 -47.5,36.7 -44.6,40.7 -41.1,44.3 -37.2,47.4 -32.9,49.9 -28.3,51.9 -23.6,53.3 -18.8,54.4 -14.1,55.2 -9.4,55.6 -4.7,55.9 0,56 4.7,56 9.4,55.8 14.2,55.5 19,54.9 23.8,53.9 28.6,52.5 33.3,50.6 37.8,48.2 41.9,45.1 45.5,41.6 48.6,37.5 51,33.1 52.9,28.4 54.3,23.6 55.3,18.8 55.9,14 56.2,9.3 56.4,4.6Z"/>
<path fill="#00daff" d="M54.4,0 54.3,-4.5 54.1,-9 53.6,-13.5 52.9,-18 51.8,-22.5 50.3,-27 48.4,-31.4 46,-35.5 43,-39.2 39.5,-42.6 35.6,-45.4 31.4,-47.7 27,-49.4 22.4,-50.7 17.9,-51.7 13.3,-52.3 8.9,-52.6 4.4,-52.8 0,-52.7 -4.4,-52.7 -8.8,-52.4 -13.3,-52 -17.8,-51.3 -22.2,-50.3 -26.7,-48.9 -31,-47 -35.1,-44.7 -38.9,-41.9 -42.2,-38.5 -45.1,-34.8 -47.4,-30.7 -49.3,-26.5 -50.7,-22.1 -51.8,-17.6 -52.5,-13.2 -52.9,-8.8 -53.1,-4.4 -53.2,0 -53.3,4.4 -53.1,8.8 -52.8,13.3 -52.2,17.8 -51.2,22.3 -49.9,26.8 -48.1,31.2 -45.8,35.4 -43,39.3 -39.6,42.7 -35.8,45.7 -31.7,48.1 -27.3,50 -22.8,51.5 -18.2,52.5 -13.6,53.3 -9,53.7 -4.5,54 0,54.1 4.5,54.1 9.1,53.9 13.7,53.6 18.3,53 23,52 27.6,50.6 32.1,48.8 36.4,46.4 40.4,43.5 43.9,40 46.8,36.1 49.2,31.9 51,27.4 52.4,22.8 53.4,18.2 54,13.6 54.3,9 54.4,4.5Z"/>
<path fill="#00c8ff" d="M52.4,0 52.3,-4.5 52,-9.1 51.5,-13.7 50.7,-18.3 49.5,-22.9 47.8,-27.4 45.7,-31.7 43,-35.8 39.7,-39.4 35.9,-42.5 31.8,-45 27.4,-47 22.8,-48.5 18.2,-49.6 13.6,-50.3 9,-50.7 4.5,-50.8 0,-50.8 -4.5,-50.7 -9,-50.5 -13.5,-50 -18.1,-49.2 -22.6,-48.1 -27.1,-46.5 -31.4,-44.4 -35.4,-41.8 -39,-38.7 -42.2,-35.1 -44.8,-31.1 -46.9,-26.9 -48.5,-22.4 -49.7,-17.9 -50.4,-13.4 -50.9,-8.9 -51.2,-4.4 -51.3,0 -51.3,4.5 -51.1,8.9 -50.8,13.5 -50.1,18.1 -49,22.7 -47.5,27.2 -45.5,31.6 -42.9,35.7 -39.8,39.4 -36.1,42.7 -32,45.4 -27.7,47.5 -23.1,49.2 -18.5,50.4 -13.8,51.2 -9.2,51.7 -4.6,52 0,52.1 4.6,52.1 9.2,51.9 13.9,51.5 18.6,50.8 23.4,49.7 28,48.1 32.5,46.1 36.7,43.4 40.5,40.2 43.8,36.4 46.4,32.2 48.5,27.8 50.1,23.2 51.2,18.5 51.9,13.8 52.3,9.1 52.4,4.5Z"/>
<path fill="#00b5ff" d="M50.3,0 50.2,-4.4 49.9,-8.7 49.4,-13.1 48.6,-17.5 47.4,-21.9 45.8,-26.2 43.7,-30.4 41.1,-34.2 38,-37.7 34.4,-40.7 30.4,-43.1 26.2,-45.1 21.9,-46.5 17.4,-47.6 13,-48.2 8.6,-48.6 4.3,-48.8 0,-48.8 -4.3,-48.7 -8.6,-48.4 -13,-48 -17.3,-47.2 -21.7,-46.1 -25.9,-44.6 -30.1,-42.6 -33.9,-40.1 -37.4,-37.1 -40.4,-33.6 -42.9,-29.8 -45,-25.7 -46.5,-21.5 -47.6,-17.2 -48.4,-12.9 -48.9,-8.6 -49.1,-4.3 -49.2,0 -49.2,4.3 -49.1,8.6 -48.7,12.9 -48,17.3 -47,21.7 -45.5,26.1 -43.6,30.3 -41.1,34.2 -38.1,37.8 -34.6,40.9 -30.7,43.5 -26.5,45.5 -22.2,47.1 -17.7,48.3 -13.3,49.1 -8.8,49.6 -4.4,49.8 0,49.9 4.4,49.9 8.8,49.8 13.3,49.4 17.9,48.7 22.4,47.6 26.8,46.1 31.1,44.1 35.1,41.5 38.7,38.4 41.9,34.8 44.4,30.9 46.4,26.6 48,22.2 49,17.7 49.7,13.2 50.1,8.8 50.3,4.4Z"/>
<path fill="#00a3ff" d="M48,0 47.9,-4.4 47.6,-8.8 47,-13.3 46.2,-17.7 44.8,-22.1 43,-26.4 40.7,-30.5 37.8,-34.2 34.4,-37.5 30.6,-40.2 26.5,-42.4 22.1,-44 17.7,-45.2 13.2,-46 8.7,-46.4 4.4,-46.6 0,-46.6 -4.3,-46.5 -8.7,-46.2 -13.1,-45.7 -17.5,-44.9 -21.9,-43.6 -26.2,-41.9 -30.2,-39.7 -33.9,-36.9 -37.2,-33.7 -40,-30 -42.3,-26 -44,-21.7 -45.3,-17.4 -46.1,-13 -46.7,-8.7 -47,-4.3 -47.1,0 -47,4.3 -46.9,8.7 -46.4,13.1 -45.6,17.5 -44.5,22 -42.8,26.3 -40.6,30.4 -37.9,34.2 -34.6,37.6 -30.8,40.5 -26.7,42.8 -22.4,44.6 -17.9,45.8 -13.4,46.7 -8.9,47.3 -4.4,47.6 0,47.7 4.5,47.7 8.9,47.5 13.5,47 18.1,46.2 22.6,45 27,43.3 31.2,41 35.1,38.2 38.5,34.8 41.4,31 43.6,26.8 45.3,22.4 46.6,17.9 47.4,13.4 47.8,8.9 48,4.4Z"/>
<path fill="#0091ff" d="M45.6,0 45.5,-4.2 45.2,-8.4 44.7,-12.6 43.8,-16.8 42.5,-21 40.8,-25.1 38.6,-28.9 35.9,-32.4 32.6,-35.5 29,-38.1 25.1,-40.2 21,-41.8 16.8,-42.9 12.5,-43.7 8.3,-44.1 4.1,-44.3 0,-44.3 -4.1,-44.2 -8.3,-43.9 -12.5,-43.4 -16.6,-42.6 -20.8,-41.4 -24.8,-39.8 -28.7,-37.6 -32.2,-35 -35.3,-31.9 -38,-28.4 -40.1,-24.6 -41.8,-20.6 -43,-16.5 -43.8,-12.4 -44.3,-8.2 -44.6,-4.1 -44.7,0 -44.7,4.1 -44.5,8.3 -44.1,12.4 -43.3,16.6 -42.2,20.8 -40.6,24.9 -38.5,28.8 -35.9,32.4 -32.7,35.6 -29.2,38.3 -25.3,40.5 -21.2,42.2 -17,43.5 -12.7,44.4 -8.5,44.9 -4.2,45.2 0,45.3 4.2,45.2 8.5,45.1 12.8,44.6 17.1,43.8 21.4,42.7 25.6,41 29.6,38.9 33.2,36.2 36.5,33 39.2,29.3 41.3,25.4 43,21.2 44.2,17 44.9,12.7 45.4,8.4 45.6,4.2Z"/>
<path fill="#007fff" d="M43,0 42.9,-4.2 42.6,-8.4 42,-12.6 41,-16.8 39.6,-21 37.7,-25 35.2,-28.7 32.3,-32 28.8,-34.9 25,-37.2 21,-38.9 16.8,-40.2 12.6,-41.1 8.3,-41.6 4.1,-41.8 0,-41.8 -4.1,-41.7 -8.3,-41.4 -12.5,-40.8 -16.7,-39.9 -20.8,-38.6 -24.8,-36.8 -28.5,-34.4 -31.8,-31.6 -34.7,-28.3 -37.1,-24.6 -38.9,-20.6 -40.3,-16.5 -41.2,-12.4 -41.8,-8.2 -42.1,-4.1 -42.2,0 -42.2,4.1 -41.9,8.3 -41.5,12.5 -40.6,16.7 -39.3,20.8 -37.5,24.9 -35.2,28.7 -32.3,32.1 -29,35 -25.2,37.4 -21.2,39.3 -17,40.7 -12.7,41.7 -8.5,42.3 -4.2,42.6 0,42.7 4.2,42.6 8.5,42.4 12.8,41.9 17.1,41 21.4,39.7 25.5,37.9 29.4,35.5 32.8,32.6 35.8,29.1 38.2,25.3 40,21.2 41.3,17 42.2,12.7 42.7,8.4 43,4.2Z"/>
<path fill="#006dff" d="M40.1,0 40,-3.9 39.7,-7.8 39.2,-11.8 38.3,-15.7 36.9,-19.6 35.2,-23.3 32.9,-26.8 30.1,-29.9 26.9,-32.5 23.4,-34.7 19.6,-36.3 15.7,-37.6 11.7,-38.4 7.8,-38.9 3.9,-39.1 0,-39.1 -3.9,-39 -7.8,-38.7 -11.7,-38.2 -15.6,-37.3 -19.4,-36 -23.1,-34.3 -26.6,-32.1 -29.7,-29.5 -32.4,-26.4 -34.6,-22.9 -36.4,-19.3 -37.6,-15.5 -38.5,-11.6 -39.1,-7.7 -39.4,-3.8 -39.4,0 -39.4,3.9 -39.2,7.7 -38.7,11.7 -37.9,15.6 -36.7,19.5 -35,23.2 -32.8,26.7 -30.1,29.9 -27,32.6 -23.5,34.9 -19.8,36.7 -15.9,38 -11.9,38.9 -7.9,39.5 -3.9,39.8 0,39.9 4,39.8 7.9,39.6 12,39.1 16,38.3 20,37 23.8,35.3 27.4,33.1 30.6,30.3 33.3,27.1 35.6,23.6 37.3,19.8 38.6,15.8 39.4,11.9 39.9,7.9 40.1,3.9Z"/>
<path fill="#005aff" d="M37,0 36.9,-3.9 36.6,-7.7 36,-11.6 35,-15.5 33.5,-19.2 31.6,-22.8 29.1,-26 26.2,-28.9 22.9,-31.2 19.2,-33.1 15.4,-34.4 11.6,-35.3 7.7,-35.8 3.8,-36.1 0,-36.1 -3.8,-36 -7.7,-35.7 -11.5,-35.1 -15.3,-34.2 -19.1,-32.8 -22.6,-30.9 -25.9,-28.5 -28.8,-25.7 -31.2,-22.5 -33.1,-18.9 -34.5,-15.2 -35.4,-11.4 -36,-7.6 -36.4,-3.8 -36.4,0 -36.4,3.8 -36.2,7.6 -35.6,11.5 -34.7,15.3 -33.4,19.1 -31.5,22.7 -29.1,26 -26.3,28.9 -23,31.4 -19.4,33.3 -15.6,34.8 -11.7,35.7 -7.8,36.4 -3.9,36.7 0,36.8 3.9,36.7 7.8,36.5 11.8,35.9 15.7,35 19.6,33.6 23.2,31.7 26.6,29.3 29.5,26.4 32,23 33.9,19.4 35.3,15.6 36.2,11.7 36.8,7.8 37,3.9Z"/>
<path fill="#0048ff" d="M33.6,0 33.5,-3.7 33.2,-7.5 32.5,-11.3 31.4,-15 29.8,-18.6 27.7,-21.9 25.1,-24.9 22,-27.4 18.6,-29.4 15,-30.9 11.3,-31.9 7.5,-32.5 3.7,-32.8 0,-32.8 -3.7,-32.7 -7.5,-32.4 -11.2,-31.7 -14.9,-30.7 -18.5,-29.2 -21.8,-27.2 -24.8,-24.6 -27.4,-21.7 -29.4,-18.3 -31,-14.8 -32,-11.1 -32.7,-7.4 -33,-3.7 -33.1,0 -33.1,3.7 -32.8,7.4 -32.2,11.2 -31.2,14.9 -29.7,18.5 -27.7,21.9 -25.1,24.9 -22.1,27.5 -18.8,29.6 -15.1,31.2 -11.4,32.3 -7.6,32.9 -3.8,33.3 0,33.4 3.8,33.3 7.6,33 11.4,32.4 15.2,31.4 18.9,29.9 22.4,27.8 25.4,25.2 28,22.2 30.1,18.8 31.6,15.1 32.7,11.3 33.3,7.5 33.6,3.8Z"/>
<path fill="#0036ff" d="M29.7,0 29.6,-3.6 29.2,-7.1 28.5,-10.7 27.3,-14.2 25.7,-17.6 23.5,-20.6 20.8,-23.2 17.6,-25.4 14.3,-27 10.7,-28 7.1,-28.7 3.6,-29 0,-29.1 -3.5,-29 -7.1,-28.6 -10.7,-27.9 -14.2,-26.8 -17.5,-25.2 -20.6,-23 -23.2,-20.4 -25.4,-17.4 -27,-14.1 -28.2,-10.6 -28.9,-7.1 -29.2,-3.5 -29.3,0 -29.3,3.5 -29,7.1 -28.3,10.6 -27.2,14.2 -25.6,17.5 -23.5,20.6 -20.8,23.3 -17.7,25.5 -14.4,27.1 -10.8,28.3 -7.2,29 -3.6,29.4 0,29.5 3.6,29.4 7.2,29.1 10.9,28.4 14.5,27.3 17.9,25.7 21,23.5 23.7,20.8 25.9,17.7 27.5,14.3 28.7,10.8 29.3,7.2 29.7,3.6Z"/>
<path fill="#0024ff" d="M25.1,0 25,-3.3 24.7,-6.6 23.9,-9.8 22.7,-13 21,-16 18.7,-18.6 16,-20.7 13,-22.4 9.8,-23.5 6.6,-24.2 3.3,-24.6 0,-24.6 -3.3,-24.5 -6.5,-24.2 -9.8,-23.4 -13,-22.3 -15.9,-20.6 -18.6,-18.4 -20.8,-15.8 -22.5,-12.9 -23.6,-9.7 -24.4,-6.5 -24.8,-3.2 -24.9,0 -24.8,3.2 -24.5,6.5 -23.8,9.8 -22.6,12.9 -20.9,15.9 -18.7,18.6 -16.1,20.8 -13.1,22.5 -9.9,23.7 -6.6,24.5 -3.3,24.8 0,24.9 3.3,24.9 6.6,24.5 10,23.8 13.2,22.7 16.2,21 18.9,18.8 21.1,16.1 22.8,13.1 24,9.9 24.7,6.6 25.1,3.3Z"/>
<path fill="#000eff" d="M19.4,0 19.3,-2.8 19,-5.5 18.2,-8.3 17.1,-10.9 15.4,-13.3 13.4,-15.3 10.9,-16.9 8.3,-18 5.5,-18.7 2.8,-19 0,-19.1 -2.8,-19 -5.5,-18.7 -8.3,-17.9 -10.9,-16.8 -13.3,-15.2 -15.3,-13.2 -16.9,-10.8 -18.1,-8.2 -18.8,-5.5 -19.2,-2.7 -19.3,0 -19.2,2.7 -18.9,5.5 -18.2,8.2 -17,10.9 -15.4,13.3 -13.4,15.3 -11,17 -8.3,18.1 -5.6,18.8 -2.8,19.2 0,19.3 2.8,19.2 5.6,18.9 8.4,18.2 11,17 13.5,15.4 15.6,13.4 17.2,10.9 18.3,8.3 19,5.5 19.4,2.8Z"/>
</g></g>
<path d="M418.3,20.8 V179.4 H262.4" fill="none" stroke="#e25510" stroke-width="1.3"/>
<rect x="262.3" y="20.7" width="155" height="157.7" fill="none" stroke="#000" stroke-opacity="0.5" stroke-width="0.7"/>
<path d="M279.73,179v-3M262.7,161.87h3M297.07,179v-1.6M262.7,144.23h1.6M314.4,179v-3M262.7,126.6h3M331.73,179v-1.6M262.7,108.97h1.6M349.07,179v-3M262.7,91.33h3M366.4,179v-1.6M262.7,73.7h1.6M383.73,179v-3M262.7,56.07h3M401.07,179v-1.6M262.7,38.43h1.6" stroke="#111" stroke-width="0.7" fill="none"/>
<text x="280.13" y="190.1" class="t" font-size="7.7" text-anchor="middle">2</text>
<text x="259.4" y="165.27" class="t" font-size="7.7" text-anchor="end">2</text>
<text x="314.8" y="190.1" class="t" font-size="7.7" text-anchor="middle">4</text>
<text x="259.4" y="130" class="t" font-size="7.7" text-anchor="end">4</text>
<text x="349.47" y="190.1" class="t" font-size="7.7" text-anchor="middle">6</text>
<text x="259.4" y="94.73" class="t" font-size="7.7" text-anchor="end">6</text>
<text x="384.13" y="190.1" class="t" font-size="7.7" text-anchor="middle">8</text>
<text x="259.4" y="59.47" class="t" font-size="7.7" text-anchor="end">8</text>
<text x="418.8" y="190.1" class="t" font-size="7.7" text-anchor="middle">10</text>
<text x="259.4" y="24.2" class="t" font-size="7.7" text-anchor="end">10</text>
<rect x="424.9" y="22.9" width="16.4" height="153.4" fill="#000"/>
<rect x="426.3" y="23.90" width="13.6" height="150.90" fill="#ff0800"/>
<rect x="426.3" y="26.26" width="13.6" height="148.54" fill="#ff1800"/>
<rect x="426.3" y="28.62" width="13.6" height="146.18" fill="#ff2800"/>
<rect x="426.3" y="30.97" width="13.6" height="143.83" fill="#ff3800"/>
<rect x="426.3" y="33.33" width="13.6" height="141.47" fill="#ff4800"/>
<rect x="426.3" y="35.69" width="13.6" height="139.11" fill="#ff5800"/>
<rect x="426.3" y="38.05" width="13.6" height="136.75" fill="#ff6800"/>
<rect x="426.3" y="40.40" width="13.6" height="134.40" fill="#ff7800"/>
<rect x="426.3" y="42.76" width="13.6" height="132.04" fill="#ff8700"/>
<rect x="426.3" y="45.12" width="13.6" height="129.68" fill="#ff9700"/>
<rect x="426.3" y="47.48" width="13.6" height="127.32" fill="#ffa700"/>
<rect x="426.3" y="49.84" width="13.6" height="124.96" fill="#ffb700"/>
<rect x="426.3" y="52.19" width="13.6" height="122.61" fill="#ffc700"/>
<rect x="426.3" y="54.55" width="13.6" height="120.25" fill="#ffd700"/>
<rect x="426.3" y="56.91" width="13.6" height="117.89" fill="#ffe700"/>
<rect x="426.3" y="59.27" width="13.6" height="115.53" fill="#fff700"/>
<rect x="426.3" y="61.62" width="13.6" height="113.18" fill="#f7ff00"/>
<rect x="426.3" y="63.98" width="13.6" height="110.82" fill="#e7ff00"/>
<rect x="426.3" y="66.34" width="13.6" height="108.46" fill="#d7ff00"/>
<rect x="426.3" y="68.70" width="13.6" height="106.10" fill="#c7ff00"/>
<rect x="426.3" y="71.06" width="13.6" height="103.74" fill="#b7ff00"/>
<rect x="426.3" y="73.41" width="13.6" height="101.39" fill="#a7ff00"/>
<rect x="426.3" y="75.77" width="13.6" height="99.03" fill="#97ff00"/>
<rect x="426.3" y="78.13" width="13.6" height="96.67" fill="#00ff00"/>
<rect x="426.3" y="80.49" width="13.6" height="94.31" fill="#00ff00"/>
<rect x="426.3" y="82.85" width="13.6" height="91.95" fill="#00ff00"/>
<rect x="426.3" y="85.20" width="13.6" height="89.60" fill="#00ff00"/>
<rect x="426.3" y="87.56" width="13.6" height="87.24" fill="#00ff00"/>
<rect x="426.3" y="89.92" width="13.6" height="84.88" fill="#00ff00"/>
<rect x="426.3" y="92.28" width="13.6" height="82.52" fill="#00ff00"/>
<rect x="426.3" y="94.63" width="13.6" height="80.17" fill="#00ff00"/>
<rect x="426.3" y="96.99" width="13.6" height="77.81" fill="#00ff00"/>
<rect x="426.3" y="99.35" width="13.6" height="75.45" fill="#00ff08"/>
<rect x="426.3" y="101.71" width="13.6" height="73.09" fill="#00ff18"/>
<rect x="426.3" y="104.07" width="13.6" height="70.73" fill="#00ff28"/>
<rect x="426.3" y="106.42" width="13.6" height="68.38" fill="#00ff38"/>
<rect x="426.3" y="108.78" width="13.6" height="66.02" fill="#00ff48"/>
<rect x="426.3" y="111.14" width="13.6" height="63.66" fill="#00ff58"/>
<rect x="426.3" y="113.50" width="13.6" height="61.30" fill="#00ff68"/>
<rect x="426.3" y="115.85" width="13.6" height="58.95" fill="#00ff78"/>
<rect x="426.3" y="118.21" width="13.6" height="56.59" fill="#00ff87"/>
<rect x="426.3" y="120.57" width="13.6" height="54.23" fill="#00ff97"/>
<rect x="426.3" y="122.93" width="13.6" height="51.87" fill="#00ffa7"/>
<rect x="426.3" y="125.29" width="13.6" height="49.51" fill="#00ffb7"/>
<rect x="426.3" y="127.64" width="13.6" height="47.16" fill="#00ffc7"/>
<rect x="426.3" y="130.00" width="13.6" height="44.80" fill="#00ffd7"/>
<rect x="426.3" y="132.36" width="13.6" height="42.44" fill="#00ffe7"/>
<rect x="426.3" y="134.72" width="13.6" height="40.08" fill="#00fff7"/>
<rect x="426.3" y="137.08" width="13.6" height="37.72" fill="#00f7ff"/>
<rect x="426.3" y="139.43" width="13.6" height="35.37" fill="#00e7ff"/>
<rect x="426.3" y="141.79" width="13.6" height="33.01" fill="#00d7ff"/>
<rect x="426.3" y="144.15" width="13.6" height="30.65" fill="#00c7ff"/>
<rect x="426.3" y="146.51" width="13.6" height="28.29" fill="#00b7ff"/>
<rect x="426.3" y="148.86" width="13.6" height="25.94" fill="#00a7ff"/>
<rect x="426.3" y="151.22" width="13.6" height="23.58" fill="#0097ff"/>
<rect x="426.3" y="153.58" width="13.6" height="21.22" fill="#0087ff"/>
<rect x="426.3" y="155.94" width="13.6" height="18.86" fill="#0078ff"/>
<rect x="426.3" y="158.30" width="13.6" height="16.50" fill="#0068ff"/>
<rect x="426.3" y="160.65" width="13.6" height="14.15" fill="#0058ff"/>
<rect x="426.3" y="163.01" width="13.6" height="11.79" fill="#0048ff"/>
<rect x="426.3" y="165.37" width="13.6" height="9.43" fill="#0038ff"/>
<rect x="426.3" y="167.73" width="13.6" height="7.07" fill="#0028ff"/>
<rect x="426.3" y="170.08" width="13.6" height="4.72" fill="#0018ff"/>
<rect x="426.3" y="172.44" width="13.6" height="2.36" fill="#0008ff"/>
<text class="t" x="443.3" y="26.30" font-size="7.7">1.<tspan dx="1.9">00780</tspan></text>
<path d="M439.9,42.50h-3.2" stroke="#111" stroke-width="0.8"/>
<text class="t" x="443.3" y="45.30" font-size="7.7">1.<tspan dx="1.9">00780</tspan></text>
<path d="M439.9,61.50h-3.2" stroke="#111" stroke-width="0.8"/>
<text class="t" x="443.3" y="64.30" font-size="7.7">1.<tspan dx="1.9">00780</tspan></text>
<path d="M439.9,80.50h-3.2" stroke="#111" stroke-width="0.8"/>
<text class="t" x="443.3" y="83.30" font-size="7.7">1.<tspan dx="1.9">00779</tspan></text>
<path d="M439.9,99.50h-3.2" stroke="#111" stroke-width="0.8"/>
<text class="t" x="443.3" y="102.30" font-size="7.7">1.<tspan dx="1.9">00779</tspan></text>
<path d="M439.9,118.50h-3.2" stroke="#111" stroke-width="0.8"/>
<text class="t" x="443.3" y="121.30" font-size="7.7">1.<tspan dx="1.9">00779</tspan></text>
<path d="M439.9,137.50h-3.2" stroke="#111" stroke-width="0.8"/>
<text class="t" x="443.3" y="140.30" font-size="7.7">1.<tspan dx="1.9">00779</tspan></text>
<path d="M439.9,156.50h-3.2" stroke="#111" stroke-width="0.8"/>
<text class="t" x="443.3" y="159.30" font-size="7.7">1.<tspan dx="1.9">00778</tspan></text>
<text class="t" x="443.3" y="178.30" font-size="7.7">1.<tspan dx="1.9">00778</tspan></text>
<text x="321.6" y="15.9" font-size="9.61">Magnetic charge density grade(Wb/mm<tspan dy="-4.1" font-size="6.54">2</tspan><tspan dy="4.1">)</tspan></text>
<text x="299.2" y="201.7" font-size="9.55">Defect width D<tspan dy="2" font-size="6.21">y</tspan><tspan dy="-2">(mm)</tspan></text>
<text transform="translate(250.2,96.4) rotate(-90)" font-size="10" text-anchor="middle">Defect depth D<tspan dy="2" font-size="6.4">z</tspan><tspan dy="-2">(mm)</tspan></text>
<text x="301.9" y="215.1" font-size="14.8">(b)10Mpa</text>
<g clip-path="url(#cpc)">
<rect x="496.3" y="18.5" width="156.6" height="159.8" fill="#ff6200"/>
<g transform="translate(575.7,96.4)">
<path fill="#ff7500" d="M82.4,0 82.4,-4.6 82.4,-9.2 82.4,-13.9 82.4,-18.7 82.4,-23.6 82.4,-28.7 82.4,-34 82.4,-39.5 82.4,-45.3 82.4,-51.5 82.4,-58.2 82.4,-65.4 82.4,-73.3 80.7,-80.3 75.7,-84.3 68.1,-84.9 60.5,-84.9 53.6,-84.9 47.2,-84.9 41.1,-84.9 35.3,-84.9 29.9,-84.9 24.6,-84.9 19.5,-84.9 14.5,-84.9 9.6,-84.9 4.8,-84.9 0,-84.9 -4.8,-84.9 -9.6,-84.9 -14.5,-84.9 -19.5,-84.9 -24.6,-84.9 -29.9,-84.9 -35.3,-84.9 -41.1,-84.9 -47.2,-84.9 -53.6,-84.9 -60.5,-84.9 -68.1,-84.9 -74,-82.3 -78.8,-78.4 -82.4,-73.3 -82.4,-65.4 -82.4,-58.2 -82.4,-51.5 -82.4,-45.3 -82.4,-39.5 -82.4,-34 -82.4,-28.7 -82.4,-23.6 -82.4,-18.7 -82.4,-13.9 -82.4,-9.2 -82.4,-4.6 -82.4,0 -82.4,4.6 -82.4,9.2 -82.4,13.9 -82.4,18.7 -82.4,23.6 -82.4,28.7 -82.4,34 -82.4,39.5 -82.4,45.3 -82.4,51.5 -82.4,58.2 -82.4,65.4 -82.4,73.3 -81,80.6 -76.1,84.8 -68.1,84.9 -60.5,84.9 -53.6,84.9 -47.2,84.9 -41.1,84.9 -35.3,84.9 -29.9,84.9 -24.6,84.9 -19.5,84.9 -14.5,84.9 -9.6,84.9 -4.8,84.9 0,84.9 4.8,84.9 9.6,84.9 14.5,84.9 19.5,84.9 24.6,84.9 29.9,84.9 35.3,84.9 41.1,84.9 47.2,84.9 53.6,84.9 60.5,84.9 68.1,84.9 76.3,84.9 82.4,82 82.4,73.3 82.4,65.4 82.4,58.2 82.4,51.5 82.4,45.3 82.4,39.5 82.4,34 82.4,28.7 82.4,23.6 82.4,18.7 82.4,13.9 82.4,9.2 82.4,4.6Z"/>
<path fill="#ff8700" d="M82.4,0 82.4,-4.6 82.4,-9.2 82.4,-13.9 82.4,-18.7 82.4,-23.6 82.4,-28.7 82.4,-34 82.4,-39.5 82.4,-45.3 82.4,-51.5 82.4,-58.2 82.4,-65.4 82.4,-73.3 80.2,-79.8 75.1,-83.7 68.1,-84.9 60.5,-84.9 53.6,-84.9 47.2,-84.9 41.1,-84.9 35.3,-84.9 29.9,-84.9 24.6,-84.9 19.5,-84.9 14.5,-84.9 9.6,-84.9 4.8,-84.9 0,-84.9 -4.8,-84.9 -9.6,-84.9 -14.5,-84.9 -19.5,-84.9 -24.6,-84.9 -29.9,-84.9 -35.3,-84.9 -41.1,-84.9 -47.2,-84.9 -53.6,-84.9 -60.5,-84.9 -68,-84.9 -73.4,-81.7 -78.2,-77.8 -82.2,-73.1 -82.4,-65.4 -82.4,-58.2 -82.4,-51.5 -82.4,-45.3 -82.4,-39.5 -82.4,-34 -82.4,-28.7 -82.4,-23.6 -82.4,-18.7 -82.4,-13.9 -82.4,-9.2 -82.4,-4.6 -82.4,0 -82.4,4.6 -82.4,9.2 -82.4,13.9 -82.4,18.7 -82.4,23.6 -82.4,28.7 -82.4,34 -82.4,39.5 -82.4,45.3 -82.4,51.5 -82.4,58.2 -82.4,65.4 -82.4,73.3 -80.4,80 -75.6,84.2 -68.1,84.9 -60.5,84.9 -53.6,84.9 -47.2,84.9 -41.1,84.9 -35.3,84.9 -29.9,84.9 -24.6,84.9 -19.5,84.9 -14.5,84.9 -9.6,84.9 -4.8,84.9 0,84.9 4.8,84.9 9.6,84.9 14.5,84.9 19.5,84.9 24.6,84.9 29.9,84.9 35.3,84.9 41.1,84.9 47.2,84.9 53.6,84.9 60.5,84.9 68.1,84.9 76.3,84.9 82.4,82 82.4,73.3 82.4,65.4 82.4,58.2 82.4,51.5 82.4,45.3 82.4,39.5 82.4,34 82.4,28.7 82.4,23.6 82.4,18.7 82.4,13.9 82.4,9.2 82.4,4.6Z"/>
<path fill="#ff9900" d="M82.4,0 82.4,-4.6 82.4,-9.2 82.4,-13.9 82.4,-18.7 82.4,-23.6 82.4,-28.7 82.4,-34 82.4,-39.5 82.4,-45.3 82.4,-51.5 82.4,-58.2 82.4,-65.4 82.4,-73.3 79.6,-79.2 74.6,-83.1 68.1,-84.9 60.5,-84.9 53.6,-84.9 47.2,-84.9 41.1,-84.9 35.3,-84.9 29.9,-84.9 24.6,-84.9 19.5,-84.9 14.5,-84.9 9.6,-84.9 4.8,-84.9 0,-84.9 -4.8,-84.9 -9.6,-84.9 -14.5,-84.9 -19.5,-84.9 -24.6,-84.9 -29.9,-84.9 -35.3,-84.9 -41.1,-84.9 -47.2,-84.9 -53.6,-84.9 -60.5,-84.9 -67.6,-84.3 -72.9,-81.2 -77.6,-77.2 -81.6,-72.5 -82.4,-65.4 -82.4,-58.2 -82.4,-51.5 -82.4,-45.3 -82.4,-39.5 -82.4,-34 -82.4,-28.7 -82.4,-23.6 -82.4,-18.7 -82.4,-13.9 -82.4,-9.2 -82.4,-4.6 -82.4,0 -82.4,4.6 -82.4,9.2 -82.4,13.9 -82.4,18.7 -82.4,23.6 -82.4,28.7 -82.4,34 -82.4,39.5 -82.4,45.3 -82.4,51.5 -82.4,58.2 -82.4,65.4 -82.4,73.3 -79.8,79.4 -75,83.5 -68.1,84.9 -60.5,84.9 -53.6,84.9 -47.2,84.9 -41.1,84.9 -35.3,84.9 -29.9,84.9 -24.6,84.9 -19.5,84.9 -14.5,84.9 -9.6,84.9 -4.8,84.9 0,84.9 4.8,84.9 9.6,84.9 14.5,84.9 19.5,84.9 24.6,84.9 29.9,84.9 35.3,84.9 41.1,84.9 47.2,84.9 53.6,84.9 60.5,84.9 68.1,84.9 76.3,84.9 82.1,81.6 82.4,73.3 82.4,65.4 82.4,58.2 82.4,51.5 82.4,45.3 82.4,39.5 82.4,34 82.4,28.7 82.4,23.6 82.4,18.7 82.4,13.9 82.4,9.2 82.4,4.6Z"/>
<path fill="#ffab00" d="M82.4,0 82.4,-4.6 82.4,-9.2 82.4,-13.9 82.4,-18.7 82.4,-23.6 82.4,-28.7 82.4,-34 82.4,-39.5 82.4,-45.3 82.4,-51.5 82.4,-58.2 82.4,-65.4 82.4,-73.3 79,-78.6 74,-82.4 68.1,-84.9 60.5,-84.9 53.6,-84.9 47.2,-84.9 41.1,-84.9 35.3,-84.9 29.9,-84.9 24.6,-84.9 19.5,-84.9 14.5,-84.9 9.6,-84.9 4.8,-84.9 0,-84.9 -4.8,-84.9 -9.6,-84.9 -14.5,-84.9 -19.5,-84.9 -24.6,-84.9 -29.9,-84.9 -35.3,-84.9 -41.1,-84.9 -47.2,-84.9 -53.6,-84.9 -60.5,-84.9 -67.1,-83.7 -72.4,-80.6 -77,-76.7 -81,-72 -82.4,-65.4 -82.4,-58.2 -82.4,-51.5 -82.4,-45.3 -82.4,-39.5 -82.4,-34 -82.4,-28.7 -82.4,-23.6 -82.4,-18.7 -82.4,-13.9 -82.4,-9.2 -82.4,-4.6 -82.4,0 -82.4,4.6 -82.4,9.2 -82.4,13.9 -82.4,18.7 -82.4,23.6 -82.4,28.7 -82.4,34 -82.4,39.5 -82.4,45.3 -82.4,51.5 -82.4,58.2 -82.4,65.4 -82.4,73.3 -79.2,78.8 -74.5,82.9 -68.1,84.9 -60.5,84.9 -53.6,84.9 -47.2,84.9 -41.1,84.9 -35.3,84.9 -29.9,84.9 -24.6,84.9 -19.5,84.9 -14.5,84.9 -9.6,84.9 -4.8,84.9 0,84.9 4.8,84.9 9.6,84.9 14.5,84.9 19.5,84.9 24.6,84.9 29.9,84.9 35.3,84.9 41.1,84.9 47.2,84.9 53.6,84.9 60.5,84.9 68.1,84.9 76.3,84.9 81.4,81 82.4,73.3 82.4,65.4 82.4,58.2 82.4,51.5 82.4,45.3 82.4,39.5 82.4,34 82.4,28.7 82.4,23.6 82.4,18.7 82.4,13.9 82.4,9.2 82.4,4.6Z"/>
<path fill="#ffbd00" d="M82.4,0 82.4,-4.6 82.4,-9.2 82.4,-13.9 82.4,-18.7 82.4,-23.6 82.4,-28.7 82.4,-34 82.4,-39.5 82.4,-45.3 82.4,-51.5 82.4,-58.2 82.4,-65.4 82.4,-73.3 78.4,-78 73.5,-81.8 68,-84.8 60.5,-84.9 53.6,-84.9 47.2,-84.9 41.1,-84.9 35.3,-84.9 29.9,-84.9 24.6,-84.9 19.5,-84.9 14.5,-84.9 9.6,-84.9 4.8,-84.9 0,-84.9 -4.8,-84.9 -9.6,-84.9 -14.5,-84.9 -19.5,-84.9 -24.6,-84.9 -29.9,-84.9 -35.3,-84.9 -41.1,-84.9 -47.2,-84.9 -53.6,-84.9 -60.5,-84.9 -66.6,-83 -71.8,-79.9 -76.4,-76.1 -80.4,-71.4 -82.4,-65.4 -82.4,-58.2 -82.4,-51.5 -82.4,-45.3 -82.4,-39.5 -82.4,-34 -82.4,-28.7 -82.4,-23.6 -82.4,-18.7 -82.4,-13.9 -82.4,-9.2 -82.4,-4.6 -82.4,0 -82.4,4.6 -82.4,9.2 -82.4,13.9 -82.4,18.7 -82.4,23.6 -82.4,28.7 -82.4,34 -82.4,39.5 -82.4,45.3 -82.4,51.5 -82.4,58.2 -82.4,65.4 -82.4,73.3 -78.6,78.2 -73.9,82.3 -68.1,84.9 -60.5,84.9 -53.6,84.9 -47.2,84.9 -41.1,84.9 -35.3,84.9 -29.9,84.9 -24.6,84.9 -19.5,84.9 -14.5,84.9 -9.6,84.9 -4.8,84.9 0,84.9 4.8,84.9 9.6,84.9 14.5,84.9 19.5,84.9 24.6,84.9 29.9,84.9 35.3,84.9 41.1,84.9 47.2,84.9 53.6,84.9 60.5,84.9 68.1,84.9 75.9,84.4 80.8,80.4 82.4,73.3 82.4,65.4 82.4,58.2 82.4,51.5 82.4,45.3 82.4,39.5 82.4,34 82.4,28.7 82.4,23.6 82.4,18.7 82.4,13.9 82.4,9.2 82.4,4.6Z"/>
<path fill="#ffd000" d="M82.4,0 82.4,-4.6 82.4,-9.2 82.4,-13.9 82.4,-18.7 82.4,-23.6 82.4,-28.7 82.4,-34 82.4,-39.5 82.4,-45.3 82.4,-51.5 82.4,-58.2 82.4,-65.4 81.8,-72.7 77.7,-77.4 72.9,-81.2 67.4,-84.1 60.5,-84.9 53.6,-84.9 47.2,-84.9 41.1,-84.9 35.3,-84.9 29.9,-84.9 24.6,-84.9 19.5,-84.9 14.5,-84.9 9.6,-84.9 4.8,-84.9 0,-84.9 -4.8,-84.9 -9.6,-84.9 -14.5,-84.9 -19.5,-84.9 -24.6,-84.9 -29.9,-84.9 -35.3,-84.9 -41.1,-84.9 -47.2,-84.9 -53.6,-84.9 -60.5,-84.8 -66,-82.4 -71.2,-79.3 -75.8,-75.4 -79.7,-70.9 -82.4,-65.4 -82.4,-58.2 -82.4,-51.5 -82.4,-45.3 -82.4,-39.5 -82.4,-34 -82.4,-28.7 -82.4,-23.6 -82.4,-18.7 -82.4,-13.9 -82.4,-9.2 -82.4,-4.6 -82.4,0 -82.4,4.6 -82.4,9.2 -82.4,13.9 -82.4,18.7 -82.4,23.6 -82.4,28.7 -82.4,34 -82.4,39.5 -82.4,45.3 -82.4,51.5 -82.4,58.2 -82.4,65.4 -81.8,72.7 -78,77.6 -73.3,81.6 -68,84.9 -60.5,84.9 -53.6,84.9 -47.2,84.9 -41.1,84.9 -35.3,84.9 -29.9,84.9 -24.6,84.9 -19.5,84.9 -14.5,84.9 -9.6,84.9 -4.8,84.9 0,84.9 4.8,84.9 9.6,84.9 14.5,84.9 19.5,84.9 24.6,84.9 29.9,84.9 35.3,84.9 41.1,84.9 47.2,84.9 53.6,84.9 60.5,84.9 68.1,84.9 75.3,83.8 80.2,79.8 82.4,73.3 82.4,65.4 82.4,58.2 82.4,51.5 82.4,45.3 82.4,39.5 82.4,34 82.4,28.7 82.4,23.6 82.4,18.7 82.4,13.9 82.4,9.2 82.4,4.6Z"/>
<path fill="#ffe200" d="M82.4,0 82.4,-4.6 82.4,-9.2 82.4,-13.9 82.4,-18.7 82.4,-23.6 82.4,-28.7 82.4,-34 82.4,-39.5 82.4,-45.3 82.4,-51.5 82.4,-58.2 82.4,-65.4 81.2,-72.2 77.1,-76.7 72.3,-80.5 66.9,-83.5 60.5,-84.9 53.6,-84.9 47.2,-84.9 41.1,-84.9 35.3,-84.9 29.9,-84.9 24.6,-84.9 19.5,-84.9 14.5,-84.9 9.6,-84.9 4.8,-84.9 0,-84.9 -4.8,-84.9 -9.6,-84.9 -14.5,-84.9 -19.5,-84.9 -24.6,-84.9 -29.9,-84.9 -35.3,-84.9 -41.1,-84.9 -47.2,-84.9 -53.6,-84.9 -60,-84.1 -65.5,-81.7 -70.6,-78.7 -75.2,-74.8 -79.1,-70.3 -82.2,-65.2 -82.4,-58.2 -82.4,-51.5 -82.4,-45.3 -82.4,-39.5 -82.4,-34 -82.4,-28.7 -82.4,-23.6 -82.4,-18.7 -82.4,-13.9 -82.4,-9.2 -82.4,-4.6 -82.4,0 -82.4,4.6 -82.4,9.2 -82.4,13.9 -82.4,18.7 -82.4,23.6 -82.4,28.7 -82.4,34 -82.4,39.5 -82.4,45.3 -82.4,51.5 -82.4,58.2 -82.4,65.4 -81.1,72.1 -77.3,76.9 -72.7,81 -67.5,84.2 -60.5,84.9 -53.6,84.9 -47.2,84.9 -41.1,84.9 -35.3,84.9 -29.9,84.9 -24.6,84.9 -19.5,84.9 -14.5,84.9 -9.6,84.9 -4.8,84.9 0,84.9 4.8,84.9 9.6,84.9 14.5,84.9 19.5,84.9 24.6,84.9 29.9,84.9 35.3,84.9 41.1,84.9 47.2,84.9 53.6,84.9 60.5,84.9 68.1,84.9 74.6,83.1 79.5,79.1 82.4,73.3 82.4,65.4 82.4,58.2 82.4,51.5 82.4,45.3 82.4,39.5 82.4,34 82.4,28.7 82.4,23.6 82.4,18.7 82.4,13.9 82.4,9.2 82.4,4.6Z"/>
<path fill="#fff400" d="M82.4,0 82.4,-4.8 82.4,-9.6 82.4,-14.5 82.4,-19.4 82.4,-24.5 82.4,-29.8 82.4,-35.4 82.4,-41.2 82.4,-47.3 82.4,-53.9 82.4,-61 82.4,-68.8 78.6,-73.8 74.1,-78.1 68.8,-81.6 63,-84.2 56.1,-84.9 49.3,-84.9 42.9,-84.9 36.8,-84.9 31.1,-84.9 25.5,-84.9 20.2,-84.9 15,-84.9 10,-84.9 5,-84.9 0,-84.9 -5,-84.9 -10,-84.9 -15,-84.9 -20.2,-84.9 -25.5,-84.9 -31.1,-84.9 -36.8,-84.9 -42.9,-84.9 -49.3,-84.9 -56,-84.7 -61.8,-82.6 -67.3,-79.8 -72.3,-76.3 -76.7,-71.9 -80.2,-67 -82.4,-61 -82.4,-53.9 -82.4,-47.3 -82.4,-41.2 -82.4,-35.4 -82.4,-29.8 -82.4,-24.5 -82.4,-19.4 -82.4,-14.5 -82.4,-9.6 -82.4,-4.8 -82.4,0 -82.4,4.8 -82.4,9.6 -82.4,14.5 -82.4,19.4 -82.4,24.5 -82.4,29.8 -82.4,35.4 -82.4,41.2 -82.4,47.3 -82.4,53.9 -82.4,61 -82.2,68.6 -78.7,73.9 -74.4,78.5 -69.3,82.2 -63.5,84.9 -56.1,84.9 -49.3,84.9 -42.9,84.9 -36.8,84.9 -31.1,84.9 -25.5,84.9 -20.2,84.9 -15,84.9 -10,84.9 -5,84.9 0,84.9 5,84.9 10,84.9 15,84.9 20.2,84.9 25.5,84.9 31.1,84.9 36.8,84.9 42.9,84.9 49.3,84.9 56.1,84.9 63.5,84.9 71,84.2 76.4,80.6 81,76 82.4,68.8 82.4,61 82.4,53.9 82.4,47.3 82.4,41.2 82.4,35.4 82.4,29.8 82.4,24.5 82.4,19.4 82.4,14.5 82.4,9.6 82.4,4.8Z"/>
<path fill="#f8ff00" d="M82.4,0 82.4,-4.8 82.4,-9.6 82.4,-14.5 82.4,-19.4 82.4,-24.5 82.4,-29.8 82.4,-35.4 82.4,-41.2 82.4,-47.3 82.4,-53.9 82.4,-61 81.6,-68.2 78,-73.2 73.4,-77.4 68.2,-80.9 62.5,-83.5 56.1,-84.9 49.3,-84.9 42.9,-84.9 36.8,-84.9 31.1,-84.9 25.5,-84.9 20.2,-84.9 15,-84.9 10,-84.9 5,-84.9 0,-84.9 -5,-84.9 -10,-84.9 -15,-84.9 -20.2,-84.9 -25.5,-84.9 -31.1,-84.9 -36.8,-84.9 -42.9,-84.9 -49.3,-84.9 -55.5,-84 -61.3,-81.9 -66.7,-79.1 -71.7,-75.6 -76,-71.3 -79.5,-66.4 -82.3,-61 -82.4,-53.9 -82.4,-47.3 -82.4,-41.2 -82.4,-35.4 -82.4,-29.8 -82.4,-24.5 -82.4,-19.4 -82.4,-14.5 -82.4,-9.6 -82.4,-4.8 -82.4,0 -82.4,4.8 -82.4,9.6 -82.4,14.5 -82.4,19.4 -82.4,24.5 -82.4,29.8 -82.4,35.4 -82.4,41.2 -82.4,47.3 -82.4,53.9 -82.4,61 -81.5,68 -78.1,73.3 -73.8,77.8 -68.7,81.5 -63.1,84.3 -56.1,84.9 -49.3,84.9 -42.9,84.9 -36.8,84.9 -31.1,84.9 -25.5,84.9 -20.2,84.9 -15,84.9 -10,84.9 -5,84.9 0,84.9 5,84.9 10,84.9 15,84.9 20.2,84.9 25.5,84.9 31.1,84.9 36.8,84.9 42.9,84.9 49.3,84.9 56.1,84.9 63.5,84.9 70.4,83.5 75.8,79.9 80.3,75.4 82.4,68.8 82.4,61 82.4,53.9 82.4,47.3 82.4,41.2 82.4,35.4 82.4,29.8 82.4,24.5 82.4,19.4 82.4,14.5 82.4,9.6 82.4,4.8Z"/>
<path fill="#e5ff00" d="M82.4,0 82.4,-4.8 82.4,-9.6 82.4,-14.5 82.4,-19.4 82.4,-24.5 82.4,-29.8 82.4,-35.4 82.4,-41.2 82.4,-47.3 82.4,-53.9 82.4,-61 80.9,-67.6 77.2,-72.5 72.8,-76.7 67.6,-80.1 61.9,-82.8 56,-84.7 49.3,-84.9 42.9,-84.9 36.8,-84.9 31.1,-84.9 25.5,-84.9 20.2,-84.9 15,-84.9 10,-84.9 5,-84.9 0,-84.9 -5,-84.9 -10,-84.9 -15,-84.9 -20.2,-84.9 -25.5,-84.9 -31.1,-84.9 -36.8,-84.9 -42.9,-84.9 -49.3,-84.9 -55.1,-83.3 -60.7,-81.2 -66.1,-78.4 -71,-74.9 -75.3,-70.7 -78.8,-65.8 -81.6,-60.4 -82.4,-53.9 -82.4,-47.3 -82.4,-41.2 -82.4,-35.4 -82.4,-29.8 -82.4,-24.5 -82.4,-19.4 -82.4,-14.5 -82.4,-9.6 -82.4,-4.8 -82.4,0 -82.4,4.8 -82.4,9.6 -82.4,14.5 -82.4,19.4 -82.4,24.5 -82.4,29.8 -82.4,35.4 -82.4,41.2 -82.4,47.3 -82.4,53.9 -82.4,61 -80.8,67.4 -77.3,72.6 -73.1,77.1 -68.1,80.7 -62.6,83.6 -56.1,84.9 -49.3,84.9 -42.9,84.9 -36.8,84.9 -31.1,84.9 -25.5,84.9 -20.2,84.9 -15,84.9 -10,84.9 -5,84.9 0,84.9 5,84.9 10,84.9 15,84.9 20.2,84.9 25.5,84.9 31.1,84.9 36.8,84.9 42.9,84.9 49.3,84.9 56.1,84.9 63.5,84.9 69.8,82.8 75.1,79.2 79.6,74.7 82.4,68.8 82.4,61 82.4,53.9 82.4,47.3 82.4,41.2 82.4,35.4 82.4,29.8 82.4,24.5 82.4,19.4 82.4,14.5 82.4,9.6 82.4,4.8Z"/>
<path fill="#d3ff00" d="M82.4,0 82.4,-4.8 82.4,-9.6 82.4,-14.5 82.4,-19.4 82.4,-24.5 82.4,-29.8 82.4,-35.4 82.4,-41.2 82.4,-47.3 82.4,-53.9 82.4,-61 80.2,-66.9 76.5,-71.8 72.1,-76 67,-79.4 61.4,-82 55.5,-84 49.3,-84.9 42.9,-84.9 36.8,-84.9 31.1,-84.9 25.5,-84.9 20.2,-84.9 15,-84.9 10,-84.9 5,-84.9 0,-84.9 -5,-84.9 -10,-84.9 -15,-84.9 -20.2,-84.9 -25.5,-84.9 -31.1,-84.9 -36.8,-84.9 -42.9,-84.9 -48.9,-84.2 -54.6,-82.6 -60.2,-80.4 -65.5,-77.7 -70.4,-74.2 -74.6,-70 -78.1,-65.2 -80.9,-59.9 -82.4,-53.9 -82.4,-47.3 -82.4,-41.2 -82.4,-35.4 -82.4,-29.8 -82.4,-24.5 -82.4,-19.4 -82.4,-14.5 -82.4,-9.6 -82.4,-4.8 -82.4,0 -82.4,4.8 -82.4,9.6 -82.4,14.5 -82.4,19.4 -82.4,24.5 -82.4,29.8 -82.4,35.4 -82.4,41.2 -82.4,47.3 -82.4,53.9 -82.4,61 -80,66.8 -76.6,71.9 -72.4,76.4 -67.5,80 -62,82.9 -56.1,84.9 -49.3,84.9 -42.9,84.9 -36.8,84.9 -31.1,84.9 -25.5,84.9 -20.2,84.9 -15,84.9 -10,84.9 -5,84.9 0,84.9 5,84.9 10,84.9 15,84.9 20.2,84.9 25.5,84.9 31.1,84.9 36.8,84.9 42.9,84.9 49.3,84.9 56.1,84.9 63.4,84.7 69.2,82 74.4,78.4 78.8,74 82.4,68.8 82.4,61 82.4,53.9 82.4,47.3 82.4,41.2 82.4,35.4 82.4,29.8 82.4,24.5 82.4,19.4 82.4,14.5 82.4,9.6 82.4,4.8Z"/>
<path fill="#c1ff00" d="M82.4,0 82.4,-4.8 82.4,-9.6 82.4,-14.5 82.4,-19.4 82.4,-24.5 82.4,-29.8 82.4,-35.4 82.4,-41.2 82.4,-47.3 82.4,-53.9 82.3,-61 79.4,-66.3 75.8,-71.1 71.4,-75.3 66.3,-78.7 60.8,-81.3 55,-83.2 49.2,-84.7 42.9,-84.9 36.8,-84.9 31.1,-84.9 25.5,-84.9 20.2,-84.9 15,-84.9 10,-84.9 5,-84.9 0,-84.9 -5,-84.9 -10,-84.9 -15,-84.9 -20.2,-84.9 -25.5,-84.9 -31.1,-84.9 -36.8,-84.9 -42.7,-84.7 -48.4,-83.4 -54.1,-81.8 -59.6,-79.7 -64.9,-76.9 -69.7,-73.5 -73.9,-69.4 -77.4,-64.6 -80.1,-59.3 -82.3,-53.8 -82.4,-47.3 -82.4,-41.2 -82.4,-35.4 -82.4,-29.8 -82.4,-24.5 -82.4,-19.4 -82.4,-14.5 -82.4,-9.6 -82.4,-4.8 -82.4,0 -82.4,4.8 -82.4,9.6 -82.4,14.5 -82.4,19.4 -82.4,24.5 -82.4,29.8 -82.4,35.4 -82.4,41.2 -82.4,47.3 -82.4,53.9 -81.9,60.7 -79.3,66.2 -75.9,71.2 -71.7,75.6 -66.8,79.2 -61.4,82.1 -55.7,84.3 -49.3,84.9 -42.9,84.9 -36.8,84.9 -31.1,84.9 -25.5,84.9 -20.2,84.9 -15,84.9 -10,84.9 -5,84.9 0,84.9 5,84.9 10,84.9 15,84.9 20.2,84.9 25.5,84.9 31.1,84.9 36.8,84.9 42.9,84.9 49.3,84.9 56.1,84.9 62.8,83.9 68.5,81.2 73.7,77.7 78.1,73.3 81.6,68.1 82.4,61 82.4,53.9 82.4,47.3 82.4,41.2 82.4,35.4 82.4,29.8 82.4,24.5 82.4,19.4 82.4,14.5 82.4,9.6 82.4,4.8Z"/>
<path fill="#afff00" d="M82.4,0 82.4,-4.8 82.4,-9.6 82.4,-14.5 82.4,-19.4 82.4,-24.5 82.4,-29.8 82.4,-35.4 82.4,-41.2 82.4,-47.3 82.4,-53.9 81.5,-60.4 78.6,-65.7 75,-70.4 70.7,-74.5 65.7,-77.9 60.2,-80.5 54.5,-82.5 48.7,-83.9 42.9,-84.9 36.8,-84.9 31.1,-84.9 25.5,-84.9 20.2,-84.9 15,-84.9 10,-84.9 5,-84.9 0,-84.9 -5,-84.9 -10,-84.9 -15,-84.9 -20.2,-84.9 -25.5,-84.9 -31.1,-84.9 -36.8,-84.9 -42.4,-83.9 -48,-82.7 -53.6,-81.1 -59.1,-78.9 -64.3,-76.2 -69,-72.8 -73.2,-68.7 -76.6,-63.9 -79.4,-58.8 -81.5,-53.3 -82.4,-47.3 -82.4,-41.2 -82.4,-35.4 -82.4,-29.8 -82.4,-24.5 -82.4,-19.4 -82.4,-14.5 -82.4,-9.6 -82.4,-4.8 -82.4,0 -82.4,4.8 -82.4,9.6 -82.4,14.5 -82.4,19.4 -82.4,24.5 -82.4,29.8 -82.4,35.4 -82.4,41.2 -82.4,47.3 -82.4,53.9 -81.1,60.1 -78.5,65.5 -75.1,70.5 -71,74.9 -66.2,78.5 -60.8,81.3 -55.2,83.5 -49.3,84.9 -42.9,84.9 -36.8,84.9 -31.1,84.9 -25.5,84.9 -20.2,84.9 -15,84.9 -10,84.9 -5,84.9 0,84.9 5,84.9 10,84.9 15,84.9 20.2,84.9 25.5,84.9 31.1,84.9 36.8,84.9 42.9,84.9 49.3,84.9 56.1,84.9 62.2,83.1 67.8,80.4 72.9,76.9 77.3,72.6 80.8,67.5 82.4,61 82.4,53.9 82.4,47.3 82.4,41.2 82.4,35.4 82.4,29.8 82.4,24.5 82.4,19.4 82.4,14.5 82.4,9.6 82.4,4.8Z"/>
<path fill="#9dff00" d="M82.4,0 82.4,-5 82.4,-10 82.4,-15 82.4,-20.2 82.4,-25.5 82.4,-31.1 82.4,-36.9 82.4,-43 82.4,-49.6 82.1,-56.4 79.6,-62 76.3,-67.2 72.2,-71.8 67.4,-75.7 62,-78.7 56.2,-81 50.2,-82.7 44.3,-84 38.4,-84.9 32.4,-84.9 26.6,-84.9 21,-84.9 15.6,-84.9 10.4,-84.9 5.2,-84.9 0,-84.9 -5.2,-84.9 -10.4,-84.9 -15.6,-84.9 -21,-84.9 -26.6,-84.9 -32.3,-84.7 -38,-83.9 -43.7,-82.8 -49.5,-81.4 -55.2,-79.5 -60.7,-77.1 -65.8,-73.9 -70.4,-70.1 -74.3,-65.5 -77.5,-60.4 -80,-54.9 -81.9,-49.2 -82.4,-43 -82.4,-36.9 -82.4,-31.1 -82.4,-25.5 -82.4,-20.2 -82.4,-15 -82.4,-10 -82.4,-5 -82.4,0 -82.4,5 -82.4,10 -82.4,15 -82.4,20.2 -82.4,25.5 -82.4,31.1 -82.4,36.9 -82.4,43 -82.4,49.6 -81.6,56 -79.3,61.8 -76.3,67.2 -72.4,72 -67.8,76.1 -62.5,79.4 -56.8,81.9 -51,83.9 -44.8,84.9 -38.4,84.9 -32.4,84.9 -26.6,84.9 -21,84.9 -15.6,84.9 -10.4,84.9 -5.2,84.9 0,84.9 5.2,84.9 10.4,84.9 15.6,84.9 21,84.9 26.6,84.9 32.4,84.9 38.4,84.9 44.8,84.9 51.6,84.9 58,83.6 64,81.2 69.5,78.1 74.4,74.1 78.5,69.2 81.6,63.6 82.4,56.6 82.4,49.6 82.4,43 82.4,36.9 82.4,31.1 82.4,25.5 82.4,20.2 82.4,15 82.4,10 82.4,5Z"/>
<path fill="#00ff00" d="M82.4,0 82.4,-5 82.4,-10 82.4,-15 82.4,-20.2 82.4,-25.5 82.4,-31.1 82.4,-36.9 82.4,-43 82.4,-49.6 81.3,-55.8 78.8,-61.4 75.5,-66.5 71.4,-71.1 66.6,-74.8 61.3,-77.9 55.6,-80.2 49.8,-81.9 43.9,-83.2 38,-84.1 32.3,-84.7 26.6,-84.9 21,-84.9 15.6,-84.9 10.4,-84.9 5.2,-84.9 0,-84.9 -5.2,-84.9 -10.4,-84.9 -15.6,-84.9 -21,-84.9 -26.5,-84.5 -32,-83.9 -37.6,-83.1 -43.3,-82 -49,-80.6 -54.6,-78.7 -60.1,-76.3 -65.1,-73.2 -69.7,-69.3 -73.5,-64.8 -76.7,-59.8 -79.2,-54.4 -81.1,-48.8 -82.4,-43 -82.4,-36.9 -82.4,-31.1 -82.4,-25.5 -82.4,-20.2 -82.4,-15 -82.4,-10 -82.4,-5 -82.4,0 -82.4,5 -82.4,10 -82.4,15 -82.4,20.2 -82.4,25.5 -82.4,31.1 -82.4,36.9 -82.4,43 -82.4,49.6 -80.8,55.5 -78.5,61.2 -75.4,66.5 -71.6,71.3 -67.1,75.3 -61.9,78.6 -56.3,81.1 -50.5,83 -44.6,84.5 -38.4,84.9 -32.4,84.9 -26.6,84.9 -21,84.9 -15.6,84.9 -10.4,84.9 -5.2,84.9 0,84.9 5.2,84.9 10.4,84.9 15.6,84.9 21,84.9 26.6,84.9 32.4,84.9 38.4,84.9 44.8,84.9 51.4,84.5 57.4,82.8 63.3,80.4 68.8,77.3 73.6,73.3 77.6,68.4 80.8,63 82.4,56.6 82.4,49.6 82.4,43 82.4,36.9 82.4,31.1 82.4,25.5 82.4,20.2 82.4,15 82.4,10 82.4,5Z"/>
<path fill="#00ff00" d="M82.4,0 82.4,-5 82.4,-10 82.4,-15 82.4,-20.2 82.4,-25.5 82.4,-31.1 82.4,-36.9 82.4,-43 82.4,-49.6 80.5,-55.3 77.9,-60.7 74.6,-65.8 70.6,-70.3 65.9,-74 60.7,-77 55,-79.3 49.3,-81.1 43.4,-82.3 37.7,-83.3 32,-83.9 26.4,-84.4 21,-84.7 15.6,-84.8 10.4,-84.9 5.2,-84.9 0,-84.8 -5.2,-84.8 -10.3,-84.6 -15.6,-84.4 -20.8,-84.1 -26.2,-83.7 -31.7,-83.1 -37.2,-82.3 -42.8,-81.2 -48.5,-79.8 -54,-77.9 -59.4,-75.5 -64.4,-72.4 -68.9,-68.6 -72.7,-64.1 -75.9,-59.1 -78.3,-53.8 -80.2,-48.3 -81.7,-42.7 -82.4,-36.9 -82.4,-31.1 -82.4,-25.5 -82.4,-20.2 -82.4,-15 -82.4,-10 -82.4,-5 -82.4,0 -82.4,5 -82.4,10 -82.4,15 -82.4,20.2 -82.4,25.5 -82.4,31.1 -82.4,36.9 -82.4,43 -81.7,49.1 -79.9,54.9 -77.6,60.5 -74.6,65.8 -70.8,70.5 -66.3,74.5 -61.2,77.7 -55.7,80.3 -49.9,82.2 -44.1,83.7 -38.3,84.8 -32.4,84.9 -26.6,84.9 -21,84.9 -15.6,84.9 -10.4,84.9 -5.2,84.9 0,84.9 5.2,84.9 10.4,84.9 15.6,84.9 21,84.9 26.6,84.9 32.4,84.9 38.4,84.9 44.8,84.9 50.8,83.7 56.8,81.9 62.6,79.5 68,76.4 72.8,72.4 76.8,67.7 79.9,62.3 82.3,56.5 82.4,49.6 82.4,43 82.4,36.9 82.4,31.1 82.4,25.5 82.4,20.2 82.4,15 82.4,10 82.4,5Z"/>
<path fill="#00ff00" d="M82.4,0 82.4,-5 82.4,-10 82.4,-15 82.4,-20.2 82.4,-25.5 82.4,-31.1 82.4,-36.9 82.4,-43 81.5,-49 79.6,-54.7 77,-60 73.8,-65 69.8,-69.5 65.2,-73.2 60,-76.2 54.4,-78.5 48.7,-80.2 43,-81.5 37.3,-82.4 31.7,-83.1 26.2,-83.6 20.8,-83.8 15.5,-84 10.3,-84.1 5.1,-84.1 0,-84 -5.1,-84 -10.2,-83.8 -15.4,-83.6 -20.6,-83.3 -26,-82.9 -31.4,-82.3 -36.9,-81.5 -42.4,-80.4 -48,-78.9 -53.5,-77.1 -58.8,-74.6 -63.7,-71.5 -68.1,-67.8 -71.9,-63.4 -75,-58.5 -77.5,-53.2 -79.4,-47.8 -80.9,-42.2 -82,-36.7 -82.4,-31.1 -82.4,-25.5 -82.4,-20.2 -82.4,-15 -82.4,-10 -82.4,-5 -82.4,0 -82.4,5 -82.4,10 -82.4,15 -82.4,20.2 -82.4,25.5 -82.4,31.1 -82.4,36.9 -82.1,42.9 -80.8,48.6 -79.1,54.3 -76.8,59.8 -73.8,65 -70,69.7 -65.6,73.6 -60.5,76.9 -55.1,79.4 -49.4,81.3 -43.7,82.8 -38,83.9 -32.3,84.7 -26.6,84.9 -21,84.9 -15.6,84.9 -10.4,84.9 -5.2,84.9 0,84.9 5.2,84.9 10.4,84.9 15.6,84.9 21,84.9 26.6,84.9 32.4,84.9 38.4,84.9 44.3,84.1 50.3,82.8 56.2,81 61.9,78.6 67.3,75.5 72,71.6 75.9,66.9 79,61.6 81.4,55.9 82.4,49.6 82.4,43 82.4,36.9 82.4,31.1 82.4,25.5 82.4,20.2 82.4,15 82.4,10 82.4,5Z"/>
<path fill="#00ff00" d="M82.4,0 82.4,-5 82.4,-10 82.4,-15 82.4,-20.2 82.4,-25.5 82.4,-31.1 82.4,-36.9 82.1,-42.9 80.6,-48.5 78.7,-54 76.1,-59.3 72.9,-64.3 69,-68.6 64.4,-72.3 59.3,-75.3 53.8,-77.6 48.2,-79.3 42.5,-80.6 36.9,-81.6 31.4,-82.2 25.9,-82.7 20.6,-83 15.3,-83.2 10.2,-83.3 5.1,-83.3 0,-83.2 -5.1,-83.1 -10.1,-83 -15.3,-82.8 -20.4,-82.5 -25.7,-82.1 -31.1,-81.5 -36.5,-80.6 -42,-79.5 -47.4,-78.1 -52.9,-76.2 -58.1,-73.8 -63,-70.7 -67.3,-67 -71.1,-62.6 -74.2,-57.8 -76.6,-52.6 -78.5,-47.2 -80,-41.8 -81.1,-36.3 -81.9,-30.9 -82.4,-25.5 -82.4,-20.2 -82.4,-15 -82.4,-10 -82.4,-5 -82.4,0 -82.4,5 -82.4,10 -82.4,15 -82.4,20.2 -82.4,25.5 -82.4,31.1 -82.2,36.8 -81.2,42.4 -79.9,48.1 -78.2,53.7 -75.9,59.1 -72.9,64.2 -69.2,68.8 -64.8,72.8 -59.8,76 -54.5,78.5 -48.9,80.4 -43.2,81.9 -37.6,83 -32,83.9 -26.5,84.5 -21,84.9 -15.6,84.9 -10.4,84.9 -5.2,84.9 0,84.9 5.2,84.9 10.4,84.9 15.6,84.9 21,84.9 26.6,84.9 32.3,84.8 38,84.1 43.9,83.2 49.7,81.9 55.6,80.1 61.2,77.7 66.4,74.6 71.1,70.7 75,66.1 78.1,60.9 80.5,55.3 82.2,49.5 82.4,43 82.4,36.9 82.4,31.1 82.4,25.5 82.4,20.2 82.4,15 82.4,10 82.4,5Z"/>
<path fill="#00ff00" d="M82.4,0 82.4,-5 82.4,-10 82.4,-15 82.4,-20.2 82.4,-25.5 82.4,-31.1 82.4,-36.9 81.2,-42.4 79.7,-47.9 77.8,-53.4 75.2,-58.6 72,-63.5 68.1,-67.8 63.6,-71.4 58.6,-74.4 53.2,-76.7 47.6,-78.4 42.1,-79.7 36.5,-80.7 31,-81.4 25.6,-81.8 20.4,-82.1 15.2,-82.3 10.1,-82.4 5,-82.4 0,-82.4 -5,-82.3 -10,-82.2 -15.1,-82 -20.2,-81.6 -25.4,-81.2 -30.7,-80.6 -36.1,-79.8 -41.5,-78.6 -46.9,-77.2 -52.2,-75.3 -57.4,-72.9 -62.2,-69.8 -66.5,-66.2 -70.2,-61.9 -73.3,-57.1 -75.7,-52 -77.6,-46.7 -79.1,-41.3 -80.2,-35.9 -81.1,-30.6 -81.7,-25.3 -82.1,-20.1 -82.4,-15 -82.4,-10 -82.4,-5 -82.4,0 -82.4,5 -82.4,10 -82.4,15 -82.4,20.2 -82.4,25.5 -81.9,30.9 -81.3,36.4 -80.3,41.9 -79,47.5 -77.3,53.1 -74.9,58.4 -72,63.5 -68.3,68 -64,71.9 -59.1,75 -53.8,77.6 -48.3,79.5 -42.7,81 -37.2,82.1 -31.6,83 -26.2,83.6 -20.8,84 -15.5,84.4 -10.3,84.6 -5.1,84.7 0,84.8 5.2,84.8 10.4,84.8 15.6,84.8 21,84.6 26.4,84.3 32,83.9 37.6,83.2 43.4,82.2 49.2,80.9 54.9,79.1 60.5,76.8 65.6,73.7 70.2,69.9 74.1,65.3 77.1,60.1 79.5,54.6 81.3,48.9 82.4,43 82.4,36.9 82.4,31.1 82.4,25.5 82.4,20.2 82.4,15 82.4,10 82.4,5Z"/>
<path fill="#00ff00" d="M82.4,0 82.4,-5.2 82.4,-10.4 82.4,-15.6 82.4,-21 82.4,-26.6 82.1,-32.3 81.1,-38 79.8,-43.7 78.1,-49.3 75.9,-54.8 73,-60 69.3,-64.8 65,-68.9 60.1,-72.2 54.7,-74.9 49.1,-76.9 43.3,-78.4 37.6,-79.5 32,-80.3 26.4,-80.9 21,-81.2 15.6,-81.4 10.4,-81.5 5.2,-81.5 0,-81.5 -5.1,-81.4 -10.3,-81.3 -15.5,-81 -20.8,-80.7 -26.2,-80.2 -31.6,-79.5 -37.2,-78.6 -42.7,-77.3 -48.2,-75.6 -53.7,-73.5 -58.8,-70.7 -63.5,-67.3 -67.6,-63.2 -71.1,-58.5 -73.9,-53.4 -76.1,-48 -77.8,-42.5 -79,-37 -80,-31.5 -80.7,-26.1 -81.2,-20.7 -81.5,-15.5 -81.8,-10.3 -81.9,-5.1 -82,0 -82.1,5.1 -82.1,10.3 -82,15.6 -81.8,20.9 -81.4,26.3 -80.9,31.9 -80.1,37.5 -79,43.2 -77.5,48.9 -75.5,54.5 -72.8,59.9 -69.4,64.9 -65.3,69.2 -60.5,72.8 -55.3,75.7 -49.7,77.9 -44,79.6 -38.3,80.9 -32.6,81.9 -27,82.6 -21.4,83.1 -16,83.4 -10.6,83.6 -5.3,83.8 0,83.9 5.3,83.9 10.7,83.9 16.1,83.9 21.6,83.7 27.2,83.3 32.9,82.8 38.8,82 44.7,80.9 50.6,79.4 56.5,77.3 62,74.5 67,71 71.4,66.7 74.9,61.7 77.7,56.1 79.7,50.3 81.3,44.4 82.4,38.6 82.4,32.5 82.4,26.6 82.4,21 82.4,15.6 82.4,10.4 82.4,5.2Z"/>
<path fill="#00ff00" d="M82.4,0 82.4,-5.2 82.4,-10.4 82.4,-15.6 82.4,-21 81.9,-26.5 81.1,-32 80.2,-37.5 78.9,-43.1 77.1,-48.7 74.9,-54.1 72,-59.3 68.4,-63.9 64.1,-67.9 59.3,-71.3 54,-73.9 48.4,-75.9 42.8,-77.5 37.2,-78.6 31.6,-79.4 26.1,-79.9 20.7,-80.3 15.4,-80.5 10.2,-80.6 5.1,-80.6 0,-80.6 -5.1,-80.5 -10.2,-80.3 -15.4,-80.1 -20.6,-79.8 -25.9,-79.3 -31.3,-78.6 -36.7,-77.6 -42.2,-76.4 -47.6,-74.7 -53,-72.5 -58,-69.8 -62.7,-66.4 -66.7,-62.3 -70.2,-57.7 -72.9,-52.7 -75.1,-47.4 -76.8,-42 -78.1,-36.6 -79,-31.1 -79.8,-25.8 -80.3,-20.5 -80.6,-15.3 -80.9,-10.2 -81,-5.1 -81.1,0 -81.1,5.1 -81.1,10.2 -81.1,15.4 -80.8,20.7 -80.5,26 -79.9,31.5 -79.1,37.1 -78,42.7 -76.5,48.3 -74.5,53.8 -71.8,59.1 -68.5,64 -64.4,68.3 -59.7,71.8 -54.5,74.7 -49.1,76.9 -43.5,78.7 -37.8,79.9 -32.2,80.9 -26.7,81.6 -21.2,82.1 -15.8,82.5 -10.5,82.7 -5.2,82.8 0,82.9 5.2,83 10.5,83 15.9,82.9 21.3,82.7 26.9,82.4 32.6,81.8 38.3,81 44.2,79.9 50,78.4 55.7,76.3 61.2,73.6 66.1,70 70.4,65.8 73.9,60.8 76.7,55.4 78.7,49.7 80.3,43.9 81.4,38.1 82.2,32.4 82.4,26.6 82.4,21 82.4,15.6 82.4,10.4 82.4,5.2Z"/>
<path fill="#00ff00" d="M82.3,0 82.2,-5.1 82,-10.3 81.8,-15.5 81.4,-20.8 80.9,-26.1 80.2,-31.6 79.2,-37.1 77.9,-42.6 76.1,-48.1 73.9,-53.4 71,-58.4 67.5,-63 63.2,-67 58.4,-70.3 53.2,-72.9 47.8,-74.9 42.3,-76.5 36.7,-77.6 31.2,-78.4 25.8,-79 20.5,-79.3 15.3,-79.6 10.1,-79.7 5,-79.7 0,-79.6 -5,-79.5 -10.1,-79.4 -15.2,-79.2 -20.3,-78.8 -25.6,-78.3 -30.9,-77.6 -36.3,-76.7 -41.7,-75.4 -47,-73.7 -52.3,-71.6 -57.2,-68.8 -61.8,-65.5 -65.8,-61.5 -69.2,-57 -72,-52 -74.1,-46.8 -75.8,-41.5 -77.1,-36.1 -78.1,-30.8 -78.8,-25.5 -79.3,-20.3 -79.7,-15.1 -79.9,-10 -80.1,-5 -80.1,0 -80.2,5 -80.2,10.1 -80.1,15.2 -79.9,20.4 -79.5,25.7 -79,31.1 -78.2,36.6 -77,42.1 -75.5,47.7 -73.5,53.1 -70.8,58.3 -67.5,63.1 -63.5,67.3 -58.9,70.8 -53.8,73.7 -48.4,75.9 -42.9,77.6 -37.3,79 -31.8,79.9 -26.3,80.6 -20.9,81.1 -15.6,81.5 -10.4,81.7 -5.2,81.9 0,82 5.2,82 10.4,82 15.7,81.9 21.1,81.7 26.6,81.4 32.2,80.8 37.8,80 43.6,78.9 49.3,77.3 55,75.3 60.3,72.5 65.2,69.1 69.4,64.8 72.9,60 75.6,54.7 77.7,49.1 79.2,43.3 80.4,37.6 81.2,32 81.7,26.4 82.1,21 82.3,15.6 82.3,10.3 82.3,5.2Z"/>
<path fill="#00ff07" d="M81.3,0 81.2,-5.1 81,-10.2 80.8,-15.3 80.4,-20.5 79.9,-25.8 79.1,-31.2 78.1,-36.6 76.8,-42 75.1,-47.4 72.8,-52.6 70,-57.6 66.5,-62.1 62.3,-66 57.6,-69.3 52.5,-71.9 47.1,-73.9 41.7,-75.4 36.2,-76.6 30.8,-77.4 25.5,-78 20.2,-78.4 15.1,-78.6 10,-78.7 5,-78.7 0,-78.6 -5,-78.6 -10,-78.4 -15,-78.2 -20.1,-77.9 -25.3,-77.3 -30.5,-76.6 -35.8,-75.7 -41.1,-74.4 -46.4,-72.7 -51.5,-70.6 -56.4,-67.8 -60.9,-64.5 -64.9,-60.6 -68.2,-56.1 -70.9,-51.3 -73.1,-46.2 -74.8,-40.9 -76.1,-35.6 -77.1,-30.4 -77.8,-25.2 -78.3,-20 -78.7,-14.9 -78.9,-9.9 -79.1,-4.9 -79.2,0 -79.2,5 -79.2,10 -79.1,15 -78.9,20.2 -78.5,25.4 -78,30.7 -77.1,36.1 -76,41.6 -74.5,47 -72.4,52.4 -69.8,57.5 -66.5,62.2 -62.6,66.3 -58,69.8 -53.1,72.6 -47.8,74.9 -42.3,76.6 -36.9,77.9 -31.4,78.9 -26,79.6 -20.7,80.1 -15.4,80.5 -10.3,80.7 -5.1,80.9 0,81 5.1,81 10.3,81 15.5,80.9 20.8,80.7 26.2,80.4 31.8,79.8 37.4,79 43,77.8 48.7,76.3 54.2,74.2 59.4,71.5 64.2,68 68.4,63.9 71.8,59.1 74.5,53.9 76.6,48.4 78.2,42.8 79.3,37.1 80.1,31.6 80.7,26.1 81,20.7 81.2,15.4 81.3,10.2 81.3,5.1Z"/>
<path fill="#00ff19" d="M80.2,0 80.1,-5.2 79.9,-10.5 79.7,-15.8 79.3,-21.1 78.7,-26.6 77.8,-32.1 76.7,-37.6 75.2,-43.2 73.2,-48.7 70.6,-53.9 67.4,-58.8 63.5,-63.2 58.9,-66.8 53.9,-69.8 48.5,-72.2 42.9,-73.9 37.3,-75.2 31.7,-76.2 26.2,-76.8 20.8,-77.3 15.5,-77.5 10.3,-77.7 5.1,-77.7 0,-77.6 -5.1,-77.6 -10.2,-77.4 -15.4,-77.2 -20.7,-76.8 -26,-76.2 -31.4,-75.4 -36.8,-74.3 -42.3,-72.8 -47.6,-70.9 -52.8,-68.5 -57.7,-65.4 -62,-61.7 -65.8,-57.4 -68.8,-52.6 -71.3,-47.4 -73.3,-42.1 -74.7,-36.7 -75.8,-31.3 -76.6,-25.9 -77.2,-20.6 -77.6,-15.4 -77.9,-10.2 -78.1,-5.1 -78.1,0 -78.2,5.1 -78.2,10.2 -78.1,15.4 -77.8,20.7 -77.4,26.1 -76.7,31.6 -75.8,37.2 -74.5,42.8 -72.7,48.3 -70.4,53.7 -67.4,58.8 -63.7,63.3 -59.3,67.3 -54.4,70.5 -49,73 -43.5,75 -37.9,76.5 -32.3,77.6 -26.8,78.4 -21.3,79 -15.9,79.4 -10.5,79.7 -5.3,79.8 0,79.9 5.3,80 10.6,80 16,79.9 21.4,79.6 27,79.2 32.7,78.5 38.5,77.6 44.3,76.3 50,74.5 55.6,72 60.7,68.9 65.4,65 69.3,60.4 72.4,55.3 74.8,49.7 76.6,44 77.9,38.2 78.9,32.5 79.5,26.9 79.9,21.3 80.2,15.9 80.3,10.5 80.3,5.2Z"/>
<path fill="#00ff2c" d="M79.1,0 79,-5.2 78.9,-10.3 78.6,-15.6 78.2,-20.8 77.6,-26.2 76.7,-31.6 75.6,-37.1 74.1,-42.6 72.1,-47.9 69.5,-53.1 66.3,-57.9 62.5,-62.2 58,-65.8 53,-68.7 47.7,-71.1 42.3,-72.8 36.8,-74.2 31.3,-75.1 25.9,-75.8 20.5,-76.2 15.3,-76.5 10.1,-76.6 5,-76.6 0,-76.6 -5,-76.5 -10.1,-76.4 -15.2,-76.1 -20.4,-75.7 -25.6,-75.1 -30.9,-74.3 -36.3,-73.2 -41.6,-71.8 -46.9,-69.9 -52,-67.4 -56.7,-64.4 -61,-60.7 -64.7,-56.5 -67.8,-51.8 -70.2,-46.7 -72.2,-41.5 -73.7,-36.1 -74.8,-30.8 -75.6,-25.5 -76.2,-20.3 -76.6,-15.2 -76.8,-10.1 -77,-5 -77.1,0 -77.1,5 -77.1,10.1 -77,15.2 -76.7,20.5 -76.3,25.8 -75.6,31.2 -74.7,36.6 -73.4,42.1 -71.6,47.6 -69.3,52.9 -66.3,57.9 -62.6,62.3 -58.3,66.2 -53.5,69.4 -48.3,71.9 -42.9,73.9 -37.4,75.4 -31.9,76.5 -26.4,77.3 -21,77.9 -15.7,78.3 -10.4,78.6 -5.2,78.8 0,78.8 5.2,78.9 10.4,78.9 15.7,78.8 21.1,78.5 26.6,78.1 32.2,77.4 37.9,76.5 43.6,75.1 49.2,73.3 54.7,70.9 59.8,67.8 64.3,64 68.1,59.5 71.2,54.4 73.6,49 75.5,43.3 76.8,37.7 77.7,32 78.4,26.5 78.8,21 79.1,15.6 79.2,10.4 79.2,5.2Z"/>
<path fill="#00ff3e" d="M78,0 77.9,-5.1 77.7,-10.2 77.5,-15.3 77,-20.5 76.4,-25.8 75.6,-31.2 74.5,-36.5 72.9,-41.9 71,-47.2 68.4,-52.2 65.2,-56.9 61.4,-61.1 57,-64.7 52.2,-67.6 47,-69.9 41.6,-71.7 36.2,-73 30.8,-74 25.5,-74.7 20.2,-75.1 15.1,-75.4 10,-75.5 5,-75.5 0,-75.5 -5,-75.4 -10,-75.3 -15,-75 -20.1,-74.6 -25.3,-74 -30.5,-73.2 -35.7,-72.1 -41,-70.7 -46.2,-68.8 -51.2,-66.3 -55.8,-63.3 -60,-59.7 -63.7,-55.5 -66.7,-50.9 -69.1,-46 -71.1,-40.8 -72.5,-35.6 -73.7,-30.4 -74.5,-25.2 -75.1,-20 -75.5,-14.9 -75.7,-9.9 -75.9,-4.9 -76,0 -76,5 -76,10 -75.9,15 -75.6,20.2 -75.2,25.4 -74.5,30.7 -73.6,36.1 -72.2,41.5 -70.5,46.8 -68.1,52 -65.2,56.9 -61.6,61.3 -57.4,65.1 -52.6,68.2 -47.5,70.8 -42.2,72.7 -36.8,74.2 -31.4,75.4 -26,76.2 -20.7,76.8 -15.4,77.2 -10.3,77.5 -5.1,77.6 0,77.7 5.1,77.8 10.3,77.8 15.5,77.6 20.8,77.4 26.3,76.9 31.8,76.3 37.3,75.3 42.9,74 48.4,72.1 53.8,69.7 58.8,66.7 63.2,62.9 67,58.5 70.1,53.5 72.5,48.2 74.3,42.7 75.6,37.1 76.6,31.6 77.2,26.1 77.7,20.7 77.9,15.4 78.1,10.2 78.1,5.1Z"/>
<path fill="#00ff50" d="M76.8,0 76.7,-5 76.6,-10 76.3,-15.1 75.9,-20.2 75.3,-25.4 74.4,-30.7 73.3,-35.9 71.7,-41.2 69.8,-46.4 67.2,-51.3 64.1,-55.9 60.4,-60.1 56,-63.6 51.3,-66.5 46.2,-68.8 40.9,-70.5 35.6,-71.9 30.3,-72.8 25.1,-73.5 19.9,-74 14.8,-74.3 9.8,-74.4 4.9,-74.4 0,-74.4 -4.9,-74.3 -9.8,-74.1 -14.8,-73.9 -19.8,-73.5 -24.9,-72.9 -30,-72.1 -35.2,-71 -40.3,-69.5 -45.4,-67.6 -50.3,-65.2 -54.9,-62.2 -59,-58.7 -62.6,-54.6 -65.6,-50.1 -68,-45.2 -69.9,-40.2 -71.4,-35 -72.5,-29.9 -73.3,-24.8 -73.9,-19.7 -74.3,-14.7 -74.6,-9.8 -74.8,-4.9 -74.9,0 -74.9,4.9 -74.9,9.8 -74.8,14.8 -74.5,19.9 -74,25 -73.4,30.2 -72.4,35.5 -71.1,40.8 -69.3,46.1 -67,51.1 -64.1,55.9 -60.5,60.2 -56.4,64 -51.7,67.1 -46.7,69.6 -41.5,71.6 -36.2,73.1 -30.9,74.2 -25.6,75 -20.4,75.6 -15.2,76 -10.1,76.3 -5,76.5 0,76.6 5,76.6 10.1,76.6 15.3,76.5 20.5,76.2 25.8,75.7 31.3,75.1 36.7,74.1 42.2,72.7 47.6,70.9 52.9,68.5 57.7,65.5 62.1,61.8 65.8,57.4 68.9,52.6 71.2,47.4 73.1,42 74.4,36.5 75.4,31.1 76.1,25.7 76.5,20.4 76.8,15.2 76.9,10.1 76.9,5Z"/>
<path fill="#00ff62" d="M75.6,0 75.5,-5.1 75.3,-10.3 75,-15.5 74.6,-20.8 73.9,-26.1 72.9,-31.5 71.6,-36.9 69.9,-42.3 67.6,-47.5 64.8,-52.4 61.3,-56.9 57.1,-60.8 52.4,-64.1 47.3,-66.7 42,-68.8 36.6,-70.3 31.2,-71.4 25.8,-72.2 20.5,-72.7 15.3,-73 10.1,-73.2 5,-73.2 0,-73.2 -5,-73.1 -10.1,-73 -15.2,-72.7 -20.3,-72.2 -25.6,-71.6 -30.8,-70.6 -36.1,-69.4 -41.4,-67.7 -46.5,-65.6 -51.4,-62.8 -55.9,-59.5 -59.8,-55.6 -63.2,-51.1 -65.9,-46.3 -68.1,-41.2 -69.8,-36 -71,-30.7 -72,-25.5 -72.7,-20.3 -73.1,-15.1 -73.4,-10 -73.6,-5 -73.7,0 -73.7,5 -73.7,10.1 -73.5,15.2 -73.2,20.4 -72.7,25.7 -71.9,31.1 -70.8,36.5 -69.3,41.9 -67.2,47.2 -64.6,52.3 -61.3,57 -57.4,61.1 -52.8,64.6 -47.9,67.4 -42.6,69.7 -37.2,71.4 -31.7,72.7 -26.3,73.6 -20.9,74.3 -15.6,74.8 -10.4,75.1 -5.2,75.3 0,75.3 5.2,75.4 10.4,75.4 15.7,75.2 21.1,74.9 26.6,74.4 32.1,73.6 37.7,72.5 43.3,70.9 48.8,68.8 54,66.1 58.8,62.6 62.9,58.5 66.4,53.7 69.1,48.5 71.2,43.1 72.8,37.5 73.9,31.9 74.7,26.4 75.2,21 75.5,15.6 75.7,10.3 75.7,5.2Z"/>
<path fill="#00ff75" d="M74.3,0 74.3,-5.1 74.1,-10.1 73.8,-15.2 73.3,-20.4 72.6,-25.7 71.6,-31 70.3,-36.3 68.6,-41.5 66.4,-46.6 63.5,-51.4 60.1,-55.8 56,-59.7 51.4,-62.9 46.5,-65.5 41.3,-67.5 36,-69 30.6,-70.2 25.3,-71 20.1,-71.5 15,-71.8 9.9,-72 5,-72 0,-72 -4.9,-71.9 -9.9,-71.7 -14.9,-71.4 -20,-71 -25.1,-70.3 -30.3,-69.4 -35.5,-68.1 -40.6,-66.5 -45.7,-64.4 -50.4,-61.7 -54.8,-58.4 -58.7,-54.5 -62,-50.2 -64.7,-45.4 -66.9,-40.5 -68.5,-35.3 -69.8,-30.2 -70.8,-25 -71.4,-19.9 -71.9,-14.9 -72.2,-9.9 -72.4,-4.9 -72.5,0 -72.5,4.9 -72.5,9.9 -72.3,14.9 -72,20.1 -71.5,25.3 -70.7,30.5 -69.5,35.8 -68,41.1 -66,46.3 -63.4,51.3 -60.1,55.9 -56.2,59.9 -51.8,63.4 -47,66.2 -41.8,68.4 -36.5,70.1 -31.2,71.4 -25.9,72.4 -20.6,73.1 -15.4,73.5 -10.2,73.8 -5.1,74 0,74.1 5.1,74.1 10.2,74.1 15.4,73.9 20.7,73.6 26.1,73.1 31.6,72.3 37.1,71.2 42.5,69.6 47.9,67.5 53,64.8 57.6,61.4 61.7,57.3 65.1,52.7 67.8,47.6 69.9,42.3 71.5,36.8 72.6,31.4 73.4,25.9 73.9,20.6 74.2,15.3 74.4,10.2 74.4,5.1Z"/>
<path fill="#00ff87" d="M73,0 72.9,-5 72.7,-9.9 72.4,-15 72,-20.1 71.3,-25.2 70.3,-30.4 69,-35.6 67.3,-40.7 65,-45.7 62.2,-50.4 58.9,-54.7 54.9,-58.5 50.4,-61.6 45.5,-64.2 40.5,-66.2 35.3,-67.7 30.1,-68.9 24.9,-69.7 19.8,-70.2 14.7,-70.5 9.8,-70.7 4.9,-70.8 0,-70.7 -4.9,-70.6 -9.7,-70.5 -14.7,-70.2 -19.6,-69.7 -24.7,-69.1 -29.7,-68.1 -34.8,-66.9 -39.9,-65.2 -44.8,-63.1 -49.4,-60.4 -53.7,-57.2 -57.5,-53.4 -60.8,-49.2 -63.4,-44.6 -65.6,-39.7 -67.3,-34.7 -68.5,-29.6 -69.5,-24.6 -70.1,-19.6 -70.6,-14.6 -70.9,-9.7 -71.1,-4.8 -71.2,0 -71.2,4.8 -71.2,9.7 -71,14.7 -70.7,19.7 -70.1,24.8 -69.4,30 -68.2,35.2 -66.7,40.4 -64.7,45.4 -62.1,50.3 -58.9,54.7 -55.1,58.7 -50.8,62.1 -46,64.9 -41,67.1 -35.8,68.8 -30.6,70.1 -25.4,71 -20.2,71.7 -15.1,72.2 -10,72.5 -5,72.7 0,72.8 5,72.8 10.1,72.8 15.2,72.6 20.4,72.3 25.6,71.7 31,70.9 36.3,69.8 41.7,68.2 46.9,66.1 51.9,63.5 56.4,60.1 60.4,56.1 63.8,51.6 66.4,46.7 68.5,41.5 70.1,36.1 71.2,30.8 72,25.5 72.6,20.2 72.9,15.1 73.1,10 73.1,5Z"/>
<path fill="#00ff99" d="M71.6,0 71.6,-4.9 71.4,-9.8 71.1,-14.7 70.6,-19.7 69.9,-24.7 68.9,-29.8 67.6,-34.8 65.9,-39.9 63.7,-44.7 60.9,-49.3 57.6,-53.5 53.7,-57.2 49.3,-60.3 44.6,-62.9 39.6,-64.9 34.6,-66.4 29.5,-67.5 24.4,-68.3 19.4,-68.9 14.5,-69.2 9.6,-69.4 4.8,-69.4 0,-69.4 -4.8,-69.3 -9.6,-69.1 -14.4,-68.8 -19.3,-68.4 -24.2,-67.7 -29.2,-66.8 -34.1,-65.5 -39.1,-63.9 -43.8,-61.8 -48.4,-59.2 -52.6,-56 -56.3,-52.3 -59.5,-48.2 -62.1,-43.6 -64.3,-38.9 -65.9,-34 -67.2,-29 -68.1,-24.1 -68.8,-19.2 -69.3,-14.3 -69.6,-9.5 -69.8,-4.7 -69.8,0 -69.9,4.8 -69.8,9.6 -69.7,14.4 -69.3,19.3 -68.8,24.3 -68,29.4 -66.9,34.5 -65.3,39.5 -63.3,44.5 -60.8,49.2 -57.6,53.6 -53.9,57.4 -49.7,60.8 -45.1,63.5 -40.2,65.7 -35.1,67.4 -30,68.7 -24.9,69.7 -19.8,70.4 -14.8,70.8 -9.8,71.1 -4.9,71.3 0,71.4 4.9,71.4 9.9,71.4 14.9,71.2 20,70.9 25.1,70.3 30.4,69.5 35.6,68.4 40.8,66.8 45.9,64.7 50.8,62.1 55.2,58.8 59.1,54.9 62.4,50.5 65,45.7 67.1,40.6 68.7,35.4 69.8,30.2 70.6,25 71.2,19.8 71.5,14.8 71.7,9.8 71.7,4.9Z"/>
<path fill="#00ffab" d="M70.2,0 70.1,-5 69.9,-10 69.6,-15.1 69,-20.2 68.2,-25.3 67.1,-30.5 65.7,-35.7 63.7,-40.7 61.2,-45.6 58.1,-50.1 54.4,-54.2 50.2,-57.6 45.5,-60.5 40.6,-62.8 35.4,-64.5 30.2,-65.8 25,-66.8 19.9,-67.4 14.8,-67.8 9.8,-68 4.9,-68 0,-68 -4.9,-67.9 -9.8,-67.7 -14.7,-67.4 -19.7,-66.9 -24.8,-66.1 -29.9,-65.1 -34.9,-63.7 -39.9,-61.8 -44.7,-59.5 -49.2,-56.5 -53.3,-53 -56.8,-49 -59.8,-44.5 -62.2,-39.7 -64,-34.8 -65.5,-29.7 -66.5,-24.7 -67.3,-19.7 -67.8,-14.7 -68.2,-9.8 -68.4,-4.9 -68.4,0 -68.5,4.9 -68.4,9.8 -68.2,14.8 -67.8,19.8 -67.2,24.9 -66.3,30.1 -65,35.3 -63.3,40.4 -61,45.4 -58.1,50.1 -54.6,54.3 -50.5,58 -45.9,61.1 -41,63.5 -35.9,65.5 -30.7,66.9 -25.5,68 -20.3,68.8 -15.2,69.3 -10.1,69.7 -5,69.9 0,70 5,70 10.1,69.9 15.2,69.7 20.5,69.4 25.8,68.7 31.1,67.8 36.5,66.5 41.8,64.6 46.9,62.3 51.6,59.3 55.9,55.6 59.6,51.4 62.6,46.6 64.9,41.5 66.7,36.3 68.1,30.9 69,25.6 69.6,20.3 70,15.2 70.2,10 70.3,5Z"/>
<path fill="#00ffbd" d="M68.7,0 68.6,-4.9 68.4,-9.8 68.1,-14.7 67.5,-19.7 66.7,-24.8 65.6,-29.8 64.2,-34.9 62.2,-39.8 59.8,-44.5 56.7,-48.9 53.1,-52.9 49,-56.3 44.5,-59.1 39.6,-61.3 34.6,-63.1 29.5,-64.4 24.5,-65.3 19.5,-65.9 14.5,-66.3 9.6,-66.5 4.8,-66.6 0,-66.6 -4.8,-66.5 -9.6,-66.3 -14.4,-66 -19.3,-65.5 -24.3,-64.7 -29.2,-63.7 -34.2,-62.2 -39,-60.4 -43.7,-58.1 -48.1,-55.2 -52,-51.8 -55.5,-47.8 -58.4,-43.5 -60.7,-38.8 -62.6,-34 -64,-29.1 -65.1,-24.2 -65.8,-19.2 -66.4,-14.4 -66.7,-9.5 -66.9,-4.8 -67,0 -67,4.8 -67,9.6 -66.8,14.4 -66.4,19.4 -65.7,24.4 -64.8,29.4 -63.5,34.5 -61.8,39.5 -59.5,44.3 -56.7,48.9 -53.3,53 -49.3,56.6 -44.9,59.6 -40.1,62.1 -35.1,64 -30,65.4 -24.9,66.5 -19.9,67.3 -14.8,67.8 -9.9,68.2 -4.9,68.4 0,68.5 4.9,68.5 9.9,68.4 14.9,68.2 20,67.8 25.2,67.2 30.4,66.2 35.6,64.9 40.8,63.1 45.7,60.8 50.4,57.8 54.5,54.3 58.1,50.1 61.1,45.5 63.4,40.5 65.2,35.4 66.5,30.2 67.5,25 68.1,19.9 68.5,14.8 68.7,9.8 68.7,4.9Z"/>
<path fill="#00ffd0" d="M67.1,0 67,-4.8 66.8,-9.6 66.5,-14.4 65.9,-19.3 65.1,-24.2 64.1,-29.1 62.6,-34 60.7,-38.8 58.3,-43.4 55.3,-47.7 51.8,-51.5 47.8,-54.8 43.3,-57.6 38.6,-59.8 33.8,-61.5 28.8,-62.8 23.9,-63.8 19,-64.4 14.2,-64.8 9.4,-65 4.7,-65.1 0,-65 -4.7,-65 -9.4,-64.8 -14.1,-64.5 -18.9,-63.9 -23.7,-63.2 -28.5,-62.1 -33.3,-60.7 -38.1,-58.9 -42.6,-56.6 -46.9,-53.8 -50.7,-50.5 -54.1,-46.6 -56.9,-42.4 -59.2,-37.9 -61.1,-33.2 -62.5,-28.4 -63.6,-23.6 -64.3,-18.8 -64.9,-14 -65.2,-9.3 -65.4,-4.7 -65.5,0 -65.5,4.7 -65.4,9.4 -65.2,14.1 -64.8,18.9 -64.2,23.8 -63.3,28.7 -62,33.7 -60.3,38.5 -58,43.2 -55.2,47.6 -51.9,51.6 -48,55.1 -43.7,58.1 -39.1,60.5 -34.3,62.4 -29.3,63.9 -24.3,64.9 -19.4,65.7 -14.5,66.3 -9.6,66.6 -4.8,66.8 0,66.9 4.8,66.9 9.7,66.9 14.6,66.6 19.5,66.2 24.6,65.6 29.7,64.6 34.7,63.3 39.7,61.5 44.6,59.2 49.1,56.3 53.1,52.8 56.6,48.8 59.5,44.3 61.8,39.5 63.6,34.5 64.9,29.5 65.9,24.4 66.5,19.4 66.9,14.5 67.1,9.6 67.2,4.8Z"/>
<path fill="#00ffe2" d="M65.5,0 65.4,-4.9 65.1,-9.8 64.8,-14.7 64.2,-19.7 63.3,-24.7 62,-29.7 60.4,-34.7 58.2,-39.5 55.5,-44 52.2,-48.2 48.4,-51.9 44.1,-55 39.4,-57.5 34.5,-59.4 29.5,-60.9 24.4,-62 19.4,-62.7 14.5,-63.1 9.6,-63.4 4.8,-63.5 0,-63.5 -4.8,-63.4 -9.6,-63.2 -14.4,-62.8 -19.3,-62.2 -24.2,-61.4 -29.1,-60.2 -34,-58.6 -38.8,-56.6 -43.3,-54 -47.4,-50.9 -51.1,-47.2 -54.3,-43.1 -56.9,-38.6 -59,-33.9 -60.6,-29 -61.7,-24.1 -62.6,-19.2 -63.2,-14.3 -63.6,-9.5 -63.8,-4.8 -63.9,0 -63.9,4.8 -63.8,9.6 -63.6,14.4 -63.1,19.4 -62.4,24.4 -61.3,29.4 -59.8,34.4 -57.9,39.3 -55.4,43.9 -52.3,48.2 -48.6,52.1 -44.4,55.4 -39.8,58.1 -34.9,60.2 -29.9,61.8 -24.9,63.1 -19.8,63.9 -14.8,64.5 -9.8,64.9 -4.9,65.1 0,65.2 4.9,65.3 9.9,65.2 14.9,64.9 20,64.5 25.1,63.7 30.3,62.6 35.5,61.1 40.5,59.1 45.3,56.5 49.6,53.2 53.5,49.4 56.7,45 59.3,40.3 61.4,35.3 62.9,30.1 64,25 64.7,19.9 65.2,14.8 65.4,9.8 65.5,4.9Z"/>
<path fill="#00fff4" d="M63.7,0 63.6,-4.7 63.4,-9.5 63,-14.3 62.4,-19.2 61.5,-24 60.3,-28.9 58.7,-33.7 56.6,-38.4 53.9,-42.8 50.7,-46.8 47,-50.4 42.8,-53.4 38.3,-55.8 33.5,-57.8 28.7,-59.2 23.8,-60.3 18.9,-61 14.1,-61.5 9.4,-61.7 4.7,-61.8 0,-61.8 -4.6,-61.7 -9.3,-61.5 -14,-61.1 -18.8,-60.6 -23.6,-59.7 -28.3,-58.6 -33.1,-57 -37.7,-55 -42,-52.5 -46.1,-49.4 -49.7,-45.8 -52.7,-41.8 -55.3,-37.5 -57.3,-32.9 -58.9,-28.2 -60.1,-23.5 -60.9,-18.7 -61.5,-14 -61.9,-9.3 -62.1,-4.6 -62.2,0 -62.2,4.6 -62.1,9.3 -61.9,14.1 -61.4,18.8 -60.7,23.7 -59.6,28.6 -58.2,33.4 -56.2,38.1 -53.8,42.7 -50.7,46.8 -47.2,50.6 -43.1,53.8 -38.6,56.4 -33.9,58.5 -29.1,60.1 -24.2,61.3 -19.3,62.2 -14.4,62.8 -9.6,63.2 -4.8,63.4 0,63.5 4.8,63.5 9.6,63.4 14.5,63.2 19.4,62.7 24.4,62 29.5,60.9 34.4,59.4 39.3,57.4 43.9,54.8 48.2,51.6 51.9,47.9 55.1,43.7 57.6,39.1 59.6,34.3 61.1,29.3 62.2,24.3 63,19.3 63.4,14.4 63.7,9.5 63.8,4.8Z"/>
<path fill="#00f8ff" d="M61.9,0 61.8,-4.8 61.5,-9.7 61.1,-14.6 60.4,-19.5 59.4,-24.5 58.1,-29.4 56.2,-34.3 53.8,-38.9 50.9,-43.2 47.4,-47.1 43.3,-50.5 38.9,-53.2 34.1,-55.4 29.2,-57.1 24.3,-58.3 19.3,-59.1 14.4,-59.6 9.5,-59.9 4.8,-60.1 0,-60 -4.7,-59.9 -9.5,-59.7 -14.3,-59.3 -19.2,-58.7 -24,-57.7 -28.9,-56.4 -33.7,-54.7 -38.3,-52.4 -42.6,-49.6 -46.5,-46.2 -49.8,-42.4 -52.7,-38.1 -55,-33.5 -56.7,-28.8 -58.1,-23.9 -59,-19.1 -59.7,-14.3 -60.1,-9.5 -60.3,-4.7 -60.4,0 -60.4,4.7 -60.3,9.5 -60,14.3 -59.5,19.2 -58.7,24.2 -57.5,29.1 -55.8,34 -53.6,38.8 -50.8,43.2 -47.5,47.2 -43.6,50.7 -39.2,53.7 -34.5,56.1 -29.6,57.9 -24.7,59.3 -19.7,60.2 -14.7,60.9 -9.8,61.3 -4.9,61.6 0,61.7 4.9,61.7 9.8,61.6 14.8,61.3 19.8,60.7 24.9,59.9 30,58.6 35,56.9 39.9,54.6 44.4,51.7 48.5,48.2 52,44.2 54.9,39.7 57.2,34.9 58.9,29.9 60.1,24.8 61,19.7 61.5,14.7 61.8,9.7 61.9,4.8Z"/>
<path fill="#00e6ff" d="M59.9,0 59.8,-4.7 59.6,-9.4 59.2,-14.1 58.5,-18.9 57.5,-23.7 56.2,-28.5 54.4,-33.1 52,-37.6 49.2,-41.8 45.8,-45.5 41.9,-48.8 37.6,-51.5 33,-53.6 28.3,-55.2 23.5,-56.4 18.7,-57.3 13.9,-57.8 9.2,-58.1 4.6,-58.2 0,-58.2 -4.6,-58.1 -9.2,-57.9 -13.9,-57.5 -18.6,-56.8 -23.3,-55.9 -28,-54.6 -32.6,-52.9 -37,-50.7 -41.2,-47.9 -44.9,-44.7 -48.2,-40.9 -50.9,-36.8 -53.2,-32.4 -54.9,-27.8 -56.2,-23.2 -57.2,-18.5 -57.8,-13.8 -58.2,-9.2 -58.5,-4.6 -58.6,0 -58.6,4.6 -58.5,9.2 -58.2,13.9 -57.6,18.6 -56.8,23.4 -55.6,28.2 -54,32.9 -51.8,37.5 -49.1,41.7 -45.9,45.6 -42.1,49 -37.9,51.9 -33.4,54.2 -28.7,56 -23.9,57.3 -19,58.3 -14.2,59 -9.5,59.4 -4.7,59.6 0,59.7 4.7,59.7 9.5,59.6 14.3,59.3 19.2,58.8 24.1,57.9 29,56.7 33.9,55 38.5,52.8 42.9,50 46.8,46.6 50.2,42.7 53,38.3 55.3,33.7 56.9,28.9 58.2,24 59,19.1 59.6,14.2 59.9,9.4 60,4.7Z"/>
<path fill="#00d3ff" d="M57.9,0 57.8,-4.8 57.5,-9.6 57.1,-14.4 56.3,-19.2 55.2,-24.1 53.7,-28.9 51.6,-33.6 49.1,-38 45.9,-42 42.2,-45.6 38,-48.6 33.5,-51 28.7,-52.8 23.9,-54.2 19,-55.1 14.2,-55.8 9.4,-56.1 4.7,-56.2 0,-56.2 -4.7,-56.1 -9.4,-55.9 -14.1,-55.4 -18.9,-54.7 -23.7,-53.7 -28.4,-52.2 -33,-50.3 -37.4,-47.8 -41.4,-44.8 -45,-41.2 -48.1,-37.2 -50.6,-32.9 -52.5,-28.3 -54,-23.6 -55.1,-18.8 -55.8,-14.1 -56.2,-9.3 -56.5,-4.7 -56.6,0 -56.6,4.7 -56.5,9.4 -56.1,14.1 -55.5,19 -54.6,23.8 -53.2,28.6 -51.3,33.4 -48.9,37.9 -45.9,42 -42.3,45.7 -38.3,48.9 -33.8,51.5 -29.1,53.5 -24.3,55 -19.4,56.1 -14.5,56.9 -9.6,57.3 -4.8,57.6 0,57.7 4.8,57.7 9.7,57.6 14.6,57.2 19.5,56.6 24.5,55.6 29.5,54.2 34.3,52.3 38.9,49.8 43.1,46.6 46.9,42.9 50,38.7 52.5,34.1 54.4,29.3 55.8,24.4 56.8,19.4 57.4,14.5 57.8,9.6 57.9,4.8Z"/>
<path fill="#00c1ff" d="M55.7,0 55.6,-4.6 55.4,-9.2 54.9,-13.8 54.2,-18.5 53.1,-23.2 51.6,-27.8 49.6,-32.2 47.1,-36.5 44.1,-40.3 40.5,-43.8 36.5,-46.6 32.2,-49 27.6,-50.8 23,-52.1 18.3,-53.1 13.7,-53.7 9.1,-54 4.5,-54.2 0,-54.1 -4.5,-54.1 -9,-53.8 -13.6,-53.4 -18.2,-52.7 -22.8,-51.6 -27.3,-50.2 -31.7,-48.3 -35.9,-45.9 -39.8,-43 -43.2,-39.6 -46.2,-35.8 -48.6,-31.6 -50.5,-27.2 -51.9,-22.7 -53,-18.1 -53.7,-13.5 -54.2,-9 -54.4,-4.5 -54.5,0 -54.5,4.5 -54.4,9 -54,13.6 -53.4,18.2 -52.5,22.9 -51.1,27.5 -49.3,32.1 -47,36.4 -44.1,40.4 -40.6,43.9 -36.7,47 -32.5,49.5 -28,51.4 -23.3,52.9 -18.6,54 -13.9,54.7 -9.3,55.2 -4.6,55.4 0,55.5 4.6,55.5 9.3,55.4 14,55 18.8,54.4 23.6,53.4 28.3,52.1 32.9,50.2 37.4,47.7 41.4,44.7 45,41.2 48,37.2 50.4,32.8 52.3,28.2 53.7,23.4 54.6,18.7 55.3,13.9 55.6,9.2 55.7,4.6Z"/>
<path fill="#00afff" d="M53.4,0 53.3,-4.6 53,-9.3 52.5,-14 51.7,-18.7 50.5,-23.4 48.8,-28 46.6,-32.4 43.8,-36.6 40.5,-40.3 36.6,-43.4 32.4,-46 27.9,-48.1 23.3,-49.6 18.5,-50.7 13.8,-51.4 9.2,-51.8 4.6,-51.9 0,-51.9 -4.6,-51.8 -9.1,-51.6 -13.8,-51.1 -18.4,-50.3 -23,-49.1 -27.6,-47.5 -32,-45.4 -36.1,-42.8 -39.8,-39.6 -43,-35.9 -45.7,-31.8 -47.8,-27.5 -49.4,-22.9 -50.6,-18.3 -51.4,-13.7 -51.9,-9.1 -52.2,-4.5 -52.3,0 -52.3,4.5 -52.1,9.1 -51.7,13.8 -51,18.5 -49.9,23.2 -48.4,27.8 -46.4,32.3 -43.8,36.5 -40.6,40.3 -36.8,43.7 -32.7,46.4 -28.2,48.6 -23.6,50.3 -18.8,51.5 -14.1,52.3 -9.4,52.8 -4.7,53.1 0,53.2 4.7,53.2 9.4,53 14.2,52.6 19,51.9 23.8,50.8 28.6,49.2 33.2,47.1 37.5,44.4 41.3,41.1 44.6,37.3 47.3,33 49.5,28.4 51,23.7 52.1,18.9 52.9,14.1 53.3,9.3 53.4,4.7Z"/>
<path fill="#009dff" d="M50.9,0 50.8,-4.4 50.6,-8.9 50.1,-13.3 49.3,-17.8 48.1,-22.3 46.5,-26.7 44.3,-30.9 41.7,-34.8 38.5,-38.3 34.9,-41.3 30.9,-43.8 26.6,-45.8 22.2,-47.3 17.7,-48.3 13.2,-49 8.8,-49.4 4.4,-49.6 0,-49.6 -4.4,-49.5 -8.7,-49.2 -13.1,-48.7 -17.6,-48 -22,-46.9 -26.3,-45.3 -30.5,-43.3 -34.4,-40.7 -37.9,-37.7 -41,-34.2 -43.5,-30.3 -45.6,-26.2 -47.1,-21.9 -48.3,-17.5 -49,-13.1 -49.5,-8.7 -49.8,-4.3 -49.9,0 -49.9,4.3 -49.7,8.7 -49.3,13.2 -48.6,17.6 -47.6,22.1 -46.1,26.5 -44.1,30.8 -41.6,34.8 -38.6,38.4 -35,41.6 -31.1,44.2 -26.9,46.3 -22.5,47.9 -18,49.1 -13.4,49.9 -8.9,50.4 -4.5,50.6 0,50.7 4.5,50.7 9,50.6 13.5,50.2 18.1,49.5 22.7,48.4 27.2,46.9 31.5,44.8 35.6,42.2 39.3,39.1 42.4,35.4 45,31.4 47.1,27 48.6,22.6 49.7,18 50.4,13.4 50.8,8.9 50.9,4.4Z"/>
<path fill="#008aff" d="M48.3,0 48.2,-4.4 47.9,-8.9 47.3,-13.4 46.4,-17.9 45.1,-22.3 43.3,-26.7 41,-30.8 38.1,-34.5 34.6,-37.8 30.8,-40.6 26.6,-42.8 22.2,-44.4 17.8,-45.6 13.3,-46.4 8.8,-46.8 4.4,-47 0,-47 -4.4,-46.9 -8.8,-46.7 -13.2,-46.1 -17.6,-45.3 -22,-44 -26.3,-42.3 -30.4,-40 -34.1,-37.3 -37.5,-34 -40.3,-30.2 -42.5,-26.2 -44.3,-21.9 -45.5,-17.5 -46.4,-13.1 -46.9,-8.7 -47.2,-4.4 -47.3,0 -47.3,4.4 -47.1,8.8 -46.7,13.2 -45.9,17.7 -44.7,22.2 -43,26.5 -40.8,30.7 -38.1,34.5 -34.8,37.9 -31,40.8 -26.9,43.2 -22.5,44.9 -18,46.3 -13.5,47.2 -9,47.7 -4.5,48 0,48.1 4.5,48.1 9,47.9 13.6,47.4 18.2,46.6 22.7,45.4 27.2,43.7 31.4,41.4 35.3,38.6 38.7,35.1 41.6,31.3 43.9,27 45.6,22.6 46.8,18.1 47.6,13.5 48.1,8.9 48.3,4.5Z"/>
<path fill="#0078ff" d="M45.4,0 45.3,-4.2 45,-8.4 44.5,-12.6 43.6,-16.8 42.4,-21 40.7,-25 38.4,-28.9 35.7,-32.4 32.5,-35.5 28.9,-38.1 25,-40.2 20.9,-41.7 16.7,-42.9 12.5,-43.6 8.3,-44.1 4.1,-44.3 0,-44.3 -4.1,-44.2 -8.3,-43.9 -12.4,-43.4 -16.6,-42.6 -20.7,-41.4 -24.7,-39.7 -28.6,-37.6 -32.1,-35 -35.2,-31.9 -37.8,-28.4 -40,-24.6 -41.6,-20.6 -42.8,-16.5 -43.7,-12.4 -44.2,-8.2 -44.5,-4.1 -44.6,0 -44.5,4.1 -44.4,8.2 -43.9,12.4 -43.2,16.6 -42,20.8 -40.4,24.9 -38.3,28.8 -35.7,32.4 -32.6,35.6 -29.1,38.3 -25.2,40.5 -21.1,42.2 -16.9,43.5 -12.7,44.3 -8.4,44.9 -4.2,45.1 0,45.2 4.2,45.2 8.5,45 12.7,44.6 17.1,43.8 21.3,42.6 25.5,41 29.5,38.8 33.1,36.1 36.3,32.9 39,29.3 41.2,25.4 42.8,21.2 44,17 44.8,12.7 45.2,8.4 45.4,4.2Z"/>
<path fill="#0066ff" d="M42.3,0 42.2,-4.1 41.9,-8.3 41.3,-12.5 40.3,-16.6 39,-20.7 37.1,-24.6 34.7,-28.3 31.8,-31.6 28.4,-34.4 24.6,-36.7 20.6,-38.4 16.5,-39.7 12.4,-40.5 8.2,-41 4.1,-41.3 0,-41.3 -4.1,-41.2 -8.2,-40.9 -12.3,-40.3 -16.4,-39.4 -20.5,-38.1 -24.4,-36.3 -28,-34 -31.3,-31.2 -34.2,-27.9 -36.5,-24.3 -38.3,-20.4 -39.6,-16.3 -40.6,-12.2 -41.1,-8.1 -41.4,-4.1 -41.5,0 -41.5,4.1 -41.3,8.2 -40.8,12.3 -40,16.5 -38.7,20.6 -36.9,24.5 -34.6,28.3 -31.8,31.6 -28.5,34.6 -24.8,36.9 -20.9,38.8 -16.7,40.2 -12.5,41.1 -8.3,41.7 -4.2,42 0,42.1 4.2,42.1 8.4,41.9 12.6,41.4 16.9,40.5 21,39.2 25.1,37.4 28.9,35 32.3,32.1 35.2,28.7 37.5,25 39.4,20.9 40.7,16.8 41.5,12.5 42.1,8.3 42.3,4.1Z"/>
<path fill="#0054ff" d="M38.8,0 38.7,-4.1 38.4,-8.1 37.8,-12.2 36.7,-16.3 35.2,-20.2 33.2,-24 30.6,-27.4 27.5,-30.4 24,-32.9 20.2,-34.8 16.2,-36.2 12.1,-37.1 8.1,-37.7 4,-37.9 0,-38 -4,-37.9 -8,-37.6 -12.1,-36.9 -16.1,-35.9 -20,-34.5 -23.7,-32.5 -27.2,-30 -30.2,-27 -32.7,-23.6 -34.7,-19.9 -36.1,-16 -37.1,-12 -37.8,-8 -38.1,-4 -38.2,0 -38.2,4 -37.9,8 -37.4,12.1 -36.4,16.1 -35,20.1 -33.1,23.9 -30.6,27.4 -27.6,30.5 -24.1,33 -20.4,35.1 -16.4,36.6 -12.3,37.6 -8.2,38.3 -4.1,38.6 0,38.7 4.1,38.6 8.2,38.4 12.4,37.8 16.5,36.8 20.5,35.4 24.4,33.4 27.9,30.9 31,27.8 33.6,24.3 35.6,20.4 37,16.4 38,12.3 38.6,8.2 38.8,4.1Z"/>
<path fill="#0042ff" d="M35,0 34.9,-3.9 34.5,-7.8 33.8,-11.8 32.7,-15.7 31.1,-19.4 28.9,-22.9 26.2,-26 23,-28.6 19.4,-30.7 15.6,-32.3 11.7,-33.3 7.8,-33.9 3.9,-34.2 0,-34.2 -3.9,-34.1 -7.8,-33.8 -11.7,-33.1 -15.5,-32 -19.2,-30.5 -22.7,-28.4 -25.9,-25.7 -28.5,-22.6 -30.6,-19.1 -32.2,-15.4 -33.3,-11.6 -34,-7.7 -34.3,-3.9 -34.5,0 -34.4,3.9 -34.1,7.7 -33.5,11.7 -32.5,15.6 -30.9,19.3 -28.8,22.9 -26.2,26.1 -23.1,28.8 -19.5,30.9 -15.8,32.6 -11.8,33.7 -7.9,34.4 -3.9,34.7 0,34.8 3.9,34.8 7.9,34.5 11.9,33.9 15.9,32.8 19.7,31.2 23.3,29.1 26.5,26.4 29.2,23.2 31.4,19.6 32.9,15.8 34,11.8 34.7,7.9 34.9,3.9Z"/>
<path fill="#002fff" d="M30.5,0 30.4,-3.7 30.1,-7.4 29.3,-11.1 28.1,-14.7 26.4,-18.1 24.1,-21.3 21.3,-24 18.2,-26.2 14.7,-27.8 11,-28.9 7.3,-29.6 3.7,-29.9 0,-30 -3.6,-29.9 -7.3,-29.5 -11,-28.8 -14.6,-27.6 -18,-26 -21.1,-23.7 -23.9,-21 -26.1,-17.9 -27.8,-14.5 -28.9,-10.9 -29.7,-7.3 -30,-3.6 -30.1,0 -30.1,3.6 -29.8,7.3 -29.1,11 -28,14.6 -26.3,18.1 -24.1,21.3 -21.4,24 -18.2,26.3 -14.8,28 -11.1,29.2 -7.4,29.9 -3.7,30.3 0,30.4 3.7,30.4 7.4,30 11.2,29.4 14.9,28.2 18.4,26.5 21.6,24.3 24.4,21.5 26.6,18.3 28.3,14.8 29.5,11.1 30.2,7.4 30.5,3.7Z"/>
<path fill="#001dff" d="M25.2,0 25.1,-3.3 24.8,-6.6 24,-9.9 22.8,-13.1 21.1,-16.1 18.8,-18.7 16.1,-20.9 13.1,-22.6 9.9,-23.7 6.6,-24.4 3.3,-24.8 0,-24.8 -3.3,-24.7 -6.6,-24.4 -9.8,-23.6 -13,-22.4 -16,-20.7 -18.7,-18.6 -20.9,-15.9 -22.6,-13 -23.8,-9.8 -24.5,-6.5 -24.9,-3.3 -25,0 -24.9,3.3 -24.6,6.6 -23.9,9.8 -22.7,13 -21,16.1 -18.8,18.7 -16.2,21 -13.2,22.7 -10,23.9 -6.6,24.7 -3.3,25 0,25.1 3.3,25.1 6.7,24.7 10,24 13.2,22.8 16.3,21.1 19,18.9 21.2,16.2 22.9,13.2 24.1,9.9 24.8,6.6 25.2,3.3Z"/>
<path fill="#0007ff" d="M18.3,0 18.3,-2.6 17.9,-5.2 17.2,-7.8 16.1,-10.3 14.6,-12.6 12.6,-14.5 10.3,-16 7.8,-17.1 5.2,-17.7 2.6,-18 0,-18.1 -2.6,-18 -5.2,-17.7 -7.8,-17 -10.3,-15.9 -12.5,-14.4 -14.5,-12.5 -16,-10.2 -17.1,-7.8 -17.8,-5.2 -18.1,-2.6 -18.2,0 -18.1,2.6 -17.8,5.2 -17.2,7.8 -16.1,10.3 -14.6,12.6 -12.6,14.5 -10.4,16.1 -7.9,17.1 -5.3,17.8 -2.6,18.2 0,18.3 2.6,18.2 5.3,17.9 7.9,17.2 10.4,16.1 12.7,14.6 14.7,12.6 16.2,10.4 17.3,7.9 18,5.2 18.3,2.6Z"/>
</g></g>
<path d="M652.8,18.5 V178.2 H496.3" fill="none" stroke="#eb9a14" stroke-width="1.3"/>
<rect x="496.2" y="18.4" width="155.6" height="158.8" fill="none" stroke="#000" stroke-opacity="0.5" stroke-width="0.7"/>
<path d="M513.7,177.8v-3M496.6,160.54h3M531.1,177.8v-1.6M496.6,142.79h1.6M548.5,177.8v-3M496.6,125.03h3M565.9,177.8v-1.6M496.6,107.28h1.6M583.3,177.8v-3M496.6,89.52h3M600.7,177.8v-1.6M496.6,71.77h1.6M618.1,177.8v-3M496.6,54.01h3M635.5,177.8v-1.6M496.6,36.26h1.6" stroke="#111" stroke-width="0.7" fill="none"/>
<text x="514.1" y="188.9" class="t" font-size="7.7" text-anchor="middle">2</text>
<text x="493.3" y="163.94" class="t" font-size="7.7" text-anchor="end">2</text>
<text x="548.9" y="188.9" class="t" font-size="7.7" text-anchor="middle">4</text>
<text x="493.3" y="128.43" class="t" font-size="7.7" text-anchor="end">4</text>
<text x="583.7" y="188.9" class="t" font-size="7.7" text-anchor="middle">6</text>
<text x="493.3" y="92.92" class="t" font-size="7.7" text-anchor="end">6</text>
<text x="618.5" y="188.9" class="t" font-size="7.7" text-anchor="middle">8</text>
<text x="493.3" y="57.41" class="t" font-size="7.7" text-anchor="end">8</text>
<text x="653.3" y="188.9" class="t" font-size="7.7" text-anchor="middle">10</text>
<text x="493.3" y="21.9" class="t" font-size="7.7" text-anchor="end">10</text>
<rect x="659.4" y="21.1" width="16.3" height="153.4" fill="#000"/>
<rect x="660.8" y="22.10" width="13.5" height="150.90" fill="#ff0800"/>
<rect x="660.8" y="24.46" width="13.5" height="148.54" fill="#ff1800"/>
<rect x="660.8" y="26.82" width="13.5" height="146.18" fill="#ff2800"/>
<rect x="660.8" y="29.17" width="13.5" height="143.83" fill="#ff3800"/>
<rect x="660.8" y="31.53" width="13.5" height="141.47" fill="#ff4800"/>
<rect x="660.8" y="33.89" width="13.5" height="139.11" fill="#ff5800"/>
<rect x="660.8" y="36.25" width="13.5" height="136.75" fill="#ff6800"/>
<rect x="660.8" y="38.60" width="13.5" height="134.40" fill="#ff7800"/>
<rect x="660.8" y="40.96" width="13.5" height="132.04" fill="#ff8700"/>
<rect x="660.8" y="43.32" width="13.5" height="129.68" fill="#ff9700"/>
<rect x="660.8" y="45.68" width="13.5" height="127.32" fill="#ffa700"/>
<rect x="660.8" y="48.04" width="13.5" height="124.96" fill="#ffb700"/>
<rect x="660.8" y="50.39" width="13.5" height="122.61" fill="#ffc700"/>
<rect x="660.8" y="52.75" width="13.5" height="120.25" fill="#ffd700"/>
<rect x="660.8" y="55.11" width="13.5" height="117.89" fill="#ffe700"/>
<rect x="660.8" y="57.47" width="13.5" height="115.53" fill="#fff700"/>
<rect x="660.8" y="59.82" width="13.5" height="113.18" fill="#f7ff00"/>
<rect x="660.8" y="62.18" width="13.5" height="110.82" fill="#e7ff00"/>
<rect x="660.8" y="64.54" width="13.5" height="108.46" fill="#d7ff00"/>
<rect x="660.8" y="66.90" width="13.5" height="106.10" fill="#c7ff00"/>
<rect x="660.8" y="69.26" width="13.5" height="103.74" fill="#b7ff00"/>
<rect x="660.8" y="71.61" width="13.5" height="101.39" fill="#a7ff00"/>
<rect x="660.8" y="73.97" width="13.5" height="99.03" fill="#97ff00"/>
<rect x="660.8" y="76.33" width="13.5" height="96.67" fill="#00ff00"/>
<rect x="660.8" y="78.69" width="13.5" height="94.31" fill="#00ff00"/>
<rect x="660.8" y="81.05" width="13.5" height="91.95" fill="#00ff00"/>
<rect x="660.8" y="83.40" width="13.5" height="89.60" fill="#00ff00"/>
<rect x="660.8" y="85.76" width="13.5" height="87.24" fill="#00ff00"/>
<rect x="660.8" y="88.12" width="13.5" height="84.88" fill="#00ff00"/>
<rect x="660.8" y="90.48" width="13.5" height="82.52" fill="#00ff00"/>
<rect x="660.8" y="92.83" width="13.5" height="80.17" fill="#00ff00"/>
<rect x="660.8" y="95.19" width="13.5" height="77.81" fill="#00ff00"/>
<rect x="660.8" y="97.55" width="13.5" height="75.45" fill="#00ff08"/>
<rect x="660.8" y="99.91" width="13.5" height="73.09" fill="#00ff18"/>
<rect x="660.8" y="102.27" width="13.5" height="70.73" fill="#00ff28"/>
<rect x="660.8" y="104.62" width="13.5" height="68.38" fill="#00ff38"/>
<rect x="660.8" y="106.98" width="13.5" height="66.02" fill="#00ff48"/>
<rect x="660.8" y="109.34" width="13.5" height="63.66" fill="#00ff58"/>
<rect x="660.8" y="111.70" width="13.5" height="61.30" fill="#00ff68"/>
<rect x="660.8" y="114.05" width="13.5" height="58.95" fill="#00ff78"/>
<rect x="660.8" y="116.41" width="13.5" height="56.59" fill="#00ff87"/>
<rect x="660.8" y="118.77" width="13.5" height="54.23" fill="#00ff97"/>
<rect x="660.8" y="121.13" width="13.5" height="51.87" fill="#00ffa7"/>
<rect x="660.8" y="123.49" width="13.5" height="49.51" fill="#00ffb7"/>
<rect x="660.8" y="125.84" width="13.5" height="47.16" fill="#00ffc7"/>
<rect x="660.8" y="128.20" width="13.5" height="44.80" fill="#00ffd7"/>
<rect x="660.8" y="130.56" width="13.5" height="42.44" fill="#00ffe7"/>
<rect x="660.8" y="132.92" width="13.5" height="40.08" fill="#00fff7"/>
<rect x="660.8" y="135.28" width="13.5" height="37.72" fill="#00f7ff"/>
<rect x="660.8" y="137.63" width="13.5" height="35.37" fill="#00e7ff"/>
<rect x="660.8" y="139.99" width="13.5" height="33.01" fill="#00d7ff"/>
<rect x="660.8" y="142.35" width="13.5" height="30.65" fill="#00c7ff"/>
<rect x="660.8" y="144.71" width="13.5" height="28.29" fill="#00b7ff"/>
<rect x="660.8" y="147.06" width="13.5" height="25.94" fill="#00a7ff"/>
<rect x="660.8" y="149.42" width="13.5" height="23.58" fill="#0097ff"/>
<rect x="660.8" y="151.78" width="13.5" height="21.22" fill="#0087ff"/>
<rect x="660.8" y="154.14" width="13.5" height="18.86" fill="#0078ff"/>
<rect x="660.8" y="156.50" width="13.5" height="16.50" fill="#0068ff"/>
<rect x="660.8" y="158.85" width="13.5" height="14.15" fill="#0058ff"/>
<rect x="660.8" y="161.21" width="13.5" height="11.79" fill="#0048ff"/>
<rect x="660.8" y="163.57" width="13.5" height="9.43" fill="#0038ff"/>
<rect x="660.8" y="165.93" width="13.5" height="7.07" fill="#0028ff"/>
<rect x="660.8" y="168.28" width="13.5" height="4.72" fill="#0018ff"/>
<rect x="660.8" y="170.64" width="13.5" height="2.36" fill="#0008ff"/>
<text class="t" x="677.7" y="24.50" font-size="7.7">0.<tspan dx="1.9">940615</tspan></text>
<path d="M674.3,40.70h-3.2" stroke="#111" stroke-width="0.8"/>
<text class="t" x="677.7" y="43.50" font-size="7.7">0.<tspan dx="1.9">940613</tspan></text>
<path d="M674.3,59.70h-3.2" stroke="#111" stroke-width="0.8"/>
<text class="t" x="677.7" y="62.50" font-size="7.7">0.<tspan dx="1.9">940610</tspan></text>
<path d="M674.3,78.70h-3.2" stroke="#111" stroke-width="0.8"/>
<text class="t" x="677.7" y="81.50" font-size="7.7">0.<tspan dx="1.9">940608</tspan></text>
<path d="M674.3,97.70h-3.2" stroke="#111" stroke-width="0.8"/>
<text class="t" x="677.7" y="100.50" font-size="7.7">0.<tspan dx="1.9">940606</tspan></text>
<path d="M674.3,116.70h-3.2" stroke="#111" stroke-width="0.8"/>
<text class="t" x="677.7" y="119.50" font-size="7.7">0.<tspan dx="1.9">940603</tspan></text>
<path d="M674.3,135.70h-3.2" stroke="#111" stroke-width="0.8"/>
<text class="t" x="677.7" y="138.50" font-size="7.7">0.<tspan dx="1.9">940601</tspan></text>
<path d="M674.3,154.70h-3.2" stroke="#111" stroke-width="0.8"/>
<text class="t" x="677.7" y="157.50" font-size="7.7">0.<tspan dx="1.9">940599</tspan></text>
<text class="t" x="677.7" y="176.50" font-size="7.7">0.<tspan dx="1.9">940596</tspan></text>
<text x="555.8" y="15.1" font-size="9.64">Magnetic charge density grade(Wb/mm<tspan dy="-4.1" font-size="6.56">2</tspan><tspan dy="4.1">)</tspan></text>
<text x="532.6" y="196.8" font-size="9.64">Defect width D<tspan dy="2" font-size="6.27">y</tspan><tspan dy="-2">(mm)</tspan></text>
<text transform="translate(487.8,96.5) rotate(-90)" font-size="10" text-anchor="middle">Defect depth D<tspan dy="2" font-size="6.4">z</tspan><tspan dy="-2">(mm)</tspan></text>
<text x="545.7" y="214.8" font-size="14.8">(c)20Mpa</text>
<g clip-path="url(#cpd)">
<rect x="27" y="232.8" width="159.8" height="161.6" fill="#b9ff00"/>
<g transform="translate(106.9,312.1)">
<path fill="#a6ff00" d="M82.9,0 82.9,-4.6 82.9,-9.2 82.9,-13.9 82.9,-18.7 82.9,-23.5 82.9,-28.6 82.9,-33.9 82.9,-39.4 82.9,-45.2 82.9,-51.4 82.9,-58 82.9,-65.2 82.9,-73 82.1,-80.9 76.9,-84.9 69,-85.3 61.4,-85.3 54.4,-85.3 47.8,-85.3 41.7,-85.3 35.8,-85.3 30.3,-85.3 24.9,-85.3 19.7,-85.3 14.7,-85.3 9.7,-85.3 4.9,-85.3 0,-85.3 -4.9,-85.3 -9.7,-85.3 -14.7,-85.3 -19.7,-85.3 -24.9,-85.3 -30.3,-85.3 -35.8,-85.3 -41.7,-85.3 -47.8,-85.3 -54.4,-85.3 -61.4,-85.3 -69,-85.3 -75.2,-83 -80.1,-78.9 -82.9,-73 -82.9,-65.2 -82.9,-58 -82.9,-51.4 -82.9,-45.2 -82.9,-39.4 -82.9,-33.9 -82.9,-28.6 -82.9,-23.5 -82.9,-18.7 -82.9,-13.9 -82.9,-9.2 -82.9,-4.6 -82.9,0 -82.9,4.6 -82.9,9.2 -82.9,13.9 -82.9,18.7 -82.9,23.5 -82.9,28.6 -82.9,33.9 -82.9,39.4 -82.9,45.2 -82.9,51.4 -82.9,58 -82.9,65.2 -82.9,73 -82.3,81.2 -77.3,85.3 -69,85.3 -61.4,85.3 -54.4,85.3 -47.8,85.3 -41.7,85.3 -35.8,85.3 -30.3,85.3 -24.9,85.3 -19.7,85.3 -14.7,85.3 -9.7,85.3 -4.9,85.3 0,85.3 4.9,85.3 9.7,85.3 14.7,85.3 19.7,85.3 24.9,85.3 30.3,85.3 35.8,85.3 41.7,85.3 47.8,85.3 54.4,85.3 61.4,85.3 69,85.3 77.3,85.3 82.9,81.7 82.9,73 82.9,65.2 82.9,58 82.9,51.4 82.9,45.2 82.9,39.4 82.9,33.9 82.9,28.6 82.9,23.5 82.9,18.7 82.9,13.9 82.9,9.2 82.9,4.6Z"/>
<path fill="#94ff00" d="M82.9,0 82.9,-4.6 82.9,-9.2 82.9,-13.9 82.9,-18.7 82.9,-23.5 82.9,-28.6 82.9,-33.9 82.9,-39.4 82.9,-45.2 82.9,-51.4 82.9,-58 82.9,-65.2 82.9,-73 81.3,-80.2 76.2,-84.1 69,-85.3 61.4,-85.3 54.4,-85.3 47.8,-85.3 41.7,-85.3 35.8,-85.3 30.3,-85.3 24.9,-85.3 19.7,-85.3 14.7,-85.3 9.7,-85.3 4.9,-85.3 0,-85.3 -4.9,-85.3 -9.7,-85.3 -14.7,-85.3 -19.7,-85.3 -24.9,-85.3 -30.3,-85.3 -35.8,-85.3 -41.7,-85.3 -47.8,-85.3 -54.4,-85.3 -61.4,-85.3 -69,-85.3 -74.5,-82.2 -79.3,-78.2 -82.9,-73 -82.9,-65.2 -82.9,-58 -82.9,-51.4 -82.9,-45.2 -82.9,-39.4 -82.9,-33.9 -82.9,-28.6 -82.9,-23.5 -82.9,-18.7 -82.9,-13.9 -82.9,-9.2 -82.9,-4.6 -82.9,0 -82.9,4.6 -82.9,9.2 -82.9,13.9 -82.9,18.7 -82.9,23.5 -82.9,28.6 -82.9,33.9 -82.9,39.4 -82.9,45.2 -82.9,51.4 -82.9,58 -82.9,65.2 -82.9,73 -81.5,80.4 -76.7,84.6 -69,85.3 -61.4,85.3 -54.4,85.3 -47.8,85.3 -41.7,85.3 -35.8,85.3 -30.3,85.3 -24.9,85.3 -19.7,85.3 -14.7,85.3 -9.7,85.3 -4.9,85.3 0,85.3 4.9,85.3 9.7,85.3 14.7,85.3 19.7,85.3 24.9,85.3 30.3,85.3 35.8,85.3 41.7,85.3 47.8,85.3 54.4,85.3 61.4,85.3 69,85.3 77.3,85.3 82.9,81.7 82.9,73 82.9,65.2 82.9,58 82.9,51.4 82.9,45.2 82.9,39.4 82.9,33.9 82.9,28.6 82.9,23.5 82.9,18.7 82.9,13.9 82.9,9.2 82.9,4.6Z"/>
<path fill="#00ff00" d="M82.9,0 82.9,-4.6 82.9,-9.2 82.9,-13.9 82.9,-18.7 82.9,-23.5 82.9,-28.6 82.9,-33.9 82.9,-39.4 82.9,-45.2 82.9,-51.4 82.9,-58 82.9,-65.2 82.9,-73 80.5,-79.4 75.5,-83.3 69,-85.3 61.4,-85.3 54.4,-85.3 47.8,-85.3 41.7,-85.3 35.8,-85.3 30.3,-85.3 24.9,-85.3 19.7,-85.3 14.7,-85.3 9.7,-85.3 4.9,-85.3 0,-85.3 -4.9,-85.3 -9.7,-85.3 -14.7,-85.3 -19.7,-85.3 -24.9,-85.3 -30.3,-85.3 -35.8,-85.3 -41.7,-85.3 -47.8,-85.3 -54.4,-85.3 -61.4,-85.3 -68.3,-84.5 -73.7,-81.4 -78.5,-77.4 -82.5,-72.7 -82.9,-65.2 -82.9,-58 -82.9,-51.4 -82.9,-45.2 -82.9,-39.4 -82.9,-33.9 -82.9,-28.6 -82.9,-23.5 -82.9,-18.7 -82.9,-13.9 -82.9,-9.2 -82.9,-4.6 -82.9,0 -82.9,4.6 -82.9,9.2 -82.9,13.9 -82.9,18.7 -82.9,23.5 -82.9,28.6 -82.9,33.9 -82.9,39.4 -82.9,45.2 -82.9,51.4 -82.9,58 -82.9,65.2 -82.9,73 -80.7,79.6 -75.9,83.8 -69,85.3 -61.4,85.3 -54.4,85.3 -47.8,85.3 -41.7,85.3 -35.8,85.3 -30.3,85.3 -24.9,85.3 -19.7,85.3 -14.7,85.3 -9.7,85.3 -4.9,85.3 0,85.3 4.9,85.3 9.7,85.3 14.7,85.3 19.7,85.3 24.9,85.3 30.3,85.3 35.8,85.3 41.7,85.3 47.8,85.3 54.4,85.3 61.4,85.3 69,85.3 77.3,85.3 82.9,81.7 82.9,73 82.9,65.2 82.9,58 82.9,51.4 82.9,45.2 82.9,39.4 82.9,33.9 82.9,28.6 82.9,23.5 82.9,18.7 82.9,13.9 82.9,9.2 82.9,4.6Z"/>
<path fill="#00ff00" d="M82.9,0 82.9,-4.6 82.9,-9.2 82.9,-13.9 82.9,-18.7 82.9,-23.5 82.9,-28.6 82.9,-33.9 82.9,-39.4 82.9,-45.2 82.9,-51.4 82.9,-58 82.9,-65.2 82.9,-73 79.7,-78.6 74.7,-82.4 69,-85.3 61.4,-85.3 54.4,-85.3 47.8,-85.3 41.7,-85.3 35.8,-85.3 30.3,-85.3 24.9,-85.3 19.7,-85.3 14.7,-85.3 9.7,-85.3 4.9,-85.3 0,-85.3 -4.9,-85.3 -9.7,-85.3 -14.7,-85.3 -19.7,-85.3 -24.9,-85.3 -30.3,-85.3 -35.8,-85.3 -41.7,-85.3 -47.8,-85.3 -54.4,-85.3 -61.4,-85.3 -67.7,-83.7 -73,-80.5 -77.7,-76.6 -81.7,-72 -82.9,-65.2 -82.9,-58 -82.9,-51.4 -82.9,-45.2 -82.9,-39.4 -82.9,-33.9 -82.9,-28.6 -82.9,-23.5 -82.9,-18.7 -82.9,-13.9 -82.9,-9.2 -82.9,-4.6 -82.9,0 -82.9,4.6 -82.9,9.2 -82.9,13.9 -82.9,18.7 -82.9,23.5 -82.9,28.6 -82.9,33.9 -82.9,39.4 -82.9,45.2 -82.9,51.4 -82.9,58 -82.9,65.2 -82.9,73 -79.9,78.8 -75.1,82.9 -69,85.3 -61.4,85.3 -54.4,85.3 -47.8,85.3 -41.7,85.3 -35.8,85.3 -30.3,85.3 -24.9,85.3 -19.7,85.3 -14.7,85.3 -9.7,85.3 -4.9,85.3 0,85.3 4.9,85.3 9.7,85.3 14.7,85.3 19.7,85.3 24.9,85.3 30.3,85.3 35.8,85.3 41.7,85.3 47.8,85.3 54.4,85.3 61.4,85.3 69,85.3 77.1,85.1 82.2,81 82.9,73 82.9,65.2 82.9,58 82.9,51.4 82.9,45.2 82.9,39.4 82.9,33.9 82.9,28.6 82.9,23.5 82.9,18.7 82.9,13.9 82.9,9.2 82.9,4.6Z"/>
<path fill="#00ff00" d="M82.9,0 82.9,-4.6 82.9,-9.2 82.9,-13.9 82.9,-18.7 82.9,-23.5 82.9,-28.6 82.9,-33.9 82.9,-39.4 82.9,-45.2 82.9,-51.4 82.9,-58 82.9,-65.2 82.9,-73 78.8,-77.7 73.9,-81.5 68.4,-84.5 61.4,-85.3 54.4,-85.3 47.8,-85.3 41.7,-85.3 35.8,-85.3 30.3,-85.3 24.9,-85.3 19.7,-85.3 14.7,-85.3 9.7,-85.3 4.9,-85.3 0,-85.3 -4.9,-85.3 -9.7,-85.3 -14.7,-85.3 -19.7,-85.3 -24.9,-85.3 -30.3,-85.3 -35.8,-85.3 -41.7,-85.3 -47.8,-85.3 -54.4,-85.3 -61.3,-85.2 -67,-82.8 -72.2,-79.7 -76.9,-75.8 -80.8,-71.2 -82.9,-65.2 -82.9,-58 -82.9,-51.4 -82.9,-45.2 -82.9,-39.4 -82.9,-33.9 -82.9,-28.6 -82.9,-23.5 -82.9,-18.7 -82.9,-13.9 -82.9,-9.2 -82.9,-4.6 -82.9,0 -82.9,4.6 -82.9,9.2 -82.9,13.9 -82.9,18.7 -82.9,23.5 -82.9,28.6 -82.9,33.9 -82.9,39.4 -82.9,45.2 -82.9,51.4 -82.9,58 -82.9,65.2 -82.9,73 -79.1,77.9 -74.3,82 -69,85.3 -61.4,85.3 -54.4,85.3 -47.8,85.3 -41.7,85.3 -35.8,85.3 -30.3,85.3 -24.9,85.3 -19.7,85.3 -14.7,85.3 -9.7,85.3 -4.9,85.3 0,85.3 4.9,85.3 9.7,85.3 14.7,85.3 19.7,85.3 24.9,85.3 30.3,85.3 35.8,85.3 41.7,85.3 47.8,85.3 54.4,85.3 61.4,85.3 69,85.3 76.3,84.2 81.3,80.1 82.9,73 82.9,65.2 82.9,58 82.9,51.4 82.9,45.2 82.9,39.4 82.9,33.9 82.9,28.6 82.9,23.5 82.9,18.7 82.9,13.9 82.9,9.2 82.9,4.6Z"/>
<path fill="#00ff00" d="M82.9,0 82.9,-4.8 82.9,-9.6 82.9,-14.4 82.9,-19.4 82.9,-24.5 82.9,-29.8 82.9,-35.3 82.9,-41.1 82.9,-47.2 82.9,-53.8 82.9,-60.9 82.9,-68.6 80.2,-74.6 75.5,-78.9 70.1,-82.4 64.2,-85.1 56.9,-85.3 49.9,-85.3 43.4,-85.3 37.3,-85.3 31.5,-85.3 25.9,-85.3 20.5,-85.3 15.3,-85.3 10.1,-85.3 5,-85.3 0,-85.3 -5,-85.3 -10.1,-85.3 -15.3,-85.3 -20.5,-85.3 -25.9,-85.3 -31.5,-85.3 -37.3,-85.3 -43.4,-85.3 -49.9,-85.3 -56.9,-85.3 -63,-83.4 -68.6,-80.6 -73.7,-77 -78.1,-72.7 -81.8,-67.7 -82.9,-60.9 -82.9,-53.8 -82.9,-47.2 -82.9,-41.1 -82.9,-35.3 -82.9,-29.8 -82.9,-24.5 -82.9,-19.4 -82.9,-14.4 -82.9,-9.6 -82.9,-4.8 -82.9,0 -82.9,4.8 -82.9,9.6 -82.9,14.4 -82.9,19.4 -82.9,24.5 -82.9,29.8 -82.9,35.3 -82.9,41.1 -82.9,47.2 -82.9,53.8 -82.9,60.9 -82.9,68.6 -80.3,74.7 -75.9,79.3 -70.7,83 -64.4,85.3 -56.9,85.3 -49.9,85.3 -43.4,85.3 -37.3,85.3 -31.5,85.3 -25.9,85.3 -20.5,85.3 -15.3,85.3 -10.1,85.3 -5,85.3 0,85.3 5,85.3 10.1,85.3 15.3,85.3 20.5,85.3 25.9,85.3 31.5,85.3 37.3,85.3 43.4,85.3 49.9,85.3 56.9,85.3 64.4,85.3 72.4,85.1 77.9,81.4 82.6,76.8 82.9,68.6 82.9,60.9 82.9,53.8 82.9,47.2 82.9,41.1 82.9,35.3 82.9,29.8 82.9,24.5 82.9,19.4 82.9,14.4 82.9,9.6 82.9,4.8Z"/>
<path fill="#00ff00" d="M82.9,0 82.9,-4.8 82.9,-9.6 82.9,-14.4 82.9,-19.4 82.9,-24.5 82.9,-29.8 82.9,-35.3 82.9,-41.1 82.9,-47.2 82.9,-53.8 82.9,-60.9 82.9,-68.6 79.2,-73.7 74.6,-78 69.3,-81.5 63.5,-84.1 56.9,-85.3 49.9,-85.3 43.4,-85.3 37.3,-85.3 31.5,-85.3 25.9,-85.3 20.5,-85.3 15.3,-85.3 10.1,-85.3 5,-85.3 0,-85.3 -5,-85.3 -10.1,-85.3 -15.3,-85.3 -20.5,-85.3 -25.9,-85.3 -31.5,-85.3 -37.3,-85.3 -43.4,-85.3 -49.9,-85.3 -56.5,-84.6 -62.3,-82.5 -67.8,-79.7 -72.9,-76.2 -77.2,-71.8 -80.8,-66.9 -82.9,-60.9 -82.9,-53.8 -82.9,-47.2 -82.9,-41.1 -82.9,-35.3 -82.9,-29.8 -82.9,-24.5 -82.9,-19.4 -82.9,-14.4 -82.9,-9.6 -82.9,-4.8 -82.9,0 -82.9,4.8 -82.9,9.6 -82.9,14.4 -82.9,19.4 -82.9,24.5 -82.9,29.8 -82.9,35.3 -82.9,41.1 -82.9,47.2 -82.9,53.8 -82.9,60.9 -82.8,68.5 -79.3,73.8 -75,78.4 -69.8,82.1 -64.2,85 -56.9,85.3 -49.9,85.3 -43.4,85.3 -37.3,85.3 -31.5,85.3 -25.9,85.3 -20.5,85.3 -15.3,85.3 -10.1,85.3 -5,85.3 0,85.3 5,85.3 10.1,85.3 15.3,85.3 20.5,85.3 25.9,85.3 31.5,85.3 37.3,85.3 43.4,85.3 49.9,85.3 56.9,85.3 64.4,85.3 71.6,84.1 77,80.5 81.6,75.9 82.9,68.6 82.9,60.9 82.9,53.8 82.9,47.2 82.9,41.1 82.9,35.3 82.9,29.8 82.9,24.5 82.9,19.4 82.9,14.4 82.9,9.6 82.9,4.8Z"/>
<path fill="#00ff00" d="M82.9,0 82.9,-4.8 82.9,-9.6 82.9,-14.4 82.9,-19.4 82.9,-24.5 82.9,-29.8 82.9,-35.3 82.9,-41.1 82.9,-47.2 82.9,-53.8 82.9,-60.9 82,-67.9 78.3,-72.8 73.7,-77.1 68.5,-80.5 62.8,-83.1 56.8,-85.1 49.9,-85.3 43.4,-85.3 37.3,-85.3 31.5,-85.3 25.9,-85.3 20.5,-85.3 15.3,-85.3 10.1,-85.3 5,-85.3 0,-85.3 -5,-85.3 -10.1,-85.3 -15.3,-85.3 -20.5,-85.3 -25.9,-85.3 -31.5,-85.3 -37.3,-85.3 -43.4,-85.3 -49.9,-85.3 -55.8,-83.7 -61.6,-81.5 -67,-78.7 -72,-75.2 -76.3,-71 -79.9,-66.1 -82.7,-60.7 -82.9,-53.8 -82.9,-47.2 -82.9,-41.1 -82.9,-35.3 -82.9,-29.8 -82.9,-24.5 -82.9,-19.4 -82.9,-14.4 -82.9,-9.6 -82.9,-4.8 -82.9,0 -82.9,4.8 -82.9,9.6 -82.9,14.4 -82.9,19.4 -82.9,24.5 -82.9,29.8 -82.9,35.3 -82.9,41.1 -82.9,47.2 -82.9,53.8 -82.9,60.9 -81.9,67.7 -78.4,72.9 -74.1,77.4 -69,81.1 -63.4,84 -56.9,85.3 -49.9,85.3 -43.4,85.3 -37.3,85.3 -31.5,85.3 -25.9,85.3 -20.5,85.3 -15.3,85.3 -10.1,85.3 -5,85.3 0,85.3 5,85.3 10.1,85.3 15.3,85.3 20.5,85.3 25.9,85.3 31.5,85.3 37.3,85.3 43.4,85.3 49.9,85.3 56.9,85.3 64.4,85.3 70.7,83.1 76.1,79.5 80.6,75 82.9,68.6 82.9,60.9 82.9,53.8 82.9,47.2 82.9,41.1 82.9,35.3 82.9,29.8 82.9,24.5 82.9,19.4 82.9,14.4 82.9,9.6 82.9,4.8Z"/>
<path fill="#00ff00" d="M82.9,0 82.9,-4.8 82.9,-9.6 82.9,-14.4 82.9,-19.4 82.9,-24.5 82.9,-29.8 82.9,-35.3 82.9,-41.1 82.9,-47.2 82.9,-53.8 82.9,-60.9 81,-67 77.3,-71.9 72.8,-76.1 67.6,-79.5 62,-82.1 56.1,-84.1 49.9,-85.3 43.4,-85.3 37.3,-85.3 31.5,-85.3 25.9,-85.3 20.5,-85.3 15.3,-85.3 10.1,-85.3 5,-85.3 0,-85.3 -5,-85.3 -10.1,-85.3 -15.3,-85.3 -20.5,-85.3 -25.9,-85.3 -31.5,-85.3 -37.3,-85.3 -43.4,-85.3 -49.4,-84.3 -55.2,-82.7 -60.8,-80.5 -66.2,-77.8 -71.1,-74.3 -75.3,-70.1 -78.9,-65.3 -81.7,-60 -82.9,-53.8 -82.9,-47.2 -82.9,-41.1 -82.9,-35.3 -82.9,-29.8 -82.9,-24.5 -82.9,-19.4 -82.9,-14.4 -82.9,-9.6 -82.9,-4.8 -82.9,0 -82.9,4.8 -82.9,9.6 -82.9,14.4 -82.9,19.4 -82.9,24.5 -82.9,29.8 -82.9,35.3 -82.9,41.1 -82.9,47.2 -82.9,53.8 -82.9,60.9 -80.8,66.9 -77.4,72 -73.1,76.4 -68.2,80.1 -62.7,83 -56.8,85.2 -49.9,85.3 -43.4,85.3 -37.3,85.3 -31.5,85.3 -25.9,85.3 -20.5,85.3 -15.3,85.3 -10.1,85.3 -5,85.3 0,85.3 5,85.3 10.1,85.3 15.3,85.3 20.5,85.3 25.9,85.3 31.5,85.3 37.3,85.3 43.4,85.3 49.9,85.3 56.9,85.3 64,84.8 69.9,82.1 75.1,78.5 79.6,74.1 82.9,68.6 82.9,60.9 82.9,53.8 82.9,47.2 82.9,41.1 82.9,35.3 82.9,29.8 82.9,24.5 82.9,19.4 82.9,14.4 82.9,9.6 82.9,4.8Z"/>
<path fill="#00ff00" d="M82.9,0 82.9,-4.8 82.9,-9.6 82.9,-14.4 82.9,-19.4 82.9,-24.5 82.9,-29.8 82.9,-35.3 82.9,-41.1 82.9,-47.2 82.9,-53.8 82.9,-60.8 79.9,-66.1 76.3,-71 71.8,-75.1 66.8,-78.5 61.2,-81.1 55.4,-83.1 49.5,-84.6 43.4,-85.3 37.3,-85.3 31.5,-85.3 25.9,-85.3 20.5,-85.3 15.3,-85.3 10.1,-85.3 5,-85.3 0,-85.3 -5,-85.3 -10.1,-85.3 -15.3,-85.3 -20.5,-85.3 -25.9,-85.3 -31.5,-85.3 -37.3,-85.3 -43.1,-84.6 -48.8,-83.3 -54.5,-81.7 -60,-79.5 -65.3,-76.8 -70.1,-73.3 -74.4,-69.2 -77.9,-64.4 -80.7,-59.2 -82.9,-53.7 -82.9,-47.2 -82.9,-41.1 -82.9,-35.3 -82.9,-29.8 -82.9,-24.5 -82.9,-19.4 -82.9,-14.4 -82.9,-9.6 -82.9,-4.8 -82.9,0 -82.9,4.8 -82.9,9.6 -82.9,14.4 -82.9,19.4 -82.9,24.5 -82.9,29.8 -82.9,35.3 -82.9,41.1 -82.9,47.2 -82.9,53.8 -82.5,60.5 -79.8,66 -76.4,71 -72.2,75.4 -67.3,79 -61.9,81.9 -56.1,84.1 -49.9,85.3 -43.4,85.3 -37.3,85.3 -31.5,85.3 -25.9,85.3 -20.5,85.3 -15.3,85.3 -10.1,85.3 -5,85.3 0,85.3 5,85.3 10.1,85.3 15.3,85.3 20.5,85.3 25.9,85.3 31.5,85.3 37.3,85.3 43.4,85.3 49.9,85.3 56.9,85.3 63.2,83.7 68.9,81 74.1,77.5 78.6,73.1 82.1,68 82.9,60.9 82.9,53.8 82.9,47.2 82.9,41.1 82.9,35.3 82.9,29.8 82.9,24.5 82.9,19.4 82.9,14.4 82.9,9.6 82.9,4.8Z"/>
<path fill="#00ff10" d="M82.9,0 82.9,-4.9 82.9,-9.9 82.9,-15 82.9,-20.1 82.9,-25.5 82.9,-31 82.9,-36.8 82.9,-42.9 82.9,-49.4 82.9,-56.4 80.6,-62.3 77.3,-67.5 73.1,-72.1 68.2,-75.9 62.8,-79 56.9,-81.3 50.9,-83.1 44.9,-84.3 38.9,-85.3 32.8,-85.3 27,-85.3 21.3,-85.3 15.9,-85.3 10.5,-85.3 5.2,-85.3 0,-85.3 -5.2,-85.3 -10.5,-85.3 -15.9,-85.3 -21.3,-85.3 -27,-85.3 -32.7,-85.1 -38.5,-84.3 -44.3,-83.2 -50.1,-81.8 -55.9,-79.9 -61.5,-77.4 -66.7,-74.2 -71.3,-70.3 -75.3,-65.8 -78.5,-60.6 -81,-55.1 -82.9,-49.4 -82.9,-42.9 -82.9,-36.8 -82.9,-31 -82.9,-25.5 -82.9,-20.1 -82.9,-15 -82.9,-9.9 -82.9,-4.9 -82.9,0 -82.9,4.9 -82.9,9.9 -82.9,15 -82.9,20.1 -82.9,25.5 -82.9,31 -82.9,36.8 -82.9,42.9 -82.9,49.4 -82.7,56.3 -80.3,62.1 -77.2,67.5 -73.3,72.3 -68.7,76.4 -63.3,79.7 -57.6,82.3 -51.6,84.2 -45.4,85.3 -38.9,85.3 -32.8,85.3 -27,85.3 -21.3,85.3 -15.9,85.3 -10.5,85.3 -5.2,85.3 0,85.3 5.2,85.3 10.5,85.3 15.9,85.3 21.3,85.3 27,85.3 32.8,85.3 38.9,85.3 45.4,85.3 52.3,85.3 58.8,84 64.8,81.6 70.4,78.4 75.4,74.3 79.5,69.4 82.7,63.9 82.9,56.4 82.9,49.4 82.9,42.9 82.9,36.8 82.9,31 82.9,25.5 82.9,20.1 82.9,15 82.9,9.9 82.9,4.9Z"/>
<path fill="#00ff22" d="M82.9,0 82.9,-4.9 82.9,-9.9 82.9,-15 82.9,-20.1 82.9,-25.5 82.9,-31 82.9,-36.8 82.9,-42.9 82.9,-49.4 82.1,-55.9 79.5,-61.4 76.2,-66.5 72.1,-71.1 67.3,-74.8 61.9,-77.9 56.2,-80.2 50.2,-82 44.3,-83.3 38.4,-84.2 32.6,-84.9 27,-85.3 21.3,-85.3 15.9,-85.3 10.5,-85.3 5.2,-85.3 0,-85.3 -5.2,-85.3 -10.5,-85.3 -15.9,-85.3 -21.3,-85.1 -26.8,-84.7 -32.3,-84 -38,-83.2 -43.7,-82.1 -49.5,-80.7 -55.1,-78.8 -60.6,-76.3 -65.7,-73.2 -70.3,-69.3 -74.2,-64.8 -77.4,-59.8 -79.9,-54.4 -81.9,-48.8 -82.9,-42.9 -82.9,-36.8 -82.9,-31 -82.9,-25.5 -82.9,-20.1 -82.9,-15 -82.9,-9.9 -82.9,-4.9 -82.9,0 -82.9,4.9 -82.9,9.9 -82.9,15 -82.9,20.1 -82.9,25.5 -82.9,31 -82.9,36.8 -82.9,42.9 -82.9,49.4 -81.6,55.5 -79.2,61.2 -76.1,66.5 -72.3,71.3 -67.7,75.3 -62.4,78.6 -56.8,81.2 -51,83.1 -45,84.6 -38.9,85.3 -32.8,85.3 -27,85.3 -21.3,85.3 -15.9,85.3 -10.5,85.3 -5.2,85.3 0,85.3 5.2,85.3 10.5,85.3 15.9,85.3 21.3,85.3 27,85.3 32.8,85.3 38.9,85.3 45.4,85.3 51.9,84.6 58,82.8 63.9,80.4 69.4,77.3 74.3,73.2 78.3,68.4 81.5,63 82.9,56.4 82.9,49.4 82.9,42.9 82.9,36.8 82.9,31 82.9,25.5 82.9,20.1 82.9,15 82.9,9.9 82.9,4.9Z"/>
<path fill="#00ff34" d="M82.9,0 82.9,-4.9 82.9,-9.9 82.9,-15 82.9,-20.1 82.9,-25.5 82.9,-31 82.9,-36.8 82.9,-42.9 82.9,-49.4 80.9,-55.1 78.3,-60.5 75,-65.5 71,-70 66.2,-73.7 61,-76.7 55.3,-79.1 49.5,-80.8 43.7,-82.1 37.9,-83.1 32.2,-83.8 26.6,-84.2 21.1,-84.5 15.7,-84.7 10.4,-84.8 5.2,-84.8 0,-84.7 -5.2,-84.6 -10.4,-84.5 -15.7,-84.3 -21,-84 -26.4,-83.6 -31.9,-83 -37.5,-82.1 -43.1,-81 -48.8,-79.5 -54.4,-77.6 -59.7,-75.2 -64.8,-72.1 -69.3,-68.3 -73.1,-63.9 -76.3,-58.9 -78.8,-53.6 -80.7,-48.1 -82.2,-42.5 -82.9,-36.8 -82.9,-31 -82.9,-25.5 -82.9,-20.1 -82.9,-15 -82.9,-9.9 -82.9,-4.9 -82.9,0 -82.9,4.9 -82.9,9.9 -82.9,15 -82.9,20.1 -82.9,25.5 -82.9,31 -82.9,36.8 -82.9,42.9 -82.2,49 -80.4,54.7 -78,60.3 -75,65.5 -71.2,70.2 -66.6,74.2 -61.5,77.4 -56,80 -50.2,81.9 -44.4,83.4 -38.6,84.6 -32.8,85.3 -27,85.3 -21.3,85.3 -15.9,85.3 -10.5,85.3 -5.2,85.3 0,85.3 5.2,85.3 10.5,85.3 15.9,85.3 21.3,85.3 27,85.3 32.8,85.3 38.9,85.3 45.1,84.7 51.1,83.4 57.1,81.6 62.9,79.2 68.4,76.1 73.1,72.1 77.1,67.4 80.3,62 82.7,56.3 82.9,49.4 82.9,42.9 82.9,36.8 82.9,31 82.9,25.5 82.9,20.1 82.9,15 82.9,9.9 82.9,4.9Z"/>
<path fill="#00ff46" d="M82.9,0 82.9,-4.9 82.9,-9.9 82.9,-15 82.9,-20.1 82.9,-25.5 82.9,-31 82.9,-36.8 82.9,-42.9 81.7,-48.7 79.7,-54.2 77.1,-59.5 73.8,-64.5 69.8,-68.9 65.2,-72.6 60,-75.5 54.5,-77.9 48.8,-79.6 43.1,-80.9 37.4,-81.9 31.8,-82.6 26.3,-83.1 20.8,-83.4 15.5,-83.6 10.3,-83.6 5.1,-83.6 0,-83.6 -5.1,-83.5 -10.3,-83.4 -15.5,-83.2 -20.7,-82.9 -26.1,-82.4 -31.5,-81.8 -37,-81 -42.5,-79.9 -48.1,-78.4 -53.5,-76.5 -58.8,-74 -63.7,-70.9 -68.2,-67.2 -72,-62.8 -75.1,-58 -77.6,-52.8 -79.5,-47.4 -81,-41.9 -82.2,-36.5 -82.9,-31 -82.9,-25.5 -82.9,-20.1 -82.9,-15 -82.9,-9.9 -82.9,-4.9 -82.9,0 -82.9,4.9 -82.9,9.9 -82.9,15 -82.9,20.1 -82.9,25.5 -82.9,31 -82.9,36.8 -82.3,42.6 -80.9,48.2 -79.2,53.9 -76.8,59.3 -73.8,64.5 -70,69.1 -65.6,73 -60.6,76.2 -55.1,78.8 -49.5,80.7 -43.8,82.2 -38.1,83.4 -32.4,84.2 -26.8,84.9 -21.3,85.3 -15.9,85.3 -10.5,85.3 -5.2,85.3 0,85.3 5.2,85.3 10.5,85.3 15.9,85.3 21.3,85.3 27,85.3 32.7,85.1 38.6,84.5 44.4,83.5 50.4,82.2 56.3,80.4 62,78 67.3,74.9 72,71 75.9,66.3 79.1,61.1 81.5,55.5 82.9,49.4 82.9,42.9 82.9,36.8 82.9,31 82.9,25.5 82.9,20.1 82.9,15 82.9,9.9 82.9,4.9Z"/>
<path fill="#00ff59" d="M82.9,0 82.9,-5.1 82.9,-10.3 82.9,-15.6 82.9,-21 82.9,-26.6 82.9,-32.4 82.8,-38.4 81.5,-44.2 79.7,-49.9 77.4,-55.5 74.5,-60.8 70.8,-65.5 66.4,-69.7 61.3,-73.1 55.8,-75.8 50.1,-77.8 44.2,-79.3 38.4,-80.5 32.6,-81.3 27,-81.8 21.4,-82.2 15.9,-82.4 10.6,-82.5 5.3,-82.5 0,-82.4 -5.3,-82.3 -10.5,-82.2 -15.9,-82 -21.3,-81.6 -26.7,-81.1 -32.3,-80.4 -37.9,-79.5 -43.6,-78.2 -49.3,-76.5 -54.8,-74.3 -60,-71.5 -64.8,-68.1 -69,-63.9 -72.6,-59.2 -75.4,-54 -77.7,-48.6 -79.4,-43 -80.7,-37.4 -81.7,-31.9 -82.4,-26.4 -82.9,-21 -82.9,-15.6 -82.9,-10.3 -82.9,-5.1 -82.9,0 -82.9,5.1 -82.9,10.3 -82.9,15.6 -82.9,21 -82.9,26.6 -82.6,32.2 -81.8,37.9 -80.6,43.7 -79.1,49.5 -77,55.2 -74.3,60.6 -70.9,65.6 -66.7,70 -61.8,73.6 -56.4,76.6 -50.7,78.8 -44.9,80.6 -39.1,81.9 -33.3,82.8 -27.5,83.5 -21.9,84 -16.3,84.4 -10.8,84.6 -5.4,84.8 0,84.8 5.4,84.9 10.9,84.9 16.4,84.8 22,84.6 27.8,84.3 33.6,83.8 39.6,83 45.6,81.9 51.7,80.3 57.6,78.2 63.3,75.4 68.4,71.8 72.9,67.5 76.5,62.4 79.3,56.8 81.4,50.9 82.9,44.9 82.9,38.5 82.9,32.4 82.9,26.6 82.9,21 82.9,15.6 82.9,10.3 82.9,5.1Z"/>
<path fill="#00ff6b" d="M82.9,0 82.9,-5.1 82.9,-10.3 82.9,-15.6 82.9,-21 82.9,-26.6 82.5,-32.2 81.5,-37.8 80.2,-43.5 78.4,-49.1 76.1,-54.5 73.2,-59.7 69.5,-64.4 65.2,-68.4 60.2,-71.8 54.9,-74.5 49.2,-76.5 43.5,-78.1 37.8,-79.2 32.1,-80 26.5,-80.6 21.1,-80.9 15.7,-81.1 10.4,-81.2 5.2,-81.3 0,-81.2 -5.2,-81.1 -10.4,-81 -15.6,-80.8 -20.9,-80.4 -26.3,-79.9 -31.8,-79.2 -37.3,-78.2 -42.9,-77 -48.4,-75.3 -53.8,-73.1 -59,-70.3 -63.7,-66.9 -67.8,-62.8 -71.3,-58.2 -74.1,-53.1 -76.4,-47.8 -78.1,-42.3 -79.4,-36.8 -80.4,-31.4 -81.1,-26 -81.6,-20.7 -82,-15.4 -82.2,-10.2 -82.4,-5.1 -82.5,0 -82.5,5.1 -82.5,10.3 -82.4,15.5 -82.2,20.8 -81.9,26.2 -81.3,31.7 -80.5,37.3 -79.3,43 -77.8,48.7 -75.7,54.2 -73,59.6 -69.6,64.5 -65.5,68.8 -60.7,72.4 -55.5,75.3 -49.9,77.5 -44.2,79.3 -38.5,80.6 -32.7,81.5 -27.1,82.3 -21.6,82.8 -16.1,83.1 -10.7,83.4 -5.3,83.5 0,83.6 5.3,83.7 10.7,83.7 16.2,83.6 21.7,83.4 27.4,83 33.1,82.5 39,81.7 44.9,80.5 50.8,79 56.6,76.9 62.2,74.1 67.2,70.6 71.6,66.3 75.1,61.3 77.9,55.8 80,50.1 81.6,44.2 82.8,38.4 82.9,32.4 82.9,26.6 82.9,21 82.9,15.6 82.9,10.3 82.9,5.1Z"/>
<path fill="#00ff7d" d="M82.9,0 82.9,-5.1 82.9,-10.3 82.8,-15.6 82.5,-20.9 81.9,-26.2 81.2,-31.7 80.2,-37.2 78.8,-42.7 77,-48.2 74.7,-53.5 71.8,-58.6 68.2,-63.2 64,-67.2 59.1,-70.5 53.9,-73.1 48.4,-75.2 42.8,-76.7 37.2,-77.9 31.6,-78.7 26.1,-79.3 20.7,-79.6 15.5,-79.9 10.2,-80 5.1,-80 0,-79.9 -5.1,-79.9 -10.2,-79.7 -15.4,-79.5 -20.6,-79.1 -25.9,-78.6 -31.3,-77.9 -36.7,-76.9 -42.2,-75.6 -47.6,-73.9 -52.9,-71.8 -57.9,-69 -62.5,-65.6 -66.6,-61.6 -70,-57.1 -72.8,-52.2 -75,-47 -76.8,-41.6 -78.1,-36.2 -79.1,-30.9 -79.8,-25.6 -80.3,-20.3 -80.7,-15.2 -80.9,-10.1 -81.1,-5 -81.2,0 -81.2,5 -81.2,10.1 -81.1,15.3 -80.9,20.5 -80.5,25.8 -80,31.2 -79.1,36.7 -78,42.3 -76.4,47.8 -74.4,53.3 -71.7,58.5 -68.3,63.2 -64.3,67.5 -59.6,71 -54.5,73.9 -49,76.2 -43.4,77.9 -37.8,79.2 -32.2,80.2 -26.7,80.9 -21.2,81.5 -15.8,81.8 -10.5,82.1 -5.2,82.2 0,82.3 5.3,82.3 10.6,82.3 15.9,82.3 21.4,82 26.9,81.7 32.6,81.1 38.3,80.3 44.1,79.1 49.9,77.6 55.6,75.5 61,72.7 65.9,69.2 70.2,65 73.7,60.1 76.5,54.8 78.6,49.2 80.2,43.5 81.4,37.8 82.2,32.1 82.8,26.5 82.9,21 82.9,15.6 82.9,10.3 82.9,5.1Z"/>
<path fill="#00ff8f" d="M81.9,0 81.8,-5.3 81.7,-10.6 81.4,-16 81,-21.4 80.4,-26.9 79.5,-32.5 78.4,-38.1 76.8,-43.7 74.8,-49.3 72.2,-54.6 68.9,-59.6 64.9,-64 60.2,-67.7 55,-70.7 49.5,-73.1 43.8,-74.9 38.1,-76.2 32.4,-77.1 26.8,-77.8 21.3,-78.2 15.8,-78.5 10.5,-78.6 5.2,-78.6 0,-78.6 -5.2,-78.5 -10.5,-78.4 -15.8,-78.1 -21.1,-77.7 -26.6,-77.1 -32.1,-76.3 -37.6,-75.2 -43.2,-73.8 -48.7,-71.8 -54,-69.3 -58.9,-66.2 -63.4,-62.5 -67.2,-58.1 -70.3,-53.2 -72.9,-48 -74.8,-42.6 -76.3,-37.1 -77.5,-31.6 -78.3,-26.2 -78.9,-20.8 -79.3,-15.6 -79.6,-10.3 -79.7,-5.2 -79.8,0 -79.9,5.2 -79.9,10.4 -79.7,15.6 -79.5,21 -79.1,26.5 -78.4,32 -77.4,37.6 -76.1,43.3 -74.3,48.9 -71.9,54.4 -68.8,59.5 -65,64.1 -60.6,68.1 -55.5,71.4 -50.1,74 -44.5,75.9 -38.7,77.5 -33,78.6 -27.3,79.4 -21.7,80 -16.2,80.4 -10.8,80.7 -5.4,80.8 0,80.9 5.4,81 10.8,81 16.3,80.8 21.9,80.6 27.6,80.2 33.4,79.5 39.3,78.6 45.2,77.2 51.1,75.4 56.8,72.9 62.1,69.8 66.8,65.8 70.8,61.2 74,56 76.4,50.3 78.3,44.6 79.6,38.7 80.6,32.9 81.2,27.2 81.7,21.6 81.9,16.1 82,10.6 82,5.3Z"/>
<path fill="#00ffa1" d="M80.5,0 80.4,-5.2 80.2,-10.4 79.9,-15.7 79.5,-21 78.9,-26.4 78,-31.9 76.9,-37.4 75.3,-42.9 73.3,-48.3 70.7,-53.5 67.4,-58.3 63.5,-62.6 58.9,-66.3 53.9,-69.3 48.5,-71.6 43,-73.4 37.4,-74.7 31.8,-75.7 26.3,-76.4 20.9,-76.8 15.6,-77.1 10.3,-77.2 5.1,-77.2 0,-77.2 -5.1,-77.1 -10.3,-77 -15.5,-76.7 -20.7,-76.3 -26.1,-75.7 -31.5,-74.9 -36.9,-73.8 -42.3,-72.3 -47.7,-70.4 -52.9,-67.9 -57.7,-64.9 -62,-61.2 -65.8,-56.9 -68.9,-52.1 -71.4,-47.1 -73.4,-41.8 -74.9,-36.4 -76,-31.1 -76.9,-25.7 -77.5,-20.5 -77.9,-15.3 -78.2,-10.1 -78.3,-5.1 -78.4,0 -78.5,5.1 -78.4,10.2 -78.3,15.4 -78.1,20.6 -77.6,26 -76.9,31.4 -76,36.9 -74.6,42.5 -72.8,48 -70.4,53.3 -67.4,58.3 -63.7,62.8 -59.3,66.7 -54.4,69.9 -49.1,72.5 -43.6,74.5 -38,76 -32.4,77.1 -26.8,78 -21.3,78.5 -15.9,79 -10.6,79.2 -5.3,79.4 0,79.5 5.3,79.5 10.6,79.5 16,79.4 21.5,79.1 27.1,78.7 32.8,78 38.5,77.1 44.3,75.7 50.1,73.9 55.6,71.4 60.8,68.3 65.4,64.4 69.3,59.9 72.4,54.8 74.9,49.3 76.7,43.7 78.1,38 79.1,32.3 79.7,26.7 80.2,21.2 80.4,15.8 80.5,10.5 80.5,5.2Z"/>
<path fill="#00ffb4" d="M78.9,0 78.8,-5.1 78.7,-10.2 78.4,-15.4 78,-20.6 77.3,-25.9 76.5,-31.2 75.3,-36.6 73.8,-42 71.7,-47.3 69.2,-52.3 65.9,-57 62.1,-61.2 57.6,-64.8 52.7,-67.8 47.5,-70.1 42.1,-71.9 36.6,-73.2 31.2,-74.2 25.8,-74.9 20.5,-75.3 15.3,-75.6 10.1,-75.7 5,-75.8 0,-75.7 -5,-75.7 -10.1,-75.5 -15.2,-75.2 -20.3,-74.8 -25.6,-74.2 -30.8,-73.4 -36.2,-72.3 -41.5,-70.8 -46.7,-68.9 -51.7,-66.5 -56.4,-63.4 -60.7,-59.8 -64.4,-55.6 -67.4,-51 -69.9,-46.1 -71.9,-40.9 -73.4,-35.7 -74.5,-30.4 -75.4,-25.2 -76,-20.1 -76.4,-15 -76.7,-10 -76.8,-5 -76.9,0 -77,5 -76.9,10 -76.8,15.1 -76.5,20.2 -76.1,25.5 -75.4,30.8 -74.4,36.2 -73.1,41.6 -71.2,46.9 -68.9,52.1 -65.9,57 -62.3,61.4 -58,65.2 -53.2,68.4 -48.1,70.9 -42.7,72.9 -37.2,74.4 -31.7,75.6 -26.3,76.4 -20.9,77 -15.6,77.4 -10.4,77.7 -5.2,77.9 0,78 5.2,78 10.4,78 15.7,77.9 21.1,77.6 26.6,77.1 32.1,76.5 37.8,75.5 43.4,74.1 49,72.3 54.4,69.9 59.4,66.8 63.9,63 67.7,58.5 70.8,53.6 73.3,48.3 75.1,42.8 76.5,37.2 77.5,31.6 78.2,26.2 78.6,20.8 78.9,15.5 79,10.3 79,5.1Z"/>
<path fill="#00ffc6" d="M77.3,0 77.2,-5.2 77,-10.4 76.7,-15.7 76.2,-21.1 75.5,-26.5 74.6,-31.9 73.2,-37.4 71.5,-42.9 69.2,-48.1 66.2,-53.1 62.7,-57.7 58.4,-61.7 53.6,-65 48.4,-67.6 43,-69.7 37.4,-71.2 31.9,-72.4 26.4,-73.2 20.9,-73.7 15.6,-74 10.3,-74.2 5.1,-74.2 0,-74.2 -5.1,-74.1 -10.3,-73.9 -15.5,-73.6 -20.8,-73.2 -26.1,-72.5 -31.5,-71.6 -37,-70.3 -42.3,-68.6 -47.6,-66.5 -52.6,-63.7 -57.2,-60.3 -61.2,-56.4 -64.6,-51.8 -67.4,-46.9 -69.7,-41.8 -71.4,-36.5 -72.7,-31.1 -73.6,-25.8 -74.3,-20.5 -74.8,-15.3 -75.1,-10.2 -75.3,-5.1 -75.3,0 -75.4,5.1 -75.4,10.2 -75.2,15.4 -74.9,20.7 -74.4,26.1 -73.6,31.5 -72.4,37 -70.9,42.5 -68.8,47.9 -66.1,53 -62.7,57.8 -58.7,61.9 -54,65.5 -49,68.4 -43.6,70.6 -38,72.4 -32.5,73.7 -26.9,74.6 -21.4,75.3 -16,75.8 -10.6,76.1 -5.3,76.3 0,76.4 5.3,76.4 10.6,76.4 16.1,76.2 21.6,75.9 27.2,75.4 32.9,74.6 38.6,73.4 44.3,71.9 49.9,69.7 55.3,67 60.1,63.5 64.4,59.3 67.9,54.5 70.7,49.2 72.8,43.7 74.4,38 75.6,32.4 76.4,26.8 76.9,21.2 77.2,15.8 77.4,10.5 77.4,5.2Z"/>
<path fill="#00ffd8" d="M75.6,0 75.5,-5.1 75.3,-10.2 75,-15.4 74.5,-20.6 73.8,-25.9 72.8,-31.2 71.5,-36.5 69.7,-41.8 67.5,-47 64.6,-51.8 61.1,-56.2 56.9,-60.1 52.3,-63.4 47.2,-66 42,-68 36.6,-69.6 31.2,-70.7 25.8,-71.5 20.5,-72.1 15.3,-72.4 10.1,-72.6 5,-72.6 0,-72.6 -5,-72.5 -10.1,-72.3 -15.2,-72 -20.3,-71.6 -25.6,-70.9 -30.8,-69.9 -36.1,-68.7 -41.3,-67 -46.4,-64.8 -51.3,-62.1 -55.7,-58.8 -59.7,-54.9 -63,-50.6 -65.8,-45.8 -68,-40.8 -69.7,-35.6 -71,-30.4 -72,-25.2 -72.6,-20.1 -73.1,-15 -73.4,-10 -73.6,-5 -73.7,0 -73.7,5 -73.7,10 -73.5,15.1 -73.2,20.2 -72.7,25.5 -71.9,30.8 -70.7,36.1 -69.2,41.5 -67.1,46.7 -64.4,51.7 -61.1,56.3 -57.2,60.4 -52.7,63.8 -47.7,66.7 -42.5,68.9 -37.1,70.7 -31.7,72 -26.3,72.9 -20.9,73.6 -15.6,74.1 -10.4,74.4 -5.2,74.6 0,74.7 5.2,74.7 10.4,74.7 15.7,74.5 21.1,74.2 26.6,73.7 32.1,72.9 37.7,71.7 43.2,70.1 48.7,68 53.8,65.3 58.6,61.8 62.7,57.8 66.2,53.1 68.9,48 71.1,42.6 72.7,37.1 73.8,31.6 74.6,26.2 75.2,20.8 75.5,15.5 75.7,10.3 75.7,5.1Z"/>
<path fill="#00ffea" d="M73.8,0 73.7,-5 73.5,-10 73.2,-15 72.7,-20.1 72,-25.2 71,-30.4 69.7,-35.6 67.9,-40.7 65.7,-45.7 62.8,-50.4 59.4,-54.7 55.4,-58.5 50.9,-61.7 46,-64.2 40.9,-66.3 35.6,-67.8 30.4,-69 25.1,-69.8 20,-70.3 14.9,-70.7 9.9,-70.8 4.9,-70.9 0,-70.8 -4.9,-70.8 -9.8,-70.6 -14.8,-70.3 -19.8,-69.8 -24.9,-69.2 -30.1,-68.2 -35.2,-67 -40.3,-65.3 -45.2,-63.2 -49.9,-60.5 -54.2,-57.3 -58.1,-53.5 -61.4,-49.2 -64.1,-44.6 -66.3,-39.7 -67.9,-34.7 -69.2,-29.7 -70.2,-24.6 -70.9,-19.6 -71.4,-14.6 -71.7,-9.7 -71.9,-4.8 -72,0 -72,4.9 -72,9.8 -71.8,14.7 -71.4,19.7 -70.9,24.8 -70.1,30 -68.9,35.2 -67.4,40.4 -65.3,45.5 -62.7,50.3 -59.5,54.8 -55.6,58.7 -51.3,62.1 -46.5,64.9 -41.4,67.1 -36.2,68.9 -30.9,70.2 -25.6,71.2 -20.4,71.8 -15.2,72.3 -10.1,72.6 -5.1,72.8 0,72.9 5.1,72.9 10.2,72.9 15.3,72.7 20.6,72.4 25.9,71.9 31.3,71 36.7,69.9 42.1,68.3 47.4,66.2 52.4,63.5 57,60.1 61,56.2 64.4,51.6 67.1,46.7 69.2,41.5 70.8,36.2 72,30.8 72.8,25.5 73.3,20.3 73.7,15.1 73.8,10 73.9,5Z"/>
<path fill="#00fffc" d="M71.9,0 71.8,-5.1 71.6,-10.2 71.3,-15.3 70.7,-20.5 69.9,-25.7 68.8,-31 67.3,-36.2 65.3,-41.4 62.7,-46.3 59.6,-50.9 55.8,-55 51.4,-58.5 46.7,-61.5 41.6,-63.8 36.3,-65.5 31,-66.8 25.6,-67.8 20.4,-68.4 15.2,-68.8 10.1,-69 5,-69.1 0,-69 -5,-68.9 -10,-68.8 -15.1,-68.4 -20.2,-67.9 -25.4,-67.2 -30.6,-66.1 -35.8,-64.7 -40.9,-62.8 -45.8,-60.4 -50.4,-57.4 -54.6,-53.8 -58.2,-49.7 -61.2,-45.2 -63.7,-40.4 -65.6,-35.3 -67.1,-30.2 -68.2,-25.1 -68.9,-20 -69.5,-14.9 -69.8,-9.9 -70,-4.9 -70.1,0 -70.1,4.9 -70.1,9.9 -69.9,15 -69.5,20.1 -68.9,25.3 -67.9,30.6 -66.6,35.9 -64.8,41.1 -62.5,46.1 -59.5,50.9 -55.9,55.2 -51.8,58.9 -47.1,62 -42.1,64.5 -36.8,66.5 -31.5,68 -26.1,69.1 -20.8,69.8 -15.5,70.4 -10.3,70.7 -5.1,70.9 0,71 5.2,71.1 10.4,71 15.6,70.8 21,70.4 26.4,69.8 31.9,68.8 37.4,67.5 42.8,65.7 48,63.2 52.9,60.2 57.3,56.5 61,52.2 64.1,47.3 66.5,42.2 68.4,36.8 69.7,31.4 70.7,26 71.3,20.7 71.7,15.4 71.9,10.2 72,5.1Z"/>
<path fill="#00efff" d="M69.9,0 69.8,-4.9 69.6,-9.9 69.2,-14.8 68.7,-19.9 67.9,-25 66.8,-30.1 65.3,-35.1 63.3,-40.1 60.8,-44.9 57.7,-49.3 54,-53.3 49.8,-56.7 45.2,-59.6 40.3,-61.8 35.2,-63.6 30,-64.9 24.9,-65.8 19.8,-66.5 14.8,-66.9 9.8,-67.1 4.9,-67.1 0,-67.1 -4.9,-67 -9.7,-66.8 -14.7,-66.5 -19.7,-66 -24.7,-65.2 -29.7,-64.2 -34.7,-62.7 -39.7,-60.9 -44.4,-58.5 -48.9,-55.6 -52.9,-52.2 -56.4,-48.2 -59.4,-43.8 -61.8,-39.1 -63.7,-34.3 -65.1,-29.3 -66.2,-24.3 -67,-19.4 -67.5,-14.5 -67.9,-9.6 -68.1,-4.8 -68.2,0 -68.2,4.8 -68.1,9.7 -67.9,14.6 -67.5,19.5 -66.9,24.6 -65.9,29.7 -64.6,34.8 -62.8,39.8 -60.5,44.7 -57.7,49.3 -54.2,53.4 -50.1,57 -45.6,60.1 -40.8,62.5 -35.7,64.5 -30.6,66 -25.4,67.1 -20.2,67.8 -15.1,68.4 -10,68.7 -5,68.9 0,69 5,69.1 10.1,69 15.2,68.8 20.4,68.4 25.6,67.7 30.9,66.8 36.2,65.4 41.5,63.6 46.5,61.3 51.2,58.3 55.4,54.7 59.1,50.5 62.1,45.8 64.5,40.9 66.3,35.7 67.7,30.5 68.6,25.2 69.3,20.1 69.7,14.9 69.9,9.9 69.9,4.9Z"/>
<path fill="#00ddff" d="M67.7,0 67.6,-5 67.4,-10 67,-15.1 66.4,-20.2 65.5,-25.3 64.2,-30.5 62.5,-35.6 60.3,-40.5 57.5,-45.2 54.1,-49.5 50.1,-53.3 45.6,-56.4 40.8,-59 35.7,-61 30.5,-62.5 25.3,-63.5 20.1,-64.3 15,-64.8 9.9,-65 4.9,-65.1 0,-65.1 -4.9,-65 -9.9,-64.8 -14.9,-64.4 -20,-63.8 -25.1,-63 -30.2,-61.8 -35.2,-60.2 -40.2,-58.1 -44.8,-55.4 -49.1,-52.2 -53,-48.5 -56.2,-44.2 -58.9,-39.6 -61,-34.8 -62.7,-29.8 -63.9,-24.7 -64.8,-19.7 -65.4,-14.7 -65.8,-9.8 -66,-4.9 -66.1,0 -66.1,4.9 -66,9.8 -65.8,14.8 -65.3,19.9 -64.6,25 -63.5,30.1 -62,35.3 -60,40.3 -57.4,45.1 -54.2,49.5 -50.3,53.5 -46,56.9 -41.2,59.6 -36.2,61.8 -31,63.5 -25.8,64.7 -20.5,65.6 -15.3,66.2 -10.2,66.6 -5.1,66.8 0,66.9 5.1,66.9 10.2,66.8 15.4,66.6 20.7,66.1 26,65.4 31.4,64.3 36.7,62.7 41.9,60.7 46.9,58 51.4,54.7 55.4,50.7 58.8,46.2 61.5,41.3 63.6,36.2 65.1,30.9 66.2,25.6 67,20.4 67.5,15.2 67.7,10.1 67.8,5Z"/>
<path fill="#00cbff" d="M65.4,0 65.3,-4.8 65.1,-9.7 64.7,-14.6 64.1,-19.5 63.2,-24.5 62,-29.4 60.3,-34.3 58.1,-39.1 55.4,-43.6 52.1,-47.7 48.3,-51.3 44,-54.4 39.3,-56.8 34.4,-58.8 29.4,-60.3 24.4,-61.4 19.4,-62.1 14.5,-62.6 9.6,-62.8 4.8,-62.9 0,-62.9 -4.8,-62.8 -9.6,-62.6 -14.4,-62.2 -19.3,-61.6 -24.2,-60.8 -29.1,-59.6 -34,-58 -38.7,-56 -43.2,-53.4 -47.3,-50.3 -51,-46.7 -54.2,-42.6 -56.8,-38.2 -58.9,-33.5 -60.5,-28.7 -61.7,-23.9 -62.6,-19 -63.2,-14.2 -63.6,-9.4 -63.8,-4.7 -63.9,0 -63.9,4.7 -63.8,9.5 -63.6,14.3 -63.1,19.2 -62.3,24.1 -61.3,29.1 -59.8,34 -57.8,38.8 -55.3,43.4 -52.1,47.7 -48.5,51.5 -44.3,54.7 -39.7,57.4 -34.9,59.6 -29.9,61.2 -24.9,62.4 -19.8,63.3 -14.8,63.9 -9.8,64.3 -4.9,64.5 0,64.6 4.9,64.6 9.9,64.6 14.9,64.3 20,63.8 25.1,63.1 30.3,62 35.4,60.4 40.4,58.4 45.1,55.8 49.5,52.6 53.3,48.8 56.6,44.5 59.2,39.8 61.3,34.9 62.8,29.8 63.9,24.7 64.7,19.7 65.1,14.7 65.4,9.7 65.5,4.8Z"/>
<path fill="#00b9ff" d="M63,0 62.9,-4.9 62.6,-9.8 62.2,-14.7 61.5,-19.7 60.5,-24.7 59.1,-29.7 57.2,-34.6 54.8,-39.2 51.8,-43.6 48.2,-47.5 44.1,-50.9 39.5,-53.7 34.7,-55.9 29.7,-57.6 24.7,-58.8 19.6,-59.6 14.6,-60.2 9.7,-60.5 4.8,-60.6 0,-60.6 -4.8,-60.5 -9.7,-60.2 -14.6,-59.8 -19.5,-59.2 -24.5,-58.2 -29.4,-56.9 -34.3,-55.1 -38.9,-52.8 -43.3,-50 -47.3,-46.6 -50.7,-42.7 -53.6,-38.4 -55.9,-33.8 -57.7,-29 -59.1,-24.1 -60.1,-19.2 -60.7,-14.4 -61.2,-9.6 -61.4,-4.8 -61.5,0 -61.5,4.8 -61.4,9.6 -61.1,14.5 -60.6,19.4 -59.7,24.4 -58.5,29.4 -56.8,34.3 -54.6,39.1 -51.7,43.6 -48.3,47.6 -44.3,51.2 -39.9,54.1 -35.1,56.5 -30.2,58.4 -25.1,59.8 -20,60.8 -15,61.4 -9.9,61.9 -5,62.1 0,62.2 5,62.2 10,62.1 15,61.8 20.2,61.3 25.4,60.4 30.6,59.1 35.7,57.4 40.6,55.1 45.2,52.2 49.3,48.7 52.9,44.6 55.8,40 58.2,35.1 59.9,30.1 61.2,25 62.1,19.9 62.6,14.8 62.9,9.8 63,4.9Z"/>
<path fill="#00a6ff" d="M60.3,0 60.2,-4.7 60,-9.4 59.6,-14.1 58.9,-18.9 57.9,-23.6 56.5,-28.4 54.7,-33 52.3,-37.5 49.5,-41.6 46,-45.4 42.1,-48.6 37.8,-51.3 33.2,-53.4 28.5,-55.1 23.6,-56.3 18.8,-57.1 14,-57.7 9.3,-58 4.6,-58.1 0,-58.1 -4.6,-58 -9.3,-57.7 -14,-57.3 -18.7,-56.7 -23.4,-55.8 -28.1,-54.5 -32.8,-52.7 -37.2,-50.5 -41.4,-47.8 -45.2,-44.5 -48.5,-40.8 -51.2,-36.7 -53.5,-32.3 -55.3,-27.8 -56.6,-23.1 -57.6,-18.4 -58.2,-13.8 -58.6,-9.2 -58.9,-4.6 -59,0 -59,4.6 -58.9,9.2 -58.6,13.9 -58,18.6 -57.2,23.3 -56,28.1 -54.3,32.8 -52.1,37.3 -49.4,41.6 -46.1,45.5 -42.3,48.9 -38.1,51.7 -33.6,54 -28.9,55.8 -24,57.2 -19.2,58.2 -14.3,58.8 -9.5,59.3 -4.7,59.5 0,59.6 4.8,59.6 9.6,59.5 14.4,59.2 19.3,58.6 24.3,57.8 29.2,56.5 34.1,54.8 38.8,52.6 43.1,49.8 47.1,46.4 50.5,42.5 53.3,38.2 55.6,33.6 57.3,28.8 58.5,23.9 59.4,19 60,14.2 60.3,9.4 60.4,4.7Z"/>
<path fill="#0094ff" d="M57.5,0 57.4,-4.7 57.1,-9.4 56.7,-14.1 55.9,-18.9 54.8,-23.7 53.2,-28.4 51.2,-33 48.6,-37.3 45.5,-41.3 41.8,-44.8 37.7,-47.7 33.2,-50.1 28.5,-51.9 23.7,-53.3 18.9,-54.3 14.1,-54.9 9.3,-55.2 4.7,-55.4 0,-55.4 -4.6,-55.3 -9.3,-55 -14,-54.6 -18.8,-53.9 -23.5,-52.8 -28.2,-51.4 -32.8,-49.4 -37.1,-47 -41.1,-44 -44.6,-40.5 -47.7,-36.6 -50.2,-32.3 -52.1,-27.8 -53.6,-23.2 -54.7,-18.5 -55.4,-13.8 -55.9,-9.2 -56.1,-4.6 -56.2,0 -56.2,4.6 -56.1,9.2 -55.7,13.9 -55.1,18.7 -54.2,23.4 -52.8,28.2 -50.9,32.8 -48.5,37.2 -45.5,41.3 -42,44.9 -37.9,48 -33.5,50.6 -28.9,52.6 -24.1,54.1 -19.2,55.2 -14.4,56 -9.5,56.4 -4.8,56.7 0,56.8 4.8,56.8 9.6,56.6 14.5,56.3 19.4,55.7 24.3,54.7 29.2,53.3 34,51.3 38.6,48.9 42.7,45.8 46.4,42.1 49.5,38 52,33.5 54,28.8 55.4,24 56.4,19.1 57,14.2 57.4,9.4 57.5,4.7Z"/>
<path fill="#0082ff" d="M54.4,0 54.3,-4.7 54,-9.4 53.5,-14.1 52.6,-18.9 51.4,-23.6 49.7,-28.3 47.4,-32.8 44.6,-36.9 41.2,-40.7 37.3,-43.9 33,-46.5 28.4,-48.5 23.7,-50.1 18.9,-51.2 14.1,-51.9 9.3,-52.3 4.7,-52.4 0,-52.4 -4.6,-52.3 -9.3,-52.1 -14,-51.6 -18.7,-50.8 -23.5,-49.6 -28.1,-48 -32.6,-45.9 -36.8,-43.2 -40.5,-40 -43.8,-36.2 -46.5,-32.1 -48.7,-27.7 -50.3,-23.1 -51.5,-18.5 -52.4,-13.8 -52.9,-9.2 -53.1,-4.6 -53.2,0 -53.2,4.6 -53.1,9.2 -52.7,13.9 -52,18.7 -50.9,23.4 -49.3,28.1 -47.2,32.6 -44.6,36.9 -41.3,40.7 -37.5,44.1 -33.3,46.9 -28.7,49.1 -24,50.8 -19.2,52 -14.4,52.8 -9.5,53.3 -4.8,53.6 0,53.7 4.8,53.7 9.6,53.6 14.4,53.1 19.4,52.4 24.3,51.3 29.1,49.7 33.8,47.6 38.2,44.8 42.1,41.5 45.5,37.6 48.2,33.3 50.4,28.7 52,23.9 53.1,19.1 53.9,14.2 54.3,9.4 54.4,4.7Z"/>
<path fill="#0070ff" d="M51,0 50.9,-4.4 50.7,-8.8 50.2,-13.3 49.3,-17.7 48.1,-22.1 46.5,-26.5 44.4,-30.6 41.7,-34.5 38.6,-38 34.9,-41 30.9,-43.5 26.6,-45.5 22.2,-46.9 17.7,-48 13.2,-48.7 8.8,-49.1 4.4,-49.2 0,-49.2 -4.4,-49.2 -8.7,-48.9 -13.2,-48.4 -17.6,-47.6 -22,-46.5 -26.3,-45 -30.5,-43 -34.4,-40.4 -37.9,-37.4 -41,-33.9 -43.6,-30.1 -45.6,-26 -47.2,-21.7 -48.4,-17.4 -49.1,-13 -49.6,-8.6 -49.9,-4.3 -50,0 -50,4.3 -49.8,8.7 -49.4,13.1 -48.7,17.5 -47.7,21.9 -46.2,26.3 -44.2,30.5 -41.7,34.5 -38.6,38.1 -35.1,41.2 -31.1,43.8 -26.9,45.9 -22.5,47.6 -18,48.7 -13.5,49.5 -8.9,50 -4.5,50.3 0,50.4 4.5,50.4 9,50.2 13.5,49.8 18.1,49.1 22.7,48 27.2,46.5 31.6,44.5 35.6,41.9 39.3,38.8 42.5,35.1 45.1,31.1 47.1,26.8 48.7,22.4 49.8,17.9 50.5,13.3 50.9,8.8 51,4.4Z"/>
<path fill="#005eff" d="M47.3,0 47.2,-4.3 46.9,-8.7 46.4,-13 45.5,-17.4 44.2,-21.7 42.4,-25.9 40.1,-29.9 37.3,-33.5 33.9,-36.7 30.1,-39.4 26.1,-41.5 21.8,-43.1 17.4,-44.3 13,-45.1 8.6,-45.5 4.3,-45.7 0,-45.7 -4.3,-45.6 -8.6,-45.4 -12.9,-44.8 -17.3,-44 -21.6,-42.7 -25.8,-41.1 -29.8,-38.9 -33.4,-36.2 -36.7,-33 -39.4,-29.4 -41.7,-25.4 -43.4,-21.3 -44.6,-17 -45.5,-12.8 -46,-8.5 -46.3,-4.2 -46.4,0 -46.4,4.2 -46.2,8.5 -45.8,12.8 -45,17.2 -43.8,21.5 -42.2,25.7 -40,29.8 -37.3,33.5 -34,36.8 -30.3,39.6 -26.3,41.9 -22,43.6 -17.6,44.9 -13.2,45.8 -8.8,46.3 -4.4,46.6 0,46.7 4.4,46.7 8.8,46.5 13.3,46.1 17.8,45.3 22.2,44.1 26.6,42.4 30.7,40.1 34.5,37.4 37.9,34.1 40.7,30.3 43,26.2 44.7,21.9 45.9,17.5 46.7,13.1 47.1,8.7 47.3,4.3Z"/>
<path fill="#004bff" d="M43.2,0 43.1,-4.2 42.8,-8.4 42.2,-12.6 41.2,-16.8 39.8,-21 37.9,-24.9 35.4,-28.7 32.4,-32 29,-34.8 25.2,-37.1 21.1,-38.9 16.9,-40.2 12.6,-41 8.4,-41.5 4.2,-41.8 0,-41.8 -4.2,-41.7 -8.4,-41.4 -12.6,-40.8 -16.8,-39.9 -20.9,-38.6 -24.9,-36.7 -28.6,-34.4 -32,-31.5 -34.9,-28.2 -37.3,-24.5 -39.1,-20.6 -40.5,-16.5 -41.4,-12.4 -42,-8.2 -42.3,-4.1 -42.4,0 -42.4,4.1 -42.2,8.3 -41.7,12.5 -40.8,16.7 -39.5,20.8 -37.7,24.8 -35.4,28.6 -32.5,32 -29.1,35 -25.3,37.4 -21.3,39.3 -17.1,40.7 -12.8,41.6 -8.5,42.2 -4.2,42.5 0,42.6 4.3,42.6 8.6,42.4 12.9,41.9 17.2,41 21.5,39.7 25.6,37.8 29.5,35.4 33,32.5 35.9,29.1 38.3,25.3 40.2,21.2 41.5,17 42.4,12.7 42.9,8.4 43.2,4.2Z"/>
<path fill="#0039ff" d="M38.5,0 38.4,-4 38,-8 37.4,-12 36.4,-16 34.9,-19.8 32.8,-23.5 30.3,-26.9 27.2,-29.8 23.8,-32.2 20,-34.1 16,-35.5 12,-36.5 8,-37 4,-37.3 0,-37.3 -4,-37.2 -8,-36.9 -12,-36.3 -15.9,-35.3 -19.8,-33.8 -23.5,-31.9 -26.9,-29.5 -29.9,-26.5 -32.4,-23.2 -34.3,-19.5 -35.8,-15.7 -36.8,-11.8 -37.4,-7.8 -37.8,-3.9 -37.9,0 -37.8,3.9 -37.6,7.9 -37,11.9 -36.1,15.8 -34.7,19.7 -32.7,23.5 -30.3,26.9 -27.3,29.9 -23.9,32.4 -20.2,34.4 -16.2,35.9 -12.2,36.9 -8.1,37.6 -4,37.9 0,38 4,37.9 8.1,37.7 12.2,37.1 16.3,36.2 20.3,34.7 24.2,32.8 27.6,30.3 30.7,27.3 33.2,23.8 35.2,20 36.7,16.1 37.6,12.1 38.2,8 38.5,4Z"/>
<path fill="#0027ff" d="M33,0 32.9,-3.7 32.5,-7.3 31.9,-11 30.8,-14.6 29.2,-18.1 27.2,-21.4 24.6,-24.3 21.6,-26.7 18.3,-28.7 14.7,-30.1 11,-31.1 7.3,-31.7 3.7,-32 0,-32 -3.6,-31.9 -7.3,-31.6 -11,-31 -14.6,-29.9 -18.1,-28.5 -21.4,-26.5 -24.4,-24 -26.9,-21.1 -28.9,-17.9 -30.4,-14.4 -31.4,-10.8 -32.1,-7.2 -32.4,-3.6 -32.5,0 -32.5,3.6 -32.2,7.2 -31.6,10.9 -30.6,14.5 -29.1,18 -27.1,21.3 -24.6,24.3 -21.7,26.8 -18.4,28.9 -14.8,30.4 -11.2,31.4 -7.4,32.1 -3.7,32.4 0,32.5 3.7,32.5 7.5,32.2 11.2,31.6 14.9,30.6 18.5,29.1 21.9,27.1 24.9,24.6 27.5,21.6 29.5,18.3 31,14.7 32,11.1 32.6,7.3 32.9,3.7Z"/>
<path fill="#0011ff" d="M26.1,0 26,-3.4 25.6,-6.8 24.8,-10.1 23.6,-13.4 21.8,-16.5 19.5,-19.2 16.7,-21.4 13.5,-23.1 10.2,-24.3 6.8,-25 3.4,-25.4 0,-25.4 -3.4,-25.3 -6.8,-25 -10.2,-24.2 -13.5,-23 -16.6,-21.3 -19.3,-19 -21.6,-16.3 -23.3,-13.3 -24.6,-10 -25.3,-6.7 -25.7,-3.3 -25.8,0 -25.8,3.3 -25.4,6.7 -24.7,10.1 -23.5,13.4 -21.8,16.5 -19.5,19.2 -16.7,21.5 -13.6,23.3 -10.3,24.5 -6.9,25.3 -3.4,25.7 0,25.8 3.4,25.7 6.9,25.4 10.3,24.6 13.7,23.4 16.9,21.7 19.7,19.4 22,16.6 23.7,13.5 25,10.2 25.7,6.8 26.1,3.4Z"/>
</g></g>
<path d="M186.7,232.8 V394.3 H27" fill="none" stroke="#10e010" stroke-width="1.3"/>
<rect x="26.9" y="232.7" width="158.8" height="160.6" fill="none" stroke="#000" stroke-opacity="0.5" stroke-width="0.7"/>
<path d="M44.76,393.9v-3M27.3,376.44h3M62.51,393.9v-1.6M27.3,358.49h1.6M80.27,393.9v-3M27.3,340.53h3M98.02,393.9v-1.6M27.3,322.58h1.6M115.78,393.9v-3M27.3,304.62h3M133.53,393.9v-1.6M27.3,286.67h1.6M151.29,393.9v-3M27.3,268.71h3M169.04,393.9v-1.6M27.3,250.76h1.6" stroke="#111" stroke-width="0.7" fill="none"/>
<text x="45.16" y="405" class="t" font-size="7.7" text-anchor="middle">2</text>
<text x="24" y="379.84" class="t" font-size="7.7" text-anchor="end">2</text>
<text x="80.67" y="405" class="t" font-size="7.7" text-anchor="middle">4</text>
<text x="24" y="343.93" class="t" font-size="7.7" text-anchor="end">4</text>
<text x="116.18" y="405" class="t" font-size="7.7" text-anchor="middle">6</text>
<text x="24" y="308.02" class="t" font-size="7.7" text-anchor="end">6</text>
<text x="151.69" y="405" class="t" font-size="7.7" text-anchor="middle">8</text>
<text x="24" y="272.11" class="t" font-size="7.7" text-anchor="end">8</text>
<text x="187.2" y="405" class="t" font-size="7.7" text-anchor="middle">10</text>
<text x="24" y="236.2" class="t" font-size="7.7" text-anchor="end">10</text>
<rect x="193.5" y="235.2" width="16.6" height="155.6" fill="#000"/>
<rect x="194.9" y="236.20" width="13.8" height="153.10" fill="#ff0800"/>
<rect x="194.9" y="238.59" width="13.8" height="150.71" fill="#ff1800"/>
<rect x="194.9" y="240.98" width="13.8" height="148.32" fill="#ff2800"/>
<rect x="194.9" y="243.38" width="13.8" height="145.92" fill="#ff3800"/>
<rect x="194.9" y="245.77" width="13.8" height="143.53" fill="#ff4800"/>
<rect x="194.9" y="248.16" width="13.8" height="141.14" fill="#ff5800"/>
<rect x="194.9" y="250.55" width="13.8" height="138.75" fill="#ff6800"/>
<rect x="194.9" y="252.95" width="13.8" height="136.35" fill="#ff7800"/>
<rect x="194.9" y="255.34" width="13.8" height="133.96" fill="#ff8700"/>
<rect x="194.9" y="257.73" width="13.8" height="131.57" fill="#ff9700"/>
<rect x="194.9" y="260.12" width="13.8" height="129.18" fill="#ffa700"/>
<rect x="194.9" y="262.51" width="13.8" height="126.79" fill="#ffb700"/>
<rect x="194.9" y="264.91" width="13.8" height="124.39" fill="#ffc700"/>
<rect x="194.9" y="267.30" width="13.8" height="122.00" fill="#ffd700"/>
<rect x="194.9" y="269.69" width="13.8" height="119.61" fill="#ffe700"/>
<rect x="194.9" y="272.08" width="13.8" height="117.22" fill="#fff700"/>
<rect x="194.9" y="274.48" width="13.8" height="114.82" fill="#f7ff00"/>
<rect x="194.9" y="276.87" width="13.8" height="112.43" fill="#e7ff00"/>
<rect x="194.9" y="279.26" width="13.8" height="110.04" fill="#d7ff00"/>
<rect x="194.9" y="281.65" width="13.8" height="107.65" fill="#c7ff00"/>
<rect x="194.9" y="284.04" width="13.8" height="105.26" fill="#b7ff00"/>
<rect x="194.9" y="286.44" width="13.8" height="102.86" fill="#a7ff00"/>
<rect x="194.9" y="288.83" width="13.8" height="100.47" fill="#97ff00"/>
<rect x="194.9" y="291.22" width="13.8" height="98.08" fill="#00ff00"/>
<rect x="194.9" y="293.61" width="13.8" height="95.69" fill="#00ff00"/>
<rect x="194.9" y="296.00" width="13.8" height="93.30" fill="#00ff00"/>
<rect x="194.9" y="298.40" width="13.8" height="90.90" fill="#00ff00"/>
<rect x="194.9" y="300.79" width="13.8" height="88.51" fill="#00ff00"/>
<rect x="194.9" y="303.18" width="13.8" height="86.12" fill="#00ff00"/>
<rect x="194.9" y="305.57" width="13.8" height="83.73" fill="#00ff00"/>
<rect x="194.9" y="307.97" width="13.8" height="81.33" fill="#00ff00"/>
<rect x="194.9" y="310.36" width="13.8" height="78.94" fill="#00ff00"/>
<rect x="194.9" y="312.75" width="13.8" height="76.55" fill="#00ff08"/>
<rect x="194.9" y="315.14" width="13.8" height="74.16" fill="#00ff18"/>
<rect x="194.9" y="317.53" width="13.8" height="71.77" fill="#00ff28"/>
<rect x="194.9" y="319.93" width="13.8" height="69.37" fill="#00ff38"/>
<rect x="194.9" y="322.32" width="13.8" height="66.98" fill="#00ff48"/>
<rect x="194.9" y="324.71" width="13.8" height="64.59" fill="#00ff58"/>
<rect x="194.9" y="327.10" width="13.8" height="62.20" fill="#00ff68"/>
<rect x="194.9" y="329.50" width="13.8" height="59.80" fill="#00ff78"/>
<rect x="194.9" y="331.89" width="13.8" height="57.41" fill="#00ff87"/>
<rect x="194.9" y="334.28" width="13.8" height="55.02" fill="#00ff97"/>
<rect x="194.9" y="336.67" width="13.8" height="52.63" fill="#00ffa7"/>
<rect x="194.9" y="339.06" width="13.8" height="50.24" fill="#00ffb7"/>
<rect x="194.9" y="341.46" width="13.8" height="47.84" fill="#00ffc7"/>
<rect x="194.9" y="343.85" width="13.8" height="45.45" fill="#00ffd7"/>
<rect x="194.9" y="346.24" width="13.8" height="43.06" fill="#00ffe7"/>
<rect x="194.9" y="348.63" width="13.8" height="40.67" fill="#00fff7"/>
<rect x="194.9" y="351.02" width="13.8" height="38.28" fill="#00f7ff"/>
<rect x="194.9" y="353.42" width="13.8" height="35.88" fill="#00e7ff"/>
<rect x="194.9" y="355.81" width="13.8" height="33.49" fill="#00d7ff"/>
<rect x="194.9" y="358.20" width="13.8" height="31.10" fill="#00c7ff"/>
<rect x="194.9" y="360.59" width="13.8" height="28.71" fill="#00b7ff"/>
<rect x="194.9" y="362.99" width="13.8" height="26.31" fill="#00a7ff"/>
<rect x="194.9" y="365.38" width="13.8" height="23.92" fill="#0097ff"/>
<rect x="194.9" y="367.77" width="13.8" height="21.53" fill="#0087ff"/>
<rect x="194.9" y="370.16" width="13.8" height="19.14" fill="#0078ff"/>
<rect x="194.9" y="372.55" width="13.8" height="16.75" fill="#0068ff"/>
<rect x="194.9" y="374.95" width="13.8" height="14.35" fill="#0058ff"/>
<rect x="194.9" y="377.34" width="13.8" height="11.96" fill="#0048ff"/>
<rect x="194.9" y="379.73" width="13.8" height="9.57" fill="#0038ff"/>
<rect x="194.9" y="382.12" width="13.8" height="7.18" fill="#0028ff"/>
<rect x="194.9" y="384.52" width="13.8" height="4.78" fill="#0018ff"/>
<rect x="194.9" y="386.91" width="13.8" height="2.39" fill="#0008ff"/>
<text class="t" x="212.1" y="238.60" font-size="7.7">0.<tspan dx="1.9">900308</tspan></text>
<path d="M208.7,255.07h-3.2" stroke="#111" stroke-width="0.8"/>
<text class="t" x="212.1" y="257.88" font-size="7.7">0.<tspan dx="1.9">900305</tspan></text>
<path d="M208.7,274.35h-3.2" stroke="#111" stroke-width="0.8"/>
<text class="t" x="212.1" y="277.15" font-size="7.7">0.<tspan dx="1.9">900302</tspan></text>
<path d="M208.7,293.62h-3.2" stroke="#111" stroke-width="0.8"/>
<text class="t" x="212.1" y="296.43" font-size="7.7">0.<tspan dx="1.9">900299</tspan></text>
<path d="M208.7,312.90h-3.2" stroke="#111" stroke-width="0.8"/>
<text class="t" x="212.1" y="315.70" font-size="7.7">0.<tspan dx="1.9">900297</tspan></text>
<path d="M208.7,332.18h-3.2" stroke="#111" stroke-width="0.8"/>
<text class="t" x="212.1" y="334.98" font-size="7.7">0.<tspan dx="1.9">900294</tspan></text>
<path d="M208.7,351.45h-3.2" stroke="#111" stroke-width="0.8"/>
<text class="t" x="212.1" y="354.25" font-size="7.7">0.<tspan dx="1.9">900291</tspan></text>
<path d="M208.7,370.73h-3.2" stroke="#111" stroke-width="0.8"/>
<text class="t" x="212.1" y="373.53" font-size="7.7">0.<tspan dx="1.9">900288</tspan></text>
<text class="t" x="212.1" y="392.80" font-size="7.7">0.<tspan dx="1.9">900285</tspan></text>
<text x="87.9" y="226.7" font-size="9.84">Magnetic charge density grade(Wb/mm<tspan dy="-4.1" font-size="6.69">2</tspan><tspan dy="4.1">)</tspan></text>
<text x="60.3" y="415.3" font-size="9.84">Defect width D<tspan dy="2" font-size="6.39">y</tspan><tspan dy="-2">(mm)</tspan></text>
<text transform="translate(14,322.2) rotate(-90)" font-size="10" text-anchor="middle">Defect depth D<tspan dy="2" font-size="6.4">z</tspan><tspan dy="-2">(mm)</tspan></text>
<text x="71.2" y="435" font-size="14.8">(d)30Mpa</text>
<g clip-path="url(#cpe)">
<rect x="265.7" y="237.5" width="156" height="161.7" fill="#00ff89"/>
<g transform="translate(344.2,316.35)">
<path fill="#00ff9b" d="M81.5,0 81.5,-4.6 81.5,-9.3 81.5,-14 81.5,-18.8 81.5,-23.7 81.5,-28.8 81.5,-34.1 81.5,-39.7 81.5,-45.5 81.5,-51.8 81.5,-58.4 81.5,-65.7 81.5,-73.6 79.9,-80.7 74.9,-84.6 67.7,-85.8 60.3,-85.8 53.4,-85.8 46.9,-85.8 40.9,-85.8 35.2,-85.8 29.7,-85.8 24.5,-85.8 19.4,-85.8 14.4,-85.8 9.6,-85.8 4.8,-85.8 0,-85.8 -4.8,-85.8 -9.6,-85.8 -14.4,-85.8 -19.4,-85.8 -24.5,-85.8 -29.7,-85.8 -35.2,-85.8 -40.9,-85.8 -46.9,-85.8 -53.4,-85.8 -60.3,-85.8 -67.7,-85.8 -73.1,-82.7 -77.9,-78.7 -81.5,-73.6 -81.5,-65.7 -81.5,-58.4 -81.5,-51.8 -81.5,-45.5 -81.5,-39.7 -81.5,-34.1 -81.5,-28.8 -81.5,-23.7 -81.5,-18.8 -81.5,-14 -81.5,-9.3 -81.5,-4.6 -81.5,0 -81.5,4.6 -81.5,9.3 -81.5,14 -81.5,18.8 -81.5,23.7 -81.5,28.8 -81.5,34.1 -81.5,39.7 -81.5,45.5 -81.5,51.8 -81.5,58.4 -81.5,65.7 -81.5,73.6 -80.1,80.9 -75.3,85.2 -67.7,85.8 -60.3,85.8 -53.4,85.8 -46.9,85.8 -40.9,85.8 -35.2,85.8 -29.7,85.8 -24.5,85.8 -19.4,85.8 -14.4,85.8 -9.6,85.8 -4.8,85.8 0,85.8 4.8,85.8 9.6,85.8 14.4,85.8 19.4,85.8 24.5,85.8 29.7,85.8 35.2,85.8 40.9,85.8 46.9,85.8 53.4,85.8 60.3,85.8 67.7,85.8 75.9,85.8 81.5,82.4 81.5,73.6 81.5,65.7 81.5,58.4 81.5,51.8 81.5,45.5 81.5,39.7 81.5,34.1 81.5,28.8 81.5,23.7 81.5,18.8 81.5,14 81.5,9.3 81.5,4.6Z"/>
<path fill="#00ffad" d="M81.5,0 81.5,-4.6 81.5,-9.3 81.5,-14 81.5,-18.8 81.5,-23.7 81.5,-28.8 81.5,-34.1 81.5,-39.7 81.5,-45.5 81.5,-51.8 81.5,-58.4 81.5,-65.7 81.5,-73.6 78.4,-79.2 73.5,-83.1 67.7,-85.8 60.3,-85.8 53.4,-85.8 46.9,-85.8 40.9,-85.8 35.2,-85.8 29.7,-85.8 24.5,-85.8 19.4,-85.8 14.4,-85.8 9.6,-85.8 4.8,-85.8 0,-85.8 -4.8,-85.8 -9.6,-85.8 -14.4,-85.8 -19.4,-85.8 -24.5,-85.8 -29.7,-85.8 -35.2,-85.8 -40.9,-85.8 -46.9,-85.8 -53.4,-85.8 -60.3,-85.8 -66.6,-84.4 -71.8,-81.2 -76.5,-77.3 -80.4,-72.6 -81.5,-65.7 -81.5,-58.4 -81.5,-51.8 -81.5,-45.5 -81.5,-39.7 -81.5,-34.1 -81.5,-28.8 -81.5,-23.7 -81.5,-18.8 -81.5,-14 -81.5,-9.3 -81.5,-4.6 -81.5,0 -81.5,4.6 -81.5,9.3 -81.5,14 -81.5,18.8 -81.5,23.7 -81.5,28.8 -81.5,34.1 -81.5,39.7 -81.5,45.5 -81.5,51.8 -81.5,58.4 -81.5,65.7 -81.5,73.6 -78.6,79.5 -73.9,83.6 -67.7,85.8 -60.3,85.8 -53.4,85.8 -46.9,85.8 -40.9,85.8 -35.2,85.8 -29.7,85.8 -24.5,85.8 -19.4,85.8 -14.4,85.8 -9.6,85.8 -4.8,85.8 0,85.8 4.8,85.8 9.6,85.8 14.4,85.8 19.4,85.8 24.5,85.8 29.7,85.8 35.2,85.8 40.9,85.8 46.9,85.8 53.4,85.8 60.3,85.8 67.7,85.8 75.9,85.8 80.8,81.7 81.5,73.6 81.5,65.7 81.5,58.4 81.5,51.8 81.5,45.5 81.5,39.7 81.5,34.1 81.5,28.8 81.5,23.7 81.5,18.8 81.5,14 81.5,9.3 81.5,4.6Z"/>
<path fill="#00ffbf" d="M81.5,0 81.5,-4.6 81.5,-9.3 81.5,-14 81.5,-18.8 81.5,-23.7 81.5,-28.8 81.5,-34.1 81.5,-39.7 81.5,-45.5 81.5,-51.8 81.5,-58.4 81.5,-65.7 80.9,-73.1 76.9,-77.7 72.1,-81.5 66.7,-84.5 60.3,-85.8 53.4,-85.8 46.9,-85.8 40.9,-85.8 35.2,-85.8 29.7,-85.8 24.5,-85.8 19.4,-85.8 14.4,-85.8 9.6,-85.8 4.8,-85.8 0,-85.8 -4.8,-85.8 -9.6,-85.8 -14.4,-85.8 -19.4,-85.8 -24.5,-85.8 -29.7,-85.8 -35.2,-85.8 -40.9,-85.8 -46.9,-85.8 -53.4,-85.8 -59.8,-85.2 -65.3,-82.8 -70.4,-79.6 -75,-75.8 -78.8,-71.2 -81.5,-65.7 -81.5,-58.4 -81.5,-51.8 -81.5,-45.5 -81.5,-39.7 -81.5,-34.1 -81.5,-28.8 -81.5,-23.7 -81.5,-18.8 -81.5,-14 -81.5,-9.3 -81.5,-4.6 -81.5,0 -81.5,4.6 -81.5,9.3 -81.5,14 -81.5,18.8 -81.5,23.7 -81.5,28.8 -81.5,34.1 -81.5,39.7 -81.5,45.5 -81.5,51.8 -81.5,58.4 -81.5,65.7 -80.9,73 -77.1,77.9 -72.5,82 -67.3,85.2 -60.3,85.8 -53.4,85.8 -46.9,85.8 -40.9,85.8 -35.2,85.8 -29.7,85.8 -24.5,85.8 -19.4,85.8 -14.4,85.8 -9.6,85.8 -4.8,85.8 0,85.8 4.8,85.8 9.6,85.8 14.4,85.8 19.4,85.8 24.5,85.8 29.7,85.8 35.2,85.8 40.9,85.8 46.9,85.8 53.4,85.8 60.3,85.8 67.7,85.8 74.4,84.1 79.3,80.1 81.5,73.6 81.5,65.7 81.5,58.4 81.5,51.8 81.5,45.5 81.5,39.7 81.5,34.1 81.5,28.8 81.5,23.7 81.5,18.8 81.5,14 81.5,9.3 81.5,4.6Z"/>
<path fill="#00ffd1" d="M81.5,0 81.5,-4.8 81.5,-9.6 81.5,-14.5 81.5,-19.5 81.5,-24.7 81.5,-30 81.5,-35.5 81.5,-41.4 81.5,-47.6 81.5,-54.2 81.5,-61.3 81.1,-68.7 77.4,-73.8 72.9,-78.1 67.7,-81.5 62,-84.2 55.9,-85.8 49,-85.8 42.7,-85.8 36.6,-85.8 30.9,-85.8 25.4,-85.8 20.1,-85.8 15,-85.8 9.9,-85.8 4.9,-85.8 0,-85.8 -4.9,-85.8 -9.9,-85.8 -15,-85.8 -20.1,-85.8 -25.4,-85.8 -30.9,-85.8 -36.6,-85.8 -42.7,-85.8 -49,-85.8 -55.1,-84.7 -60.8,-82.6 -66.2,-79.8 -71.2,-76.2 -75.4,-71.9 -79,-67 -81.5,-61.3 -81.5,-54.2 -81.5,-47.6 -81.5,-41.4 -81.5,-35.5 -81.5,-30 -81.5,-24.7 -81.5,-19.5 -81.5,-14.5 -81.5,-9.6 -81.5,-4.8 -81.5,0 -81.5,4.8 -81.5,9.6 -81.5,14.5 -81.5,19.5 -81.5,24.7 -81.5,30 -81.5,35.5 -81.5,41.4 -81.5,47.6 -81.5,54.2 -81.5,61.3 -80.9,68.6 -77.5,73.9 -73.2,78.4 -68.2,82.2 -62.7,85.1 -55.9,85.8 -49,85.8 -42.7,85.8 -36.6,85.8 -30.9,85.8 -25.4,85.8 -20.1,85.8 -15,85.8 -9.9,85.8 -4.9,85.8 0,85.8 4.9,85.8 9.9,85.8 15,85.8 20.1,85.8 25.4,85.8 30.9,85.8 36.6,85.8 42.7,85.8 49,85.8 55.9,85.8 63.2,85.8 69.9,84.2 75.2,80.6 79.7,76 81.5,69.1 81.5,61.3 81.5,54.2 81.5,47.6 81.5,41.4 81.5,35.5 81.5,30 81.5,24.7 81.5,19.5 81.5,14.5 81.5,9.6 81.5,4.8Z"/>
<path fill="#00ffe4" d="M81.5,0 81.5,-4.8 81.5,-9.6 81.5,-14.5 81.5,-19.5 81.5,-24.7 81.5,-30 81.5,-35.5 81.5,-41.4 81.5,-47.6 81.5,-54.2 81.5,-61.3 79.3,-67.2 75.6,-72.1 71.2,-76.3 66.2,-79.7 60.7,-82.4 54.9,-84.4 49,-85.8 42.7,-85.8 36.6,-85.8 30.9,-85.8 25.4,-85.8 20.1,-85.8 15,-85.8 9.9,-85.8 4.9,-85.8 0,-85.8 -4.9,-85.8 -9.9,-85.8 -15,-85.8 -20.1,-85.8 -25.4,-85.8 -30.9,-85.8 -36.6,-85.8 -42.6,-85.8 -48.3,-84.6 -54,-82.9 -59.5,-80.8 -64.8,-78 -69.6,-74.5 -73.7,-70.3 -77.2,-65.5 -79.9,-60.2 -81.5,-54.2 -81.5,-47.6 -81.5,-41.4 -81.5,-35.5 -81.5,-30 -81.5,-24.7 -81.5,-19.5 -81.5,-14.5 -81.5,-9.6 -81.5,-4.8 -81.5,0 -81.5,4.8 -81.5,9.6 -81.5,14.5 -81.5,19.5 -81.5,24.7 -81.5,30 -81.5,35.5 -81.5,41.4 -81.5,47.6 -81.5,54.2 -81.5,61.3 -79.1,67.1 -75.7,72.2 -71.6,76.7 -66.7,80.3 -61.3,83.2 -55.6,85.4 -49,85.8 -42.7,85.8 -36.6,85.8 -30.9,85.8 -25.4,85.8 -20.1,85.8 -15,85.8 -9.9,85.8 -4.9,85.8 0,85.8 4.9,85.8 9.9,85.8 15,85.8 20.1,85.8 25.4,85.8 30.9,85.8 36.6,85.8 42.7,85.8 49,85.8 55.9,85.8 62.7,85.1 68.4,82.3 73.5,78.7 77.9,74.3 81.4,69.1 81.5,61.3 81.5,54.2 81.5,47.6 81.5,41.4 81.5,35.5 81.5,30 81.5,24.7 81.5,19.5 81.5,14.5 81.5,9.6 81.5,4.8Z"/>
<path fill="#00fff6" d="M81.5,0 81.5,-5 81.5,-10 81.5,-15.1 81.5,-20.3 81.5,-25.7 81.5,-31.2 81.5,-37.1 81.5,-43.2 81.5,-49.8 81.5,-56.9 79,-62.6 75.8,-67.8 71.7,-72.5 66.9,-76.3 61.5,-79.4 55.8,-81.7 49.9,-83.5 44,-84.7 38.1,-85.6 32.2,-85.8 26.5,-85.8 20.9,-85.8 15.6,-85.8 10.3,-85.8 5.1,-85.8 0,-85.8 -5.1,-85.8 -10.3,-85.8 -15.6,-85.8 -20.9,-85.8 -26.5,-85.8 -32.1,-85.5 -37.7,-84.7 -43.4,-83.6 -49.1,-82.1 -54.8,-80.2 -60.3,-77.8 -65.4,-74.6 -70,-70.7 -73.8,-66.1 -77,-60.9 -79.4,-55.4 -81.3,-49.7 -81.5,-43.2 -81.5,-37.1 -81.5,-31.2 -81.5,-25.7 -81.5,-20.3 -81.5,-15.1 -81.5,-10 -81.5,-5 -81.5,0 -81.5,5 -81.5,10 -81.5,15.1 -81.5,20.3 -81.5,25.7 -81.5,31.2 -81.5,37.1 -81.5,43.2 -81.5,49.8 -81.1,56.5 -78.8,62.4 -75.7,67.8 -71.9,72.7 -67.3,76.8 -62.1,80.1 -56.5,82.7 -50.6,84.6 -44.6,85.8 -38.2,85.8 -32.2,85.8 -26.5,85.8 -20.9,85.8 -15.6,85.8 -10.3,85.8 -5.1,85.8 0,85.8 5.1,85.8 10.3,85.8 15.6,85.8 20.9,85.8 26.5,85.8 32.2,85.8 38.2,85.8 44.6,85.8 51.4,85.8 57.6,84.4 63.5,82 69.1,78.8 73.9,74.7 77.9,69.8 81.1,64.2 81.5,56.9 81.5,49.8 81.5,43.2 81.5,37.1 81.5,31.2 81.5,25.7 81.5,20.3 81.5,15.1 81.5,10 81.5,5Z"/>
<path fill="#00f6ff" d="M81.5,0 81.5,-5 81.5,-10 81.5,-15.1 81.5,-20.3 81.5,-25.7 81.5,-31.2 81.5,-37.1 81.5,-43.2 81.5,-49.8 79.5,-55.5 77,-60.9 73.7,-66 69.8,-70.5 65.1,-74.3 59.9,-77.3 54.4,-79.6 48.7,-81.4 42.9,-82.7 37.2,-83.6 31.6,-84.3 26.1,-84.8 20.7,-85.1 15.5,-85.2 10.2,-85.3 5.1,-85.3 0,-85.2 -5.1,-85.2 -10.2,-85 -15.4,-84.8 -20.6,-84.5 -25.9,-84.1 -31.3,-83.5 -36.8,-82.7 -42.4,-81.6 -47.9,-80.1 -53.4,-78.2 -58.7,-75.7 -63.7,-72.6 -68.1,-68.8 -71.9,-64.3 -75,-59.3 -77.4,-54 -79.3,-48.5 -80.8,-42.8 -81.5,-37.1 -81.5,-31.2 -81.5,-25.7 -81.5,-20.3 -81.5,-15.1 -81.5,-10 -81.5,-5 -81.5,0 -81.5,5 -81.5,10 -81.5,15.1 -81.5,20.3 -81.5,25.7 -81.5,31.2 -81.5,37.1 -81.5,43.2 -80.7,49.3 -79,55.1 -76.7,60.7 -73.7,66 -70,70.7 -65.5,74.7 -60.5,78 -55,80.6 -49.4,82.5 -43.6,84 -37.9,85.1 -32.2,85.8 -26.5,85.8 -20.9,85.8 -15.6,85.8 -10.3,85.8 -5.1,85.8 0,85.8 5.1,85.8 10.3,85.8 15.6,85.8 20.9,85.8 26.5,85.8 32.2,85.8 38.2,85.8 44.3,85.3 50.2,84 56.2,82.2 61.9,79.8 67.2,76.7 71.9,72.7 75.8,67.9 78.9,62.5 81.3,56.7 81.5,49.8 81.5,43.2 81.5,37.1 81.5,31.2 81.5,25.7 81.5,20.3 81.5,15.1 81.5,10 81.5,5Z"/>
<path fill="#00e4ff" d="M81.5,0 81.5,-5.2 81.5,-10.4 81.5,-15.7 81.5,-21.1 81.5,-26.8 81.5,-32.6 81.5,-38.8 80.3,-44.6 78.6,-50.4 76.3,-56.1 73.4,-61.4 69.8,-66.2 65.4,-70.4 60.5,-73.9 55,-76.5 49.3,-78.6 43.6,-80.1 37.8,-81.2 32.1,-82 26.5,-82.6 21.1,-82.9 15.7,-83.1 10.4,-83.2 5.2,-83.2 0,-83.2 -5.2,-83.1 -10.4,-83 -15.6,-82.7 -20.9,-82.4 -26.3,-81.9 -31.8,-81.2 -37.4,-80.2 -43,-79 -48.5,-77.3 -54,-75.1 -59.2,-72.3 -63.9,-68.8 -68.1,-64.6 -71.5,-59.8 -74.3,-54.6 -76.5,-49.1 -78.2,-43.4 -79.5,-37.8 -80.4,-32.2 -81.1,-26.6 -81.5,-21.1 -81.5,-15.7 -81.5,-10.4 -81.5,-5.2 -81.5,0 -81.5,5.2 -81.5,10.4 -81.5,15.7 -81.5,21.1 -81.5,26.8 -81.3,32.5 -80.5,38.3 -79.5,44.1 -78,50 -75.9,55.8 -73.3,61.3 -69.9,66.3 -65.7,70.7 -60.9,74.4 -55.6,77.4 -50,79.6 -44.3,81.3 -38.5,82.6 -32.8,83.6 -27.1,84.3 -21.5,84.8 -16.1,85.1 -10.7,85.4 -5.3,85.5 0,85.6 5.3,85.7 10.7,85.7 16.2,85.6 21.7,85.4 27.4,85.1 33.1,84.5 39,83.8 45,82.7 50.9,81.1 56.8,79 62.4,76.2 67.5,72.6 71.9,68.2 75.4,63 78.2,57.4 80.2,51.4 81.5,45.3 81.5,38.8 81.5,32.6 81.5,26.8 81.5,21.1 81.5,15.7 81.5,10.4 81.5,5.2Z"/>
<path fill="#00d1ff" d="M81.5,0 81.5,-5.2 81.5,-10.4 81.5,-15.7 81.4,-21.1 80.9,-26.6 80.2,-32.1 79.2,-37.7 77.9,-43.3 76.2,-48.9 73.9,-54.3 71.1,-59.4 67.5,-64.1 63.3,-68.1 58.5,-71.5 53.3,-74.1 47.8,-76.2 42.3,-77.7 36.7,-78.9 31.2,-79.7 25.8,-80.3 20.5,-80.6 15.3,-80.8 10.1,-80.9 5,-81 0,-80.9 -5,-80.8 -10.1,-80.7 -15.2,-80.5 -20.4,-80.1 -25.6,-79.6 -30.9,-78.9 -36.3,-77.9 -41.7,-76.6 -47.1,-75 -52.3,-72.8 -57.3,-70 -61.9,-66.6 -65.9,-62.5 -69.3,-57.9 -72,-52.9 -74.2,-47.6 -75.9,-42.2 -77.2,-36.7 -78.1,-31.3 -78.8,-25.9 -79.4,-20.6 -79.7,-15.4 -79.9,-10.2 -80.1,-5.1 -80.2,0 -80.2,5.1 -80.2,10.2 -80.1,15.4 -79.9,20.7 -79.6,26.1 -79,31.6 -78.2,37.2 -77.1,42.8 -75.6,48.5 -73.6,54 -70.9,59.3 -67.6,64.2 -63.6,68.4 -59,72 -53.9,74.9 -48.5,77.2 -42.9,78.9 -37.4,80.3 -31.8,81.2 -26.3,82 -21,82.5 -15.6,82.8 -10.4,83.1 -5.2,83.2 0,83.3 5.2,83.4 10.4,83.4 15.7,83.3 21.1,83.1 26.6,82.7 32.2,82.1 37.9,81.3 43.6,80.2 49.4,78.6 55,76.5 60.4,73.8 65.3,70.2 69.5,66 73,61 75.7,55.6 77.8,49.9 79.3,44.1 80.4,38.2 81.2,32.5 81.5,26.8 81.5,21.1 81.5,15.7 81.5,10.4 81.5,5.2Z"/>
<path fill="#00bfff" d="M79.8,0 79.7,-5.3 79.5,-10.6 79.3,-15.9 78.9,-21.4 78.3,-26.8 77.4,-32.4 76.3,-38 74.8,-43.7 72.8,-49.2 70.3,-54.5 67.1,-59.4 63.1,-63.8 58.6,-67.5 53.6,-70.6 48.2,-72.9 42.7,-74.7 37.1,-76 31.6,-77 26.1,-77.6 20.7,-78.1 15.4,-78.4 10.2,-78.5 5.1,-78.5 0,-78.5 -5.1,-78.4 -10.2,-78.2 -15.3,-78 -20.6,-77.6 -25.9,-77 -31.2,-76.2 -36.6,-75.1 -42,-73.6 -47.4,-71.7 -52.5,-69.2 -57.3,-66.1 -61.7,-62.3 -65.4,-58 -68.5,-53.1 -70.9,-47.9 -72.9,-42.5 -74.3,-37 -75.4,-31.6 -76.2,-26.2 -76.8,-20.8 -77.2,-15.5 -77.5,-10.3 -77.6,-5.1 -77.7,0 -77.8,5.2 -77.8,10.3 -77.7,15.6 -77.4,21 -77,26.4 -76.3,32 -75.4,37.6 -74.1,43.2 -72.3,48.8 -70,54.3 -67,59.4 -63.3,64 -59,68 -54.1,71.2 -48.8,73.8 -43.3,75.8 -37.7,77.3 -32.1,78.4 -26.6,79.3 -21.2,79.8 -15.8,80.3 -10.5,80.5 -5.2,80.7 0,80.8 5.2,80.8 10.5,80.8 15.9,80.7 21.3,80.4 26.9,80 32.5,79.4 38.3,78.4 44,77.1 49.7,75.2 55.3,72.8 60.4,69.6 65,65.7 68.9,61 72,55.8 74.4,50.2 76.2,44.5 77.5,38.6 78.5,32.8 79.1,27.1 79.5,21.5 79.8,16 79.9,10.6 79.9,5.3Z"/>
<path fill="#00adff" d="M77.1,0 77,-5.1 76.8,-10.2 76.5,-15.4 76.1,-20.6 75.5,-25.9 74.7,-31.3 73.5,-36.6 72,-42 70,-47.3 67.5,-52.4 64.4,-57.1 60.6,-61.3 56.3,-64.8 51.5,-67.8 46.4,-70.1 41.1,-71.9 35.7,-73.2 30.4,-74.2 25.2,-74.9 20,-75.4 14.9,-75.7 9.9,-75.8 4.9,-75.8 0,-75.8 -4.9,-75.7 -9.8,-75.5 -14.8,-75.3 -19.9,-74.9 -24.9,-74.3 -30.1,-73.5 -35.3,-72.3 -40.5,-70.9 -45.6,-68.9 -50.5,-66.5 -55.1,-63.5 -59.2,-59.9 -62.8,-55.7 -65.8,-51 -68.2,-46.1 -70.2,-40.9 -71.6,-35.7 -72.7,-30.5 -73.6,-25.2 -74.2,-20.1 -74.6,-15 -74.8,-10 -75,-5 -75.1,0 -75.1,5 -75.1,10 -75,15.1 -74.7,20.2 -74.3,25.5 -73.6,30.8 -72.6,36.2 -71.3,41.6 -69.5,47 -67.2,52.1 -64.3,57 -60.8,61.4 -56.6,65.2 -51.9,68.4 -46.9,71 -41.7,72.9 -36.3,74.5 -31,75.6 -25.7,76.5 -20.4,77.1 -15.2,77.5 -10.1,77.8 -5.1,77.9 0,78 5.1,78.1 10.2,78 15.3,77.9 20.6,77.6 25.9,77.2 31.4,76.5 36.9,75.5 42.4,74.2 47.8,72.3 53.1,69.9 58,66.8 62.4,63 66.1,58.6 69.1,53.6 71.5,48.3 73.3,42.8 74.7,37.2 75.6,31.7 76.3,26.2 76.7,20.8 77,15.5 77.1,10.3 77.1,5.1Z"/>
<path fill="#009bff" d="M74.1,0 74,-5.1 73.8,-10.2 73.5,-15.4 73,-20.7 72.3,-26 71.3,-31.3 70,-36.7 68.3,-42 66.1,-47.1 63.3,-52 59.8,-56.5 55.8,-60.4 51.2,-63.6 46.3,-66.3 41.1,-68.3 35.8,-69.8 30.5,-71 25.2,-71.8 20.1,-72.3 14.9,-72.7 9.9,-72.8 4.9,-72.9 0,-72.8 -4.9,-72.7 -9.9,-72.6 -14.9,-72.3 -19.9,-71.8 -25,-71.2 -30.2,-70.2 -35.3,-68.9 -40.5,-67.3 -45.5,-65.1 -50.2,-62.4 -54.6,-59.1 -58.5,-55.2 -61.7,-50.8 -64.4,-46 -66.6,-40.9 -68.3,-35.7 -69.5,-30.5 -70.5,-25.3 -71.1,-20.1 -71.6,-15 -71.9,-10 -72.1,-5 -72.2,0 -72.2,5 -72.2,10 -72,15.1 -71.7,20.3 -71.2,25.6 -70.4,30.9 -69.3,36.3 -67.7,41.6 -65.7,46.9 -63.1,51.9 -59.9,56.5 -56,60.6 -51.6,64.1 -46.8,67 -41.6,69.2 -36.4,70.9 -31.1,72.3 -25.7,73.2 -20.5,73.9 -15.3,74.4 -10.2,74.7 -5.1,74.9 0,75 5.1,75 10.2,75 15.4,74.8 20.7,74.5 26,73.9 31.4,73.1 36.9,72 42.4,70.4 47.7,68.3 52.8,65.5 57.4,62.1 61.4,58 64.8,53.3 67.5,48.2 69.6,42.8 71.2,37.3 72.3,31.7 73.1,26.3 73.6,20.8 73.9,15.5 74.1,10.3 74.1,5.1Z"/>
<path fill="#0089ff" d="M70.7,0 70.6,-5.1 70.4,-10.2 70.1,-15.4 69.5,-20.6 68.8,-25.9 67.7,-31.2 66.2,-36.5 64.2,-41.7 61.7,-46.7 58.6,-51.3 54.9,-55.5 50.6,-59.1 45.9,-62 40.9,-64.3 35.7,-66.1 30.4,-67.4 25.2,-68.3 20,-68.9 14.9,-69.3 9.9,-69.5 4.9,-69.6 0,-69.6 -4.9,-69.5 -9.9,-69.3 -14.8,-69 -19.9,-68.5 -25,-67.7 -30.1,-66.6 -35.2,-65.2 -40.3,-63.3 -45.1,-60.9 -49.6,-57.9 -53.7,-54.3 -57.3,-50.2 -60.3,-45.6 -62.7,-40.7 -64.5,-35.6 -66,-30.5 -67,-25.3 -67.8,-20.1 -68.3,-15 -68.7,-10 -68.8,-5 -68.9,0 -69,5 -68.9,10 -68.7,15.1 -68.3,20.3 -67.7,25.5 -66.8,30.8 -65.5,36.2 -63.8,41.4 -61.5,46.5 -58.6,51.3 -55.1,55.6 -50.9,59.4 -46.3,62.6 -41.4,65.1 -36.2,67 -31,68.5 -25.7,69.6 -20.5,70.4 -15.3,70.9 -10.1,71.3 -5.1,71.5 0,71.6 5.1,71.6 10.2,71.6 15.4,71.4 20.6,71 26,70.3 31.4,69.4 36.8,68 42.1,66.2 47.3,63.8 52.1,60.7 56.4,57 60.1,52.6 63.1,47.7 65.5,42.5 67.3,37.1 68.6,31.7 69.5,26.2 70.2,20.8 70.5,15.5 70.7,10.3 70.8,5.1Z"/>
<path fill="#0076ff" d="M67,0 66.9,-4.8 66.7,-9.7 66.4,-14.6 65.8,-19.5 65,-24.5 63.9,-29.5 62.5,-34.5 60.6,-39.3 58.2,-44 55.2,-48.3 51.7,-52.2 47.7,-55.6 43.3,-58.4 38.6,-60.7 33.7,-62.4 28.8,-63.7 23.9,-64.6 19,-65.3 14.1,-65.7 9.4,-65.9 4.7,-66 0,-65.9 -4.7,-65.9 -9.3,-65.7 -14.1,-65.3 -18.8,-64.8 -23.6,-64.1 -28.5,-63 -33.3,-61.6 -38,-59.7 -42.5,-57.4 -46.8,-54.6 -50.6,-51.2 -54,-47.3 -56.8,-43 -59.1,-38.4 -61,-33.7 -62.4,-28.8 -63.4,-23.9 -64.2,-19.1 -64.7,-14.2 -65.1,-9.5 -65.3,-4.7 -65.3,0 -65.4,4.7 -65.3,9.5 -65.1,14.3 -64.7,19.2 -64.1,24.2 -63.2,29.1 -61.9,34.1 -60.2,39.1 -57.9,43.8 -55.2,48.3 -51.8,52.4 -48,55.9 -43.6,58.9 -39,61.4 -34.2,63.3 -29.3,64.8 -24.3,65.8 -19.4,66.6 -14.5,67.2 -9.6,67.5 -4.8,67.7 0,67.8 4.8,67.8 9.6,67.8 14.5,67.6 19.5,67.2 24.5,66.5 29.6,65.5 34.7,64.2 39.7,62.4 44.5,60.1 49,57.1 53,53.6 56.5,49.5 59.4,44.9 61.7,40.1 63.5,35 64.8,29.9 65.7,24.8 66.4,19.7 66.8,14.7 67,9.7 67,4.8Z"/>
<path fill="#0064ff" d="M62.8,0 62.7,-4.7 62.5,-9.5 62.1,-14.3 61.5,-19.2 60.6,-24 59.4,-28.9 57.8,-33.7 55.7,-38.4 53.1,-42.8 49.9,-46.8 46.3,-50.4 42.1,-53.4 37.7,-55.9 33,-57.8 28.2,-59.3 23.4,-60.3 18.6,-61.1 13.9,-61.5 9.2,-61.8 4.6,-61.9 0,-61.9 -4.6,-61.8 -9.2,-61.6 -13.8,-61.2 -18.5,-60.6 -23.2,-59.8 -27.9,-58.6 -32.6,-57 -37.1,-55 -41.4,-52.5 -45.4,-49.4 -48.9,-45.9 -51.9,-41.9 -54.5,-37.5 -56.5,-33 -58,-28.2 -59.2,-23.5 -60.1,-18.7 -60.6,-14 -61,-9.3 -61.2,-4.6 -61.3,0 -61.3,4.6 -61.2,9.3 -61,14.1 -60.5,18.9 -59.8,23.7 -58.8,28.6 -57.3,33.4 -55.4,38.2 -53,42.7 -50,46.8 -46.4,50.6 -42.4,53.8 -38.1,56.4 -33.4,58.5 -28.7,60.2 -23.8,61.4 -19,62.3 -14.2,62.9 -9.4,63.3 -4.7,63.5 0,63.6 4.7,63.6 9.5,63.5 14.3,63.2 19.2,62.8 24.1,62 29,60.9 33.9,59.4 38.7,57.4 43.2,54.8 47.4,51.6 51.1,47.9 54.2,43.7 56.7,39.1 58.7,34.3 60.2,29.3 61.3,24.3 62,19.3 62.5,14.4 62.8,9.6 62.8,4.8Z"/>
<path fill="#0052ff" d="M58,0 57.9,-4.6 57.7,-9.2 57.3,-13.9 56.6,-18.6 55.7,-23.3 54.3,-28 52.6,-32.5 50.3,-36.9 47.5,-41 44.2,-44.7 40.5,-47.9 36.3,-50.5 31.9,-52.6 27.4,-54.3 22.7,-55.5 18.1,-56.3 13.5,-56.8 9,-57.1 4.5,-57.3 0,-57.2 -4.5,-57.2 -8.9,-56.9 -13.4,-56.5 -18,-55.9 -22.5,-55 -27.1,-53.7 -31.5,-52 -35.8,-49.8 -39.8,-47.1 -43.4,-43.9 -46.6,-40.2 -49.3,-36.2 -51.4,-31.9 -53.1,-27.4 -54.4,-22.8 -55.4,-18.2 -56,-13.6 -56.4,-9 -56.6,-4.5 -56.7,0 -56.7,4.5 -56.6,9.1 -56.3,13.7 -55.8,18.3 -55,23 -53.8,27.7 -52.2,32.3 -50.1,36.8 -47.5,41 -44.3,44.8 -40.7,48.1 -36.6,50.9 -32.3,53.2 -27.7,55 -23.1,56.4 -18.4,57.3 -13.8,58 -9.2,58.4 -4.6,58.6 0,58.7 4.6,58.8 9.2,58.6 13.9,58.3 18.6,57.8 23.3,56.9 28.1,55.7 32.7,54 37.2,51.8 41.4,49 45.2,45.7 48.5,41.9 51.2,37.6 53.4,33.1 55.1,28.4 56.3,23.6 57.1,18.8 57.7,14 58,9.3 58.1,4.6Z"/>
<path fill="#0040ff" d="M52.5,0 52.4,-4.6 52.2,-9.3 51.6,-14 50.8,-18.7 49.6,-23.4 48,-28 45.8,-32.4 43.1,-36.5 39.8,-40.2 36,-43.4 31.9,-46 27.4,-48 22.9,-49.5 18.2,-50.6 13.6,-51.3 9,-51.7 4.5,-51.9 0,-51.9 -4.5,-51.8 -9,-51.5 -13.5,-51 -18.1,-50.3 -22.6,-49.1 -27.1,-47.5 -31.4,-45.4 -35.5,-42.7 -39.1,-39.5 -42.3,-35.9 -44.9,-31.8 -47,-27.4 -48.6,-22.9 -49.8,-18.3 -50.6,-13.7 -51,-9.1 -51.3,-4.5 -51.4,0 -51.4,4.5 -51.3,9.1 -50.9,13.8 -50.2,18.5 -49.1,23.1 -47.6,27.8 -45.6,32.3 -43,36.5 -39.9,40.3 -36.2,43.6 -32.1,46.4 -27.7,48.6 -23.2,50.2 -18.5,51.4 -13.9,52.3 -9.2,52.8 -4.6,53.1 0,53.2 4.6,53.2 9.2,53 13.9,52.6 18.7,51.9 23.4,50.7 28.1,49.2 32.6,47 36.8,44.3 40.6,41 43.9,37.2 46.5,32.9 48.6,28.4 50.2,23.6 51.3,18.9 52,14.1 52.4,9.3 52.5,4.6Z"/>
<path fill="#002eff" d="M46,0 45.9,-4.3 45.6,-8.6 45.1,-13 44.2,-17.3 42.9,-21.6 41.2,-25.8 39,-29.7 36.2,-33.4 33,-36.5 29.3,-39.2 25.3,-41.4 21.2,-43 16.9,-44.1 12.6,-44.9 8.4,-45.4 4.2,-45.6 0,-45.6 -4.2,-45.5 -8.4,-45.2 -12.6,-44.7 -16.8,-43.8 -21,-42.6 -25.1,-40.9 -28.9,-38.7 -32.5,-36 -35.7,-32.9 -38.3,-29.3 -40.5,-25.3 -42.2,-21.2 -43.4,-17 -44.2,-12.7 -44.8,-8.5 -45,-4.2 -45.1,0 -45.1,4.2 -44.9,8.5 -44.5,12.8 -43.7,17.1 -42.6,21.4 -41,25.6 -38.9,29.7 -36.2,33.4 -33.1,36.7 -29.5,39.5 -25.6,41.7 -21.4,43.5 -17.2,44.8 -12.8,45.6 -8.5,46.2 -4.3,46.5 0,46.6 4.3,46.5 8.6,46.4 12.9,45.9 17.3,45.1 21.6,43.9 25.9,42.2 29.9,40 33.6,37.2 36.8,33.9 39.6,30.2 41.8,26.1 43.4,21.8 44.6,17.5 45.4,13 45.8,8.7 46,4.3Z"/>
<path fill="#001bff" d="M38,0 37.9,-4 37.6,-8.1 36.9,-12.1 35.9,-16.2 34.4,-20.1 32.4,-23.8 29.9,-27.2 26.9,-30.2 23.5,-32.6 19.7,-34.6 15.8,-36 11.9,-36.9 7.9,-37.5 3.9,-37.7 0,-37.7 -3.9,-37.6 -7.9,-37.3 -11.8,-36.7 -15.7,-35.7 -19.6,-34.3 -23.2,-32.3 -26.6,-29.8 -29.5,-26.9 -32,-23.5 -33.9,-19.8 -35.3,-15.9 -36.3,-11.9 -37,-7.9 -37.3,-4 -37.4,0 -37.3,4 -37.1,8 -36.5,12 -35.6,16 -34.2,20 -32.3,23.7 -29.9,27.2 -27,30.3 -23.6,32.8 -19.9,34.8 -16,36.3 -12,37.4 -8,38 -4,38.3 0,38.4 4,38.4 8,38.1 12.1,37.6 16.1,36.6 20.1,35.2 23.9,33.2 27.3,30.6 30.3,27.6 32.8,24.1 34.8,20.3 36.2,16.3 37.2,12.2 37.7,8.1 38,4Z"/>
<path fill="#0005ff" d="M27.2,0 27.1,-3.3 26.7,-6.7 26.1,-10 25,-13.2 23.4,-16.3 21.4,-19.2 19,-21.6 16.1,-23.6 13,-25.1 9.8,-26.1 6.5,-26.7 3.2,-27 0,-27.1 -3.2,-27 -6.5,-26.7 -9.8,-26 -13,-25 -16,-23.4 -18.8,-21.4 -21.2,-19 -23.2,-16.2 -24.7,-13.1 -25.8,-9.9 -26.4,-6.6 -26.7,-3.3 -26.8,0 -26.8,3.3 -26.5,6.6 -25.9,9.9 -24.9,13.2 -23.4,16.3 -21.4,19.2 -19,21.7 -16.2,23.7 -13.1,25.3 -9.9,26.4 -6.6,27 -3.3,27.4 0,27.5 3.3,27.4 6.6,27.1 9.9,26.5 13.2,25.4 16.3,23.9 19.2,21.9 21.6,19.4 23.6,16.5 25.1,13.3 26.2,10 26.8,6.7 27.1,3.3Z"/>
</g></g>
<path d="M421.6,237.5 V399.1 H265.7" fill="none" stroke="#00e090" stroke-width="1.3"/>
<rect x="265.6" y="237.4" width="155" height="160.7" fill="none" stroke="#000" stroke-opacity="0.5" stroke-width="0.7"/>
<path d="M283.03,398.7v-3M266,381.23h3M300.37,398.7v-1.6M266,363.27h1.6M317.7,398.7v-3M266,345.3h3M335.03,398.7v-1.6M266,327.33h1.6M352.37,398.7v-3M266,309.37h3M369.7,398.7v-1.6M266,291.4h1.6M387.03,398.7v-3M266,273.43h3M404.37,398.7v-1.6M266,255.47h1.6" stroke="#111" stroke-width="0.7" fill="none"/>
<text x="283.43" y="409.8" class="t" font-size="7.7" text-anchor="middle">2</text>
<text x="262.7" y="384.63" class="t" font-size="7.7" text-anchor="end">2</text>
<text x="318.1" y="409.8" class="t" font-size="7.7" text-anchor="middle">4</text>
<text x="262.7" y="348.7" class="t" font-size="7.7" text-anchor="end">4</text>
<text x="352.77" y="409.8" class="t" font-size="7.7" text-anchor="middle">6</text>
<text x="262.7" y="312.77" class="t" font-size="7.7" text-anchor="end">6</text>
<text x="387.43" y="409.8" class="t" font-size="7.7" text-anchor="middle">8</text>
<text x="262.7" y="276.83" class="t" font-size="7.7" text-anchor="end">8</text>
<text x="422.1" y="409.8" class="t" font-size="7.7" text-anchor="middle">10</text>
<text x="262.7" y="240.9" class="t" font-size="7.7" text-anchor="end">10</text>
<rect x="428.1" y="240.2" width="16.4" height="155.4" fill="#000"/>
<rect x="429.5" y="241.20" width="13.6" height="152.90" fill="#ff0800"/>
<rect x="429.5" y="243.59" width="13.6" height="150.51" fill="#ff1800"/>
<rect x="429.5" y="245.98" width="13.6" height="148.12" fill="#ff2800"/>
<rect x="429.5" y="248.37" width="13.6" height="145.73" fill="#ff3800"/>
<rect x="429.5" y="250.76" width="13.6" height="143.34" fill="#ff4800"/>
<rect x="429.5" y="253.15" width="13.6" height="140.95" fill="#ff5800"/>
<rect x="429.5" y="255.53" width="13.6" height="138.57" fill="#ff6800"/>
<rect x="429.5" y="257.92" width="13.6" height="136.18" fill="#ff7800"/>
<rect x="429.5" y="260.31" width="13.6" height="133.79" fill="#ff8700"/>
<rect x="429.5" y="262.70" width="13.6" height="131.40" fill="#ff9700"/>
<rect x="429.5" y="265.09" width="13.6" height="129.01" fill="#ffa700"/>
<rect x="429.5" y="267.48" width="13.6" height="126.62" fill="#ffb700"/>
<rect x="429.5" y="269.87" width="13.6" height="124.23" fill="#ffc700"/>
<rect x="429.5" y="272.26" width="13.6" height="121.84" fill="#ffd700"/>
<rect x="429.5" y="274.65" width="13.6" height="119.45" fill="#ffe700"/>
<rect x="429.5" y="277.04" width="13.6" height="117.06" fill="#fff700"/>
<rect x="429.5" y="279.43" width="13.6" height="114.68" fill="#f7ff00"/>
<rect x="429.5" y="281.81" width="13.6" height="112.29" fill="#e7ff00"/>
<rect x="429.5" y="284.20" width="13.6" height="109.90" fill="#d7ff00"/>
<rect x="429.5" y="286.59" width="13.6" height="107.51" fill="#c7ff00"/>
<rect x="429.5" y="288.98" width="13.6" height="105.12" fill="#b7ff00"/>
<rect x="429.5" y="291.37" width="13.6" height="102.73" fill="#a7ff00"/>
<rect x="429.5" y="293.76" width="13.6" height="100.34" fill="#97ff00"/>
<rect x="429.5" y="296.15" width="13.6" height="97.95" fill="#00ff00"/>
<rect x="429.5" y="298.54" width="13.6" height="95.56" fill="#00ff00"/>
<rect x="429.5" y="300.93" width="13.6" height="93.17" fill="#00ff00"/>
<rect x="429.5" y="303.32" width="13.6" height="90.78" fill="#00ff00"/>
<rect x="429.5" y="305.70" width="13.6" height="88.40" fill="#00ff00"/>
<rect x="429.5" y="308.09" width="13.6" height="86.01" fill="#00ff00"/>
<rect x="429.5" y="310.48" width="13.6" height="83.62" fill="#00ff00"/>
<rect x="429.5" y="312.87" width="13.6" height="81.23" fill="#00ff00"/>
<rect x="429.5" y="315.26" width="13.6" height="78.84" fill="#00ff00"/>
<rect x="429.5" y="317.65" width="13.6" height="76.45" fill="#00ff08"/>
<rect x="429.5" y="320.04" width="13.6" height="74.06" fill="#00ff18"/>
<rect x="429.5" y="322.43" width="13.6" height="71.67" fill="#00ff28"/>
<rect x="429.5" y="324.82" width="13.6" height="69.28" fill="#00ff38"/>
<rect x="429.5" y="327.21" width="13.6" height="66.89" fill="#00ff48"/>
<rect x="429.5" y="329.60" width="13.6" height="64.50" fill="#00ff58"/>
<rect x="429.5" y="331.98" width="13.6" height="62.12" fill="#00ff68"/>
<rect x="429.5" y="334.37" width="13.6" height="59.73" fill="#00ff78"/>
<rect x="429.5" y="336.76" width="13.6" height="57.34" fill="#00ff87"/>
<rect x="429.5" y="339.15" width="13.6" height="54.95" fill="#00ff97"/>
<rect x="429.5" y="341.54" width="13.6" height="52.56" fill="#00ffa7"/>
<rect x="429.5" y="343.93" width="13.6" height="50.17" fill="#00ffb7"/>
<rect x="429.5" y="346.32" width="13.6" height="47.78" fill="#00ffc7"/>
<rect x="429.5" y="348.71" width="13.6" height="45.39" fill="#00ffd7"/>
<rect x="429.5" y="351.10" width="13.6" height="43.00" fill="#00ffe7"/>
<rect x="429.5" y="353.49" width="13.6" height="40.61" fill="#00fff7"/>
<rect x="429.5" y="355.88" width="13.6" height="38.23" fill="#00f7ff"/>
<rect x="429.5" y="358.26" width="13.6" height="35.84" fill="#00e7ff"/>
<rect x="429.5" y="360.65" width="13.6" height="33.45" fill="#00d7ff"/>
<rect x="429.5" y="363.04" width="13.6" height="31.06" fill="#00c7ff"/>
<rect x="429.5" y="365.43" width="13.6" height="28.67" fill="#00b7ff"/>
<rect x="429.5" y="367.82" width="13.6" height="26.28" fill="#00a7ff"/>
<rect x="429.5" y="370.21" width="13.6" height="23.89" fill="#0097ff"/>
<rect x="429.5" y="372.60" width="13.6" height="21.50" fill="#0087ff"/>
<rect x="429.5" y="374.99" width="13.6" height="19.11" fill="#0078ff"/>
<rect x="429.5" y="377.38" width="13.6" height="16.72" fill="#0068ff"/>
<rect x="429.5" y="379.77" width="13.6" height="14.33" fill="#0058ff"/>
<rect x="429.5" y="382.15" width="13.6" height="11.95" fill="#0048ff"/>
<rect x="429.5" y="384.54" width="13.6" height="9.56" fill="#0038ff"/>
<rect x="429.5" y="386.93" width="13.6" height="7.17" fill="#0028ff"/>
<rect x="429.5" y="389.32" width="13.6" height="4.78" fill="#0018ff"/>
<rect x="429.5" y="391.71" width="13.6" height="2.39" fill="#0008ff"/>
<text class="t" x="446.5" y="243.60" font-size="7.7">0.<tspan dx="1.9">866732</tspan></text>
<path d="M443.1,260.05h-3.2" stroke="#111" stroke-width="0.8"/>
<text class="t" x="446.5" y="262.85" font-size="7.7">0.<tspan dx="1.9">866727</tspan></text>
<path d="M443.1,279.30h-3.2" stroke="#111" stroke-width="0.8"/>
<text class="t" x="446.5" y="282.10" font-size="7.7">0.<tspan dx="1.9">866722</tspan></text>
<path d="M443.1,298.55h-3.2" stroke="#111" stroke-width="0.8"/>
<text class="t" x="446.5" y="301.35" font-size="7.7">0.<tspan dx="1.9">866717</tspan></text>
<path d="M443.1,317.80h-3.2" stroke="#111" stroke-width="0.8"/>
<text class="t" x="446.5" y="320.60" font-size="7.7">0.<tspan dx="1.9">866712</tspan></text>
<path d="M443.1,337.05h-3.2" stroke="#111" stroke-width="0.8"/>
<text class="t" x="446.5" y="339.85" font-size="7.7">0.<tspan dx="1.9">866707</tspan></text>
<path d="M443.1,356.30h-3.2" stroke="#111" stroke-width="0.8"/>
<text class="t" x="446.5" y="359.10" font-size="7.7">0.<tspan dx="1.9">866702</tspan></text>
<path d="M443.1,375.55h-3.2" stroke="#111" stroke-width="0.8"/>
<text class="t" x="446.5" y="378.35" font-size="7.7">0.<tspan dx="1.9">866697</tspan></text>
<text class="t" x="446.5" y="397.60" font-size="7.7">0.<tspan dx="1.9">866692</tspan></text>
<text x="326" y="232.9" font-size="9.55">Magnetic charge density grade(Wb/mm<tspan dy="-4.1" font-size="6.49">2</tspan><tspan dy="4.1">)</tspan></text>
<text x="303.6" y="420.65" font-size="9.52">Defect width D<tspan dy="2" font-size="6.18">y</tspan><tspan dy="-2">(mm)</tspan></text>
<text transform="translate(254.5,321.6) rotate(-90)" font-size="10" text-anchor="middle">Defect depth D<tspan dy="2" font-size="6.4">z</tspan><tspan dy="-2">(mm)</tspan></text>
<text x="308.5" y="435" font-size="14.8">(e)40Mpa</text>
<g clip-path="url(#cpf)">
<rect x="497.7" y="228.2" width="157" height="161.4" fill="#00ffe5"/>
<g transform="translate(577.4,306.6)">
<path fill="#00fff8" d="M82.7,0 82.7,-4.7 82.7,-9.3 82.7,-14.1 82.7,-18.9 82.7,-23.9 82.7,-29 82.7,-34.3 82.7,-39.9 82.7,-45.8 82.7,-52.1 82.7,-58.8 82.7,-66.1 82.7,-74.1 80.5,-80.7 75.4,-84.6 68.4,-86 60.9,-86 53.9,-86 47.4,-86 41.3,-86 35.5,-86 30,-86 24.7,-86 19.6,-86 14.6,-86 9.7,-86 4.8,-86 0,-86 -4.8,-86 -9.7,-86 -14.6,-86 -19.6,-86 -24.7,-86 -30,-86 -35.5,-86 -41.3,-86 -47.4,-86 -53.9,-86 -60.9,-86 -68.3,-85.8 -73.7,-82.7 -78.5,-78.7 -82.5,-73.9 -82.7,-66.1 -82.7,-58.8 -82.7,-52.1 -82.7,-45.8 -82.7,-39.9 -82.7,-34.3 -82.7,-29 -82.7,-23.9 -82.7,-18.9 -82.7,-14.1 -82.7,-9.3 -82.7,-4.7 -82.7,0 -82.7,4.7 -82.7,9.3 -82.7,14.1 -82.7,18.9 -82.7,23.9 -82.7,29 -82.7,34.3 -82.7,39.9 -82.7,45.8 -82.7,52.1 -82.7,58.8 -82.7,66.1 -82.7,74.1 -80.7,80.9 -75.9,85.1 -68.4,86 -60.9,86 -53.9,86 -47.4,86 -41.3,86 -35.5,86 -30,86 -24.7,86 -19.6,86 -14.6,86 -9.7,86 -4.8,86 0,86 4.8,86 9.7,86 14.6,86 19.6,86 24.7,86 30,86 35.5,86 41.3,86 47.4,86 53.9,86 60.9,86 68.4,86 76.7,86 82.7,82.9 82.7,74.1 82.7,66.1 82.7,58.8 82.7,52.1 82.7,45.8 82.7,39.9 82.7,34.3 82.7,29 82.7,23.9 82.7,18.9 82.7,14.1 82.7,9.3 82.7,4.7Z"/>
<path fill="#00f4ff" d="M82.7,0 82.7,-4.7 82.7,-9.3 82.7,-14.1 82.7,-18.9 82.7,-23.9 82.7,-29 82.7,-34.3 82.7,-39.9 82.7,-45.8 82.7,-52.1 82.7,-58.8 82.7,-66.1 82.6,-74 78.5,-78.7 73.6,-82.5 68.1,-85.5 60.9,-86 53.9,-86 47.4,-86 41.3,-86 35.5,-86 30,-86 24.7,-86 19.6,-86 14.6,-86 9.7,-86 4.8,-86 0,-86 -4.8,-86 -9.7,-86 -14.6,-86 -19.6,-86 -24.7,-86 -30,-86 -35.5,-86 -41.3,-86 -47.4,-86 -53.9,-86 -60.9,-86 -66.6,-83.8 -71.9,-80.6 -76.6,-76.7 -80.5,-72.1 -82.7,-66.1 -82.7,-58.8 -82.7,-52.1 -82.7,-45.8 -82.7,-39.9 -82.7,-34.3 -82.7,-29 -82.7,-23.9 -82.7,-18.9 -82.7,-14.1 -82.7,-9.3 -82.7,-4.7 -82.7,0 -82.7,4.7 -82.7,9.3 -82.7,14.1 -82.7,18.9 -82.7,23.9 -82.7,29 -82.7,34.3 -82.7,39.9 -82.7,45.8 -82.7,52.1 -82.7,58.8 -82.7,66.1 -82.6,74 -78.7,78.9 -74,83 -68.4,86 -60.9,86 -53.9,86 -47.4,86 -41.3,86 -35.5,86 -30,86 -24.7,86 -19.6,86 -14.6,86 -9.7,86 -4.8,86 0,86 4.8,86 9.7,86 14.6,86 19.6,86 24.7,86 30,86 35.5,86 41.3,86 47.4,86 53.9,86 60.9,86 68.4,86 76,85.2 80.9,81.1 82.7,74.1 82.7,66.1 82.7,58.8 82.7,52.1 82.7,45.8 82.7,39.9 82.7,34.3 82.7,29 82.7,23.9 82.7,18.9 82.7,14.1 82.7,9.3 82.7,4.7Z"/>
<path fill="#00e2ff" d="M82.7,0 82.7,-4.8 82.7,-9.7 82.7,-14.6 82.7,-19.6 82.7,-24.8 82.7,-30.2 82.7,-35.8 82.7,-41.6 82.7,-47.9 82.7,-54.5 82.7,-61.7 82.2,-69.2 78.5,-74.3 74,-78.6 68.7,-82.1 62.9,-84.7 56.4,-86 49.5,-86 43.1,-86 37,-86 31.2,-86 25.7,-86 20.3,-86 15.1,-86 10,-86 5,-86 0,-86 -5,-86 -10,-86 -15.1,-86 -20.3,-86 -25.7,-86 -31.2,-86 -37,-86 -43.1,-86 -49.5,-86 -55.9,-85.2 -61.7,-83.1 -67.2,-80.3 -72.2,-76.7 -76.5,-72.4 -80.1,-67.4 -82.7,-61.7 -82.7,-54.5 -82.7,-47.9 -82.7,-41.6 -82.7,-35.8 -82.7,-30.2 -82.7,-24.8 -82.7,-19.6 -82.7,-14.6 -82.7,-9.7 -82.7,-4.8 -82.7,0 -82.7,4.8 -82.7,9.7 -82.7,14.6 -82.7,19.6 -82.7,24.8 -82.7,30.2 -82.7,35.8 -82.7,41.6 -82.7,47.9 -82.7,54.5 -82.7,61.7 -82.1,69 -78.6,74.4 -74.3,78.9 -69.2,82.7 -63.6,85.6 -56.4,86 -49.5,86 -43.1,86 -37,86 -31.2,86 -25.7,86 -20.3,86 -15.1,86 -10,86 -5,86 0,86 5,86 10,86 15.1,86 20.3,86 25.7,86 31.2,86 37,86 43.1,86 49.5,86 56.4,86 63.9,86 70.9,84.7 76.3,81.1 80.9,76.5 82.7,69.6 82.7,61.7 82.7,54.5 82.7,47.9 82.7,41.6 82.7,35.8 82.7,30.2 82.7,24.8 82.7,19.6 82.7,14.6 82.7,9.7 82.7,4.8Z"/>
<path fill="#00d0ff" d="M82.7,0 82.7,-4.8 82.7,-9.7 82.7,-14.6 82.7,-19.6 82.7,-24.8 82.7,-30.2 82.7,-35.8 82.7,-41.6 82.7,-47.9 82.7,-54.5 82.7,-61.7 79.8,-67.1 76.2,-72 71.7,-76.2 66.7,-79.6 61.1,-82.3 55.3,-84.3 49.4,-85.7 43.1,-86 37,-86 31.2,-86 25.7,-86 20.3,-86 15.1,-86 10,-86 5,-86 0,-86 -5,-86 -10,-86 -15.1,-86 -20.3,-86 -25.7,-86 -31.2,-86 -37,-86 -42.9,-85.7 -48.7,-84.5 -54.3,-82.8 -59.9,-80.7 -65.2,-77.9 -70,-74.4 -74.2,-70.2 -77.7,-65.4 -80.5,-60.1 -82.7,-54.5 -82.7,-47.9 -82.7,-41.6 -82.7,-35.8 -82.7,-30.2 -82.7,-24.8 -82.7,-19.6 -82.7,-14.6 -82.7,-9.7 -82.7,-4.8 -82.7,0 -82.7,4.8 -82.7,9.7 -82.7,14.6 -82.7,19.6 -82.7,24.8 -82.7,30.2 -82.7,35.8 -82.7,41.6 -82.7,47.9 -82.7,54.5 -82.3,61.4 -79.7,67 -76.3,72.1 -72.1,76.6 -67.2,80.2 -61.7,83.1 -56,85.3 -49.5,86 -43.1,86 -37,86 -31.2,86 -25.7,86 -20.3,86 -15.1,86 -10,86 -5,86 0,86 5,86 10,86 15.1,86 20.3,86 25.7,86 31.2,86 37,86 43.1,86 49.5,86 56.4,86 63.1,85 68.8,82.2 74,78.6 78.5,74.2 82,69 82.7,61.7 82.7,54.5 82.7,47.9 82.7,41.6 82.7,35.8 82.7,30.2 82.7,24.8 82.7,19.6 82.7,14.6 82.7,9.7 82.7,4.8Z"/>
<path fill="#00bdff" d="M82.7,0 82.7,-5 82.7,-10.1 82.7,-15.2 82.7,-20.4 82.7,-25.8 82.7,-31.4 82.7,-37.3 82.7,-43.5 82.7,-50.1 81.5,-56.4 78.9,-62 75.6,-67.1 71.6,-71.7 66.8,-75.5 61.4,-78.6 55.7,-80.9 49.9,-82.7 44,-83.9 38.1,-84.9 32.4,-85.5 26.7,-86 21.1,-86 15.7,-86 10.4,-86 5.2,-86 0,-86 -5.2,-86 -10.4,-86 -15.7,-86 -21.1,-85.7 -26.5,-85.3 -32.1,-84.7 -37.7,-83.9 -43.4,-82.8 -49.1,-81.4 -54.7,-79.5 -60.2,-77 -65.3,-73.8 -69.8,-70 -73.7,-65.4 -76.8,-60.3 -79.3,-54.9 -81.2,-49.2 -82.7,-43.5 -82.7,-37.3 -82.7,-31.4 -82.7,-25.8 -82.7,-20.4 -82.7,-15.2 -82.7,-10.1 -82.7,-5 -82.7,0 -82.7,5 -82.7,10.1 -82.7,15.2 -82.7,20.4 -82.7,25.8 -82.7,31.4 -82.7,37.3 -82.7,43.5 -82.7,50.1 -80.9,56 -78.6,61.7 -75.6,67.1 -71.8,71.9 -67.2,76 -62,79.3 -56.4,81.9 -50.6,83.8 -44.7,85.3 -38.6,86 -32.5,86 -26.7,86 -21.1,86 -15.7,86 -10.4,86 -5.2,86 0,86 5.2,86 10.4,86 15.7,86 21.1,86 26.7,86 32.5,86 38.6,86 45,86 51.5,85.3 57.5,83.5 63.4,81.2 68.9,78 73.8,73.9 77.8,69.1 80.9,63.6 82.7,57.2 82.7,50.1 82.7,43.5 82.7,37.3 82.7,31.4 82.7,25.8 82.7,20.4 82.7,15.2 82.7,10.1 82.7,5Z"/>
<path fill="#00abff" d="M82.7,0 82.7,-5 82.7,-10.1 82.7,-15.2 82.7,-20.4 82.7,-25.8 82.7,-31.4 82.7,-37.3 82,-43.1 80.5,-48.8 78.5,-54.3 76,-59.7 72.8,-64.6 68.9,-69 64.3,-72.7 59.2,-75.7 53.7,-78 48.1,-79.8 42.5,-81.1 36.8,-82.1 31.3,-82.7 25.9,-83.2 20.5,-83.5 15.3,-83.7 10.1,-83.8 5.1,-83.8 0,-83.7 -5,-83.6 -10.1,-83.5 -15.2,-83.3 -20.4,-83 -25.7,-82.6 -31,-82 -36.4,-81.1 -41.9,-80 -47.4,-78.5 -52.8,-76.6 -58,-74.2 -62.8,-71.1 -67.2,-67.3 -70.9,-63 -74,-58.1 -76.5,-52.9 -78.4,-47.5 -79.9,-42 -81,-36.5 -81.8,-31.1 -82.5,-25.8 -82.7,-20.4 -82.7,-15.2 -82.7,-10.1 -82.7,-5 -82.7,0 -82.7,5 -82.7,10.1 -82.7,15.2 -82.7,20.4 -82.7,25.8 -82.7,31.4 -82,37 -81.1,42.7 -79.8,48.3 -78,54 -75.7,59.5 -72.7,64.6 -69,69.2 -64.7,73.2 -59.7,76.4 -54.4,78.9 -48.8,80.9 -43.1,82.4 -37.5,83.5 -31.9,84.4 -26.4,85 -21,85.4 -15.7,85.8 -10.4,86 -5.2,86 0,86 5.2,86 10.4,86 15.7,86 21.1,86 26.7,85.7 32.3,85.3 38,84.6 43.8,83.7 49.7,82.3 55.5,80.5 61.1,78.2 66.3,75 71,71.1 74.8,66.5 77.9,61.2 80.3,55.6 82.1,49.7 82.7,43.5 82.7,37.3 82.7,31.4 82.7,25.8 82.7,20.4 82.7,15.2 82.7,10.1 82.7,5Z"/>
<path fill="#0099ff" d="M82.7,0 82.7,-5.2 82.5,-10.5 82.3,-15.7 81.9,-21.1 81.4,-26.5 80.7,-32 79.7,-37.6 78.4,-43.2 76.6,-48.8 74.4,-54.2 71.5,-59.3 67.9,-63.9 63.7,-68 58.9,-71.3 53.6,-74 48.1,-76 42.5,-77.6 36.9,-78.7 31.4,-79.5 26,-80.1 20.6,-80.4 15.4,-80.7 10.2,-80.8 5.1,-80.8 0,-80.7 -5.1,-80.7 -10.1,-80.5 -15.3,-80.3 -20.5,-79.9 -25.7,-79.4 -31.1,-78.7 -36.5,-77.8 -41.9,-76.5 -47.3,-74.8 -52.6,-72.6 -57.6,-69.8 -62.2,-66.4 -66.3,-62.4 -69.7,-57.8 -72.5,-52.8 -74.6,-47.5 -76.3,-42.1 -77.6,-36.6 -78.6,-31.2 -79.3,-25.8 -79.8,-20.5 -80.2,-15.3 -80.4,-10.2 -80.6,-5.1 -80.7,0 -80.7,5.1 -80.7,10.2 -80.6,15.4 -80.4,20.7 -80,26.1 -79.5,31.5 -78.7,37.1 -77.6,42.7 -76,48.4 -74,53.9 -71.4,59.2 -68,64 -64,68.3 -59.3,71.9 -54.2,74.8 -48.8,77 -43.2,78.8 -37.6,80.1 -32,81.1 -26.5,81.8 -21.1,82.3 -15.7,82.6 -10.4,82.9 -5.2,83 0,83.1 5.2,83.2 10.5,83.2 15.8,83.1 21.2,82.9 26.8,82.5 32.4,82 38.1,81.2 43.9,80 49.7,78.5 55.3,76.4 60.7,73.6 65.7,70.1 69.9,65.8 73.4,60.9 76.1,55.5 78.2,49.8 79.8,44 80.9,38.2 81.7,32.4 82.2,26.8 82.6,21.3 82.7,15.8 82.7,10.5 82.7,5.2Z"/>
<path fill="#0087ff" d="M79.3,0 79.3,-5.2 79.1,-10.4 78.8,-15.7 78.4,-21.1 77.8,-26.5 77,-32 75.8,-37.5 74.3,-43 72.3,-48.4 69.7,-53.6 66.5,-58.5 62.7,-62.8 58.2,-66.5 53.2,-69.5 47.9,-71.8 42.4,-73.6 36.9,-74.9 31.4,-75.9 25.9,-76.6 20.6,-77 15.3,-77.3 10.2,-77.4 5.1,-77.4 0,-77.4 -5.1,-77.3 -10.1,-77.1 -15.3,-76.9 -20.4,-76.5 -25.7,-75.9 -31,-75.1 -36.4,-74 -41.8,-72.5 -47.1,-70.6 -52.1,-68.1 -56.9,-65 -61.2,-61.3 -64.9,-57.1 -68,-52.3 -70.4,-47.2 -72.4,-41.9 -73.9,-36.5 -75,-31.1 -75.8,-25.8 -76.4,-20.5 -76.8,-15.3 -77.1,-10.2 -77.2,-5.1 -77.3,0 -77.4,5.1 -77.3,10.2 -77.2,15.4 -77,20.7 -76.5,26 -75.9,31.5 -74.9,37 -73.6,42.6 -71.8,48.1 -69.5,53.4 -66.5,58.4 -62.8,63 -58.5,66.9 -53.7,70.1 -48.4,72.7 -43,74.7 -37.5,76.2 -31.9,77.3 -26.5,78.1 -21,78.7 -15.7,79.1 -10.4,79.4 -5.2,79.6 0,79.7 5.2,79.7 10.5,79.7 15.8,79.6 21.2,79.3 26.7,78.9 32.3,78.2 38,77.3 43.7,75.9 49.4,74.1 54.8,71.6 59.9,68.5 64.5,64.6 68.3,60.1 71.4,54.9 73.9,49.5 75.7,43.8 77,38.1 78,32.4 78.6,26.8 79,21.2 79.3,15.8 79.4,10.5 79.4,5.2Z"/>
<path fill="#0075ff" d="M75.4,0 75.4,-5.2 75.2,-10.4 74.9,-15.6 74.4,-20.9 73.7,-26.3 72.7,-31.7 71.4,-37.1 69.7,-42.5 67.4,-47.7 64.6,-52.7 61.1,-57.2 56.9,-61.1 52.3,-64.4 47.2,-67 41.9,-69.1 36.5,-70.6 31.1,-71.8 25.7,-72.6 20.4,-73.1 15.2,-73.4 10.1,-73.6 5,-73.6 0,-73.6 -5,-73.5 -10.1,-73.3 -15.1,-73 -20.3,-72.6 -25.5,-71.9 -30.8,-71 -36,-69.7 -41.3,-68 -46.4,-65.9 -51.2,-63.1 -55.7,-59.8 -59.7,-55.8 -63,-51.4 -65.7,-46.5 -67.9,-41.4 -69.6,-36.2 -70.9,-30.9 -71.8,-25.6 -72.5,-20.4 -73,-15.2 -73.3,-10.1 -73.4,-5 -73.5,0 -73.6,5 -73.5,10.1 -73.4,15.3 -73.1,20.5 -72.5,25.8 -71.7,31.2 -70.6,36.7 -69.1,42.1 -67.1,47.4 -64.4,52.5 -61.1,57.2 -57.2,61.4 -52.7,64.9 -47.7,67.8 -42.5,70 -37.1,71.8 -31.7,73.1 -26.2,74 -20.9,74.7 -15.6,75.2 -10.3,75.5 -5.2,75.6 0,75.7 5.2,75.8 10.4,75.8 15.7,75.6 21,75.3 26.5,74.8 32,74 37.6,72.8 43.2,71.2 48.7,69.1 53.9,66.3 58.6,62.9 62.7,58.7 66.2,54 68.9,48.8 71,43.3 72.6,37.7 73.7,32.1 74.5,26.5 75,21.1 75.3,15.7 75.5,10.4 75.5,5.2Z"/>
<path fill="#0062ff" d="M71,0 70.9,-5.1 70.7,-10.2 70.3,-15.3 69.8,-20.5 69,-25.8 67.9,-31.1 66.4,-36.4 64.5,-41.5 62,-46.5 58.8,-51.1 55.1,-55.2 50.8,-58.8 46.1,-61.7 41,-64 35.8,-65.8 30.6,-67.1 25.3,-68 20.1,-68.6 15,-69 9.9,-69.2 4.9,-69.3 0,-69.3 -4.9,-69.2 -9.9,-69 -14.9,-68.7 -20,-68.1 -25.1,-67.4 -30.2,-66.3 -35.4,-64.9 -40.4,-63 -45.3,-60.6 -49.8,-57.6 -53.9,-54 -57.5,-49.9 -60.5,-45.4 -62.9,-40.5 -64.8,-35.5 -66.2,-30.3 -67.3,-25.2 -68.1,-20 -68.6,-15 -68.9,-9.9 -69.1,-5 -69.2,0 -69.2,5 -69.2,10 -69,15 -68.6,20.2 -68,25.4 -67,30.7 -65.8,36 -64,41.2 -61.7,46.3 -58.8,51.1 -55.2,55.4 -51.1,59.1 -46.5,62.3 -41.5,64.8 -36.4,66.7 -31.1,68.2 -25.8,69.3 -20.5,70.1 -15.3,70.6 -10.2,71 -5.1,71.2 0,71.3 5.1,71.3 10.2,71.2 15.4,71 20.7,70.7 26.1,70 31.5,69.1 36.9,67.7 42.3,65.9 47.4,63.5 52.3,60.4 56.6,56.7 60.3,52.4 63.3,47.5 65.7,42.3 67.5,37 68.9,31.5 69.8,26.1 70.4,20.7 70.8,15.4 71,10.2 71,5.1Z"/>
<path fill="#0050ff" d="M65.8,0 65.7,-4.9 65.5,-9.9 65.1,-14.9 64.5,-19.9 63.6,-25 62.4,-30.1 60.7,-35.1 58.5,-40 55.8,-44.6 52.5,-48.8 48.6,-52.5 44.3,-55.7 39.6,-58.2 34.7,-60.2 29.6,-61.7 24.6,-62.7 19.5,-63.5 14.6,-63.9 9.7,-64.2 4.8,-64.3 0,-64.3 -4.8,-64.2 -9.6,-64 -14.5,-63.6 -19.4,-63 -24.3,-62.2 -29.3,-61 -34.2,-59.4 -39,-57.3 -43.5,-54.7 -47.7,-51.5 -51.4,-47.8 -54.6,-43.6 -57.2,-39.1 -59.3,-34.3 -60.9,-29.4 -62.1,-24.4 -62.9,-19.5 -63.5,-14.5 -63.9,-9.7 -64.1,-4.8 -64.2,0 -64.2,4.8 -64.1,9.7 -63.9,14.6 -63.4,19.6 -62.7,24.7 -61.6,29.8 -60.2,34.8 -58.2,39.8 -55.7,44.5 -52.5,48.9 -48.8,52.8 -44.6,56.1 -40,58.8 -35.1,61 -30.1,62.6 -25,63.9 -19.9,64.8 -14.9,65.4 -9.9,65.7 -4.9,66 0,66 4.9,66.1 9.9,66 15,65.8 20.1,65.3 25.3,64.5 30.5,63.4 35.6,61.9 40.7,59.8 45.5,57.2 49.9,53.9 53.8,50 57,45.6 59.7,40.8 61.7,35.7 63.2,30.5 64.3,25.3 65.1,20.1 65.5,15 65.8,9.9 65.8,4.9Z"/>
<path fill="#003eff" d="M59.7,0 59.6,-4.7 59.4,-9.4 58.9,-14.2 58.3,-19 57.3,-23.8 55.9,-28.6 54.1,-33.2 51.8,-37.7 48.9,-41.9 45.5,-45.7 41.7,-48.9 37.4,-51.6 32.9,-53.7 28.2,-55.4 23.4,-56.6 18.6,-57.4 13.9,-58 9.2,-58.3 4.6,-58.4 0,-58.4 -4.6,-58.3 -9.2,-58.1 -13.8,-57.7 -18.5,-57 -23.2,-56.1 -27.8,-54.8 -32.4,-53 -36.8,-50.8 -41,-48.1 -44.7,-44.8 -48,-41.1 -50.7,-36.9 -52.9,-32.5 -54.7,-27.9 -56,-23.2 -56.9,-18.5 -57.6,-13.9 -58,-9.2 -58.2,-4.6 -58.3,0 -58.3,4.6 -58.2,9.2 -57.9,13.9 -57.4,18.7 -56.6,23.5 -55.4,28.3 -53.7,33 -51.6,37.6 -48.9,41.9 -45.6,45.7 -41.9,49.2 -37.7,52 -33.2,54.3 -28.5,56.2 -23.8,57.5 -19,58.5 -14.2,59.2 -9.4,59.6 -4.7,59.8 0,59.9 4.7,59.9 9.5,59.8 14.3,59.5 19.1,59 24,58.1 28.9,56.9 33.7,55.1 38.3,52.9 42.7,50.1 46.6,46.7 50,42.8 52.8,38.4 55,33.8 56.7,28.9 57.9,24 58.8,19.1 59.3,14.3 59.6,9.5 59.7,4.7Z"/>
<path fill="#002cff" d="M52.3,0 52.2,-4.6 51.9,-9.2 51.4,-13.8 50.6,-18.5 49.4,-23.1 47.7,-27.6 45.6,-32 42.8,-36 39.6,-39.7 35.8,-42.8 31.7,-45.4 27.3,-47.4 22.8,-48.9 18.2,-50 13.6,-50.7 9,-51.1 4.5,-51.3 0,-51.3 -4.5,-51.2 -9,-50.9 -13.5,-50.4 -18,-49.6 -22.5,-48.5 -27,-46.9 -31.3,-44.8 -35.3,-42.2 -38.9,-39 -42.1,-35.4 -44.7,-31.4 -46.8,-27.1 -48.4,-22.6 -49.5,-18.1 -50.3,-13.5 -50.8,-9 -51.1,-4.5 -51.2,0 -51.2,4.5 -51,9 -50.6,13.6 -50,18.2 -48.9,22.8 -47.4,27.4 -45.4,31.8 -42.8,36 -39.7,39.8 -36,43 -32,45.8 -27.6,47.9 -23.1,49.6 -18.4,50.8 -13.8,51.6 -9.2,52.1 -4.6,52.4 0,52.5 4.6,52.5 9.2,52.3 13.9,51.9 18.6,51.2 23.3,50.1 27.9,48.5 32.4,46.4 36.6,43.7 40.4,40.5 43.6,36.7 46.3,32.5 48.4,28 49.9,23.3 51,18.6 51.7,13.9 52.1,9.2 52.3,4.6Z"/>
<path fill="#0019ff" d="M43,0 42.9,-4.2 42.6,-8.5 42,-12.8 41,-17 39.6,-21.2 37.7,-25.2 35.3,-29 32.3,-32.4 28.9,-35.2 25,-37.6 21,-39.4 16.8,-40.7 12.6,-41.5 8.3,-42 4.2,-42.2 0,-42.3 -4.1,-42.2 -8.3,-41.9 -12.5,-41.3 -16.7,-40.4 -20.8,-39 -24.8,-37.2 -28.5,-34.8 -31.8,-31.9 -34.7,-28.6 -37.1,-24.8 -38.9,-20.9 -40.3,-16.7 -41.2,-12.5 -41.8,-8.3 -42.1,-4.2 -42.2,0 -42.2,4.2 -42,8.4 -41.5,12.6 -40.6,16.9 -39.3,21.1 -37.5,25.1 -35.2,29 -32.3,32.4 -29,35.4 -25.2,37.8 -21.2,39.8 -17,41.2 -12.7,42.1 -8.5,42.7 -4.2,43 0,43.1 4.2,43.1 8.5,42.9 12.8,42.4 17.1,41.5 21.4,40.1 25.5,38.3 29.4,35.9 32.8,32.9 35.8,29.4 38.2,25.6 40,21.4 41.4,17.2 42.2,12.8 42.7,8.5 43,4.2Z"/>
<path fill="#0004ff" d="M30,0 29.9,-3.6 29.5,-7.3 28.8,-11 27.6,-14.5 25.9,-17.9 23.7,-21.1 21,-23.7 17.8,-25.9 14.4,-27.5 10.8,-28.6 7.2,-29.3 3.6,-29.6 0,-29.7 -3.6,-29.6 -7.2,-29.2 -10.8,-28.5 -14.3,-27.4 -17.7,-25.7 -20.8,-23.5 -23.5,-20.8 -25.6,-17.7 -27.3,-14.4 -28.4,-10.8 -29.2,-7.2 -29.5,-3.6 -29.6,0 -29.6,3.6 -29.3,7.2 -28.6,10.9 -27.5,14.5 -25.9,17.9 -23.7,21 -21,23.8 -17.9,26 -14.5,27.7 -10.9,28.9 -7.3,29.6 -3.6,30 0,30.1 3.6,30.1 7.3,29.7 11,29.1 14.6,27.9 18.1,26.2 21.2,24 24,21.3 26.2,18.1 27.8,14.6 29,11 29.7,7.3 30,3.6Z"/>
</g></g>
<path d="M654.6,228.2 V389.5 H497.7" fill="none" stroke="#00dcf0" stroke-width="1.3"/>
<rect x="497.6" y="228.1" width="156" height="160.4" fill="none" stroke="#000" stroke-opacity="0.5" stroke-width="0.7"/>
<path d="M515.14,389.1v-3M498,371.67h3M532.59,389.1v-1.6M498,353.73h1.6M550.03,389.1v-3M498,335.8h3M567.48,389.1v-1.6M498,317.87h1.6M584.92,389.1v-3M498,299.93h3M602.37,389.1v-1.6M498,282h1.6M619.81,389.1v-3M498,264.07h3M637.26,389.1v-1.6M498,246.13h1.6" stroke="#111" stroke-width="0.7" fill="none"/>
<text x="515.54" y="400.2" class="t" font-size="7.7" text-anchor="middle">2</text>
<text x="494.7" y="375.07" class="t" font-size="7.7" text-anchor="end">2</text>
<text x="550.43" y="400.2" class="t" font-size="7.7" text-anchor="middle">4</text>
<text x="494.7" y="339.2" class="t" font-size="7.7" text-anchor="end">4</text>
<text x="585.32" y="400.2" class="t" font-size="7.7" text-anchor="middle">6</text>
<text x="494.7" y="303.33" class="t" font-size="7.7" text-anchor="end">6</text>
<text x="620.21" y="400.2" class="t" font-size="7.7" text-anchor="middle">8</text>
<text x="494.7" y="267.47" class="t" font-size="7.7" text-anchor="end">8</text>
<text x="655.1" y="400.2" class="t" font-size="7.7" text-anchor="middle">10</text>
<text x="494.7" y="231.6" class="t" font-size="7.7" text-anchor="end">10</text>
<rect x="661.7" y="230.5" width="16.1" height="155.8" fill="#000"/>
<rect x="663.1" y="231.50" width="13.3" height="153.30" fill="#ff0800"/>
<rect x="663.1" y="233.90" width="13.3" height="150.90" fill="#ff1800"/>
<rect x="663.1" y="236.29" width="13.3" height="148.51" fill="#ff2800"/>
<rect x="663.1" y="238.69" width="13.3" height="146.11" fill="#ff3800"/>
<rect x="663.1" y="241.08" width="13.3" height="143.72" fill="#ff4800"/>
<rect x="663.1" y="243.48" width="13.3" height="141.32" fill="#ff5800"/>
<rect x="663.1" y="245.87" width="13.3" height="138.93" fill="#ff6800"/>
<rect x="663.1" y="248.27" width="13.3" height="136.53" fill="#ff7800"/>
<rect x="663.1" y="250.66" width="13.3" height="134.14" fill="#ff8700"/>
<rect x="663.1" y="253.06" width="13.3" height="131.74" fill="#ff9700"/>
<rect x="663.1" y="255.45" width="13.3" height="129.35" fill="#ffa700"/>
<rect x="663.1" y="257.85" width="13.3" height="126.95" fill="#ffb700"/>
<rect x="663.1" y="260.24" width="13.3" height="124.56" fill="#ffc700"/>
<rect x="663.1" y="262.64" width="13.3" height="122.16" fill="#ffd700"/>
<rect x="663.1" y="265.03" width="13.3" height="119.77" fill="#ffe700"/>
<rect x="663.1" y="267.43" width="13.3" height="117.37" fill="#fff700"/>
<rect x="663.1" y="269.82" width="13.3" height="114.98" fill="#f7ff00"/>
<rect x="663.1" y="272.22" width="13.3" height="112.58" fill="#e7ff00"/>
<rect x="663.1" y="274.62" width="13.3" height="110.18" fill="#d7ff00"/>
<rect x="663.1" y="277.01" width="13.3" height="107.79" fill="#c7ff00"/>
<rect x="663.1" y="279.41" width="13.3" height="105.39" fill="#b7ff00"/>
<rect x="663.1" y="281.80" width="13.3" height="103.00" fill="#a7ff00"/>
<rect x="663.1" y="284.20" width="13.3" height="100.60" fill="#97ff00"/>
<rect x="663.1" y="286.59" width="13.3" height="98.21" fill="#00ff00"/>
<rect x="663.1" y="288.99" width="13.3" height="95.81" fill="#00ff00"/>
<rect x="663.1" y="291.38" width="13.3" height="93.42" fill="#00ff00"/>
<rect x="663.1" y="293.78" width="13.3" height="91.02" fill="#00ff00"/>
<rect x="663.1" y="296.17" width="13.3" height="88.63" fill="#00ff00"/>
<rect x="663.1" y="298.57" width="13.3" height="86.23" fill="#00ff00"/>
<rect x="663.1" y="300.96" width="13.3" height="83.84" fill="#00ff00"/>
<rect x="663.1" y="303.36" width="13.3" height="81.44" fill="#00ff00"/>
<rect x="663.1" y="305.75" width="13.3" height="79.05" fill="#00ff00"/>
<rect x="663.1" y="308.15" width="13.3" height="76.65" fill="#00ff08"/>
<rect x="663.1" y="310.55" width="13.3" height="74.25" fill="#00ff18"/>
<rect x="663.1" y="312.94" width="13.3" height="71.86" fill="#00ff28"/>
<rect x="663.1" y="315.34" width="13.3" height="69.46" fill="#00ff38"/>
<rect x="663.1" y="317.73" width="13.3" height="67.07" fill="#00ff48"/>
<rect x="663.1" y="320.13" width="13.3" height="64.67" fill="#00ff58"/>
<rect x="663.1" y="322.52" width="13.3" height="62.28" fill="#00ff68"/>
<rect x="663.1" y="324.92" width="13.3" height="59.88" fill="#00ff78"/>
<rect x="663.1" y="327.31" width="13.3" height="57.49" fill="#00ff87"/>
<rect x="663.1" y="329.71" width="13.3" height="55.09" fill="#00ff97"/>
<rect x="663.1" y="332.10" width="13.3" height="52.70" fill="#00ffa7"/>
<rect x="663.1" y="334.50" width="13.3" height="50.30" fill="#00ffb7"/>
<rect x="663.1" y="336.89" width="13.3" height="47.91" fill="#00ffc7"/>
<rect x="663.1" y="339.29" width="13.3" height="45.51" fill="#00ffd7"/>
<rect x="663.1" y="341.68" width="13.3" height="43.12" fill="#00ffe7"/>
<rect x="663.1" y="344.08" width="13.3" height="40.72" fill="#00fff7"/>
<rect x="663.1" y="346.48" width="13.3" height="38.32" fill="#00f7ff"/>
<rect x="663.1" y="348.87" width="13.3" height="35.93" fill="#00e7ff"/>
<rect x="663.1" y="351.27" width="13.3" height="33.53" fill="#00d7ff"/>
<rect x="663.1" y="353.66" width="13.3" height="31.14" fill="#00c7ff"/>
<rect x="663.1" y="356.06" width="13.3" height="28.74" fill="#00b7ff"/>
<rect x="663.1" y="358.45" width="13.3" height="26.35" fill="#00a7ff"/>
<rect x="663.1" y="360.85" width="13.3" height="23.95" fill="#0097ff"/>
<rect x="663.1" y="363.24" width="13.3" height="21.56" fill="#0087ff"/>
<rect x="663.1" y="365.64" width="13.3" height="19.16" fill="#0078ff"/>
<rect x="663.1" y="368.03" width="13.3" height="16.77" fill="#0068ff"/>
<rect x="663.1" y="370.43" width="13.3" height="14.37" fill="#0058ff"/>
<rect x="663.1" y="372.82" width="13.3" height="11.98" fill="#0048ff"/>
<rect x="663.1" y="375.22" width="13.3" height="9.58" fill="#0038ff"/>
<rect x="663.1" y="377.61" width="13.3" height="7.19" fill="#0028ff"/>
<rect x="663.1" y="380.01" width="13.3" height="4.79" fill="#0018ff"/>
<rect x="663.1" y="382.40" width="13.3" height="2.40" fill="#0008ff"/>
<text class="t" x="679.8" y="233.90" font-size="7.7">0.<tspan dx="1.9">833148</tspan></text>
<path d="M676.4,250.40h-3.2" stroke="#111" stroke-width="0.8"/>
<text class="t" x="679.8" y="253.20" font-size="7.7">0.<tspan dx="1.9">833142</tspan></text>
<path d="M676.4,269.70h-3.2" stroke="#111" stroke-width="0.8"/>
<text class="t" x="679.8" y="272.50" font-size="7.7">0.<tspan dx="1.9">833136</tspan></text>
<path d="M676.4,289.00h-3.2" stroke="#111" stroke-width="0.8"/>
<text class="t" x="679.8" y="291.80" font-size="7.7">0.<tspan dx="1.9">833130</tspan></text>
<path d="M676.4,308.30h-3.2" stroke="#111" stroke-width="0.8"/>
<text class="t" x="679.8" y="311.10" font-size="7.7">0.<tspan dx="1.9">833124</tspan></text>
<path d="M676.4,327.60h-3.2" stroke="#111" stroke-width="0.8"/>
<text class="t" x="679.8" y="330.40" font-size="7.7">0.<tspan dx="1.9">833118</tspan></text>
<path d="M676.4,346.90h-3.2" stroke="#111" stroke-width="0.8"/>
<text class="t" x="679.8" y="349.70" font-size="7.7">0.<tspan dx="1.9">833112</tspan></text>
<path d="M676.4,366.20h-3.2" stroke="#111" stroke-width="0.8"/>
<text class="t" x="679.8" y="369.00" font-size="7.7">0.<tspan dx="1.9">833106</tspan></text>
<text class="t" x="679.8" y="388.30" font-size="7.7">0.<tspan dx="1.9">833100</tspan></text>
<text x="557.9" y="222.5" font-size="9.67">Magnetic charge density grade(Wb/mm<tspan dy="-4.1" font-size="6.58">2</tspan><tspan dy="4.1">)</tspan></text>
<text x="545.1" y="413.6" font-size="9.61">Defect width D<tspan dy="2" font-size="6.24">y</tspan><tspan dy="-2">(mm)</tspan></text>
<text transform="translate(485.1,307.4) rotate(-90)" font-size="10" text-anchor="middle">Defect depth D<tspan dy="2" font-size="6.4">z</tspan><tspan dy="-2">(mm)</tspan></text>
<text x="543.9" y="432" font-size="14.8">(f)50Mpa</text>
</svg></body></html>
